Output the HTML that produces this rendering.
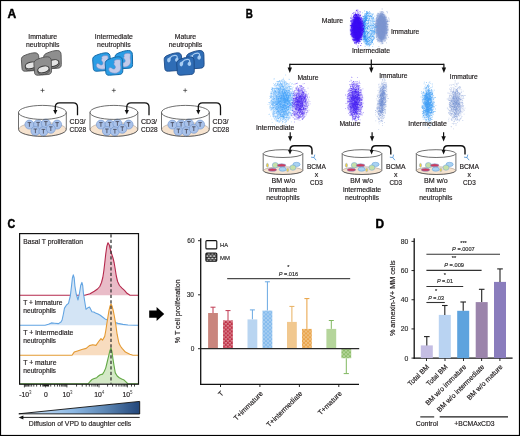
<!DOCTYPE html><html><head><meta charset="utf-8"><title>Figure</title><style>html,body{margin:0;padding:0;background:#fff;width:520px;height:436px;overflow:hidden}svg{display:block;will-change:transform}text{font-family:"Liberation Sans",sans-serif}</style></head><body><svg width="520" height="436" viewBox="0 0 520 436" font-family='"Liberation Sans", sans-serif' stroke-width="0.18"><defs><filter id="bl2" x="-50%" y="-50%" width="200%" height="200%"><feGaussianBlur stdDeviation="1.0"/></filter><filter id="bl3" x="-50%" y="-50%" width="200%" height="200%"><feGaussianBlur stdDeviation="2.5"/></filter><linearGradient id="wg" x1="0" y1="0" x2="1" y2="0"><stop offset="0" stop-color="#ffffff"/><stop offset="0.1" stop-color="#c6ddf4"/><stop offset="0.45" stop-color="#8cb8e4"/><stop offset="0.72" stop-color="#5b85b3"/><stop offset="1" stop-color="#22467a"/></linearGradient><pattern id="pr" width="4.0" height="3.8" patternUnits="userSpaceOnUse" x="0" y="0"><rect width="4.0" height="3.8" fill="#b81d37"/><rect x="0.55" y="0.3" width="2.7" height="1.1" fill="#eab0b4"/><rect x="2.55" y="2.1999999999999997" width="2.7" height="1.1" fill="#eab0b4"/><rect x="-1.45" y="2.1999999999999997" width="2.7" height="1.1" fill="#eab0b4"/></pattern><pattern id="pb" width="4.0" height="3.8" patternUnits="userSpaceOnUse" x="0" y="0"><rect width="4.0" height="3.8" fill="#6caeea"/><rect x="0.55" y="0.3" width="2.9" height="1.25" fill="#c4def6"/><rect x="2.55" y="2.1999999999999997" width="2.9" height="1.25" fill="#c4def6"/><rect x="-1.45" y="2.1999999999999997" width="2.9" height="1.25" fill="#c4def6"/></pattern><pattern id="po" width="4.0" height="3.8" patternUnits="userSpaceOnUse" x="0" y="0"><rect width="4.0" height="3.8" fill="#e3902a"/><rect x="0.55" y="0.3" width="2.9" height="1.25" fill="#f8d8a6"/><rect x="2.55" y="2.1999999999999997" width="2.9" height="1.25" fill="#f8d8a6"/><rect x="-1.45" y="2.1999999999999997" width="2.9" height="1.25" fill="#f8d8a6"/></pattern><pattern id="pg" width="4.0" height="3.8" patternUnits="userSpaceOnUse" x="0" y="0"><rect width="4.0" height="3.8" fill="#72ac48"/><rect x="0.55" y="0.3" width="2.9" height="1.25" fill="#d4eac2"/><rect x="2.55" y="2.1999999999999997" width="2.9" height="1.25" fill="#d4eac2"/><rect x="-1.45" y="2.1999999999999997" width="2.9" height="1.25" fill="#d4eac2"/></pattern><pattern id="pk" width="3.6" height="4.4" patternUnits="userSpaceOnUse" x="0" y="0"><rect width="3.6" height="4.4" fill="#1a1a1a"/><rect x="0.55" y="0.3" width="2.5" height="1.2" fill="#ffffff"/><rect x="2.35" y="2.5" width="2.5" height="1.2" fill="#ffffff"/><rect x="-1.25" y="2.5" width="2.5" height="1.2" fill="#ffffff"/></pattern></defs><rect width="520" height="436" fill="#fff"/><rect x="0.5" y="0.5" width="519" height="435" fill="none" stroke="#000" stroke-width="1.2"/>
<text x="7.50" y="18.00" font-size="12.4" fill="#000" stroke="#000" stroke-width="0.45" text-anchor="start" font-weight="bold" textLength="8.70" lengthAdjust="spacingAndGlyphs">A</text>
<text x="245.80" y="17.90" font-size="12.4" fill="#000" stroke="#000" stroke-width="0.45" text-anchor="start" font-weight="bold" textLength="7.10" lengthAdjust="spacingAndGlyphs">B</text>
<text x="7.50" y="227.90" font-size="12.4" fill="#000" stroke="#000" stroke-width="0.45" text-anchor="start" font-weight="bold" textLength="7.70" lengthAdjust="spacingAndGlyphs">C</text>
<text x="375.50" y="227.90" font-size="12.4" fill="#000" stroke="#000" stroke-width="0.45" text-anchor="start" font-weight="bold" textLength="8.60" lengthAdjust="spacingAndGlyphs">D</text>
<text x="28.30" y="38.70" font-size="7" fill="#231f20" stroke="#231f20" stroke-width="0.18" text-anchor="start" textLength="28.80" lengthAdjust="spacingAndGlyphs">Immature</text>
<text x="26.00" y="46.80" font-size="7" fill="#231f20" stroke="#231f20" stroke-width="0.18" text-anchor="start" textLength="33.40" lengthAdjust="spacingAndGlyphs">neutrophils</text>
<text x="94.80" y="38.60" font-size="7" fill="#231f20" stroke="#231f20" stroke-width="0.18" text-anchor="start" textLength="38.10" lengthAdjust="spacingAndGlyphs">Intermediate</text>
<text x="97.10" y="46.80" font-size="7" fill="#231f20" stroke="#231f20" stroke-width="0.18" text-anchor="start" textLength="33.50" lengthAdjust="spacingAndGlyphs">neutrophils</text>
<text x="174.80" y="38.60" font-size="7" fill="#231f20" stroke="#231f20" stroke-width="0.18" text-anchor="start" textLength="21.20" lengthAdjust="spacingAndGlyphs">Mature</text>
<text x="168.80" y="46.80" font-size="7" fill="#231f20" stroke="#231f20" stroke-width="0.18" text-anchor="start" textLength="33.50" lengthAdjust="spacingAndGlyphs">neutrophils</text>
<g transform="translate(21.00,52.60)"><path d="M0.4,7.2 C0.2,4.8 1.6,3.6 4.4,2.5 C7.6,1.2 11.0,0.2 14.0,0.2 C16.6,0.3 17.7,1.8 17.8,4.4 L18.0,14.2 C18.0,16.7 16.8,17.7 14.4,17.9 L4.7,18.6 C2.1,18.8 1.1,17.8 1.0,15.6 Z" fill="#8e8e8e" stroke="#505050" stroke-width="0.9"/><ellipse cx="10.3" cy="14.5" rx="5.9" ry="3.3" transform="rotate(-14 10.3 14.5)" fill="#858585" stroke="#4a4a4a" stroke-width="0.8"/><ellipse cx="9.9" cy="12.8" rx="5.8" ry="3.2" transform="rotate(-14 9.9 12.8)" fill="#e4e4e4" stroke="#3a3a3a" stroke-width="1.0"/></g>
<g transform="translate(43.30,50.30)"><path d="M0.4,7.2 C0.2,4.8 1.6,3.6 4.4,2.5 C7.6,1.2 11.0,0.2 14.0,0.2 C16.6,0.3 17.7,1.8 17.8,4.4 L18.0,14.2 C18.0,16.7 16.8,17.7 14.4,17.9 L4.7,18.6 C2.1,18.8 1.1,17.8 1.0,15.6 Z" fill="#8e8e8e" stroke="#505050" stroke-width="0.9"/><ellipse cx="10.3" cy="14.5" rx="5.9" ry="3.3" transform="rotate(-14 10.3 14.5)" fill="#858585" stroke="#4a4a4a" stroke-width="0.8"/><ellipse cx="9.9" cy="12.8" rx="5.8" ry="3.2" transform="rotate(-14 9.9 12.8)" fill="#e4e4e4" stroke="#3a3a3a" stroke-width="1.0"/></g>
<g transform="translate(33.50,56.60)"><path d="M0.4,7.2 C0.2,4.8 1.6,3.6 4.4,2.5 C7.6,1.2 11.0,0.2 14.0,0.2 C16.6,0.3 17.7,1.8 17.8,4.4 L18.0,14.2 C18.0,16.7 16.8,17.7 14.4,17.9 L4.7,18.6 C2.1,18.8 1.1,17.8 1.0,15.6 Z" fill="#8e8e8e" stroke="#505050" stroke-width="0.9"/><ellipse cx="10.3" cy="14.5" rx="5.9" ry="3.3" transform="rotate(-14 10.3 14.5)" fill="#858585" stroke="#4a4a4a" stroke-width="0.8"/><ellipse cx="9.9" cy="12.8" rx="5.8" ry="3.2" transform="rotate(-14 9.9 12.8)" fill="#e4e4e4" stroke="#3a3a3a" stroke-width="1.0"/></g>
<g transform="translate(92.30,52.60)"><path d="M0.4,7.2 C0.2,4.8 1.6,3.6 4.4,2.5 C7.6,1.2 11.0,0.2 14.0,0.2 C16.6,0.3 17.7,1.8 17.8,4.4 L18.0,14.2 C18.0,16.7 16.8,17.7 14.4,17.9 L4.7,18.6 C2.1,18.8 1.1,17.8 1.0,15.6 Z" fill="#2a9de5" stroke="#176aa8" stroke-width="1.0"/><path d="M9.6,4.2 C10.2,3.2 12.4,2.8 14.4,3.0 C15.6,3.2 16.0,4.2 15.8,5.4 C15.6,6.8 15.4,7.8 15.9,9.6 C16.6,12.2 15.2,15.4 12.0,16.4 C9.2,17.2 5.8,16.2 4.4,14.4 C3.6,13.2 3.8,11.4 5.0,10.9 C6.2,10.5 7.0,11.6 8.0,12.2 C9.0,12.8 10.4,12.2 10.6,10.8 C10.8,9.6 9.6,8.8 9.0,7.6 C8.8,7.0 9.6,6.6 9.6,6.0 C9.6,5.4 9.0,5.0 9.6,4.2 Z" fill="#c2cbea" stroke="#6a84c2" stroke-width="0.55"/></g>
<g transform="translate(114.60,50.30)"><path d="M0.4,7.2 C0.2,4.8 1.6,3.6 4.4,2.5 C7.6,1.2 11.0,0.2 14.0,0.2 C16.6,0.3 17.7,1.8 17.8,4.4 L18.0,14.2 C18.0,16.7 16.8,17.7 14.4,17.9 L4.7,18.6 C2.1,18.8 1.1,17.8 1.0,15.6 Z" fill="#2a9de5" stroke="#176aa8" stroke-width="1.0"/><path d="M9.6,4.2 C10.2,3.2 12.4,2.8 14.4,3.0 C15.6,3.2 16.0,4.2 15.8,5.4 C15.6,6.8 15.4,7.8 15.9,9.6 C16.6,12.2 15.2,15.4 12.0,16.4 C9.2,17.2 5.8,16.2 4.4,14.4 C3.6,13.2 3.8,11.4 5.0,10.9 C6.2,10.5 7.0,11.6 8.0,12.2 C9.0,12.8 10.4,12.2 10.6,10.8 C10.8,9.6 9.6,8.8 9.0,7.6 C8.8,7.0 9.6,6.6 9.6,6.0 C9.6,5.4 9.0,5.0 9.6,4.2 Z" fill="#c2cbea" stroke="#6a84c2" stroke-width="0.55"/></g>
<g transform="translate(104.80,56.60)"><path d="M0.4,7.2 C0.2,4.8 1.6,3.6 4.4,2.5 C7.6,1.2 11.0,0.2 14.0,0.2 C16.6,0.3 17.7,1.8 17.8,4.4 L18.0,14.2 C18.0,16.7 16.8,17.7 14.4,17.9 L4.7,18.6 C2.1,18.8 1.1,17.8 1.0,15.6 Z" fill="#2a9de5" stroke="#176aa8" stroke-width="1.0"/><path d="M9.6,4.2 C10.2,3.2 12.4,2.8 14.4,3.0 C15.6,3.2 16.0,4.2 15.8,5.4 C15.6,6.8 15.4,7.8 15.9,9.6 C16.6,12.2 15.2,15.4 12.0,16.4 C9.2,17.2 5.8,16.2 4.4,14.4 C3.6,13.2 3.8,11.4 5.0,10.9 C6.2,10.5 7.0,11.6 8.0,12.2 C9.0,12.8 10.4,12.2 10.6,10.8 C10.8,9.6 9.6,8.8 9.0,7.6 C8.8,7.0 9.6,6.6 9.6,6.0 C9.6,5.4 9.0,5.0 9.6,4.2 Z" fill="#c2cbea" stroke="#6a84c2" stroke-width="0.55"/></g>
<g transform="translate(163.80,52.60)"><path d="M0.4,7.2 C0.2,4.8 1.6,3.6 4.4,2.5 C7.6,1.2 11.0,0.2 14.0,0.2 C16.6,0.3 17.7,1.8 17.8,4.4 L18.0,14.2 C18.0,16.7 16.8,17.7 14.4,17.9 L4.7,18.6 C2.1,18.8 1.1,17.8 1.0,15.6 Z" fill="#2f6db6" stroke="#1b4884" stroke-width="0.9"/><path d="M6.2,5.2 C7.4,3.6 9.3,2.8 11.2,2.8 C12.6,2.8 13.6,3.4 13.4,5.0" fill="none" stroke="#a9cdf2" stroke-width="1.15" stroke-linecap="round"/><path d="M6.7,4.6 C7.3,6.6 6.8,9.4 5.0,10.0 C3.2,9.4 3.0,7.2 3.7,5.8 C4.6,5.1 5.7,4.8 6.7,4.6 Z" fill="#a9cdf2"/><path d="M13.5,4.8 C15.3,5.8 15.4,8.6 13.2,9.4 C11.0,9.0 10.7,6.8 12.0,5.6 C12.5,5.2 13.0,5.0 13.5,4.8 Z" fill="#a9cdf2"/></g>
<g transform="translate(186.10,50.30)"><path d="M0.4,7.2 C0.2,4.8 1.6,3.6 4.4,2.5 C7.6,1.2 11.0,0.2 14.0,0.2 C16.6,0.3 17.7,1.8 17.8,4.4 L18.0,14.2 C18.0,16.7 16.8,17.7 14.4,17.9 L4.7,18.6 C2.1,18.8 1.1,17.8 1.0,15.6 Z" fill="#2f6db6" stroke="#1b4884" stroke-width="0.9"/><path d="M6.2,5.2 C7.4,3.6 9.3,2.8 11.2,2.8 C12.6,2.8 13.6,3.4 13.4,5.0" fill="none" stroke="#a9cdf2" stroke-width="1.15" stroke-linecap="round"/><path d="M6.7,4.6 C7.3,6.6 6.8,9.4 5.0,10.0 C3.2,9.4 3.0,7.2 3.7,5.8 C4.6,5.1 5.7,4.8 6.7,4.6 Z" fill="#a9cdf2"/><path d="M13.5,4.8 C15.3,5.8 15.4,8.6 13.2,9.4 C11.0,9.0 10.7,6.8 12.0,5.6 C12.5,5.2 13.0,5.0 13.5,4.8 Z" fill="#a9cdf2"/></g>
<g transform="translate(176.30,56.60)"><path d="M0.4,7.2 C0.2,4.8 1.6,3.6 4.4,2.5 C7.6,1.2 11.0,0.2 14.0,0.2 C16.6,0.3 17.7,1.8 17.8,4.4 L18.0,14.2 C18.0,16.7 16.8,17.7 14.4,17.9 L4.7,18.6 C2.1,18.8 1.1,17.8 1.0,15.6 Z" fill="#2f6db6" stroke="#1b4884" stroke-width="0.9"/><path d="M6.2,5.2 C7.4,3.6 9.3,2.8 11.2,2.8 C12.6,2.8 13.6,3.4 13.4,5.0" fill="none" stroke="#a9cdf2" stroke-width="1.15" stroke-linecap="round"/><path d="M6.7,4.6 C7.3,6.6 6.8,9.4 5.0,10.0 C3.2,9.4 3.0,7.2 3.7,5.8 C4.6,5.1 5.7,4.8 6.7,4.6 Z" fill="#a9cdf2"/><path d="M13.5,4.8 C15.3,5.8 15.4,8.6 13.2,9.4 C11.0,9.0 10.7,6.8 12.0,5.6 C12.5,5.2 13.0,5.0 13.5,4.8 Z" fill="#a9cdf2"/></g>
<line x1="40.50" y1="90.40" x2="44.50" y2="90.40" stroke="#333" stroke-width="0.7"/>
<line x1="42.50" y1="88.40" x2="42.50" y2="92.40" stroke="#333" stroke-width="0.7"/>
<line x1="111.80" y1="90.40" x2="115.80" y2="90.40" stroke="#333" stroke-width="0.7"/>
<line x1="113.80" y1="88.40" x2="113.80" y2="92.40" stroke="#333" stroke-width="0.7"/>
<line x1="183.20" y1="90.40" x2="187.20" y2="90.40" stroke="#333" stroke-width="0.7"/>
<line x1="185.20" y1="88.40" x2="185.20" y2="92.40" stroke="#333" stroke-width="0.7"/>
<ellipse cx="42.40" cy="129.4" rx="23.599999999999998" ry="7.0" fill="#f6e3cf" stroke="#9a8f86" stroke-width="0.5"/>
<circle cx="29.40" cy="124.6" r="4.5" fill="#a9c2ea" stroke="#6f93cc" stroke-width="0.6"/>
<path d="M27.60,122.6 h3.6 M29.40,122.6 v4.2" stroke="#3c3c4c" stroke-width="0.75" fill="none"/>
<circle cx="38.10" cy="124.4" r="4.5" fill="#a9c2ea" stroke="#6f93cc" stroke-width="0.6"/>
<path d="M36.30,122.4 h3.6 M38.10,122.4 v4.2" stroke="#3c3c4c" stroke-width="0.75" fill="none"/>
<circle cx="45.90" cy="123.6" r="4.5" fill="#a9c2ea" stroke="#6f93cc" stroke-width="0.6"/>
<path d="M44.10,121.6 h3.6 M45.90,121.6 v4.2" stroke="#3c3c4c" stroke-width="0.75" fill="none"/>
<circle cx="57.10" cy="124.6" r="4.5" fill="#a9c2ea" stroke="#6f93cc" stroke-width="0.6"/>
<path d="M55.30,122.6 h3.6 M57.10,122.6 v4.2" stroke="#3c3c4c" stroke-width="0.75" fill="none"/>
<circle cx="35.40" cy="131.0" r="4.5" fill="#a9c2ea" stroke="#6f93cc" stroke-width="0.6"/>
<path d="M33.60,129.0 h3.6 M35.40,129.0 v4.2" stroke="#3c3c4c" stroke-width="0.75" fill="none"/>
<circle cx="43.40" cy="131.4" r="4.5" fill="#a9c2ea" stroke="#6f93cc" stroke-width="0.6"/>
<path d="M41.60,129.4 h3.6 M43.40,129.4 v4.2" stroke="#3c3c4c" stroke-width="0.75" fill="none"/>
<circle cx="50.80" cy="128.8" r="4.5" fill="#a9c2ea" stroke="#6f93cc" stroke-width="0.6"/>
<path d="M49.00,126.80000000000001 h3.6 M50.80,126.80000000000001 v4.2" stroke="#3c3c4c" stroke-width="0.75" fill="none"/>
<path d="M18.50,112.4 L18.50,129.4 A23.9,7.0 0 0 0 66.30,129.4 L66.30,112.4" fill="none" stroke="#4a4a4a" stroke-width="0.8"/>
<ellipse cx="42.40" cy="112.4" rx="23.9" ry="7.0" fill="none" stroke="#4a4a4a" stroke-width="0.8"/>
<path d="M77.50,115.2 L77.50,107.10000000000001 Q77.50,102.9 73.30,102.9 L59.50,102.9 Q55.30,102.9 55.30,107.10000000000001 L55.30,110.5" fill="none" stroke="#111" stroke-width="1.3"/>
<path d="M53.20,110.0 L57.40,110.0 L55.30,114.6 Z" fill="#111"/>
<text x="69.50" y="123.70" font-size="7" fill="#231f20" stroke="#231f20" stroke-width="0.18" text-anchor="start" textLength="16.00" lengthAdjust="spacingAndGlyphs">CD3/</text>
<text x="69.50" y="131.90" font-size="7" fill="#231f20" stroke="#231f20" stroke-width="0.18" text-anchor="start" textLength="16.60" lengthAdjust="spacingAndGlyphs">CD28</text>
<ellipse cx="113.90" cy="129.4" rx="23.599999999999998" ry="7.0" fill="#f6e3cf" stroke="#9a8f86" stroke-width="0.5"/>
<circle cx="100.90" cy="124.6" r="4.5" fill="#a9c2ea" stroke="#6f93cc" stroke-width="0.6"/>
<path d="M99.10,122.6 h3.6 M100.90,122.6 v4.2" stroke="#3c3c4c" stroke-width="0.75" fill="none"/>
<circle cx="109.60" cy="124.4" r="4.5" fill="#a9c2ea" stroke="#6f93cc" stroke-width="0.6"/>
<path d="M107.80,122.4 h3.6 M109.60,122.4 v4.2" stroke="#3c3c4c" stroke-width="0.75" fill="none"/>
<circle cx="117.40" cy="123.6" r="4.5" fill="#a9c2ea" stroke="#6f93cc" stroke-width="0.6"/>
<path d="M115.60,121.6 h3.6 M117.40,121.6 v4.2" stroke="#3c3c4c" stroke-width="0.75" fill="none"/>
<circle cx="128.60" cy="124.6" r="4.5" fill="#a9c2ea" stroke="#6f93cc" stroke-width="0.6"/>
<path d="M126.80,122.6 h3.6 M128.60,122.6 v4.2" stroke="#3c3c4c" stroke-width="0.75" fill="none"/>
<circle cx="106.90" cy="131.0" r="4.5" fill="#a9c2ea" stroke="#6f93cc" stroke-width="0.6"/>
<path d="M105.10,129.0 h3.6 M106.90,129.0 v4.2" stroke="#3c3c4c" stroke-width="0.75" fill="none"/>
<circle cx="114.90" cy="131.4" r="4.5" fill="#a9c2ea" stroke="#6f93cc" stroke-width="0.6"/>
<path d="M113.10,129.4 h3.6 M114.90,129.4 v4.2" stroke="#3c3c4c" stroke-width="0.75" fill="none"/>
<circle cx="122.30" cy="128.8" r="4.5" fill="#a9c2ea" stroke="#6f93cc" stroke-width="0.6"/>
<path d="M120.50,126.80000000000001 h3.6 M122.30,126.80000000000001 v4.2" stroke="#3c3c4c" stroke-width="0.75" fill="none"/>
<path d="M90.00,112.4 L90.00,129.4 A23.9,7.0 0 0 0 137.80,129.4 L137.80,112.4" fill="none" stroke="#4a4a4a" stroke-width="0.8"/>
<ellipse cx="113.90" cy="112.4" rx="23.9" ry="7.0" fill="none" stroke="#4a4a4a" stroke-width="0.8"/>
<path d="M149.00,115.2 L149.00,107.10000000000001 Q149.00,102.9 144.80,102.9 L131.00,102.9 Q126.80,102.9 126.80,107.10000000000001 L126.80,110.5" fill="none" stroke="#111" stroke-width="1.3"/>
<path d="M124.70,110.0 L128.90,110.0 L126.80,114.6 Z" fill="#111"/>
<text x="141.00" y="123.70" font-size="7" fill="#231f20" stroke="#231f20" stroke-width="0.18" text-anchor="start" textLength="16.00" lengthAdjust="spacingAndGlyphs">CD3/</text>
<text x="141.00" y="131.90" font-size="7" fill="#231f20" stroke="#231f20" stroke-width="0.18" text-anchor="start" textLength="16.60" lengthAdjust="spacingAndGlyphs">CD28</text>
<ellipse cx="185.40" cy="129.4" rx="23.599999999999998" ry="7.0" fill="#f6e3cf" stroke="#9a8f86" stroke-width="0.5"/>
<circle cx="172.40" cy="124.6" r="4.5" fill="#a9c2ea" stroke="#6f93cc" stroke-width="0.6"/>
<path d="M170.60,122.6 h3.6 M172.40,122.6 v4.2" stroke="#3c3c4c" stroke-width="0.75" fill="none"/>
<circle cx="181.10" cy="124.4" r="4.5" fill="#a9c2ea" stroke="#6f93cc" stroke-width="0.6"/>
<path d="M179.30,122.4 h3.6 M181.10,122.4 v4.2" stroke="#3c3c4c" stroke-width="0.75" fill="none"/>
<circle cx="188.90" cy="123.6" r="4.5" fill="#a9c2ea" stroke="#6f93cc" stroke-width="0.6"/>
<path d="M187.10,121.6 h3.6 M188.90,121.6 v4.2" stroke="#3c3c4c" stroke-width="0.75" fill="none"/>
<circle cx="200.10" cy="124.6" r="4.5" fill="#a9c2ea" stroke="#6f93cc" stroke-width="0.6"/>
<path d="M198.30,122.6 h3.6 M200.10,122.6 v4.2" stroke="#3c3c4c" stroke-width="0.75" fill="none"/>
<circle cx="178.40" cy="131.0" r="4.5" fill="#a9c2ea" stroke="#6f93cc" stroke-width="0.6"/>
<path d="M176.60,129.0 h3.6 M178.40,129.0 v4.2" stroke="#3c3c4c" stroke-width="0.75" fill="none"/>
<circle cx="186.40" cy="131.4" r="4.5" fill="#a9c2ea" stroke="#6f93cc" stroke-width="0.6"/>
<path d="M184.60,129.4 h3.6 M186.40,129.4 v4.2" stroke="#3c3c4c" stroke-width="0.75" fill="none"/>
<circle cx="193.80" cy="128.8" r="4.5" fill="#a9c2ea" stroke="#6f93cc" stroke-width="0.6"/>
<path d="M192.00,126.80000000000001 h3.6 M193.80,126.80000000000001 v4.2" stroke="#3c3c4c" stroke-width="0.75" fill="none"/>
<path d="M161.50,112.4 L161.50,129.4 A23.9,7.0 0 0 0 209.30,129.4 L209.30,112.4" fill="none" stroke="#4a4a4a" stroke-width="0.8"/>
<ellipse cx="185.40" cy="112.4" rx="23.9" ry="7.0" fill="none" stroke="#4a4a4a" stroke-width="0.8"/>
<path d="M220.50,115.2 L220.50,107.10000000000001 Q220.50,102.9 216.30,102.9 L202.50,102.9 Q198.30,102.9 198.30,107.10000000000001 L198.30,110.5" fill="none" stroke="#111" stroke-width="1.3"/>
<path d="M196.20,110.0 L200.40,110.0 L198.30,114.6 Z" fill="#111"/>
<text x="212.50" y="123.70" font-size="7" fill="#231f20" stroke="#231f20" stroke-width="0.18" text-anchor="start" textLength="16.00" lengthAdjust="spacingAndGlyphs">CD3/</text>
<text x="212.50" y="131.90" font-size="7" fill="#231f20" stroke="#231f20" stroke-width="0.18" text-anchor="start" textLength="16.60" lengthAdjust="spacingAndGlyphs">CD28</text>
<ellipse cx="381.5" cy="27.5" rx="5.95" ry="14.19" fill="#7d96d0" opacity="1.0" filter="url(#bl2)" transform="rotate(0.0 381.5 27.5)"/>
<path d="M381.1 29.8h0.9v0.9h-0.9zM375.9 22.9h0.9v0.9h-0.9zM378.8 26.0h0.9v0.9h-0.9zM386.6 20.9h0.9v0.9h-0.9zM379.8 23.7h0.9v0.9h-0.9zM379.7 36.6h0.9v0.9h-0.9zM377.1 26.3h0.9v0.9h-0.9zM380.8 24.6h0.9v0.9h-0.9zM378.9 27.1h0.9v0.9h-0.9zM379.0 25.8h0.9v0.9h-0.9zM382.5 21.9h0.9v0.9h-0.9zM384.2 17.8h0.9v0.9h-0.9zM377.2 21.1h0.9v0.9h-0.9zM379.9 37.5h0.9v0.9h-0.9zM378.4 37.0h0.9v0.9h-0.9zM381.0 40.9h0.9v0.9h-0.9zM378.6 41.6h0.9v0.9h-0.9zM378.1 32.3h0.9v0.9h-0.9zM382.0 32.1h0.9v0.9h-0.9zM381.8 26.3h0.9v0.9h-0.9zM380.4 16.6h0.9v0.9h-0.9zM381.7 30.6h0.9v0.9h-0.9zM381.7 11.9h0.9v0.9h-0.9zM380.9 35.1h0.9v0.9h-0.9zM380.9 17.2h0.9v0.9h-0.9zM377.9 20.5h0.9v0.9h-0.9zM383.1 17.3h0.9v0.9h-0.9zM380.9 38.8h0.9v0.9h-0.9zM382.0 27.0h0.9v0.9h-0.9zM382.0 28.3h0.9v0.9h-0.9zM383.1 37.7h0.9v0.9h-0.9zM378.4 30.9h0.9v0.9h-0.9zM380.8 29.8h0.9v0.9h-0.9zM379.0 26.7h0.9v0.9h-0.9zM385.0 31.5h0.9v0.9h-0.9zM384.6 21.3h0.9v0.9h-0.9zM383.4 24.0h0.9v0.9h-0.9zM385.7 31.5h0.9v0.9h-0.9zM382.0 37.1h0.9v0.9h-0.9zM378.4 40.1h0.9v0.9h-0.9zM382.1 28.2h0.9v0.9h-0.9zM378.6 30.4h0.9v0.9h-0.9zM385.8 30.9h0.9v0.9h-0.9zM383.2 20.5h0.9v0.9h-0.9zM384.1 32.1h0.9v0.9h-0.9zM380.7 30.0h0.9v0.9h-0.9zM377.5 26.0h0.9v0.9h-0.9zM381.8 17.4h0.9v0.9h-0.9zM384.5 33.4h0.9v0.9h-0.9zM385.6 23.2h0.9v0.9h-0.9zM385.7 32.4h0.9v0.9h-0.9zM382.5 18.8h0.9v0.9h-0.9zM381.4 18.9h0.9v0.9h-0.9zM382.5 20.5h0.9v0.9h-0.9zM383.3 24.8h0.9v0.9h-0.9zM378.4 35.1h0.9v0.9h-0.9zM380.2 28.6h0.9v0.9h-0.9zM380.2 22.1h0.9v0.9h-0.9zM384.0 17.2h0.9v0.9h-0.9zM386.0 28.3h0.9v0.9h-0.9zM383.1 27.5h0.9v0.9h-0.9zM378.9 29.1h0.9v0.9h-0.9zM381.0 35.1h0.9v0.9h-0.9zM383.6 38.5h0.9v0.9h-0.9zM384.6 23.8h0.9v0.9h-0.9zM382.0 30.9h0.9v0.9h-0.9zM385.9 30.0h0.9v0.9h-0.9zM381.4 28.6h0.9v0.9h-0.9zM382.0 14.2h0.9v0.9h-0.9zM381.3 20.6h0.9v0.9h-0.9zM383.1 32.3h0.9v0.9h-0.9zM376.4 25.4h0.9v0.9h-0.9zM378.2 29.1h0.9v0.9h-0.9zM380.5 18.4h0.9v0.9h-0.9zM382.9 29.1h0.9v0.9h-0.9zM380.7 36.4h0.9v0.9h-0.9zM382.7 34.0h0.9v0.9h-0.9zM382.7 11.4h0.9v0.9h-0.9zM381.5 41.4h0.9v0.9h-0.9zM378.4 27.3h0.9v0.9h-0.9zM374.5 23.7h0.9v0.9h-0.9zM377.1 16.9h0.9v0.9h-0.9zM384.4 19.4h0.9v0.9h-0.9zM383.4 13.9h0.9v0.9h-0.9zM377.8 26.5h0.9v0.9h-0.9zM376.6 14.6h0.9v0.9h-0.9zM381.6 38.2h0.9v0.9h-0.9zM383.6 21.0h0.9v0.9h-0.9zM376.1 25.3h0.9v0.9h-0.9zM380.9 18.0h0.9v0.9h-0.9zM377.4 40.8h0.9v0.9h-0.9zM381.6 31.4h0.9v0.9h-0.9zM386.0 42.4h0.9v0.9h-0.9z" fill="#7d96d0" fill-opacity="0.6"/>
<path d="M380.0 19.0h0.9v0.9h-0.9zM376.2 29.5h0.9v0.9h-0.9zM381.5 27.6h0.9v0.9h-0.9zM381.8 22.8h0.9v0.9h-0.9zM380.1 40.9h0.9v0.9h-0.9zM381.0 32.3h0.9v0.9h-0.9zM381.2 17.5h0.9v0.9h-0.9zM380.4 18.2h0.9v0.9h-0.9zM379.6 24.3h0.9v0.9h-0.9zM376.8 16.0h0.9v0.9h-0.9zM375.7 35.7h0.9v0.9h-0.9zM381.0 34.7h0.9v0.9h-0.9zM377.2 19.0h0.9v0.9h-0.9zM386.2 27.5h0.9v0.9h-0.9zM376.2 25.8h0.9v0.9h-0.9zM378.9 23.5h0.9v0.9h-0.9zM383.0 27.7h0.9v0.9h-0.9zM386.9 24.2h0.9v0.9h-0.9zM378.8 14.8h0.9v0.9h-0.9zM383.3 27.6h0.9v0.9h-0.9zM381.5 16.6h0.9v0.9h-0.9zM379.6 36.4h0.9v0.9h-0.9zM379.6 36.0h0.9v0.9h-0.9zM375.2 27.1h0.9v0.9h-0.9zM380.7 27.5h0.9v0.9h-0.9zM383.3 20.2h0.9v0.9h-0.9zM385.1 17.3h0.9v0.9h-0.9zM378.1 26.5h0.9v0.9h-0.9zM375.8 27.7h0.9v0.9h-0.9zM380.5 23.1h0.9v0.9h-0.9zM384.9 29.2h0.9v0.9h-0.9zM382.6 28.1h0.9v0.9h-0.9zM374.5 23.7h0.9v0.9h-0.9zM380.4 26.6h0.9v0.9h-0.9zM382.9 22.7h0.9v0.9h-0.9zM379.4 38.0h0.9v0.9h-0.9zM383.0 19.0h0.9v0.9h-0.9zM383.6 22.4h0.9v0.9h-0.9zM376.4 22.5h0.9v0.9h-0.9zM380.8 26.4h0.9v0.9h-0.9zM387.0 20.9h0.9v0.9h-0.9zM382.3 41.5h0.9v0.9h-0.9zM382.6 30.8h0.9v0.9h-0.9zM380.9 35.9h0.9v0.9h-0.9zM380.7 19.0h0.9v0.9h-0.9zM385.7 22.6h0.9v0.9h-0.9zM382.8 33.8h0.9v0.9h-0.9zM383.9 28.1h0.9v0.9h-0.9zM381.6 27.7h0.9v0.9h-0.9zM382.6 33.5h0.9v0.9h-0.9zM384.2 24.2h0.9v0.9h-0.9zM377.5 12.8h0.9v0.9h-0.9zM385.0 23.4h0.9v0.9h-0.9zM378.3 25.1h0.9v0.9h-0.9zM384.3 26.7h0.9v0.9h-0.9zM384.4 23.7h0.9v0.9h-0.9zM382.1 25.1h0.9v0.9h-0.9zM383.9 23.4h0.9v0.9h-0.9zM386.2 27.4h0.9v0.9h-0.9zM382.4 32.6h0.9v0.9h-0.9zM377.1 23.7h0.9v0.9h-0.9zM383.5 35.2h0.9v0.9h-0.9zM384.9 26.3h0.9v0.9h-0.9zM379.7 20.9h0.9v0.9h-0.9zM377.5 40.2h0.9v0.9h-0.9zM378.3 34.2h0.9v0.9h-0.9zM378.7 22.2h0.9v0.9h-0.9zM379.0 26.8h0.9v0.9h-0.9zM381.2 25.1h0.9v0.9h-0.9zM381.8 30.8h0.9v0.9h-0.9zM378.6 32.7h0.9v0.9h-0.9zM381.4 18.1h0.9v0.9h-0.9zM377.6 16.6h0.9v0.9h-0.9zM381.4 31.2h0.9v0.9h-0.9zM385.7 27.8h0.9v0.9h-0.9zM380.9 25.5h0.9v0.9h-0.9zM386.0 21.0h0.9v0.9h-0.9zM382.5 26.0h0.9v0.9h-0.9zM382.3 18.8h0.9v0.9h-0.9zM384.2 22.6h0.9v0.9h-0.9zM380.9 28.0h0.9v0.9h-0.9zM377.7 19.2h0.9v0.9h-0.9zM380.2 37.4h0.9v0.9h-0.9zM380.6 26.4h0.9v0.9h-0.9zM385.6 17.4h0.9v0.9h-0.9zM377.2 26.9h0.9v0.9h-0.9zM385.8 26.1h0.9v0.9h-0.9zM383.7 24.9h0.9v0.9h-0.9zM377.5 40.3h0.9v0.9h-0.9zM378.4 46.2h0.9v0.9h-0.9zM387.9 36.8h0.9v0.9h-0.9zM381.7 11.0h0.9v0.9h-0.9zM378.5 23.3h0.9v0.9h-0.9z" fill="#7d96d0" fill-opacity="0.6"/>
<path d="M379.3 18.1h0.9v0.9h-0.9zM381.7 25.4h0.9v0.9h-0.9zM376.3 27.7h0.9v0.9h-0.9zM381.5 16.3h0.9v0.9h-0.9zM379.4 24.3h0.9v0.9h-0.9zM376.1 30.2h0.9v0.9h-0.9zM382.1 19.3h0.9v0.9h-0.9zM385.3 22.1h0.9v0.9h-0.9zM375.7 19.7h0.9v0.9h-0.9zM386.2 22.4h0.9v0.9h-0.9zM384.8 25.8h0.9v0.9h-0.9zM382.0 27.5h0.9v0.9h-0.9zM381.8 19.9h0.9v0.9h-0.9zM376.5 18.5h0.9v0.9h-0.9zM381.0 15.0h0.9v0.9h-0.9zM384.8 35.4h0.9v0.9h-0.9zM379.7 17.0h0.9v0.9h-0.9zM378.7 28.8h0.9v0.9h-0.9zM381.2 40.5h0.9v0.9h-0.9zM374.6 30.6h0.9v0.9h-0.9zM385.3 36.7h0.9v0.9h-0.9zM381.9 16.0h0.9v0.9h-0.9zM376.2 36.8h0.9v0.9h-0.9zM378.5 18.2h0.9v0.9h-0.9zM384.7 18.8h0.9v0.9h-0.9zM382.7 18.2h0.9v0.9h-0.9zM380.0 13.4h0.9v0.9h-0.9zM378.7 20.3h0.9v0.9h-0.9zM375.9 21.5h0.9v0.9h-0.9zM383.2 11.9h0.9v0.9h-0.9zM382.5 13.5h0.9v0.9h-0.9zM384.9 20.0h0.9v0.9h-0.9zM378.7 19.2h0.9v0.9h-0.9zM381.8 39.2h0.9v0.9h-0.9zM385.0 24.9h0.9v0.9h-0.9zM381.3 29.0h0.9v0.9h-0.9zM379.7 17.8h0.9v0.9h-0.9zM383.2 33.3h0.9v0.9h-0.9zM382.4 13.3h0.9v0.9h-0.9zM379.9 27.9h0.9v0.9h-0.9zM381.4 22.3h0.9v0.9h-0.9zM380.3 13.1h0.9v0.9h-0.9zM375.4 25.6h0.9v0.9h-0.9zM379.3 19.4h0.9v0.9h-0.9zM383.5 21.8h0.9v0.9h-0.9zM374.3 24.5h0.9v0.9h-0.9zM379.4 29.8h0.9v0.9h-0.9zM381.4 41.1h0.9v0.9h-0.9zM385.0 22.9h0.9v0.9h-0.9zM378.6 30.3h0.9v0.9h-0.9zM383.6 34.2h0.9v0.9h-0.9zM380.9 31.6h0.9v0.9h-0.9zM382.8 19.6h0.9v0.9h-0.9zM382.1 14.1h0.9v0.9h-0.9zM379.9 35.0h0.9v0.9h-0.9zM383.9 21.3h0.9v0.9h-0.9zM381.0 20.6h0.9v0.9h-0.9zM379.4 16.1h0.9v0.9h-0.9zM378.2 22.6h0.9v0.9h-0.9zM378.7 17.4h0.9v0.9h-0.9zM381.2 31.6h0.9v0.9h-0.9zM379.1 35.4h0.9v0.9h-0.9zM380.3 19.5h0.9v0.9h-0.9zM379.8 29.6h0.9v0.9h-0.9zM383.6 29.0h0.9v0.9h-0.9zM379.2 18.7h0.9v0.9h-0.9zM383.0 32.3h0.9v0.9h-0.9zM382.0 18.8h0.9v0.9h-0.9zM385.9 32.0h0.9v0.9h-0.9zM378.4 35.3h0.9v0.9h-0.9zM379.8 30.8h0.9v0.9h-0.9zM380.4 26.1h0.9v0.9h-0.9zM378.3 33.4h0.9v0.9h-0.9zM375.6 19.7h0.9v0.9h-0.9zM377.4 31.9h0.9v0.9h-0.9zM377.8 18.8h0.9v0.9h-0.9zM382.7 19.0h0.9v0.9h-0.9zM381.7 40.7h0.9v0.9h-0.9zM380.8 38.5h0.9v0.9h-0.9zM382.5 38.4h0.9v0.9h-0.9zM376.6 33.0h0.9v0.9h-0.9zM382.2 18.8h0.9v0.9h-0.9zM379.1 28.8h0.9v0.9h-0.9zM384.4 23.5h0.9v0.9h-0.9zM386.9 34.7h0.9v0.9h-0.9zM383.3 32.2h0.9v0.9h-0.9zM386.6 28.5h0.9v0.9h-0.9zM384.2 18.6h0.9v0.9h-0.9zM386.9 12.3h0.9v0.9h-0.9zM378.3 30.3h0.9v0.9h-0.9zM378.1 25.5h0.9v0.9h-0.9zM381.6 11.6h0.9v0.9h-0.9zM376.4 20.1h0.9v0.9h-0.9z" fill="#7d96d0" fill-opacity="0.6"/>
<path d="M381.3 39.2h0.9v0.9h-0.9zM380.9 28.1h0.9v0.9h-0.9zM384.4 28.1h0.9v0.9h-0.9zM378.8 25.3h0.9v0.9h-0.9zM382.4 26.0h0.9v0.9h-0.9zM379.9 18.9h0.9v0.9h-0.9zM384.8 28.8h0.9v0.9h-0.9zM380.9 19.9h0.9v0.9h-0.9zM387.4 21.0h0.9v0.9h-0.9zM382.2 26.7h0.9v0.9h-0.9zM383.1 34.1h0.9v0.9h-0.9zM380.1 27.4h0.9v0.9h-0.9zM382.4 30.1h0.9v0.9h-0.9zM385.4 28.5h0.9v0.9h-0.9zM379.3 34.1h0.9v0.9h-0.9zM383.6 28.0h0.9v0.9h-0.9zM380.8 35.0h0.9v0.9h-0.9zM381.0 18.0h0.9v0.9h-0.9zM384.7 18.5h0.9v0.9h-0.9zM384.3 33.5h0.9v0.9h-0.9zM385.2 22.7h0.9v0.9h-0.9zM377.5 34.4h0.9v0.9h-0.9zM382.3 17.6h0.9v0.9h-0.9zM384.3 22.3h0.9v0.9h-0.9zM380.9 11.4h0.9v0.9h-0.9zM382.0 26.8h0.9v0.9h-0.9zM377.3 39.6h0.9v0.9h-0.9zM380.8 17.6h0.9v0.9h-0.9zM381.4 28.4h0.9v0.9h-0.9zM382.8 29.3h0.9v0.9h-0.9zM376.1 21.3h0.9v0.9h-0.9zM380.8 33.7h0.9v0.9h-0.9zM384.5 30.5h0.9v0.9h-0.9zM380.9 40.4h0.9v0.9h-0.9zM385.3 18.8h0.9v0.9h-0.9zM387.0 25.9h0.9v0.9h-0.9zM385.4 26.8h0.9v0.9h-0.9zM380.3 31.0h0.9v0.9h-0.9zM382.2 26.1h0.9v0.9h-0.9zM379.4 26.3h0.9v0.9h-0.9zM378.5 22.2h0.9v0.9h-0.9zM378.1 18.7h0.9v0.9h-0.9zM380.1 28.9h0.9v0.9h-0.9zM384.1 16.6h0.9v0.9h-0.9zM376.5 19.8h0.9v0.9h-0.9zM381.1 28.0h0.9v0.9h-0.9zM380.0 28.1h0.9v0.9h-0.9zM376.0 36.6h0.9v0.9h-0.9zM378.3 25.3h0.9v0.9h-0.9zM380.9 22.2h0.9v0.9h-0.9zM383.9 26.4h0.9v0.9h-0.9zM385.0 25.8h0.9v0.9h-0.9zM382.4 30.6h0.9v0.9h-0.9zM383.6 14.6h0.9v0.9h-0.9zM379.7 19.9h0.9v0.9h-0.9zM385.6 16.6h0.9v0.9h-0.9zM381.6 29.1h0.9v0.9h-0.9zM380.9 18.9h0.9v0.9h-0.9zM378.4 28.5h0.9v0.9h-0.9zM381.3 18.5h0.9v0.9h-0.9zM378.8 24.8h0.9v0.9h-0.9zM385.6 37.4h0.9v0.9h-0.9zM382.6 24.8h0.9v0.9h-0.9zM383.5 37.8h0.9v0.9h-0.9zM384.6 36.7h0.9v0.9h-0.9zM381.7 34.0h0.9v0.9h-0.9zM386.4 30.8h0.9v0.9h-0.9zM381.8 34.7h0.9v0.9h-0.9zM377.3 39.2h0.9v0.9h-0.9zM380.2 24.1h0.9v0.9h-0.9zM380.0 33.9h0.9v0.9h-0.9zM380.9 38.0h0.9v0.9h-0.9zM379.8 34.3h0.9v0.9h-0.9zM377.4 33.8h0.9v0.9h-0.9zM380.8 17.6h0.9v0.9h-0.9zM377.2 23.5h0.9v0.9h-0.9zM378.4 21.3h0.9v0.9h-0.9zM380.3 23.2h0.9v0.9h-0.9zM384.8 27.1h0.9v0.9h-0.9zM383.6 27.2h0.9v0.9h-0.9zM376.2 25.0h0.9v0.9h-0.9zM381.5 30.8h0.9v0.9h-0.9zM377.0 19.5h0.9v0.9h-0.9zM379.4 24.7h0.9v0.9h-0.9zM379.3 34.2h0.9v0.9h-0.9zM377.2 19.9h0.9v0.9h-0.9zM381.4 18.7h0.9v0.9h-0.9zM377.9 20.6h0.9v0.9h-0.9zM382.7 29.3h0.9v0.9h-0.9zM388.8 18.7h0.9v0.9h-0.9zM386.9 21.2h0.9v0.9h-0.9zM386.7 24.3h0.9v0.9h-0.9zM374.2 38.0h0.9v0.9h-0.9z" fill="#7d96d0" fill-opacity="0.6"/>
<path d="M379.2 21.4h0.9v0.9h-0.9zM375.2 22.7h0.9v0.9h-0.9zM384.0 16.2h0.9v0.9h-0.9zM384.5 37.4h0.9v0.9h-0.9zM380.3 16.9h0.9v0.9h-0.9zM377.8 21.4h0.9v0.9h-0.9zM381.4 21.7h0.9v0.9h-0.9zM378.6 15.5h0.9v0.9h-0.9zM377.0 30.1h0.9v0.9h-0.9zM379.4 22.4h0.9v0.9h-0.9zM384.3 35.4h0.9v0.9h-0.9zM377.7 13.3h0.9v0.9h-0.9zM384.5 26.2h0.9v0.9h-0.9zM381.2 26.6h0.9v0.9h-0.9zM382.0 26.5h0.9v0.9h-0.9zM381.9 24.8h0.9v0.9h-0.9zM379.5 25.0h0.9v0.9h-0.9zM380.1 25.2h0.9v0.9h-0.9zM377.8 22.5h0.9v0.9h-0.9zM380.5 11.5h0.9v0.9h-0.9zM383.0 25.9h0.9v0.9h-0.9zM386.2 32.5h0.9v0.9h-0.9zM379.1 22.9h0.9v0.9h-0.9zM386.8 20.0h0.9v0.9h-0.9zM383.6 17.2h0.9v0.9h-0.9zM381.7 27.5h0.9v0.9h-0.9zM384.2 23.4h0.9v0.9h-0.9zM383.4 26.1h0.9v0.9h-0.9zM380.4 23.2h0.9v0.9h-0.9zM382.1 30.5h0.9v0.9h-0.9zM385.9 23.7h0.9v0.9h-0.9zM383.3 36.8h0.9v0.9h-0.9zM378.7 26.9h0.9v0.9h-0.9zM377.3 25.4h0.9v0.9h-0.9zM377.8 28.9h0.9v0.9h-0.9zM377.3 28.1h0.9v0.9h-0.9zM378.2 23.9h0.9v0.9h-0.9zM383.7 24.0h0.9v0.9h-0.9zM379.8 26.4h0.9v0.9h-0.9zM376.9 23.7h0.9v0.9h-0.9zM383.6 32.6h0.9v0.9h-0.9zM376.4 31.0h0.9v0.9h-0.9zM381.5 16.1h0.9v0.9h-0.9zM379.2 26.8h0.9v0.9h-0.9zM386.6 29.0h0.9v0.9h-0.9zM386.1 29.9h0.9v0.9h-0.9zM380.5 16.7h0.9v0.9h-0.9zM380.9 39.8h0.9v0.9h-0.9zM385.6 21.2h0.9v0.9h-0.9zM379.2 27.7h0.9v0.9h-0.9zM382.8 33.0h0.9v0.9h-0.9zM385.1 27.2h0.9v0.9h-0.9zM382.5 43.2h0.9v0.9h-0.9zM382.2 24.1h0.9v0.9h-0.9zM380.0 14.5h0.9v0.9h-0.9zM384.4 37.6h0.9v0.9h-0.9zM377.5 21.2h0.9v0.9h-0.9zM380.4 36.5h0.9v0.9h-0.9zM378.3 37.4h0.9v0.9h-0.9zM380.8 27.9h0.9v0.9h-0.9zM379.7 29.0h0.9v0.9h-0.9zM386.4 25.7h0.9v0.9h-0.9zM380.9 13.5h0.9v0.9h-0.9zM385.7 37.8h0.9v0.9h-0.9zM378.4 22.9h0.9v0.9h-0.9zM378.6 30.1h0.9v0.9h-0.9zM381.7 13.6h0.9v0.9h-0.9zM380.8 34.1h0.9v0.9h-0.9zM376.3 25.1h0.9v0.9h-0.9zM387.6 24.0h0.9v0.9h-0.9zM384.7 38.3h0.9v0.9h-0.9zM378.0 24.0h0.9v0.9h-0.9zM382.2 29.6h0.9v0.9h-0.9zM379.7 40.3h0.9v0.9h-0.9zM379.7 22.4h0.9v0.9h-0.9zM379.4 33.8h0.9v0.9h-0.9zM380.5 28.4h0.9v0.9h-0.9zM381.5 22.9h0.9v0.9h-0.9zM381.2 26.0h0.9v0.9h-0.9zM379.6 33.9h0.9v0.9h-0.9zM386.2 20.6h0.9v0.9h-0.9zM378.2 28.3h0.9v0.9h-0.9zM379.5 22.2h0.9v0.9h-0.9zM380.2 30.7h0.9v0.9h-0.9zM376.1 23.3h0.9v0.9h-0.9zM377.5 31.1h0.9v0.9h-0.9zM379.9 34.1h0.9v0.9h-0.9zM388.8 20.8h0.9v0.9h-0.9zM384.4 19.1h0.9v0.9h-0.9zM386.5 11.1h0.9v0.9h-0.9zM386.4 38.7h0.9v0.9h-0.9zM384.8 40.5h0.9v0.9h-0.9zM379.8 29.9h0.9v0.9h-0.9z" fill="#7d96d0" fill-opacity="0.6"/>
<path d="M382.9 30.3h0.9v0.9h-0.9zM377.3 19.7h0.9v0.9h-0.9zM381.3 32.3h0.9v0.9h-0.9zM376.0 19.8h0.9v0.9h-0.9zM381.0 23.0h0.9v0.9h-0.9zM381.8 31.5h0.9v0.9h-0.9zM376.7 30.3h0.9v0.9h-0.9zM385.9 25.7h0.9v0.9h-0.9zM380.2 21.3h0.9v0.9h-0.9zM383.5 24.3h0.9v0.9h-0.9zM379.3 40.8h0.9v0.9h-0.9zM380.4 18.2h0.9v0.9h-0.9zM381.0 13.9h0.9v0.9h-0.9zM381.2 34.4h0.9v0.9h-0.9zM381.4 17.3h0.9v0.9h-0.9zM380.3 27.5h0.9v0.9h-0.9zM380.2 28.0h0.9v0.9h-0.9zM377.0 29.9h0.9v0.9h-0.9zM382.2 25.2h0.9v0.9h-0.9zM379.6 20.9h0.9v0.9h-0.9zM379.6 24.0h0.9v0.9h-0.9zM386.2 23.6h0.9v0.9h-0.9zM380.9 22.2h0.9v0.9h-0.9zM382.5 25.0h0.9v0.9h-0.9zM374.1 26.5h0.9v0.9h-0.9zM375.9 33.8h0.9v0.9h-0.9zM379.5 26.8h0.9v0.9h-0.9zM382.0 25.4h0.9v0.9h-0.9zM379.6 18.2h0.9v0.9h-0.9zM378.5 24.7h0.9v0.9h-0.9zM382.1 42.9h0.9v0.9h-0.9zM382.6 24.2h0.9v0.9h-0.9zM380.6 32.0h0.9v0.9h-0.9zM380.3 34.2h0.9v0.9h-0.9zM378.3 33.2h0.9v0.9h-0.9zM382.8 19.5h0.9v0.9h-0.9zM380.2 33.4h0.9v0.9h-0.9zM374.5 30.4h0.9v0.9h-0.9zM379.0 21.5h0.9v0.9h-0.9zM380.1 31.9h0.9v0.9h-0.9zM383.9 24.4h0.9v0.9h-0.9zM383.7 26.0h0.9v0.9h-0.9zM374.5 24.5h0.9v0.9h-0.9zM377.3 18.4h0.9v0.9h-0.9zM385.5 22.7h0.9v0.9h-0.9zM384.2 17.1h0.9v0.9h-0.9zM381.0 35.0h0.9v0.9h-0.9zM381.8 20.9h0.9v0.9h-0.9zM376.8 38.5h0.9v0.9h-0.9zM381.2 21.9h0.9v0.9h-0.9zM380.8 36.4h0.9v0.9h-0.9zM380.7 32.3h0.9v0.9h-0.9zM384.7 21.0h0.9v0.9h-0.9zM380.8 32.2h0.9v0.9h-0.9zM385.5 17.0h0.9v0.9h-0.9zM378.2 18.4h0.9v0.9h-0.9zM384.1 30.2h0.9v0.9h-0.9zM382.5 31.6h0.9v0.9h-0.9zM380.9 36.7h0.9v0.9h-0.9zM380.6 25.6h0.9v0.9h-0.9zM379.6 19.7h0.9v0.9h-0.9zM380.4 34.5h0.9v0.9h-0.9zM377.7 13.8h0.9v0.9h-0.9zM386.3 33.1h0.9v0.9h-0.9zM377.3 28.9h0.9v0.9h-0.9zM378.3 39.6h0.9v0.9h-0.9zM387.2 19.4h0.9v0.9h-0.9zM378.7 32.7h0.9v0.9h-0.9zM382.1 35.1h0.9v0.9h-0.9zM376.6 15.1h0.9v0.9h-0.9zM384.8 28.4h0.9v0.9h-0.9zM384.6 15.8h0.9v0.9h-0.9zM383.4 21.8h0.9v0.9h-0.9zM377.1 28.6h0.9v0.9h-0.9zM379.2 33.9h0.9v0.9h-0.9zM379.5 25.3h0.9v0.9h-0.9zM382.8 13.9h0.9v0.9h-0.9zM384.5 15.4h0.9v0.9h-0.9zM381.1 16.5h0.9v0.9h-0.9zM382.7 19.1h0.9v0.9h-0.9zM379.0 37.1h0.9v0.9h-0.9zM387.5 30.0h0.9v0.9h-0.9zM378.9 25.5h0.9v0.9h-0.9zM376.2 18.6h0.9v0.9h-0.9zM379.8 22.4h0.9v0.9h-0.9zM379.2 19.9h0.9v0.9h-0.9zM376.0 32.9h0.9v0.9h-0.9zM383.9 16.0h0.9v0.9h-0.9zM379.0 16.4h0.9v0.9h-0.9zM385.1 39.7h0.9v0.9h-0.9zM380.5 43.4h0.9v0.9h-0.9zM381.7 8.5h0.9v0.9h-0.9zM377.3 21.3h0.9v0.9h-0.9z" fill="#7d96d0" fill-opacity="0.6"/>
<path d="M381.5 18.6h0.9v0.9h-0.9zM385.1 19.7h0.9v0.9h-0.9zM380.3 33.2h0.9v0.9h-0.9zM379.3 26.2h0.9v0.9h-0.9zM385.5 33.0h0.9v0.9h-0.9zM380.4 25.2h0.9v0.9h-0.9zM377.8 34.1h0.9v0.9h-0.9zM384.8 27.2h0.9v0.9h-0.9zM381.0 27.7h0.9v0.9h-0.9zM380.5 27.3h0.9v0.9h-0.9zM376.3 34.9h0.9v0.9h-0.9zM374.7 31.6h0.9v0.9h-0.9zM379.3 33.8h0.9v0.9h-0.9zM383.2 29.0h0.9v0.9h-0.9zM380.0 25.4h0.9v0.9h-0.9zM386.9 32.1h0.9v0.9h-0.9zM374.9 24.9h0.9v0.9h-0.9zM376.2 17.0h0.9v0.9h-0.9zM381.9 29.7h0.9v0.9h-0.9zM381.9 20.0h0.9v0.9h-0.9zM384.1 25.3h0.9v0.9h-0.9zM379.9 16.8h0.9v0.9h-0.9zM377.9 24.3h0.9v0.9h-0.9zM378.1 32.4h0.9v0.9h-0.9zM376.9 20.3h0.9v0.9h-0.9zM384.2 18.3h0.9v0.9h-0.9zM380.7 26.2h0.9v0.9h-0.9zM378.3 18.4h0.9v0.9h-0.9zM380.0 22.0h0.9v0.9h-0.9zM383.5 31.0h0.9v0.9h-0.9zM387.2 26.1h0.9v0.9h-0.9zM382.4 18.0h0.9v0.9h-0.9zM385.4 29.9h0.9v0.9h-0.9zM377.5 30.1h0.9v0.9h-0.9zM382.1 18.7h0.9v0.9h-0.9zM383.6 20.2h0.9v0.9h-0.9zM384.7 26.0h0.9v0.9h-0.9zM378.2 24.1h0.9v0.9h-0.9zM374.6 26.8h0.9v0.9h-0.9zM383.8 16.9h0.9v0.9h-0.9zM378.5 31.9h0.9v0.9h-0.9zM382.4 28.0h0.9v0.9h-0.9zM380.7 20.5h0.9v0.9h-0.9zM375.5 23.3h0.9v0.9h-0.9zM384.7 21.6h0.9v0.9h-0.9zM384.0 29.4h0.9v0.9h-0.9zM377.3 24.9h0.9v0.9h-0.9zM382.1 33.7h0.9v0.9h-0.9zM380.7 15.3h0.9v0.9h-0.9zM379.4 37.2h0.9v0.9h-0.9zM377.1 35.8h0.9v0.9h-0.9zM385.1 24.0h0.9v0.9h-0.9zM379.6 31.0h0.9v0.9h-0.9zM387.8 28.8h0.9v0.9h-0.9zM377.7 23.4h0.9v0.9h-0.9zM380.6 12.5h0.9v0.9h-0.9zM384.1 29.1h0.9v0.9h-0.9zM382.4 27.6h0.9v0.9h-0.9zM383.5 14.9h0.9v0.9h-0.9zM382.7 36.5h0.9v0.9h-0.9zM380.8 27.0h0.9v0.9h-0.9zM375.8 29.0h0.9v0.9h-0.9zM376.4 38.9h0.9v0.9h-0.9zM375.2 25.9h0.9v0.9h-0.9zM385.6 22.6h0.9v0.9h-0.9zM380.8 25.9h0.9v0.9h-0.9zM385.8 32.4h0.9v0.9h-0.9zM378.1 29.1h0.9v0.9h-0.9zM382.7 30.6h0.9v0.9h-0.9zM382.3 29.8h0.9v0.9h-0.9zM376.6 32.7h0.9v0.9h-0.9zM380.0 15.1h0.9v0.9h-0.9zM379.5 11.4h0.9v0.9h-0.9zM380.2 28.0h0.9v0.9h-0.9zM383.6 21.8h0.9v0.9h-0.9zM384.1 40.6h0.9v0.9h-0.9zM383.9 23.7h0.9v0.9h-0.9zM383.7 26.1h0.9v0.9h-0.9zM379.2 33.8h0.9v0.9h-0.9zM381.3 25.5h0.9v0.9h-0.9zM379.5 24.3h0.9v0.9h-0.9zM378.5 26.4h0.9v0.9h-0.9zM383.6 28.8h0.9v0.9h-0.9zM382.2 28.4h0.9v0.9h-0.9zM383.0 14.2h0.9v0.9h-0.9zM382.4 36.4h0.9v0.9h-0.9zM382.4 29.6h0.9v0.9h-0.9zM382.2 19.1h0.9v0.9h-0.9zM377.4 13.7h0.9v0.9h-0.9zM377.2 27.9h0.9v0.9h-0.9zM379.0 37.4h0.9v0.9h-0.9zM386.7 35.1h0.9v0.9h-0.9z" fill="#7d96d0" fill-opacity="0.6"/>
<path d="M380.9 33.4h0.9v0.9h-0.9zM380.9 35.1h0.9v0.9h-0.9zM380.8 33.1h0.9v0.9h-0.9zM385.9 33.3h0.9v0.9h-0.9zM381.0 33.1h0.9v0.9h-0.9zM383.8 31.8h0.9v0.9h-0.9zM381.6 13.1h0.9v0.9h-0.9zM378.4 24.1h0.9v0.9h-0.9zM378.2 31.2h0.9v0.9h-0.9zM385.6 33.2h0.9v0.9h-0.9zM383.0 35.0h0.9v0.9h-0.9zM380.8 30.7h0.9v0.9h-0.9zM380.7 27.8h0.9v0.9h-0.9zM377.0 31.7h0.9v0.9h-0.9zM385.6 30.1h0.9v0.9h-0.9zM380.8 21.8h0.9v0.9h-0.9zM377.8 35.1h0.9v0.9h-0.9zM386.0 18.8h0.9v0.9h-0.9zM379.9 26.7h0.9v0.9h-0.9zM376.5 26.5h0.9v0.9h-0.9zM381.9 36.1h0.9v0.9h-0.9zM387.2 21.2h0.9v0.9h-0.9zM377.1 15.3h0.9v0.9h-0.9zM380.5 32.5h0.9v0.9h-0.9zM376.7 30.5h0.9v0.9h-0.9zM375.7 23.8h0.9v0.9h-0.9zM376.7 26.4h0.9v0.9h-0.9zM380.1 22.1h0.9v0.9h-0.9zM381.4 16.1h0.9v0.9h-0.9zM381.8 13.3h0.9v0.9h-0.9zM380.1 15.6h0.9v0.9h-0.9zM374.7 32.3h0.9v0.9h-0.9zM382.2 34.2h0.9v0.9h-0.9zM378.5 13.2h0.9v0.9h-0.9zM381.3 23.9h0.9v0.9h-0.9zM380.5 29.0h0.9v0.9h-0.9zM380.2 23.7h0.9v0.9h-0.9zM378.7 24.0h0.9v0.9h-0.9zM386.1 33.5h0.9v0.9h-0.9zM380.3 35.4h0.9v0.9h-0.9zM379.6 13.5h0.9v0.9h-0.9zM383.5 27.4h0.9v0.9h-0.9zM381.4 21.2h0.9v0.9h-0.9zM381.6 25.4h0.9v0.9h-0.9zM384.0 22.5h0.9v0.9h-0.9zM381.6 43.3h0.9v0.9h-0.9zM383.6 17.3h0.9v0.9h-0.9zM381.2 31.5h0.9v0.9h-0.9zM379.7 35.5h0.9v0.9h-0.9zM381.9 35.1h0.9v0.9h-0.9zM380.2 19.0h0.9v0.9h-0.9zM380.1 25.6h0.9v0.9h-0.9zM381.3 27.5h0.9v0.9h-0.9zM381.5 18.2h0.9v0.9h-0.9zM384.9 19.6h0.9v0.9h-0.9zM376.8 24.6h0.9v0.9h-0.9zM380.2 22.1h0.9v0.9h-0.9zM380.6 24.3h0.9v0.9h-0.9zM382.3 27.1h0.9v0.9h-0.9zM379.2 19.6h0.9v0.9h-0.9zM380.5 19.3h0.9v0.9h-0.9zM379.0 23.7h0.9v0.9h-0.9zM381.9 13.3h0.9v0.9h-0.9zM382.3 23.6h0.9v0.9h-0.9zM379.3 15.9h0.9v0.9h-0.9zM383.8 35.2h0.9v0.9h-0.9zM380.7 25.2h0.9v0.9h-0.9zM387.0 29.7h0.9v0.9h-0.9zM378.1 15.3h0.9v0.9h-0.9zM375.8 18.1h0.9v0.9h-0.9zM387.0 26.9h0.9v0.9h-0.9zM381.5 41.9h0.9v0.9h-0.9zM379.3 14.1h0.9v0.9h-0.9zM375.3 20.9h0.9v0.9h-0.9zM377.6 29.6h0.9v0.9h-0.9zM380.1 33.6h0.9v0.9h-0.9zM380.7 32.1h0.9v0.9h-0.9zM376.8 22.9h0.9v0.9h-0.9zM383.6 25.8h0.9v0.9h-0.9zM379.9 23.0h0.9v0.9h-0.9zM381.9 36.8h0.9v0.9h-0.9zM377.4 29.6h0.9v0.9h-0.9zM386.6 29.6h0.9v0.9h-0.9zM379.6 21.8h0.9v0.9h-0.9zM378.5 23.3h0.9v0.9h-0.9zM382.4 36.6h0.9v0.9h-0.9zM383.5 20.1h0.9v0.9h-0.9zM388.4 20.5h0.9v0.9h-0.9zM378.6 35.0h0.9v0.9h-0.9zM380.0 36.1h0.9v0.9h-0.9zM383.5 20.1h0.9v0.9h-0.9zM388.2 17.6h0.9v0.9h-0.9z" fill="#7d96d0" fill-opacity="0.6"/>
<ellipse cx="368.3" cy="28.5" rx="5.04" ry="14.00" fill="#3a9cf6" opacity="0.55" filter="url(#bl2)" transform="rotate(0.0 368.3 28.5)"/>
<path d="M367.9 40.6h0.9v0.9h-0.9zM371.8 17.5h0.9v0.9h-0.9zM366.8 27.4h0.9v0.9h-0.9zM369.2 27.1h0.9v0.9h-0.9zM366.2 20.2h0.9v0.9h-0.9zM369.1 26.4h0.9v0.9h-0.9zM371.3 24.5h0.9v0.9h-0.9zM366.3 31.6h0.9v0.9h-0.9zM363.5 38.3h0.9v0.9h-0.9zM363.5 20.1h0.9v0.9h-0.9zM367.9 24.3h0.9v0.9h-0.9zM367.3 26.6h0.9v0.9h-0.9zM366.9 33.0h0.9v0.9h-0.9zM366.8 31.7h0.9v0.9h-0.9zM374.2 33.2h0.9v0.9h-0.9zM367.9 26.2h0.9v0.9h-0.9zM364.5 37.2h0.9v0.9h-0.9zM372.0 38.7h0.9v0.9h-0.9zM366.1 39.2h0.9v0.9h-0.9zM369.0 16.7h0.9v0.9h-0.9zM370.6 41.6h0.9v0.9h-0.9zM364.6 30.1h0.9v0.9h-0.9zM366.8 28.8h0.9v0.9h-0.9zM362.2 32.3h0.9v0.9h-0.9zM365.9 13.5h0.9v0.9h-0.9zM366.7 31.1h0.9v0.9h-0.9zM364.7 27.8h0.9v0.9h-0.9zM364.6 25.8h0.9v0.9h-0.9zM368.1 28.1h0.9v0.9h-0.9zM364.6 22.2h0.9v0.9h-0.9zM371.8 32.0h0.9v0.9h-0.9zM372.5 33.6h0.9v0.9h-0.9zM372.3 32.8h0.9v0.9h-0.9zM364.7 23.4h0.9v0.9h-0.9zM371.2 38.3h0.9v0.9h-0.9zM370.4 34.8h0.9v0.9h-0.9zM368.3 26.4h0.9v0.9h-0.9zM370.9 34.0h0.9v0.9h-0.9zM367.3 37.4h0.9v0.9h-0.9zM367.0 17.5h0.9v0.9h-0.9zM363.5 31.0h0.9v0.9h-0.9zM366.1 17.3h0.9v0.9h-0.9zM370.2 30.4h0.9v0.9h-0.9zM366.8 25.6h0.9v0.9h-0.9zM372.6 23.1h0.9v0.9h-0.9zM364.9 29.7h0.9v0.9h-0.9zM372.3 30.7h0.9v0.9h-0.9zM368.9 28.2h0.9v0.9h-0.9zM367.4 27.4h0.9v0.9h-0.9zM368.5 14.0h0.9v0.9h-0.9zM365.7 15.9h0.9v0.9h-0.9zM371.5 15.4h0.9v0.9h-0.9zM370.0 38.1h0.9v0.9h-0.9zM365.6 26.8h0.9v0.9h-0.9zM371.8 28.9h0.9v0.9h-0.9zM370.6 23.6h0.9v0.9h-0.9zM369.7 17.0h0.9v0.9h-0.9zM366.3 18.0h0.9v0.9h-0.9zM370.4 38.6h0.9v0.9h-0.9zM371.0 25.8h0.9v0.9h-0.9zM370.2 37.7h0.9v0.9h-0.9zM368.4 17.7h0.9v0.9h-0.9zM367.7 45.5h0.9v0.9h-0.9zM370.5 32.2h0.9v0.9h-0.9zM368.6 18.1h0.9v0.9h-0.9zM369.8 18.2h0.9v0.9h-0.9zM367.5 23.7h0.9v0.9h-0.9zM365.3 17.3h0.9v0.9h-0.9zM363.8 18.4h0.9v0.9h-0.9zM367.1 38.5h0.9v0.9h-0.9zM367.4 36.9h0.9v0.9h-0.9zM363.2 26.6h0.9v0.9h-0.9zM364.9 33.7h0.9v0.9h-0.9zM367.1 37.9h0.9v0.9h-0.9zM363.1 21.3h0.9v0.9h-0.9zM364.4 25.0h0.9v0.9h-0.9zM371.1 36.5h0.9v0.9h-0.9zM369.2 17.7h0.9v0.9h-0.9zM367.7 32.3h0.9v0.9h-0.9zM366.8 29.8h0.9v0.9h-0.9zM374.0 26.7h0.9v0.9h-0.9zM364.6 25.3h0.9v0.9h-0.9zM368.4 13.0h0.9v0.9h-0.9zM371.4 21.4h0.9v0.9h-0.9zM371.9 39.9h0.9v0.9h-0.9zM374.4 25.1h0.9v0.9h-0.9zM370.3 15.7h0.9v0.9h-0.9zM370.7 36.2h0.9v0.9h-0.9zM372.5 17.2h0.9v0.9h-0.9zM370.2 23.0h0.9v0.9h-0.9zM369.7 30.5h0.9v0.9h-0.9zM370.5 20.7h0.9v0.9h-0.9zM365.6 23.1h0.9v0.9h-0.9zM371.6 23.5h0.9v0.9h-0.9zM373.1 22.8h0.9v0.9h-0.9zM369.2 24.9h0.9v0.9h-0.9zM363.0 23.0h0.9v0.9h-0.9zM365.9 25.8h0.9v0.9h-0.9zM366.4 31.4h0.9v0.9h-0.9zM367.5 13.4h0.9v0.9h-0.9zM362.3 33.7h0.9v0.9h-0.9zM367.9 31.1h0.9v0.9h-0.9zM373.3 33.3h0.9v0.9h-0.9zM369.9 32.4h0.9v0.9h-0.9zM369.2 35.1h0.9v0.9h-0.9zM370.1 32.1h0.9v0.9h-0.9zM372.9 19.4h0.9v0.9h-0.9zM367.3 28.1h0.9v0.9h-0.9zM362.0 23.0h0.9v0.9h-0.9zM368.9 39.6h0.9v0.9h-0.9zM365.9 32.5h0.9v0.9h-0.9zM368.4 36.0h0.9v0.9h-0.9zM371.5 14.0h0.9v0.9h-0.9zM364.2 16.4h0.9v0.9h-0.9zM369.7 17.0h0.9v0.9h-0.9zM369.9 35.7h0.9v0.9h-0.9zM370.7 22.6h0.9v0.9h-0.9zM369.3 21.3h0.9v0.9h-0.9zM369.0 26.9h0.9v0.9h-0.9zM372.3 22.4h0.9v0.9h-0.9zM367.5 14.8h0.9v0.9h-0.9zM369.9 26.9h0.9v0.9h-0.9zM370.1 27.3h0.9v0.9h-0.9zM370.8 25.0h0.9v0.9h-0.9zM362.4 27.5h0.9v0.9h-0.9zM369.0 29.4h0.9v0.9h-0.9zM369.8 34.8h0.9v0.9h-0.9zM363.2 22.8h0.9v0.9h-0.9zM365.9 29.8h0.9v0.9h-0.9zM369.9 15.0h0.9v0.9h-0.9zM371.2 20.8h0.9v0.9h-0.9zM369.2 14.9h0.9v0.9h-0.9zM368.6 40.4h0.9v0.9h-0.9zM363.5 33.1h0.9v0.9h-0.9zM362.8 36.5h0.9v0.9h-0.9zM369.9 29.6h0.9v0.9h-0.9zM366.7 25.0h0.9v0.9h-0.9zM370.1 39.1h0.9v0.9h-0.9zM370.8 29.2h0.9v0.9h-0.9zM363.2 19.9h0.9v0.9h-0.9zM366.8 30.6h0.9v0.9h-0.9zM364.5 26.4h0.9v0.9h-0.9zM364.6 25.6h0.9v0.9h-0.9zM369.7 29.2h0.9v0.9h-0.9zM364.9 38.9h0.9v0.9h-0.9zM371.4 24.2h0.9v0.9h-0.9zM371.6 25.7h0.9v0.9h-0.9zM372.2 25.1h0.9v0.9h-0.9zM366.7 25.5h0.9v0.9h-0.9zM370.8 38.3h0.9v0.9h-0.9zM370.7 17.3h0.9v0.9h-0.9zM366.6 42.7h0.9v0.9h-0.9zM373.2 19.2h0.9v0.9h-0.9zM364.2 29.0h0.9v0.9h-0.9zM368.3 33.9h0.9v0.9h-0.9zM366.9 11.7h0.9v0.9h-0.9zM367.6 38.4h0.9v0.9h-0.9zM364.8 26.1h0.9v0.9h-0.9zM370.0 28.2h0.9v0.9h-0.9zM365.8 13.8h0.9v0.9h-0.9zM372.2 39.9h0.9v0.9h-0.9zM363.1 35.9h0.9v0.9h-0.9zM368.2 25.9h0.9v0.9h-0.9zM360.2 35.4h0.9v0.9h-0.9zM369.1 22.2h0.9v0.9h-0.9zM370.4 42.0h0.9v0.9h-0.9zM363.3 41.3h0.9v0.9h-0.9zM369.0 20.0h0.9v0.9h-0.9zM363.1 24.0h0.9v0.9h-0.9zM374.3 15.7h0.9v0.9h-0.9zM369.9 15.1h0.9v0.9h-0.9z" fill="#3a9cf6" fill-opacity="0.55"/>
<path d="M371.4 35.6h0.9v0.9h-0.9zM369.3 35.1h0.9v0.9h-0.9zM367.5 28.0h0.9v0.9h-0.9zM369.1 31.3h0.9v0.9h-0.9zM370.1 44.0h0.9v0.9h-0.9zM372.0 40.8h0.9v0.9h-0.9zM368.0 19.4h0.9v0.9h-0.9zM367.2 18.7h0.9v0.9h-0.9zM373.1 21.7h0.9v0.9h-0.9zM369.5 22.2h0.9v0.9h-0.9zM364.7 15.6h0.9v0.9h-0.9zM367.8 34.3h0.9v0.9h-0.9zM371.0 31.1h0.9v0.9h-0.9zM370.6 41.6h0.9v0.9h-0.9zM371.4 34.0h0.9v0.9h-0.9zM361.9 25.3h0.9v0.9h-0.9zM363.5 16.2h0.9v0.9h-0.9zM361.9 26.8h0.9v0.9h-0.9zM373.8 28.8h0.9v0.9h-0.9zM363.7 29.1h0.9v0.9h-0.9zM366.1 29.9h0.9v0.9h-0.9zM368.6 28.4h0.9v0.9h-0.9zM367.1 32.9h0.9v0.9h-0.9zM369.5 25.5h0.9v0.9h-0.9zM371.0 15.5h0.9v0.9h-0.9zM366.2 12.5h0.9v0.9h-0.9zM370.3 28.5h0.9v0.9h-0.9zM368.5 22.2h0.9v0.9h-0.9zM371.5 29.1h0.9v0.9h-0.9zM368.0 21.9h0.9v0.9h-0.9zM371.5 29.3h0.9v0.9h-0.9zM365.4 35.5h0.9v0.9h-0.9zM367.9 14.0h0.9v0.9h-0.9zM367.2 44.1h0.9v0.9h-0.9zM371.8 20.2h0.9v0.9h-0.9zM362.7 24.7h0.9v0.9h-0.9zM363.2 30.3h0.9v0.9h-0.9zM373.0 17.3h0.9v0.9h-0.9zM371.9 34.6h0.9v0.9h-0.9zM369.8 28.7h0.9v0.9h-0.9zM365.8 19.2h0.9v0.9h-0.9zM370.1 24.5h0.9v0.9h-0.9zM368.8 17.5h0.9v0.9h-0.9zM370.4 28.6h0.9v0.9h-0.9zM364.8 37.2h0.9v0.9h-0.9zM363.8 27.6h0.9v0.9h-0.9zM362.4 35.8h0.9v0.9h-0.9zM367.5 33.7h0.9v0.9h-0.9zM368.7 32.3h0.9v0.9h-0.9zM372.7 31.6h0.9v0.9h-0.9zM370.3 37.9h0.9v0.9h-0.9zM365.5 20.2h0.9v0.9h-0.9zM369.8 15.0h0.9v0.9h-0.9zM366.7 12.8h0.9v0.9h-0.9zM371.6 13.3h0.9v0.9h-0.9zM368.1 21.0h0.9v0.9h-0.9zM370.1 28.8h0.9v0.9h-0.9zM366.8 32.5h0.9v0.9h-0.9zM372.5 27.8h0.9v0.9h-0.9zM368.1 24.8h0.9v0.9h-0.9zM368.1 32.8h0.9v0.9h-0.9zM369.8 38.8h0.9v0.9h-0.9zM370.9 36.8h0.9v0.9h-0.9zM369.9 27.8h0.9v0.9h-0.9zM373.2 20.8h0.9v0.9h-0.9zM361.7 21.4h0.9v0.9h-0.9zM373.9 23.6h0.9v0.9h-0.9zM369.0 17.2h0.9v0.9h-0.9zM366.9 20.7h0.9v0.9h-0.9zM367.8 29.9h0.9v0.9h-0.9zM363.4 27.0h0.9v0.9h-0.9zM368.8 23.8h0.9v0.9h-0.9zM368.4 39.5h0.9v0.9h-0.9zM366.3 28.1h0.9v0.9h-0.9zM373.9 26.0h0.9v0.9h-0.9zM367.2 41.8h0.9v0.9h-0.9zM362.4 38.9h0.9v0.9h-0.9zM367.9 28.6h0.9v0.9h-0.9zM363.6 31.6h0.9v0.9h-0.9zM366.8 23.6h0.9v0.9h-0.9zM366.5 13.4h0.9v0.9h-0.9zM363.9 38.6h0.9v0.9h-0.9zM370.1 24.8h0.9v0.9h-0.9zM368.4 19.2h0.9v0.9h-0.9zM371.7 33.5h0.9v0.9h-0.9zM374.1 24.1h0.9v0.9h-0.9zM367.6 38.0h0.9v0.9h-0.9zM364.0 20.8h0.9v0.9h-0.9zM366.0 40.4h0.9v0.9h-0.9zM369.5 40.0h0.9v0.9h-0.9zM369.4 22.7h0.9v0.9h-0.9zM369.3 32.0h0.9v0.9h-0.9zM368.5 33.7h0.9v0.9h-0.9zM367.7 40.6h0.9v0.9h-0.9zM373.4 32.1h0.9v0.9h-0.9zM367.0 17.9h0.9v0.9h-0.9zM362.4 38.4h0.9v0.9h-0.9zM364.4 30.2h0.9v0.9h-0.9zM368.1 43.3h0.9v0.9h-0.9zM364.5 34.1h0.9v0.9h-0.9zM368.1 39.0h0.9v0.9h-0.9zM367.0 33.7h0.9v0.9h-0.9zM367.8 17.2h0.9v0.9h-0.9zM366.9 23.7h0.9v0.9h-0.9zM366.5 19.1h0.9v0.9h-0.9zM370.9 32.5h0.9v0.9h-0.9zM368.4 19.3h0.9v0.9h-0.9zM364.8 40.3h0.9v0.9h-0.9zM367.9 27.2h0.9v0.9h-0.9zM373.7 24.4h0.9v0.9h-0.9zM363.3 24.3h0.9v0.9h-0.9zM366.6 32.2h0.9v0.9h-0.9zM363.0 18.1h0.9v0.9h-0.9zM369.5 33.3h0.9v0.9h-0.9zM365.9 17.5h0.9v0.9h-0.9zM367.4 24.5h0.9v0.9h-0.9zM373.9 34.2h0.9v0.9h-0.9zM368.8 19.6h0.9v0.9h-0.9zM369.1 15.8h0.9v0.9h-0.9zM365.0 43.5h0.9v0.9h-0.9zM367.8 33.2h0.9v0.9h-0.9zM367.7 43.8h0.9v0.9h-0.9zM372.3 24.6h0.9v0.9h-0.9zM367.8 26.5h0.9v0.9h-0.9zM366.0 33.6h0.9v0.9h-0.9zM366.1 25.7h0.9v0.9h-0.9zM364.4 37.1h0.9v0.9h-0.9zM368.6 14.4h0.9v0.9h-0.9zM369.3 33.3h0.9v0.9h-0.9zM370.9 16.8h0.9v0.9h-0.9zM371.6 15.3h0.9v0.9h-0.9zM365.3 21.7h0.9v0.9h-0.9zM364.1 34.3h0.9v0.9h-0.9zM371.0 25.1h0.9v0.9h-0.9zM369.6 15.3h0.9v0.9h-0.9zM372.4 36.0h0.9v0.9h-0.9zM363.8 24.1h0.9v0.9h-0.9zM367.9 18.9h0.9v0.9h-0.9zM368.9 31.8h0.9v0.9h-0.9zM370.5 33.7h0.9v0.9h-0.9zM361.9 28.1h0.9v0.9h-0.9zM371.5 23.8h0.9v0.9h-0.9zM368.6 37.7h0.9v0.9h-0.9zM369.1 30.7h0.9v0.9h-0.9zM372.0 26.5h0.9v0.9h-0.9zM366.9 44.5h0.9v0.9h-0.9zM370.4 18.1h0.9v0.9h-0.9zM372.5 34.6h0.9v0.9h-0.9zM364.2 35.3h0.9v0.9h-0.9zM364.3 36.8h0.9v0.9h-0.9zM366.7 39.1h0.9v0.9h-0.9zM366.8 29.1h0.9v0.9h-0.9zM368.8 16.6h0.9v0.9h-0.9zM369.2 24.8h0.9v0.9h-0.9zM362.4 22.4h0.9v0.9h-0.9zM373.0 31.3h0.9v0.9h-0.9zM366.3 16.5h0.9v0.9h-0.9zM373.7 31.6h0.9v0.9h-0.9zM370.2 36.7h0.9v0.9h-0.9zM364.4 24.0h0.9v0.9h-0.9zM367.0 30.0h0.9v0.9h-0.9zM373.2 17.9h0.9v0.9h-0.9zM370.0 15.4h0.9v0.9h-0.9zM359.6 23.8h0.9v0.9h-0.9zM370.5 31.6h0.9v0.9h-0.9zM370.4 38.2h0.9v0.9h-0.9zM370.4 18.3h0.9v0.9h-0.9zM376.3 32.1h0.9v0.9h-0.9zM369.3 29.6h0.9v0.9h-0.9zM372.9 43.5h0.9v0.9h-0.9zM365.7 34.5h0.9v0.9h-0.9z" fill="#3a9cf6" fill-opacity="0.55"/>
<path d="M370.0 32.2h0.9v0.9h-0.9zM370.4 31.2h0.9v0.9h-0.9zM372.5 29.4h0.9v0.9h-0.9zM373.8 27.9h0.9v0.9h-0.9zM366.1 33.2h0.9v0.9h-0.9zM363.3 19.8h0.9v0.9h-0.9zM363.2 28.1h0.9v0.9h-0.9zM371.2 22.4h0.9v0.9h-0.9zM367.1 28.1h0.9v0.9h-0.9zM371.5 36.5h0.9v0.9h-0.9zM368.3 28.3h0.9v0.9h-0.9zM374.5 27.4h0.9v0.9h-0.9zM372.0 22.2h0.9v0.9h-0.9zM363.9 31.0h0.9v0.9h-0.9zM373.2 25.3h0.9v0.9h-0.9zM364.1 29.7h0.9v0.9h-0.9zM363.7 38.0h0.9v0.9h-0.9zM364.4 21.9h0.9v0.9h-0.9zM370.6 35.9h0.9v0.9h-0.9zM366.5 16.9h0.9v0.9h-0.9zM366.0 22.7h0.9v0.9h-0.9zM368.9 39.9h0.9v0.9h-0.9zM371.3 30.6h0.9v0.9h-0.9zM366.5 12.8h0.9v0.9h-0.9zM368.6 25.6h0.9v0.9h-0.9zM371.7 16.9h0.9v0.9h-0.9zM365.9 16.6h0.9v0.9h-0.9zM367.6 13.8h0.9v0.9h-0.9zM362.8 38.9h0.9v0.9h-0.9zM371.8 27.4h0.9v0.9h-0.9zM373.1 27.8h0.9v0.9h-0.9zM365.3 31.6h0.9v0.9h-0.9zM368.3 20.0h0.9v0.9h-0.9zM374.1 25.3h0.9v0.9h-0.9zM366.4 39.1h0.9v0.9h-0.9zM368.4 36.5h0.9v0.9h-0.9zM368.0 23.7h0.9v0.9h-0.9zM374.0 33.4h0.9v0.9h-0.9zM362.9 19.4h0.9v0.9h-0.9zM372.2 39.0h0.9v0.9h-0.9zM369.8 17.6h0.9v0.9h-0.9zM363.1 22.5h0.9v0.9h-0.9zM363.8 21.2h0.9v0.9h-0.9zM367.1 41.5h0.9v0.9h-0.9zM372.0 38.4h0.9v0.9h-0.9zM371.3 19.3h0.9v0.9h-0.9zM373.7 30.2h0.9v0.9h-0.9zM363.4 21.3h0.9v0.9h-0.9zM365.7 20.3h0.9v0.9h-0.9zM361.5 27.6h0.9v0.9h-0.9zM368.9 25.8h0.9v0.9h-0.9zM370.9 27.3h0.9v0.9h-0.9zM368.9 13.2h0.9v0.9h-0.9zM369.0 34.3h0.9v0.9h-0.9zM362.0 24.9h0.9v0.9h-0.9zM365.1 26.6h0.9v0.9h-0.9zM369.8 34.7h0.9v0.9h-0.9zM372.0 28.1h0.9v0.9h-0.9zM373.5 35.5h0.9v0.9h-0.9zM364.7 26.6h0.9v0.9h-0.9zM366.5 13.2h0.9v0.9h-0.9zM366.6 25.9h0.9v0.9h-0.9zM368.8 30.2h0.9v0.9h-0.9zM369.3 41.2h0.9v0.9h-0.9zM362.7 16.7h0.9v0.9h-0.9zM372.7 38.9h0.9v0.9h-0.9zM364.8 41.1h0.9v0.9h-0.9zM367.4 20.8h0.9v0.9h-0.9zM366.0 33.6h0.9v0.9h-0.9zM367.6 17.5h0.9v0.9h-0.9zM364.1 27.5h0.9v0.9h-0.9zM368.3 19.4h0.9v0.9h-0.9zM367.8 38.8h0.9v0.9h-0.9zM366.2 31.7h0.9v0.9h-0.9zM372.6 27.6h0.9v0.9h-0.9zM369.4 26.9h0.9v0.9h-0.9zM365.6 32.1h0.9v0.9h-0.9zM366.6 37.4h0.9v0.9h-0.9zM373.1 39.3h0.9v0.9h-0.9zM364.9 35.6h0.9v0.9h-0.9zM365.4 43.1h0.9v0.9h-0.9zM363.1 27.9h0.9v0.9h-0.9zM366.6 12.5h0.9v0.9h-0.9zM363.2 39.4h0.9v0.9h-0.9zM371.4 25.2h0.9v0.9h-0.9zM361.2 33.3h0.9v0.9h-0.9zM369.9 32.1h0.9v0.9h-0.9zM370.6 44.2h0.9v0.9h-0.9zM364.5 28.8h0.9v0.9h-0.9zM366.3 16.9h0.9v0.9h-0.9zM373.3 30.0h0.9v0.9h-0.9zM372.9 39.0h0.9v0.9h-0.9zM367.5 15.0h0.9v0.9h-0.9zM370.7 28.6h0.9v0.9h-0.9zM367.9 32.7h0.9v0.9h-0.9zM368.2 41.0h0.9v0.9h-0.9zM366.7 34.0h0.9v0.9h-0.9zM371.7 14.1h0.9v0.9h-0.9zM370.9 25.5h0.9v0.9h-0.9zM364.8 37.4h0.9v0.9h-0.9zM363.5 29.8h0.9v0.9h-0.9zM366.5 28.1h0.9v0.9h-0.9zM363.9 23.1h0.9v0.9h-0.9zM366.9 30.8h0.9v0.9h-0.9zM369.0 17.7h0.9v0.9h-0.9zM363.1 24.1h0.9v0.9h-0.9zM370.3 18.9h0.9v0.9h-0.9zM366.1 32.8h0.9v0.9h-0.9zM367.6 35.6h0.9v0.9h-0.9zM361.8 32.2h0.9v0.9h-0.9zM372.2 26.2h0.9v0.9h-0.9zM366.2 42.3h0.9v0.9h-0.9zM368.7 24.5h0.9v0.9h-0.9zM367.2 28.3h0.9v0.9h-0.9zM363.2 35.1h0.9v0.9h-0.9zM369.0 23.2h0.9v0.9h-0.9zM368.8 17.4h0.9v0.9h-0.9zM364.0 42.4h0.9v0.9h-0.9zM369.3 29.7h0.9v0.9h-0.9zM370.9 29.8h0.9v0.9h-0.9zM366.2 32.8h0.9v0.9h-0.9zM372.0 35.8h0.9v0.9h-0.9zM364.2 22.3h0.9v0.9h-0.9zM370.0 12.9h0.9v0.9h-0.9zM371.2 42.6h0.9v0.9h-0.9zM371.8 21.1h0.9v0.9h-0.9zM367.8 29.6h0.9v0.9h-0.9zM370.0 34.2h0.9v0.9h-0.9zM372.8 25.5h0.9v0.9h-0.9zM362.0 25.9h0.9v0.9h-0.9zM371.9 23.5h0.9v0.9h-0.9zM369.5 34.1h0.9v0.9h-0.9zM369.5 26.2h0.9v0.9h-0.9zM362.9 36.1h0.9v0.9h-0.9zM363.1 21.7h0.9v0.9h-0.9zM365.2 26.3h0.9v0.9h-0.9zM364.7 27.8h0.9v0.9h-0.9zM370.5 35.2h0.9v0.9h-0.9zM368.0 19.1h0.9v0.9h-0.9zM367.8 20.5h0.9v0.9h-0.9zM370.5 21.9h0.9v0.9h-0.9zM365.4 40.1h0.9v0.9h-0.9zM370.4 26.7h0.9v0.9h-0.9zM366.4 23.2h0.9v0.9h-0.9zM365.0 32.0h0.9v0.9h-0.9zM366.7 40.3h0.9v0.9h-0.9zM368.3 32.4h0.9v0.9h-0.9zM369.6 25.4h0.9v0.9h-0.9zM369.1 10.9h0.9v0.9h-0.9zM369.7 22.6h0.9v0.9h-0.9zM365.7 27.2h0.9v0.9h-0.9zM364.3 18.0h0.9v0.9h-0.9zM370.1 29.2h0.9v0.9h-0.9zM364.4 34.0h0.9v0.9h-0.9zM367.9 25.8h0.9v0.9h-0.9zM372.1 41.5h0.9v0.9h-0.9zM368.5 40.2h0.9v0.9h-0.9zM367.6 20.0h0.9v0.9h-0.9zM364.2 29.1h0.9v0.9h-0.9zM371.4 33.1h0.9v0.9h-0.9zM368.8 37.4h0.9v0.9h-0.9zM363.3 36.9h0.9v0.9h-0.9zM362.2 32.0h0.9v0.9h-0.9zM374.3 19.6h0.9v0.9h-0.9zM367.5 40.2h0.9v0.9h-0.9zM364.8 21.0h0.9v0.9h-0.9zM364.1 13.7h0.9v0.9h-0.9zM361.5 40.2h0.9v0.9h-0.9zM365.6 35.8h0.9v0.9h-0.9zM364.7 45.8h0.9v0.9h-0.9zM372.2 45.9h0.9v0.9h-0.9z" fill="#3a9cf6" fill-opacity="0.55"/>
<path d="M368.8 30.4h0.9v0.9h-0.9zM363.6 27.8h0.9v0.9h-0.9zM367.2 25.1h0.9v0.9h-0.9zM370.8 17.5h0.9v0.9h-0.9zM363.9 26.5h0.9v0.9h-0.9zM364.7 15.7h0.9v0.9h-0.9zM370.8 33.1h0.9v0.9h-0.9zM365.8 13.6h0.9v0.9h-0.9zM369.6 12.0h0.9v0.9h-0.9zM370.1 33.1h0.9v0.9h-0.9zM365.1 17.4h0.9v0.9h-0.9zM372.2 33.5h0.9v0.9h-0.9zM368.8 11.6h0.9v0.9h-0.9zM372.7 35.5h0.9v0.9h-0.9zM366.7 17.9h0.9v0.9h-0.9zM366.5 11.0h0.9v0.9h-0.9zM368.9 16.5h0.9v0.9h-0.9zM371.9 19.6h0.9v0.9h-0.9zM372.8 24.1h0.9v0.9h-0.9zM369.5 25.3h0.9v0.9h-0.9zM371.1 29.9h0.9v0.9h-0.9zM369.0 24.0h0.9v0.9h-0.9zM365.0 19.9h0.9v0.9h-0.9zM371.6 40.2h0.9v0.9h-0.9zM368.2 26.1h0.9v0.9h-0.9zM370.7 32.5h0.9v0.9h-0.9zM368.6 31.7h0.9v0.9h-0.9zM366.9 36.2h0.9v0.9h-0.9zM369.7 32.4h0.9v0.9h-0.9zM367.9 28.2h0.9v0.9h-0.9zM368.3 15.8h0.9v0.9h-0.9zM365.8 22.6h0.9v0.9h-0.9zM370.8 26.8h0.9v0.9h-0.9zM374.6 27.6h0.9v0.9h-0.9zM369.5 14.0h0.9v0.9h-0.9zM365.1 15.8h0.9v0.9h-0.9zM369.5 13.2h0.9v0.9h-0.9zM368.8 29.8h0.9v0.9h-0.9zM370.2 24.9h0.9v0.9h-0.9zM366.4 35.1h0.9v0.9h-0.9zM370.4 15.5h0.9v0.9h-0.9zM374.4 24.6h0.9v0.9h-0.9zM366.7 15.0h0.9v0.9h-0.9zM364.8 17.1h0.9v0.9h-0.9zM364.5 27.4h0.9v0.9h-0.9zM363.7 23.4h0.9v0.9h-0.9zM371.1 23.8h0.9v0.9h-0.9zM364.4 17.8h0.9v0.9h-0.9zM371.7 25.7h0.9v0.9h-0.9zM364.6 21.1h0.9v0.9h-0.9zM369.5 27.8h0.9v0.9h-0.9zM367.5 12.5h0.9v0.9h-0.9zM369.3 24.2h0.9v0.9h-0.9zM369.8 16.3h0.9v0.9h-0.9zM367.4 22.9h0.9v0.9h-0.9zM367.3 15.7h0.9v0.9h-0.9zM372.8 32.6h0.9v0.9h-0.9zM369.9 22.8h0.9v0.9h-0.9zM368.3 23.5h0.9v0.9h-0.9zM371.6 25.5h0.9v0.9h-0.9zM363.6 36.1h0.9v0.9h-0.9zM366.8 20.6h0.9v0.9h-0.9zM370.6 37.7h0.9v0.9h-0.9zM371.6 32.9h0.9v0.9h-0.9zM367.8 38.4h0.9v0.9h-0.9zM365.9 40.7h0.9v0.9h-0.9zM373.8 31.6h0.9v0.9h-0.9zM374.0 31.4h0.9v0.9h-0.9zM367.8 28.5h0.9v0.9h-0.9zM364.4 17.0h0.9v0.9h-0.9zM370.6 28.9h0.9v0.9h-0.9zM366.2 32.3h0.9v0.9h-0.9zM364.0 34.4h0.9v0.9h-0.9zM368.7 21.6h0.9v0.9h-0.9zM366.3 23.3h0.9v0.9h-0.9zM370.1 32.3h0.9v0.9h-0.9zM369.6 19.6h0.9v0.9h-0.9zM367.3 23.5h0.9v0.9h-0.9zM370.4 35.4h0.9v0.9h-0.9zM367.6 29.3h0.9v0.9h-0.9zM369.2 35.7h0.9v0.9h-0.9zM373.3 26.4h0.9v0.9h-0.9zM365.4 20.4h0.9v0.9h-0.9zM367.0 25.3h0.9v0.9h-0.9zM368.2 25.1h0.9v0.9h-0.9zM366.9 22.6h0.9v0.9h-0.9zM364.2 21.4h0.9v0.9h-0.9zM369.2 30.2h0.9v0.9h-0.9zM369.1 32.6h0.9v0.9h-0.9zM363.9 31.3h0.9v0.9h-0.9zM367.6 38.2h0.9v0.9h-0.9zM365.4 26.3h0.9v0.9h-0.9zM364.5 14.9h0.9v0.9h-0.9zM365.3 26.4h0.9v0.9h-0.9zM361.9 19.8h0.9v0.9h-0.9zM366.0 22.9h0.9v0.9h-0.9zM365.0 22.8h0.9v0.9h-0.9zM368.9 21.0h0.9v0.9h-0.9zM371.0 18.4h0.9v0.9h-0.9zM369.4 31.1h0.9v0.9h-0.9zM365.0 29.9h0.9v0.9h-0.9zM361.8 28.5h0.9v0.9h-0.9zM369.0 30.4h0.9v0.9h-0.9zM363.0 29.3h0.9v0.9h-0.9zM370.9 22.5h0.9v0.9h-0.9zM365.1 35.3h0.9v0.9h-0.9zM371.7 32.1h0.9v0.9h-0.9zM366.2 35.1h0.9v0.9h-0.9zM365.9 14.8h0.9v0.9h-0.9zM363.5 37.5h0.9v0.9h-0.9zM370.5 33.6h0.9v0.9h-0.9zM366.2 26.5h0.9v0.9h-0.9zM371.5 20.6h0.9v0.9h-0.9zM373.1 37.0h0.9v0.9h-0.9zM365.8 32.4h0.9v0.9h-0.9zM369.3 39.2h0.9v0.9h-0.9zM370.0 28.2h0.9v0.9h-0.9zM373.2 25.6h0.9v0.9h-0.9zM363.6 18.4h0.9v0.9h-0.9zM370.8 36.7h0.9v0.9h-0.9zM368.9 39.6h0.9v0.9h-0.9zM369.6 31.6h0.9v0.9h-0.9zM367.8 16.3h0.9v0.9h-0.9zM362.6 24.3h0.9v0.9h-0.9zM368.0 12.4h0.9v0.9h-0.9zM368.0 31.6h0.9v0.9h-0.9zM365.2 24.4h0.9v0.9h-0.9zM368.0 30.5h0.9v0.9h-0.9zM366.9 35.1h0.9v0.9h-0.9zM365.6 16.0h0.9v0.9h-0.9zM370.9 34.1h0.9v0.9h-0.9zM369.1 30.4h0.9v0.9h-0.9zM366.2 38.7h0.9v0.9h-0.9zM370.7 34.5h0.9v0.9h-0.9zM370.0 15.3h0.9v0.9h-0.9zM367.4 13.3h0.9v0.9h-0.9zM369.5 20.2h0.9v0.9h-0.9zM366.9 38.9h0.9v0.9h-0.9zM374.0 20.8h0.9v0.9h-0.9zM366.3 25.2h0.9v0.9h-0.9zM366.1 42.9h0.9v0.9h-0.9zM371.0 27.8h0.9v0.9h-0.9zM365.3 31.2h0.9v0.9h-0.9zM368.0 18.0h0.9v0.9h-0.9zM363.5 28.9h0.9v0.9h-0.9zM367.8 20.2h0.9v0.9h-0.9zM364.5 23.7h0.9v0.9h-0.9zM365.7 25.4h0.9v0.9h-0.9zM368.0 16.4h0.9v0.9h-0.9zM366.9 30.3h0.9v0.9h-0.9zM371.2 31.9h0.9v0.9h-0.9zM366.2 37.2h0.9v0.9h-0.9zM368.8 42.6h0.9v0.9h-0.9zM364.1 31.2h0.9v0.9h-0.9zM365.0 36.7h0.9v0.9h-0.9zM372.2 37.8h0.9v0.9h-0.9zM369.1 36.3h0.9v0.9h-0.9zM371.6 31.1h0.9v0.9h-0.9zM368.7 27.2h0.9v0.9h-0.9zM366.4 28.3h0.9v0.9h-0.9zM368.5 34.9h0.9v0.9h-0.9zM369.0 26.5h0.9v0.9h-0.9zM362.8 25.4h0.9v0.9h-0.9zM376.1 26.8h0.9v0.9h-0.9zM369.1 45.5h0.9v0.9h-0.9zM365.6 38.9h0.9v0.9h-0.9zM368.7 48.6h0.9v0.9h-0.9zM364.2 26.1h0.9v0.9h-0.9zM372.1 17.8h0.9v0.9h-0.9zM370.4 12.9h0.9v0.9h-0.9zM363.4 16.7h0.9v0.9h-0.9z" fill="#3a9cf6" fill-opacity="0.55"/>
<path d="M372.0 22.7h0.9v0.9h-0.9zM370.4 33.7h0.9v0.9h-0.9zM369.3 18.7h0.9v0.9h-0.9zM367.6 37.8h0.9v0.9h-0.9zM363.5 35.4h0.9v0.9h-0.9zM365.2 22.8h0.9v0.9h-0.9zM365.6 27.1h0.9v0.9h-0.9zM364.5 34.9h0.9v0.9h-0.9zM371.8 41.9h0.9v0.9h-0.9zM374.0 27.8h0.9v0.9h-0.9zM370.4 24.2h0.9v0.9h-0.9zM366.6 28.9h0.9v0.9h-0.9zM371.1 29.7h0.9v0.9h-0.9zM363.9 20.7h0.9v0.9h-0.9zM365.0 33.2h0.9v0.9h-0.9zM370.9 20.0h0.9v0.9h-0.9zM366.7 25.6h0.9v0.9h-0.9zM367.2 29.0h0.9v0.9h-0.9zM364.6 29.1h0.9v0.9h-0.9zM372.1 28.0h0.9v0.9h-0.9zM372.0 22.0h0.9v0.9h-0.9zM367.1 26.7h0.9v0.9h-0.9zM366.6 43.4h0.9v0.9h-0.9zM365.4 18.9h0.9v0.9h-0.9zM370.0 23.9h0.9v0.9h-0.9zM365.7 19.4h0.9v0.9h-0.9zM366.8 20.0h0.9v0.9h-0.9zM369.0 40.5h0.9v0.9h-0.9zM371.8 20.5h0.9v0.9h-0.9zM370.8 23.1h0.9v0.9h-0.9zM367.0 18.8h0.9v0.9h-0.9zM368.2 39.8h0.9v0.9h-0.9zM364.4 37.8h0.9v0.9h-0.9zM369.4 37.3h0.9v0.9h-0.9zM369.4 26.1h0.9v0.9h-0.9zM372.1 39.7h0.9v0.9h-0.9zM367.6 32.6h0.9v0.9h-0.9zM370.6 33.4h0.9v0.9h-0.9zM371.1 35.6h0.9v0.9h-0.9zM372.9 25.8h0.9v0.9h-0.9zM362.2 29.7h0.9v0.9h-0.9zM365.4 42.2h0.9v0.9h-0.9zM363.2 27.0h0.9v0.9h-0.9zM371.2 35.4h0.9v0.9h-0.9zM372.2 21.2h0.9v0.9h-0.9zM364.7 37.3h0.9v0.9h-0.9zM366.3 21.1h0.9v0.9h-0.9zM367.0 30.8h0.9v0.9h-0.9zM369.4 18.6h0.9v0.9h-0.9zM368.2 20.6h0.9v0.9h-0.9zM364.3 20.8h0.9v0.9h-0.9zM369.1 31.9h0.9v0.9h-0.9zM361.1 30.9h0.9v0.9h-0.9zM372.0 19.8h0.9v0.9h-0.9zM365.9 42.7h0.9v0.9h-0.9zM374.4 26.6h0.9v0.9h-0.9zM368.5 29.9h0.9v0.9h-0.9zM366.8 35.7h0.9v0.9h-0.9zM368.0 28.3h0.9v0.9h-0.9zM368.3 31.7h0.9v0.9h-0.9zM369.7 44.7h0.9v0.9h-0.9zM369.6 28.3h0.9v0.9h-0.9zM364.9 33.2h0.9v0.9h-0.9zM370.0 27.1h0.9v0.9h-0.9zM372.8 30.3h0.9v0.9h-0.9zM366.5 43.9h0.9v0.9h-0.9zM370.4 28.2h0.9v0.9h-0.9zM369.9 23.9h0.9v0.9h-0.9zM367.5 26.1h0.9v0.9h-0.9zM368.7 20.6h0.9v0.9h-0.9zM362.8 32.3h0.9v0.9h-0.9zM366.9 41.3h0.9v0.9h-0.9zM366.9 30.1h0.9v0.9h-0.9zM364.7 43.4h0.9v0.9h-0.9zM362.1 28.1h0.9v0.9h-0.9zM372.4 33.4h0.9v0.9h-0.9zM369.7 28.7h0.9v0.9h-0.9zM370.3 20.3h0.9v0.9h-0.9zM364.2 15.8h0.9v0.9h-0.9zM363.8 21.5h0.9v0.9h-0.9zM370.8 27.9h0.9v0.9h-0.9zM370.4 29.1h0.9v0.9h-0.9zM367.7 12.8h0.9v0.9h-0.9zM369.3 14.9h0.9v0.9h-0.9zM362.0 22.4h0.9v0.9h-0.9zM366.6 19.3h0.9v0.9h-0.9zM368.2 37.7h0.9v0.9h-0.9zM372.1 28.2h0.9v0.9h-0.9zM363.2 34.1h0.9v0.9h-0.9zM368.8 13.5h0.9v0.9h-0.9zM366.6 25.4h0.9v0.9h-0.9zM369.7 42.7h0.9v0.9h-0.9zM368.8 36.7h0.9v0.9h-0.9zM370.4 19.8h0.9v0.9h-0.9zM367.4 34.5h0.9v0.9h-0.9zM365.0 26.5h0.9v0.9h-0.9zM373.3 17.8h0.9v0.9h-0.9zM366.2 28.2h0.9v0.9h-0.9zM371.7 16.9h0.9v0.9h-0.9zM370.6 33.3h0.9v0.9h-0.9zM371.0 39.3h0.9v0.9h-0.9zM364.3 23.3h0.9v0.9h-0.9zM367.9 26.4h0.9v0.9h-0.9zM370.5 34.3h0.9v0.9h-0.9zM364.9 13.2h0.9v0.9h-0.9zM366.2 34.5h0.9v0.9h-0.9zM371.9 26.5h0.9v0.9h-0.9zM372.1 23.9h0.9v0.9h-0.9zM374.0 33.1h0.9v0.9h-0.9zM365.5 28.6h0.9v0.9h-0.9zM366.4 11.7h0.9v0.9h-0.9zM365.3 23.0h0.9v0.9h-0.9zM362.4 22.8h0.9v0.9h-0.9zM361.9 27.7h0.9v0.9h-0.9zM363.0 28.7h0.9v0.9h-0.9zM371.2 23.6h0.9v0.9h-0.9zM368.6 22.1h0.9v0.9h-0.9zM367.4 21.1h0.9v0.9h-0.9zM363.6 26.1h0.9v0.9h-0.9zM361.9 26.5h0.9v0.9h-0.9zM362.2 33.0h0.9v0.9h-0.9zM369.4 25.0h0.9v0.9h-0.9zM364.3 21.8h0.9v0.9h-0.9zM364.6 30.2h0.9v0.9h-0.9zM362.9 34.9h0.9v0.9h-0.9zM371.7 28.5h0.9v0.9h-0.9zM373.0 33.8h0.9v0.9h-0.9zM365.0 24.1h0.9v0.9h-0.9zM369.4 25.0h0.9v0.9h-0.9zM366.1 17.0h0.9v0.9h-0.9zM366.5 31.0h0.9v0.9h-0.9zM365.3 31.4h0.9v0.9h-0.9zM370.5 16.2h0.9v0.9h-0.9zM371.8 25.3h0.9v0.9h-0.9zM362.4 32.0h0.9v0.9h-0.9zM363.6 37.8h0.9v0.9h-0.9zM367.1 22.4h0.9v0.9h-0.9zM362.4 25.3h0.9v0.9h-0.9zM370.7 24.7h0.9v0.9h-0.9zM364.2 29.5h0.9v0.9h-0.9zM367.1 24.0h0.9v0.9h-0.9zM366.9 32.5h0.9v0.9h-0.9zM374.4 31.7h0.9v0.9h-0.9zM366.8 27.8h0.9v0.9h-0.9zM365.1 33.7h0.9v0.9h-0.9zM370.0 21.7h0.9v0.9h-0.9zM365.6 35.7h0.9v0.9h-0.9zM368.2 33.6h0.9v0.9h-0.9zM366.3 29.1h0.9v0.9h-0.9zM371.8 40.1h0.9v0.9h-0.9zM370.3 18.0h0.9v0.9h-0.9zM366.1 26.1h0.9v0.9h-0.9zM369.9 42.4h0.9v0.9h-0.9zM363.7 35.2h0.9v0.9h-0.9zM371.5 35.3h0.9v0.9h-0.9zM364.1 32.6h0.9v0.9h-0.9zM369.9 35.7h0.9v0.9h-0.9zM367.6 29.1h0.9v0.9h-0.9zM368.0 22.7h0.9v0.9h-0.9zM365.3 33.0h0.9v0.9h-0.9zM368.6 36.0h0.9v0.9h-0.9zM364.2 32.5h0.9v0.9h-0.9zM366.4 40.6h0.9v0.9h-0.9zM361.8 32.2h0.9v0.9h-0.9zM369.3 44.5h0.9v0.9h-0.9zM370.7 32.6h0.9v0.9h-0.9zM372.9 13.5h0.9v0.9h-0.9zM364.1 27.6h0.9v0.9h-0.9zM363.3 33.5h0.9v0.9h-0.9zM360.9 39.0h0.9v0.9h-0.9zM366.2 19.7h0.9v0.9h-0.9z" fill="#3a9cf6" fill-opacity="0.55"/>
<path d="M372.0 27.1h0.9v0.9h-0.9zM366.0 14.0h0.9v0.9h-0.9zM365.7 27.5h0.9v0.9h-0.9zM366.4 13.4h0.9v0.9h-0.9zM368.3 26.4h0.9v0.9h-0.9zM361.2 28.4h0.9v0.9h-0.9zM362.5 30.7h0.9v0.9h-0.9zM361.1 27.3h0.9v0.9h-0.9zM369.3 21.2h0.9v0.9h-0.9zM366.8 13.6h0.9v0.9h-0.9zM363.0 39.0h0.9v0.9h-0.9zM368.0 18.4h0.9v0.9h-0.9zM366.1 40.2h0.9v0.9h-0.9zM365.9 27.5h0.9v0.9h-0.9zM369.0 25.4h0.9v0.9h-0.9zM368.1 21.5h0.9v0.9h-0.9zM369.2 22.0h0.9v0.9h-0.9zM364.9 20.5h0.9v0.9h-0.9zM366.9 17.7h0.9v0.9h-0.9zM366.6 29.4h0.9v0.9h-0.9zM371.3 20.3h0.9v0.9h-0.9zM365.5 21.9h0.9v0.9h-0.9zM372.4 33.7h0.9v0.9h-0.9zM367.1 38.2h0.9v0.9h-0.9zM371.4 30.6h0.9v0.9h-0.9zM362.9 35.8h0.9v0.9h-0.9zM366.6 31.6h0.9v0.9h-0.9zM372.4 26.8h0.9v0.9h-0.9zM365.4 19.4h0.9v0.9h-0.9zM372.6 32.9h0.9v0.9h-0.9zM361.3 33.8h0.9v0.9h-0.9zM365.9 33.2h0.9v0.9h-0.9zM370.9 21.8h0.9v0.9h-0.9zM368.9 15.5h0.9v0.9h-0.9zM364.4 32.6h0.9v0.9h-0.9zM369.4 21.7h0.9v0.9h-0.9zM369.0 39.4h0.9v0.9h-0.9zM369.4 39.1h0.9v0.9h-0.9zM364.1 21.3h0.9v0.9h-0.9zM363.0 32.0h0.9v0.9h-0.9zM370.7 14.7h0.9v0.9h-0.9zM369.8 28.5h0.9v0.9h-0.9zM368.3 21.2h0.9v0.9h-0.9zM372.4 16.8h0.9v0.9h-0.9zM364.7 36.7h0.9v0.9h-0.9zM366.1 19.7h0.9v0.9h-0.9zM371.9 31.6h0.9v0.9h-0.9zM369.4 37.3h0.9v0.9h-0.9zM371.2 16.3h0.9v0.9h-0.9zM371.9 20.7h0.9v0.9h-0.9zM373.6 31.3h0.9v0.9h-0.9zM370.1 34.3h0.9v0.9h-0.9zM367.6 25.4h0.9v0.9h-0.9zM363.1 21.7h0.9v0.9h-0.9zM367.8 35.7h0.9v0.9h-0.9zM364.7 33.4h0.9v0.9h-0.9zM373.5 36.6h0.9v0.9h-0.9zM366.4 35.2h0.9v0.9h-0.9zM366.4 20.7h0.9v0.9h-0.9zM367.5 38.6h0.9v0.9h-0.9zM368.1 37.1h0.9v0.9h-0.9zM370.1 25.7h0.9v0.9h-0.9zM366.8 20.8h0.9v0.9h-0.9zM364.3 24.5h0.9v0.9h-0.9zM362.8 21.2h0.9v0.9h-0.9zM369.9 23.3h0.9v0.9h-0.9zM370.7 21.5h0.9v0.9h-0.9zM363.2 31.9h0.9v0.9h-0.9zM366.4 38.6h0.9v0.9h-0.9zM363.4 30.6h0.9v0.9h-0.9zM368.3 32.7h0.9v0.9h-0.9zM369.7 28.9h0.9v0.9h-0.9zM368.2 37.9h0.9v0.9h-0.9zM363.2 18.5h0.9v0.9h-0.9zM367.4 27.0h0.9v0.9h-0.9zM367.7 23.7h0.9v0.9h-0.9zM371.7 31.8h0.9v0.9h-0.9zM366.3 17.9h0.9v0.9h-0.9zM368.2 29.1h0.9v0.9h-0.9zM368.5 17.5h0.9v0.9h-0.9zM367.0 29.3h0.9v0.9h-0.9zM368.1 22.4h0.9v0.9h-0.9zM368.1 29.4h0.9v0.9h-0.9zM371.1 28.2h0.9v0.9h-0.9zM370.6 42.9h0.9v0.9h-0.9zM368.6 27.7h0.9v0.9h-0.9zM364.4 16.3h0.9v0.9h-0.9zM367.6 17.1h0.9v0.9h-0.9zM364.5 17.5h0.9v0.9h-0.9zM371.4 15.6h0.9v0.9h-0.9zM365.1 35.0h0.9v0.9h-0.9zM374.3 29.0h0.9v0.9h-0.9zM372.2 20.4h0.9v0.9h-0.9zM371.8 17.7h0.9v0.9h-0.9zM366.3 26.7h0.9v0.9h-0.9zM366.9 36.8h0.9v0.9h-0.9zM363.1 23.4h0.9v0.9h-0.9zM370.7 19.5h0.9v0.9h-0.9zM365.9 30.4h0.9v0.9h-0.9zM364.3 24.6h0.9v0.9h-0.9zM363.7 41.4h0.9v0.9h-0.9zM367.5 30.1h0.9v0.9h-0.9zM370.5 30.2h0.9v0.9h-0.9zM368.3 38.1h0.9v0.9h-0.9zM365.3 25.8h0.9v0.9h-0.9zM371.3 16.9h0.9v0.9h-0.9zM367.1 42.5h0.9v0.9h-0.9zM368.1 13.1h0.9v0.9h-0.9zM364.4 28.1h0.9v0.9h-0.9zM368.2 44.0h0.9v0.9h-0.9zM372.0 29.8h0.9v0.9h-0.9zM372.6 25.2h0.9v0.9h-0.9zM368.0 18.2h0.9v0.9h-0.9zM368.2 35.4h0.9v0.9h-0.9zM365.6 33.8h0.9v0.9h-0.9zM362.3 27.0h0.9v0.9h-0.9zM367.6 25.6h0.9v0.9h-0.9zM367.5 34.4h0.9v0.9h-0.9zM369.0 39.1h0.9v0.9h-0.9zM362.7 28.8h0.9v0.9h-0.9zM364.9 29.5h0.9v0.9h-0.9zM367.2 17.2h0.9v0.9h-0.9zM366.0 17.1h0.9v0.9h-0.9zM371.8 30.0h0.9v0.9h-0.9zM371.6 19.7h0.9v0.9h-0.9zM365.1 22.6h0.9v0.9h-0.9zM370.5 29.4h0.9v0.9h-0.9zM365.7 35.6h0.9v0.9h-0.9zM367.8 22.2h0.9v0.9h-0.9zM367.9 27.3h0.9v0.9h-0.9zM363.2 26.8h0.9v0.9h-0.9zM361.5 27.7h0.9v0.9h-0.9zM368.6 13.5h0.9v0.9h-0.9zM362.3 22.2h0.9v0.9h-0.9zM371.4 15.4h0.9v0.9h-0.9zM368.9 26.1h0.9v0.9h-0.9zM367.9 38.2h0.9v0.9h-0.9zM372.7 35.9h0.9v0.9h-0.9zM369.6 24.0h0.9v0.9h-0.9zM365.0 19.4h0.9v0.9h-0.9zM368.3 22.4h0.9v0.9h-0.9zM371.4 36.1h0.9v0.9h-0.9zM366.2 26.9h0.9v0.9h-0.9zM367.3 28.3h0.9v0.9h-0.9zM371.5 19.1h0.9v0.9h-0.9zM373.0 38.1h0.9v0.9h-0.9zM364.8 32.7h0.9v0.9h-0.9zM369.7 25.0h0.9v0.9h-0.9zM367.1 27.6h0.9v0.9h-0.9zM370.4 41.0h0.9v0.9h-0.9zM364.7 22.0h0.9v0.9h-0.9zM366.0 13.9h0.9v0.9h-0.9zM370.6 15.7h0.9v0.9h-0.9zM363.9 34.3h0.9v0.9h-0.9zM367.4 40.6h0.9v0.9h-0.9zM365.6 15.7h0.9v0.9h-0.9zM368.5 19.3h0.9v0.9h-0.9zM368.1 37.3h0.9v0.9h-0.9zM363.9 24.2h0.9v0.9h-0.9zM370.9 18.0h0.9v0.9h-0.9zM373.2 25.7h0.9v0.9h-0.9zM365.9 39.0h0.9v0.9h-0.9zM369.0 44.3h0.9v0.9h-0.9zM368.8 15.5h0.9v0.9h-0.9zM374.2 37.1h0.9v0.9h-0.9zM367.3 14.4h0.9v0.9h-0.9zM361.2 18.5h0.9v0.9h-0.9zM364.5 20.2h0.9v0.9h-0.9zM366.3 42.5h0.9v0.9h-0.9zM369.4 14.5h0.9v0.9h-0.9z" fill="#3a9cf6" fill-opacity="0.55"/>
<path d="M366.6 14.6h0.9v0.9h-0.9zM374.1 30.8h0.9v0.9h-0.9zM365.5 26.8h0.9v0.9h-0.9zM368.4 27.0h0.9v0.9h-0.9zM369.4 25.5h0.9v0.9h-0.9zM371.7 20.9h0.9v0.9h-0.9zM365.0 29.2h0.9v0.9h-0.9zM370.9 24.1h0.9v0.9h-0.9zM368.5 23.0h0.9v0.9h-0.9zM366.4 33.5h0.9v0.9h-0.9zM366.6 39.1h0.9v0.9h-0.9zM372.8 38.1h0.9v0.9h-0.9zM368.0 12.8h0.9v0.9h-0.9zM369.8 34.5h0.9v0.9h-0.9zM364.9 19.8h0.9v0.9h-0.9zM368.2 42.8h0.9v0.9h-0.9zM368.5 37.3h0.9v0.9h-0.9zM363.4 19.6h0.9v0.9h-0.9zM370.6 40.5h0.9v0.9h-0.9zM367.1 21.0h0.9v0.9h-0.9zM372.6 25.8h0.9v0.9h-0.9zM364.0 40.5h0.9v0.9h-0.9zM369.5 33.8h0.9v0.9h-0.9zM370.4 34.2h0.9v0.9h-0.9zM366.6 26.9h0.9v0.9h-0.9zM366.8 32.1h0.9v0.9h-0.9zM368.4 20.6h0.9v0.9h-0.9zM368.9 29.9h0.9v0.9h-0.9zM364.7 27.0h0.9v0.9h-0.9zM368.5 28.5h0.9v0.9h-0.9zM368.1 24.4h0.9v0.9h-0.9zM370.4 16.7h0.9v0.9h-0.9zM372.7 24.9h0.9v0.9h-0.9zM373.3 23.7h0.9v0.9h-0.9zM366.2 11.6h0.9v0.9h-0.9zM369.6 29.2h0.9v0.9h-0.9zM368.9 32.8h0.9v0.9h-0.9zM370.0 35.9h0.9v0.9h-0.9zM363.4 22.5h0.9v0.9h-0.9zM371.0 28.8h0.9v0.9h-0.9zM372.8 19.7h0.9v0.9h-0.9zM362.9 23.0h0.9v0.9h-0.9zM369.9 25.7h0.9v0.9h-0.9zM372.4 33.1h0.9v0.9h-0.9zM363.6 26.6h0.9v0.9h-0.9zM367.6 25.8h0.9v0.9h-0.9zM366.9 24.6h0.9v0.9h-0.9zM365.3 35.5h0.9v0.9h-0.9zM366.7 38.5h0.9v0.9h-0.9zM372.0 27.6h0.9v0.9h-0.9zM366.9 40.5h0.9v0.9h-0.9zM368.4 26.0h0.9v0.9h-0.9zM369.0 34.4h0.9v0.9h-0.9zM367.4 35.5h0.9v0.9h-0.9zM368.2 26.1h0.9v0.9h-0.9zM367.8 30.7h0.9v0.9h-0.9zM363.6 21.4h0.9v0.9h-0.9zM368.2 16.1h0.9v0.9h-0.9zM365.3 14.4h0.9v0.9h-0.9zM372.0 31.4h0.9v0.9h-0.9zM373.4 38.5h0.9v0.9h-0.9zM361.9 27.1h0.9v0.9h-0.9zM368.1 31.2h0.9v0.9h-0.9zM363.5 29.2h0.9v0.9h-0.9zM364.1 26.2h0.9v0.9h-0.9zM371.2 19.9h0.9v0.9h-0.9zM373.4 27.3h0.9v0.9h-0.9zM368.3 19.6h0.9v0.9h-0.9zM365.9 26.7h0.9v0.9h-0.9zM367.4 39.3h0.9v0.9h-0.9zM372.6 38.7h0.9v0.9h-0.9zM366.9 29.4h0.9v0.9h-0.9zM362.4 29.2h0.9v0.9h-0.9zM367.4 23.6h0.9v0.9h-0.9zM365.8 24.8h0.9v0.9h-0.9zM371.6 33.5h0.9v0.9h-0.9zM365.2 31.7h0.9v0.9h-0.9zM368.1 33.0h0.9v0.9h-0.9zM364.3 29.5h0.9v0.9h-0.9zM362.6 24.6h0.9v0.9h-0.9zM370.7 32.9h0.9v0.9h-0.9zM365.8 32.0h0.9v0.9h-0.9zM363.1 21.5h0.9v0.9h-0.9zM369.9 21.0h0.9v0.9h-0.9zM365.2 18.6h0.9v0.9h-0.9zM365.8 34.0h0.9v0.9h-0.9zM372.7 18.3h0.9v0.9h-0.9zM372.0 16.8h0.9v0.9h-0.9zM367.9 20.9h0.9v0.9h-0.9zM366.1 22.3h0.9v0.9h-0.9zM366.0 21.7h0.9v0.9h-0.9zM368.4 28.6h0.9v0.9h-0.9zM368.8 33.9h0.9v0.9h-0.9zM372.6 25.9h0.9v0.9h-0.9zM371.1 41.4h0.9v0.9h-0.9zM370.5 31.0h0.9v0.9h-0.9zM371.7 19.5h0.9v0.9h-0.9zM367.9 38.1h0.9v0.9h-0.9zM373.0 27.9h0.9v0.9h-0.9zM365.9 39.2h0.9v0.9h-0.9zM365.9 17.3h0.9v0.9h-0.9zM366.6 33.0h0.9v0.9h-0.9zM369.1 31.3h0.9v0.9h-0.9zM367.2 23.6h0.9v0.9h-0.9zM370.4 33.8h0.9v0.9h-0.9zM369.3 35.5h0.9v0.9h-0.9zM369.7 35.1h0.9v0.9h-0.9zM369.1 37.0h0.9v0.9h-0.9zM371.5 40.7h0.9v0.9h-0.9zM363.9 22.4h0.9v0.9h-0.9zM364.2 39.0h0.9v0.9h-0.9zM371.4 32.9h0.9v0.9h-0.9zM365.4 28.4h0.9v0.9h-0.9zM366.8 21.0h0.9v0.9h-0.9zM368.4 25.8h0.9v0.9h-0.9zM367.1 39.2h0.9v0.9h-0.9zM369.0 42.5h0.9v0.9h-0.9zM367.7 38.0h0.9v0.9h-0.9zM371.0 39.9h0.9v0.9h-0.9zM364.8 41.7h0.9v0.9h-0.9zM369.3 34.7h0.9v0.9h-0.9zM363.6 30.5h0.9v0.9h-0.9zM363.1 29.1h0.9v0.9h-0.9zM368.4 27.7h0.9v0.9h-0.9zM366.5 30.2h0.9v0.9h-0.9zM371.8 30.2h0.9v0.9h-0.9zM365.2 20.3h0.9v0.9h-0.9zM365.3 22.1h0.9v0.9h-0.9zM370.6 37.3h0.9v0.9h-0.9zM370.8 22.8h0.9v0.9h-0.9zM370.6 28.5h0.9v0.9h-0.9zM365.7 24.0h0.9v0.9h-0.9zM364.5 13.9h0.9v0.9h-0.9zM370.1 19.5h0.9v0.9h-0.9zM364.4 36.0h0.9v0.9h-0.9zM369.9 32.6h0.9v0.9h-0.9zM366.1 43.5h0.9v0.9h-0.9zM369.3 30.2h0.9v0.9h-0.9zM370.9 26.7h0.9v0.9h-0.9zM372.8 28.4h0.9v0.9h-0.9zM372.3 36.2h0.9v0.9h-0.9zM366.6 32.6h0.9v0.9h-0.9zM372.3 33.0h0.9v0.9h-0.9zM367.9 28.7h0.9v0.9h-0.9zM374.3 27.1h0.9v0.9h-0.9zM368.1 34.5h0.9v0.9h-0.9zM374.3 31.8h0.9v0.9h-0.9zM368.2 32.2h0.9v0.9h-0.9zM374.4 30.6h0.9v0.9h-0.9zM365.9 18.4h0.9v0.9h-0.9zM369.0 29.0h0.9v0.9h-0.9zM365.2 34.1h0.9v0.9h-0.9zM369.0 33.4h0.9v0.9h-0.9zM363.1 16.0h0.9v0.9h-0.9zM364.5 32.4h0.9v0.9h-0.9zM363.1 32.6h0.9v0.9h-0.9zM366.9 27.3h0.9v0.9h-0.9zM367.3 19.4h0.9v0.9h-0.9zM366.2 27.2h0.9v0.9h-0.9zM368.6 29.8h0.9v0.9h-0.9zM368.7 27.5h0.9v0.9h-0.9zM365.7 24.7h0.9v0.9h-0.9zM373.0 23.2h0.9v0.9h-0.9zM367.9 19.0h0.9v0.9h-0.9zM364.9 27.5h0.9v0.9h-0.9zM369.1 33.0h0.9v0.9h-0.9zM362.0 12.4h0.9v0.9h-0.9zM362.7 18.5h0.9v0.9h-0.9zM359.3 29.9h0.9v0.9h-0.9zM364.2 10.6h0.9v0.9h-0.9z" fill="#3a9cf6" fill-opacity="0.55"/>
<path d="M364.9 24.7h0.9v0.9h-0.9zM365.7 36.6h0.9v0.9h-0.9zM373.4 32.8h0.9v0.9h-0.9zM366.4 20.9h0.9v0.9h-0.9zM361.3 34.3h0.9v0.9h-0.9zM367.5 34.7h0.9v0.9h-0.9zM362.6 18.9h0.9v0.9h-0.9zM368.9 16.3h0.9v0.9h-0.9zM364.7 29.1h0.9v0.9h-0.9zM373.9 21.1h0.9v0.9h-0.9zM365.5 33.7h0.9v0.9h-0.9zM367.5 20.0h0.9v0.9h-0.9zM365.7 28.8h0.9v0.9h-0.9zM370.2 32.9h0.9v0.9h-0.9zM363.1 22.3h0.9v0.9h-0.9zM365.0 24.5h0.9v0.9h-0.9zM368.5 32.4h0.9v0.9h-0.9zM369.2 20.5h0.9v0.9h-0.9zM365.7 27.2h0.9v0.9h-0.9zM366.2 35.9h0.9v0.9h-0.9zM364.5 24.1h0.9v0.9h-0.9zM367.8 38.1h0.9v0.9h-0.9zM367.1 13.2h0.9v0.9h-0.9zM368.7 35.0h0.9v0.9h-0.9zM366.0 36.6h0.9v0.9h-0.9zM366.0 31.3h0.9v0.9h-0.9zM373.7 25.4h0.9v0.9h-0.9zM369.1 30.2h0.9v0.9h-0.9zM370.3 27.3h0.9v0.9h-0.9zM370.0 38.7h0.9v0.9h-0.9zM369.7 26.1h0.9v0.9h-0.9zM368.8 18.2h0.9v0.9h-0.9zM366.6 29.3h0.9v0.9h-0.9zM372.1 36.6h0.9v0.9h-0.9zM361.5 30.4h0.9v0.9h-0.9zM371.4 14.9h0.9v0.9h-0.9zM364.2 36.5h0.9v0.9h-0.9zM362.9 33.4h0.9v0.9h-0.9zM363.3 21.1h0.9v0.9h-0.9zM365.8 38.0h0.9v0.9h-0.9zM368.4 32.0h0.9v0.9h-0.9zM366.9 31.8h0.9v0.9h-0.9zM363.6 28.5h0.9v0.9h-0.9zM368.8 25.1h0.9v0.9h-0.9zM370.4 26.5h0.9v0.9h-0.9zM372.6 21.4h0.9v0.9h-0.9zM370.2 31.4h0.9v0.9h-0.9zM368.5 23.2h0.9v0.9h-0.9zM363.2 24.2h0.9v0.9h-0.9zM371.4 22.4h0.9v0.9h-0.9zM366.2 25.1h0.9v0.9h-0.9zM371.9 39.6h0.9v0.9h-0.9zM364.4 15.1h0.9v0.9h-0.9zM370.5 27.8h0.9v0.9h-0.9zM370.2 29.7h0.9v0.9h-0.9zM368.6 22.0h0.9v0.9h-0.9zM369.2 21.5h0.9v0.9h-0.9zM371.8 35.3h0.9v0.9h-0.9zM364.8 35.6h0.9v0.9h-0.9zM368.0 25.4h0.9v0.9h-0.9zM365.3 26.1h0.9v0.9h-0.9zM364.3 38.0h0.9v0.9h-0.9zM364.1 39.1h0.9v0.9h-0.9zM367.9 34.9h0.9v0.9h-0.9zM370.6 26.5h0.9v0.9h-0.9zM368.9 27.5h0.9v0.9h-0.9zM372.2 21.3h0.9v0.9h-0.9zM366.2 44.5h0.9v0.9h-0.9zM367.8 29.2h0.9v0.9h-0.9zM368.1 21.7h0.9v0.9h-0.9zM369.6 31.3h0.9v0.9h-0.9zM363.6 35.1h0.9v0.9h-0.9zM366.4 35.0h0.9v0.9h-0.9zM369.4 35.5h0.9v0.9h-0.9zM365.9 31.6h0.9v0.9h-0.9zM367.5 12.5h0.9v0.9h-0.9zM366.2 34.4h0.9v0.9h-0.9zM367.2 15.7h0.9v0.9h-0.9zM370.6 30.4h0.9v0.9h-0.9zM372.9 30.1h0.9v0.9h-0.9zM369.9 29.7h0.9v0.9h-0.9zM369.6 36.2h0.9v0.9h-0.9zM364.2 37.6h0.9v0.9h-0.9zM370.0 20.6h0.9v0.9h-0.9zM364.1 38.4h0.9v0.9h-0.9zM362.7 21.7h0.9v0.9h-0.9zM372.4 30.6h0.9v0.9h-0.9zM370.0 13.1h0.9v0.9h-0.9zM371.0 38.4h0.9v0.9h-0.9zM366.1 16.2h0.9v0.9h-0.9zM364.7 33.9h0.9v0.9h-0.9zM370.6 33.6h0.9v0.9h-0.9zM365.7 26.5h0.9v0.9h-0.9zM368.8 40.2h0.9v0.9h-0.9zM366.2 24.8h0.9v0.9h-0.9zM367.0 30.0h0.9v0.9h-0.9zM371.5 20.9h0.9v0.9h-0.9zM368.7 31.9h0.9v0.9h-0.9zM367.4 22.3h0.9v0.9h-0.9zM367.2 19.5h0.9v0.9h-0.9zM367.1 12.7h0.9v0.9h-0.9zM369.4 37.4h0.9v0.9h-0.9zM365.6 17.2h0.9v0.9h-0.9zM368.3 37.6h0.9v0.9h-0.9zM367.8 15.7h0.9v0.9h-0.9zM368.8 44.5h0.9v0.9h-0.9zM371.5 25.5h0.9v0.9h-0.9zM365.5 39.8h0.9v0.9h-0.9zM364.1 36.0h0.9v0.9h-0.9zM361.2 33.2h0.9v0.9h-0.9zM370.2 27.7h0.9v0.9h-0.9zM364.6 35.8h0.9v0.9h-0.9zM373.5 21.1h0.9v0.9h-0.9zM367.6 21.5h0.9v0.9h-0.9zM371.2 29.6h0.9v0.9h-0.9zM366.1 25.4h0.9v0.9h-0.9zM364.3 33.4h0.9v0.9h-0.9zM372.6 31.1h0.9v0.9h-0.9zM370.1 22.6h0.9v0.9h-0.9zM369.8 19.0h0.9v0.9h-0.9zM365.2 29.4h0.9v0.9h-0.9zM366.1 32.8h0.9v0.9h-0.9zM367.5 15.0h0.9v0.9h-0.9zM369.1 17.6h0.9v0.9h-0.9zM365.4 18.9h0.9v0.9h-0.9zM364.2 31.1h0.9v0.9h-0.9zM367.5 31.2h0.9v0.9h-0.9zM363.0 37.0h0.9v0.9h-0.9zM361.2 25.1h0.9v0.9h-0.9zM366.6 43.7h0.9v0.9h-0.9zM363.4 38.7h0.9v0.9h-0.9zM361.3 23.1h0.9v0.9h-0.9zM362.1 20.3h0.9v0.9h-0.9zM364.7 12.9h0.9v0.9h-0.9zM366.0 21.9h0.9v0.9h-0.9zM372.8 23.4h0.9v0.9h-0.9zM369.4 40.6h0.9v0.9h-0.9zM364.1 22.3h0.9v0.9h-0.9zM366.8 26.1h0.9v0.9h-0.9zM371.8 36.1h0.9v0.9h-0.9zM373.0 34.1h0.9v0.9h-0.9zM371.4 36.1h0.9v0.9h-0.9zM366.7 37.4h0.9v0.9h-0.9zM364.5 37.8h0.9v0.9h-0.9zM365.1 20.2h0.9v0.9h-0.9zM370.2 25.2h0.9v0.9h-0.9zM361.1 29.4h0.9v0.9h-0.9zM364.5 26.0h0.9v0.9h-0.9zM371.4 40.1h0.9v0.9h-0.9zM368.3 43.4h0.9v0.9h-0.9zM373.4 20.7h0.9v0.9h-0.9zM362.1 34.6h0.9v0.9h-0.9zM368.2 32.1h0.9v0.9h-0.9zM361.6 20.5h0.9v0.9h-0.9zM368.1 20.8h0.9v0.9h-0.9zM366.3 23.2h0.9v0.9h-0.9zM369.6 20.1h0.9v0.9h-0.9zM366.7 18.5h0.9v0.9h-0.9zM363.5 33.7h0.9v0.9h-0.9zM365.9 34.0h0.9v0.9h-0.9zM366.2 27.8h0.9v0.9h-0.9zM362.9 16.3h0.9v0.9h-0.9zM362.0 34.6h0.9v0.9h-0.9zM364.6 20.1h0.9v0.9h-0.9zM360.5 37.9h0.9v0.9h-0.9zM372.1 42.1h0.9v0.9h-0.9zM371.9 19.9h0.9v0.9h-0.9zM366.3 11.3h0.9v0.9h-0.9zM365.2 15.5h0.9v0.9h-0.9zM376.4 26.2h0.9v0.9h-0.9z" fill="#3a9cf6" fill-opacity="0.55"/>
<path d="M367.0 19.3h0.9v0.9h-0.9zM366.3 25.9h0.9v0.9h-0.9zM366.3 36.0h0.9v0.9h-0.9zM367.6 24.5h0.9v0.9h-0.9zM366.9 27.2h0.9v0.9h-0.9zM364.4 29.7h0.9v0.9h-0.9zM367.6 35.5h0.9v0.9h-0.9zM365.6 38.5h0.9v0.9h-0.9zM368.1 23.6h0.9v0.9h-0.9zM364.1 25.7h0.9v0.9h-0.9zM363.4 23.6h0.9v0.9h-0.9zM367.5 32.1h0.9v0.9h-0.9zM364.6 35.0h0.9v0.9h-0.9zM366.3 41.1h0.9v0.9h-0.9zM366.0 38.5h0.9v0.9h-0.9zM363.4 27.6h0.9v0.9h-0.9zM365.0 25.9h0.9v0.9h-0.9zM366.3 38.6h0.9v0.9h-0.9zM367.2 26.8h0.9v0.9h-0.9zM365.4 33.6h0.9v0.9h-0.9zM364.7 30.8h0.9v0.9h-0.9zM366.3 17.5h0.9v0.9h-0.9zM368.2 32.4h0.9v0.9h-0.9zM363.2 30.9h0.9v0.9h-0.9zM367.4 32.8h0.9v0.9h-0.9zM365.3 38.3h0.9v0.9h-0.9zM365.4 30.7h0.9v0.9h-0.9zM366.7 23.5h0.9v0.9h-0.9zM365.7 31.9h0.9v0.9h-0.9zM363.7 31.1h0.9v0.9h-0.9zM365.0 40.3h0.9v0.9h-0.9zM363.9 25.5h0.9v0.9h-0.9zM366.6 20.4h0.9v0.9h-0.9zM365.0 26.1h0.9v0.9h-0.9zM365.7 35.4h0.9v0.9h-0.9zM366.9 26.9h0.9v0.9h-0.9zM363.7 30.0h0.9v0.9h-0.9zM366.2 22.4h0.9v0.9h-0.9z" fill="#3a9cf6" fill-opacity="0.5"/>
<path d="M367.9 33.8h0.9v0.9h-0.9zM367.6 35.6h0.9v0.9h-0.9zM365.2 35.9h0.9v0.9h-0.9zM366.0 38.8h0.9v0.9h-0.9zM364.6 29.8h0.9v0.9h-0.9zM365.1 20.0h0.9v0.9h-0.9zM367.3 33.1h0.9v0.9h-0.9zM364.3 20.4h0.9v0.9h-0.9zM366.9 30.4h0.9v0.9h-0.9zM365.4 38.8h0.9v0.9h-0.9zM367.2 26.7h0.9v0.9h-0.9zM366.1 30.8h0.9v0.9h-0.9zM366.0 28.5h0.9v0.9h-0.9zM364.0 33.6h0.9v0.9h-0.9zM364.7 19.0h0.9v0.9h-0.9zM364.5 25.2h0.9v0.9h-0.9zM364.8 29.8h0.9v0.9h-0.9zM366.5 25.1h0.9v0.9h-0.9zM365.4 32.2h0.9v0.9h-0.9zM363.0 36.4h0.9v0.9h-0.9zM365.3 39.3h0.9v0.9h-0.9zM364.1 27.8h0.9v0.9h-0.9zM364.3 31.3h0.9v0.9h-0.9zM366.5 30.1h0.9v0.9h-0.9zM367.8 33.7h0.9v0.9h-0.9zM366.2 28.6h0.9v0.9h-0.9zM367.4 36.4h0.9v0.9h-0.9zM364.0 26.2h0.9v0.9h-0.9zM364.9 38.9h0.9v0.9h-0.9zM365.5 37.7h0.9v0.9h-0.9zM365.0 21.5h0.9v0.9h-0.9zM366.3 29.1h0.9v0.9h-0.9zM365.9 26.0h0.9v0.9h-0.9zM363.3 29.3h0.9v0.9h-0.9zM367.4 25.6h0.9v0.9h-0.9zM364.7 25.7h0.9v0.9h-0.9zM366.2 25.7h0.9v0.9h-0.9zM365.8 37.5h0.9v0.9h-0.9z" fill="#3a9cf6" fill-opacity="0.5"/>
<path d="M366.1 27.1h0.9v0.9h-0.9zM363.4 32.0h0.9v0.9h-0.9zM365.8 28.7h0.9v0.9h-0.9zM365.2 29.4h0.9v0.9h-0.9zM366.9 35.0h0.9v0.9h-0.9zM363.8 33.4h0.9v0.9h-0.9zM366.8 36.4h0.9v0.9h-0.9zM363.8 29.9h0.9v0.9h-0.9zM363.5 37.6h0.9v0.9h-0.9zM365.5 28.7h0.9v0.9h-0.9zM365.4 34.7h0.9v0.9h-0.9zM368.0 33.9h0.9v0.9h-0.9zM364.5 25.6h0.9v0.9h-0.9zM364.5 19.4h0.9v0.9h-0.9zM364.5 26.6h0.9v0.9h-0.9zM365.2 34.1h0.9v0.9h-0.9zM365.5 28.7h0.9v0.9h-0.9zM367.4 39.2h0.9v0.9h-0.9zM365.5 25.9h0.9v0.9h-0.9zM365.5 38.6h0.9v0.9h-0.9zM365.2 29.7h0.9v0.9h-0.9zM364.4 32.6h0.9v0.9h-0.9zM364.8 24.1h0.9v0.9h-0.9zM365.2 27.0h0.9v0.9h-0.9zM365.8 25.7h0.9v0.9h-0.9zM367.1 27.0h0.9v0.9h-0.9zM365.8 32.0h0.9v0.9h-0.9zM363.4 33.2h0.9v0.9h-0.9zM364.8 23.9h0.9v0.9h-0.9zM365.8 31.1h0.9v0.9h-0.9zM365.6 19.7h0.9v0.9h-0.9zM363.2 24.4h0.9v0.9h-0.9zM366.3 32.8h0.9v0.9h-0.9zM364.6 25.3h0.9v0.9h-0.9zM365.5 16.9h0.9v0.9h-0.9zM364.1 20.5h0.9v0.9h-0.9zM364.4 35.3h0.9v0.9h-0.9zM366.5 29.6h0.9v0.9h-0.9z" fill="#3a9cf6" fill-opacity="0.5"/>
<path d="M364.9 22.0h0.9v0.9h-0.9zM365.2 36.6h0.9v0.9h-0.9zM362.9 32.4h0.9v0.9h-0.9zM363.3 32.1h0.9v0.9h-0.9zM365.9 32.2h0.9v0.9h-0.9zM364.5 34.4h0.9v0.9h-0.9zM366.1 30.0h0.9v0.9h-0.9zM365.3 34.6h0.9v0.9h-0.9zM365.4 30.9h0.9v0.9h-0.9zM365.0 22.8h0.9v0.9h-0.9zM365.6 17.6h0.9v0.9h-0.9zM364.0 33.3h0.9v0.9h-0.9zM364.8 19.9h0.9v0.9h-0.9zM364.3 29.4h0.9v0.9h-0.9zM364.0 26.9h0.9v0.9h-0.9zM365.4 39.0h0.9v0.9h-0.9zM363.1 25.0h0.9v0.9h-0.9zM366.8 21.7h0.9v0.9h-0.9zM362.5 25.2h0.9v0.9h-0.9zM365.5 22.6h0.9v0.9h-0.9zM365.8 18.3h0.9v0.9h-0.9zM365.0 25.3h0.9v0.9h-0.9zM366.4 26.5h0.9v0.9h-0.9zM364.9 38.2h0.9v0.9h-0.9zM366.3 18.6h0.9v0.9h-0.9zM367.0 40.2h0.9v0.9h-0.9zM365.7 31.0h0.9v0.9h-0.9zM368.4 28.5h0.9v0.9h-0.9zM366.7 33.7h0.9v0.9h-0.9zM366.1 29.1h0.9v0.9h-0.9zM365.4 38.4h0.9v0.9h-0.9zM364.1 29.5h0.9v0.9h-0.9zM365.9 31.9h0.9v0.9h-0.9zM366.7 21.3h0.9v0.9h-0.9zM364.7 34.7h0.9v0.9h-0.9zM366.0 16.9h0.9v0.9h-0.9zM365.1 38.8h0.9v0.9h-0.9zM363.5 40.0h0.9v0.9h-0.9z" fill="#3a9cf6" fill-opacity="0.5"/>
<path d="M365.8 27.1h0.9v0.9h-0.9zM364.1 18.3h0.9v0.9h-0.9zM366.4 33.4h0.9v0.9h-0.9zM363.2 22.0h0.9v0.9h-0.9zM364.3 21.7h0.9v0.9h-0.9zM364.7 17.8h0.9v0.9h-0.9zM365.4 27.7h0.9v0.9h-0.9zM364.7 30.3h0.9v0.9h-0.9zM366.2 29.4h0.9v0.9h-0.9zM364.6 38.9h0.9v0.9h-0.9zM366.6 36.9h0.9v0.9h-0.9zM366.8 23.9h0.9v0.9h-0.9zM366.4 29.4h0.9v0.9h-0.9zM364.1 30.7h0.9v0.9h-0.9zM365.1 27.0h0.9v0.9h-0.9zM366.4 32.2h0.9v0.9h-0.9zM364.2 28.4h0.9v0.9h-0.9zM365.3 18.6h0.9v0.9h-0.9zM365.6 27.9h0.9v0.9h-0.9zM367.5 31.4h0.9v0.9h-0.9zM367.3 33.3h0.9v0.9h-0.9zM364.6 34.9h0.9v0.9h-0.9zM362.8 25.1h0.9v0.9h-0.9zM366.6 22.3h0.9v0.9h-0.9zM362.9 35.7h0.9v0.9h-0.9zM365.7 38.4h0.9v0.9h-0.9zM365.2 32.6h0.9v0.9h-0.9zM367.3 22.8h0.9v0.9h-0.9zM362.9 23.7h0.9v0.9h-0.9zM366.0 36.2h0.9v0.9h-0.9zM365.9 27.9h0.9v0.9h-0.9zM365.8 30.6h0.9v0.9h-0.9zM365.2 30.6h0.9v0.9h-0.9zM366.2 24.8h0.9v0.9h-0.9zM365.0 23.4h0.9v0.9h-0.9zM367.4 27.6h0.9v0.9h-0.9zM366.2 17.2h0.9v0.9h-0.9z" fill="#3a9cf6" fill-opacity="0.5"/>
<path d="M364.8 28.9h0.9v0.9h-0.9zM366.4 31.5h0.9v0.9h-0.9zM366.2 20.8h0.9v0.9h-0.9zM364.5 20.0h0.9v0.9h-0.9zM364.7 27.8h0.9v0.9h-0.9zM365.2 27.0h0.9v0.9h-0.9zM364.7 29.3h0.9v0.9h-0.9zM363.9 25.9h0.9v0.9h-0.9zM364.6 33.2h0.9v0.9h-0.9zM365.7 34.6h0.9v0.9h-0.9zM366.0 35.6h0.9v0.9h-0.9zM364.5 26.6h0.9v0.9h-0.9zM365.6 32.2h0.9v0.9h-0.9zM364.9 26.4h0.9v0.9h-0.9zM363.0 30.5h0.9v0.9h-0.9zM364.9 32.0h0.9v0.9h-0.9zM364.3 23.1h0.9v0.9h-0.9zM367.9 33.3h0.9v0.9h-0.9zM365.6 35.7h0.9v0.9h-0.9zM365.7 30.6h0.9v0.9h-0.9zM364.9 21.1h0.9v0.9h-0.9zM367.3 37.1h0.9v0.9h-0.9zM365.2 21.6h0.9v0.9h-0.9zM366.8 31.5h0.9v0.9h-0.9zM365.0 32.1h0.9v0.9h-0.9zM364.6 26.9h0.9v0.9h-0.9zM367.7 21.6h0.9v0.9h-0.9zM362.7 22.5h0.9v0.9h-0.9zM367.0 23.4h0.9v0.9h-0.9zM367.0 25.8h0.9v0.9h-0.9zM367.3 27.6h0.9v0.9h-0.9zM364.2 30.0h0.9v0.9h-0.9zM364.7 22.7h0.9v0.9h-0.9zM366.2 30.1h0.9v0.9h-0.9zM363.9 31.2h0.9v0.9h-0.9zM364.1 38.7h0.9v0.9h-0.9zM362.8 36.0h0.9v0.9h-0.9z" fill="#3a9cf6" fill-opacity="0.5"/>
<path d="M366.8 31.4h0.9v0.9h-0.9zM366.3 29.4h0.9v0.9h-0.9zM366.4 17.9h0.9v0.9h-0.9zM363.9 27.1h0.9v0.9h-0.9zM364.1 18.2h0.9v0.9h-0.9zM366.6 26.0h0.9v0.9h-0.9zM365.8 20.7h0.9v0.9h-0.9zM368.3 30.8h0.9v0.9h-0.9zM364.6 30.1h0.9v0.9h-0.9zM365.8 21.5h0.9v0.9h-0.9zM368.4 27.3h0.9v0.9h-0.9zM364.2 32.3h0.9v0.9h-0.9zM366.7 24.9h0.9v0.9h-0.9zM363.9 31.9h0.9v0.9h-0.9zM366.1 32.8h0.9v0.9h-0.9zM365.2 26.5h0.9v0.9h-0.9zM364.8 27.8h0.9v0.9h-0.9zM367.1 30.5h0.9v0.9h-0.9zM366.3 32.0h0.9v0.9h-0.9zM367.4 36.3h0.9v0.9h-0.9zM365.9 40.9h0.9v0.9h-0.9zM363.5 27.6h0.9v0.9h-0.9zM363.7 31.0h0.9v0.9h-0.9zM367.8 32.9h0.9v0.9h-0.9zM365.6 33.4h0.9v0.9h-0.9zM366.5 23.4h0.9v0.9h-0.9zM366.2 36.9h0.9v0.9h-0.9zM367.4 26.8h0.9v0.9h-0.9zM366.2 27.2h0.9v0.9h-0.9zM364.6 33.6h0.9v0.9h-0.9zM365.9 30.2h0.9v0.9h-0.9zM365.3 17.0h0.9v0.9h-0.9zM365.9 33.1h0.9v0.9h-0.9zM365.8 21.9h0.9v0.9h-0.9zM366.4 37.1h0.9v0.9h-0.9zM365.6 33.6h0.9v0.9h-0.9zM363.2 24.2h0.9v0.9h-0.9z" fill="#3a9cf6" fill-opacity="0.5"/>
<path d="M363.0 28.5h0.9v0.9h-0.9zM366.0 25.5h0.9v0.9h-0.9zM368.2 30.6h0.9v0.9h-0.9zM365.4 35.7h0.9v0.9h-0.9zM364.7 34.0h0.9v0.9h-0.9zM364.6 36.3h0.9v0.9h-0.9zM362.3 31.6h0.9v0.9h-0.9zM366.1 21.9h0.9v0.9h-0.9zM364.1 17.9h0.9v0.9h-0.9zM367.2 30.8h0.9v0.9h-0.9zM367.0 22.7h0.9v0.9h-0.9zM367.6 37.5h0.9v0.9h-0.9zM365.1 17.0h0.9v0.9h-0.9zM365.2 19.3h0.9v0.9h-0.9zM363.1 28.9h0.9v0.9h-0.9zM366.8 23.2h0.9v0.9h-0.9zM365.0 40.7h0.9v0.9h-0.9zM365.3 31.2h0.9v0.9h-0.9zM366.7 31.4h0.9v0.9h-0.9zM365.9 17.8h0.9v0.9h-0.9zM364.2 21.7h0.9v0.9h-0.9zM365.9 17.4h0.9v0.9h-0.9zM367.7 28.5h0.9v0.9h-0.9zM367.5 29.9h0.9v0.9h-0.9zM365.0 27.3h0.9v0.9h-0.9zM364.7 22.6h0.9v0.9h-0.9zM364.8 20.8h0.9v0.9h-0.9zM365.2 35.7h0.9v0.9h-0.9zM363.2 21.5h0.9v0.9h-0.9zM364.4 21.3h0.9v0.9h-0.9zM365.7 29.5h0.9v0.9h-0.9zM363.6 20.4h0.9v0.9h-0.9zM365.7 22.2h0.9v0.9h-0.9zM363.9 22.9h0.9v0.9h-0.9zM364.4 30.7h0.9v0.9h-0.9zM363.9 37.5h0.9v0.9h-0.9zM366.4 26.6h0.9v0.9h-0.9z" fill="#3a9cf6" fill-opacity="0.5"/>
<path d="M367.5 40.2h0.8v0.8h-0.8zM367.0 14.1h0.8v0.8h-0.8zM371.7 37.3h0.8v0.8h-0.8zM371.8 20.3h0.8v0.8h-0.8zM368.5 34.2h0.8v0.8h-0.8zM369.7 20.3h0.8v0.8h-0.8zM368.0 39.9h0.8v0.8h-0.8zM373.6 18.7h0.8v0.8h-0.8zM370.2 25.4h0.8v0.8h-0.8zM368.9 36.5h0.8v0.8h-0.8zM370.9 27.8h0.8v0.8h-0.8zM367.2 34.8h0.8v0.8h-0.8zM370.5 21.2h0.8v0.8h-0.8zM367.1 25.6h0.8v0.8h-0.8zM369.5 18.0h0.8v0.8h-0.8zM368.9 31.9h0.8v0.8h-0.8zM371.5 21.8h0.8v0.8h-0.8zM369.9 13.4h0.8v0.8h-0.8zM366.5 26.9h0.8v0.8h-0.8zM370.2 31.0h0.8v0.8h-0.8zM367.6 19.2h0.8v0.8h-0.8zM368.4 27.4h0.8v0.8h-0.8zM368.1 38.3h0.8v0.8h-0.8zM367.5 23.9h0.8v0.8h-0.8zM367.5 22.6h0.8v0.8h-0.8zM369.5 34.4h0.8v0.8h-0.8zM371.7 38.2h0.8v0.8h-0.8zM370.2 17.8h0.8v0.8h-0.8zM369.5 39.3h0.8v0.8h-0.8zM366.0 25.8h0.8v0.8h-0.8zM367.8 27.6h0.8v0.8h-0.8zM373.2 20.6h0.8v0.8h-0.8zM369.1 33.7h0.8v0.8h-0.8zM371.5 25.6h0.8v0.8h-0.8zM369.0 23.7h0.8v0.8h-0.8zM370.8 27.6h0.8v0.8h-0.8zM368.1 26.8h0.8v0.8h-0.8zM372.3 17.4h0.8v0.8h-0.8zM371.2 13.9h0.8v0.8h-0.8zM370.5 14.8h0.8v0.8h-0.8z" fill="#ffffff" fill-opacity="0.65"/>
<path d="M369.3 14.2h0.8v0.8h-0.8zM369.9 18.9h0.8v0.8h-0.8zM368.3 13.7h0.8v0.8h-0.8zM370.2 18.9h0.8v0.8h-0.8zM374.3 24.6h0.8v0.8h-0.8zM368.1 16.9h0.8v0.8h-0.8zM372.9 33.1h0.8v0.8h-0.8zM368.5 16.2h0.8v0.8h-0.8zM368.8 28.1h0.8v0.8h-0.8zM371.9 17.2h0.8v0.8h-0.8zM369.1 19.3h0.8v0.8h-0.8zM370.6 21.7h0.8v0.8h-0.8zM368.4 29.0h0.8v0.8h-0.8zM371.0 28.7h0.8v0.8h-0.8zM369.1 21.7h0.8v0.8h-0.8zM370.7 37.5h0.8v0.8h-0.8zM372.0 37.6h0.8v0.8h-0.8zM369.9 36.8h0.8v0.8h-0.8zM369.1 22.5h0.8v0.8h-0.8zM370.6 31.4h0.8v0.8h-0.8zM371.5 20.4h0.8v0.8h-0.8zM370.0 31.9h0.8v0.8h-0.8zM365.3 24.7h0.8v0.8h-0.8zM365.5 25.9h0.8v0.8h-0.8zM366.3 26.3h0.8v0.8h-0.8zM366.4 35.7h0.8v0.8h-0.8zM365.4 29.9h0.8v0.8h-0.8zM374.2 27.5h0.8v0.8h-0.8zM367.9 26.7h0.8v0.8h-0.8zM367.4 15.6h0.8v0.8h-0.8zM374.1 25.1h0.8v0.8h-0.8zM370.2 13.5h0.8v0.8h-0.8zM370.9 22.6h0.8v0.8h-0.8zM369.5 39.3h0.8v0.8h-0.8zM374.0 20.4h0.8v0.8h-0.8zM366.8 25.4h0.8v0.8h-0.8zM372.1 29.2h0.8v0.8h-0.8zM370.1 20.7h0.8v0.8h-0.8zM369.5 26.3h0.8v0.8h-0.8zM369.8 32.7h0.8v0.8h-0.8z" fill="#ffffff" fill-opacity="0.65"/>
<path d="M369.7 29.1h0.8v0.8h-0.8zM368.9 39.0h0.8v0.8h-0.8zM369.6 12.8h0.8v0.8h-0.8zM371.3 23.7h0.8v0.8h-0.8zM368.7 30.2h0.8v0.8h-0.8zM366.6 21.1h0.8v0.8h-0.8zM369.9 16.5h0.8v0.8h-0.8zM373.0 28.6h0.8v0.8h-0.8zM370.1 18.0h0.8v0.8h-0.8zM368.7 28.3h0.8v0.8h-0.8zM367.2 30.2h0.8v0.8h-0.8zM368.0 13.3h0.8v0.8h-0.8zM367.8 29.5h0.8v0.8h-0.8zM371.4 19.1h0.8v0.8h-0.8zM369.4 35.0h0.8v0.8h-0.8zM371.4 27.6h0.8v0.8h-0.8zM370.7 38.3h0.8v0.8h-0.8zM372.0 30.7h0.8v0.8h-0.8zM371.1 39.9h0.8v0.8h-0.8zM366.8 23.6h0.8v0.8h-0.8zM367.0 20.4h0.8v0.8h-0.8zM367.7 25.2h0.8v0.8h-0.8zM368.6 38.1h0.8v0.8h-0.8zM365.1 27.0h0.8v0.8h-0.8zM368.4 19.6h0.8v0.8h-0.8zM371.6 18.6h0.8v0.8h-0.8zM368.7 23.7h0.8v0.8h-0.8zM370.7 17.1h0.8v0.8h-0.8zM368.4 29.9h0.8v0.8h-0.8zM371.2 19.8h0.8v0.8h-0.8zM369.1 22.9h0.8v0.8h-0.8zM372.0 16.5h0.8v0.8h-0.8zM366.5 34.1h0.8v0.8h-0.8zM370.4 27.7h0.8v0.8h-0.8zM372.6 34.3h0.8v0.8h-0.8zM366.9 31.8h0.8v0.8h-0.8zM366.1 21.3h0.8v0.8h-0.8zM372.5 33.5h0.8v0.8h-0.8zM367.7 24.3h0.8v0.8h-0.8zM369.2 33.3h0.8v0.8h-0.8z" fill="#ffffff" fill-opacity="0.65"/>
<path d="M371.1 35.6h0.8v0.8h-0.8zM372.5 35.5h0.8v0.8h-0.8zM367.5 37.1h0.8v0.8h-0.8zM372.7 22.6h0.8v0.8h-0.8zM372.7 30.5h0.8v0.8h-0.8zM368.0 36.1h0.8v0.8h-0.8zM371.6 26.8h0.8v0.8h-0.8zM368.9 35.1h0.8v0.8h-0.8zM367.5 30.3h0.8v0.8h-0.8zM365.3 34.0h0.8v0.8h-0.8zM369.9 40.9h0.8v0.8h-0.8zM367.4 30.1h0.8v0.8h-0.8zM369.1 21.1h0.8v0.8h-0.8zM368.7 24.2h0.8v0.8h-0.8zM372.3 28.8h0.8v0.8h-0.8zM370.1 32.5h0.8v0.8h-0.8zM367.7 34.7h0.8v0.8h-0.8zM368.0 17.8h0.8v0.8h-0.8zM367.8 34.4h0.8v0.8h-0.8zM369.2 25.1h0.8v0.8h-0.8zM368.8 34.9h0.8v0.8h-0.8zM370.2 27.2h0.8v0.8h-0.8zM367.5 19.1h0.8v0.8h-0.8zM369.3 17.1h0.8v0.8h-0.8zM370.7 31.2h0.8v0.8h-0.8zM369.5 25.9h0.8v0.8h-0.8zM369.6 16.9h0.8v0.8h-0.8zM366.8 19.3h0.8v0.8h-0.8zM370.3 19.1h0.8v0.8h-0.8zM368.4 24.0h0.8v0.8h-0.8zM371.1 32.5h0.8v0.8h-0.8zM365.8 23.5h0.8v0.8h-0.8zM369.0 40.7h0.8v0.8h-0.8zM369.5 26.9h0.8v0.8h-0.8zM365.6 28.8h0.8v0.8h-0.8zM373.8 26.2h0.8v0.8h-0.8zM371.1 17.6h0.8v0.8h-0.8zM366.4 38.2h0.8v0.8h-0.8zM372.2 22.0h0.8v0.8h-0.8zM371.7 13.2h0.8v0.8h-0.8z" fill="#ffffff" fill-opacity="0.65"/>
<path d="M366.8 30.5h0.8v0.8h-0.8zM367.9 18.3h0.8v0.8h-0.8zM366.3 33.1h0.8v0.8h-0.8zM366.2 32.5h0.8v0.8h-0.8zM367.2 29.3h0.8v0.8h-0.8zM365.8 25.7h0.8v0.8h-0.8zM371.5 26.1h0.8v0.8h-0.8zM368.6 22.4h0.8v0.8h-0.8zM367.0 36.0h0.8v0.8h-0.8zM369.3 27.8h0.8v0.8h-0.8zM367.3 22.0h0.8v0.8h-0.8zM367.9 33.5h0.8v0.8h-0.8zM367.0 30.0h0.8v0.8h-0.8zM368.8 14.5h0.8v0.8h-0.8zM369.6 27.5h0.8v0.8h-0.8zM366.5 21.0h0.8v0.8h-0.8zM370.4 17.7h0.8v0.8h-0.8zM369.3 14.6h0.8v0.8h-0.8zM369.8 26.2h0.8v0.8h-0.8zM371.6 27.4h0.8v0.8h-0.8zM369.4 14.2h0.8v0.8h-0.8zM368.1 33.1h0.8v0.8h-0.8zM372.5 31.9h0.8v0.8h-0.8zM373.3 28.3h0.8v0.8h-0.8zM373.1 29.1h0.8v0.8h-0.8zM371.4 32.2h0.8v0.8h-0.8zM366.6 32.1h0.8v0.8h-0.8zM370.3 23.9h0.8v0.8h-0.8zM368.8 34.6h0.8v0.8h-0.8zM367.3 38.9h0.8v0.8h-0.8zM367.4 25.0h0.8v0.8h-0.8zM365.8 30.4h0.8v0.8h-0.8zM366.0 21.5h0.8v0.8h-0.8zM371.2 19.3h0.8v0.8h-0.8zM367.9 18.0h0.8v0.8h-0.8zM372.6 37.0h0.8v0.8h-0.8zM366.4 24.0h0.8v0.8h-0.8zM366.1 36.7h0.8v0.8h-0.8zM372.7 38.1h0.8v0.8h-0.8zM368.6 30.6h0.8v0.8h-0.8z" fill="#ffffff" fill-opacity="0.65"/>
<path d="M371.6 23.7h0.8v0.8h-0.8zM374.2 22.8h0.8v0.8h-0.8zM374.0 32.8h0.8v0.8h-0.8zM366.3 29.1h0.8v0.8h-0.8zM372.3 19.7h0.8v0.8h-0.8zM367.7 39.5h0.8v0.8h-0.8zM367.4 17.2h0.8v0.8h-0.8zM371.4 15.2h0.8v0.8h-0.8zM371.7 26.0h0.8v0.8h-0.8zM369.6 23.1h0.8v0.8h-0.8zM365.9 33.2h0.8v0.8h-0.8zM370.8 24.3h0.8v0.8h-0.8zM368.1 31.2h0.8v0.8h-0.8zM368.1 35.0h0.8v0.8h-0.8zM369.9 31.6h0.8v0.8h-0.8zM370.3 22.2h0.8v0.8h-0.8zM369.3 21.8h0.8v0.8h-0.8zM365.9 34.9h0.8v0.8h-0.8zM368.6 24.5h0.8v0.8h-0.8zM370.1 13.9h0.8v0.8h-0.8zM366.3 22.0h0.8v0.8h-0.8zM370.1 37.3h0.8v0.8h-0.8zM371.4 20.8h0.8v0.8h-0.8zM369.3 21.0h0.8v0.8h-0.8zM371.0 21.8h0.8v0.8h-0.8zM372.6 27.3h0.8v0.8h-0.8zM372.0 21.2h0.8v0.8h-0.8zM368.6 29.1h0.8v0.8h-0.8zM372.7 34.5h0.8v0.8h-0.8zM368.0 28.0h0.8v0.8h-0.8zM370.1 27.4h0.8v0.8h-0.8zM370.2 41.0h0.8v0.8h-0.8zM367.5 22.2h0.8v0.8h-0.8zM372.9 22.0h0.8v0.8h-0.8zM370.7 22.9h0.8v0.8h-0.8zM373.0 26.1h0.8v0.8h-0.8zM371.9 23.2h0.8v0.8h-0.8zM370.1 18.6h0.8v0.8h-0.8zM370.5 21.4h0.8v0.8h-0.8zM372.2 38.8h0.8v0.8h-0.8z" fill="#ffffff" fill-opacity="0.65"/>
<path d="M366.6 17.5h0.8v0.8h-0.8zM369.4 23.5h0.8v0.8h-0.8zM372.0 25.7h0.8v0.8h-0.8zM370.9 20.0h0.8v0.8h-0.8zM365.4 30.7h0.8v0.8h-0.8zM370.2 22.8h0.8v0.8h-0.8zM371.6 37.8h0.8v0.8h-0.8zM369.6 31.6h0.8v0.8h-0.8zM370.9 33.7h0.8v0.8h-0.8zM367.9 14.0h0.8v0.8h-0.8zM373.8 25.1h0.8v0.8h-0.8zM373.1 24.2h0.8v0.8h-0.8zM372.8 27.7h0.8v0.8h-0.8zM368.9 31.9h0.8v0.8h-0.8zM369.6 30.9h0.8v0.8h-0.8zM365.6 32.3h0.8v0.8h-0.8zM367.9 27.3h0.8v0.8h-0.8zM365.3 30.3h0.8v0.8h-0.8zM368.3 30.8h0.8v0.8h-0.8zM366.4 29.4h0.8v0.8h-0.8zM372.1 33.9h0.8v0.8h-0.8zM368.9 15.3h0.8v0.8h-0.8zM370.2 28.7h0.8v0.8h-0.8zM369.5 38.7h0.8v0.8h-0.8zM368.4 30.4h0.8v0.8h-0.8zM370.7 29.3h0.8v0.8h-0.8zM372.8 29.5h0.8v0.8h-0.8zM370.2 39.5h0.8v0.8h-0.8zM372.0 23.3h0.8v0.8h-0.8zM365.7 22.1h0.8v0.8h-0.8zM367.0 19.4h0.8v0.8h-0.8zM368.6 29.7h0.8v0.8h-0.8zM366.9 21.5h0.8v0.8h-0.8zM364.8 22.5h0.8v0.8h-0.8zM370.3 17.0h0.8v0.8h-0.8zM367.3 22.3h0.8v0.8h-0.8zM368.5 34.5h0.8v0.8h-0.8zM366.2 23.6h0.8v0.8h-0.8zM371.4 34.9h0.8v0.8h-0.8zM371.6 37.2h0.8v0.8h-0.8z" fill="#ffffff" fill-opacity="0.65"/>
<path d="M371.7 33.3h0.8v0.8h-0.8zM369.0 20.7h0.8v0.8h-0.8zM367.7 29.8h0.8v0.8h-0.8zM369.7 11.7h0.8v0.8h-0.8zM370.5 34.8h0.8v0.8h-0.8zM371.9 26.7h0.8v0.8h-0.8zM368.6 30.3h0.8v0.8h-0.8zM367.2 18.8h0.8v0.8h-0.8zM371.3 25.0h0.8v0.8h-0.8zM372.7 28.7h0.8v0.8h-0.8zM370.0 26.4h0.8v0.8h-0.8zM371.4 22.1h0.8v0.8h-0.8zM372.2 24.1h0.8v0.8h-0.8zM366.9 21.2h0.8v0.8h-0.8zM365.7 33.5h0.8v0.8h-0.8zM369.3 28.8h0.8v0.8h-0.8zM372.7 23.7h0.8v0.8h-0.8zM366.1 28.1h0.8v0.8h-0.8zM374.5 28.0h0.8v0.8h-0.8zM364.8 28.9h0.8v0.8h-0.8zM367.8 30.9h0.8v0.8h-0.8zM371.0 15.3h0.8v0.8h-0.8zM368.1 21.1h0.8v0.8h-0.8zM371.1 22.6h0.8v0.8h-0.8zM368.0 16.4h0.8v0.8h-0.8zM372.7 19.0h0.8v0.8h-0.8zM366.4 21.1h0.8v0.8h-0.8zM368.9 17.3h0.8v0.8h-0.8zM368.4 34.5h0.8v0.8h-0.8zM368.5 23.6h0.8v0.8h-0.8zM371.0 29.1h0.8v0.8h-0.8zM370.6 35.9h0.8v0.8h-0.8zM369.4 22.4h0.8v0.8h-0.8zM370.0 33.6h0.8v0.8h-0.8zM368.6 23.9h0.8v0.8h-0.8zM369.4 29.9h0.8v0.8h-0.8zM370.9 30.4h0.8v0.8h-0.8zM369.4 20.0h0.8v0.8h-0.8zM370.2 24.2h0.8v0.8h-0.8zM368.4 17.0h0.8v0.8h-0.8z" fill="#ffffff" fill-opacity="0.65"/>
<path d="M359.3 11.2h0.9v0.9h-0.9zM355.8 24.0h0.9v0.9h-0.9zM353.3 12.0h0.9v0.9h-0.9zM353.5 25.5h0.9v0.9h-0.9zM356.9 25.1h0.9v0.9h-0.9zM355.1 14.6h0.9v0.9h-0.9zM361.2 21.3h0.9v0.9h-0.9zM357.4 19.3h0.9v0.9h-0.9zM351.2 14.4h0.9v0.9h-0.9zM352.7 22.0h0.9v0.9h-0.9zM356.6 21.3h0.9v0.9h-0.9zM352.0 24.5h0.9v0.9h-0.9zM356.7 16.1h0.9v0.9h-0.9zM356.6 13.1h0.9v0.9h-0.9zM357.8 15.5h0.9v0.9h-0.9zM358.7 21.6h0.9v0.9h-0.9zM360.0 26.7h0.9v0.9h-0.9zM354.9 25.3h0.9v0.9h-0.9zM355.5 19.0h0.9v0.9h-0.9zM355.0 13.5h0.9v0.9h-0.9zM355.4 16.4h0.9v0.9h-0.9zM360.1 24.0h0.9v0.9h-0.9zM358.4 19.6h0.9v0.9h-0.9zM355.6 19.4h0.9v0.9h-0.9zM356.1 15.5h0.9v0.9h-0.9zM354.9 22.3h0.9v0.9h-0.9zM362.4 19.5h0.9v0.9h-0.9zM359.2 14.5h0.9v0.9h-0.9z" fill="#7a5cf5" fill-opacity="0.35"/>
<path d="M360.6 23.5h0.9v0.9h-0.9zM355.8 24.5h0.9v0.9h-0.9zM357.4 9.3h0.9v0.9h-0.9zM354.5 14.9h0.9v0.9h-0.9zM359.8 15.2h0.9v0.9h-0.9zM352.9 24.5h0.9v0.9h-0.9zM354.2 18.0h0.9v0.9h-0.9zM353.5 16.4h0.9v0.9h-0.9zM357.3 23.2h0.9v0.9h-0.9zM354.6 18.9h0.9v0.9h-0.9zM358.5 16.8h0.9v0.9h-0.9zM352.8 19.1h0.9v0.9h-0.9zM356.7 17.0h0.9v0.9h-0.9zM357.6 12.2h0.9v0.9h-0.9zM351.6 22.3h0.9v0.9h-0.9zM353.9 12.0h0.9v0.9h-0.9zM356.4 19.5h0.9v0.9h-0.9zM358.0 17.9h0.9v0.9h-0.9zM353.7 25.7h0.9v0.9h-0.9zM357.2 21.6h0.9v0.9h-0.9zM355.1 28.3h0.9v0.9h-0.9zM355.8 16.0h0.9v0.9h-0.9zM355.0 15.8h0.9v0.9h-0.9zM353.2 19.5h0.9v0.9h-0.9zM358.0 15.7h0.9v0.9h-0.9zM352.2 16.7h0.9v0.9h-0.9zM355.0 16.0h0.9v0.9h-0.9zM358.4 18.7h0.9v0.9h-0.9z" fill="#7a5cf5" fill-opacity="0.35"/>
<path d="M354.0 22.5h0.9v0.9h-0.9zM356.7 23.0h0.9v0.9h-0.9zM357.2 14.5h0.9v0.9h-0.9zM354.4 16.7h0.9v0.9h-0.9zM353.8 22.1h0.9v0.9h-0.9zM357.1 17.6h0.9v0.9h-0.9zM355.0 11.8h0.9v0.9h-0.9zM351.3 18.8h0.9v0.9h-0.9zM358.5 24.9h0.9v0.9h-0.9zM358.3 17.9h0.9v0.9h-0.9zM355.1 19.3h0.9v0.9h-0.9zM362.0 16.1h0.9v0.9h-0.9zM362.7 15.7h0.9v0.9h-0.9zM355.8 16.8h0.9v0.9h-0.9zM359.9 21.0h0.9v0.9h-0.9zM355.5 18.1h0.9v0.9h-0.9zM359.2 17.9h0.9v0.9h-0.9zM358.6 15.2h0.9v0.9h-0.9zM354.7 23.4h0.9v0.9h-0.9zM354.4 17.4h0.9v0.9h-0.9zM357.9 18.7h0.9v0.9h-0.9zM358.7 14.3h0.9v0.9h-0.9zM350.8 14.9h0.9v0.9h-0.9zM356.3 15.0h0.9v0.9h-0.9zM360.4 19.0h0.9v0.9h-0.9zM353.7 21.3h0.9v0.9h-0.9zM358.7 26.8h0.9v0.9h-0.9zM352.6 22.0h0.9v0.9h-0.9z" fill="#7a5cf5" fill-opacity="0.35"/>
<path d="M351.4 17.1h0.9v0.9h-0.9zM361.7 15.4h0.9v0.9h-0.9zM355.3 19.7h0.9v0.9h-0.9zM352.1 21.5h0.9v0.9h-0.9zM355.2 12.3h0.9v0.9h-0.9zM359.8 14.4h0.9v0.9h-0.9zM352.4 18.4h0.9v0.9h-0.9zM358.1 14.5h0.9v0.9h-0.9zM356.0 20.3h0.9v0.9h-0.9zM357.7 19.8h0.9v0.9h-0.9zM354.2 14.6h0.9v0.9h-0.9zM358.3 18.3h0.9v0.9h-0.9zM356.2 18.8h0.9v0.9h-0.9zM356.1 15.3h0.9v0.9h-0.9zM357.7 20.1h0.9v0.9h-0.9zM353.6 18.9h0.9v0.9h-0.9zM354.5 14.1h0.9v0.9h-0.9zM357.4 20.1h0.9v0.9h-0.9zM353.1 19.8h0.9v0.9h-0.9zM359.1 22.2h0.9v0.9h-0.9zM359.0 13.7h0.9v0.9h-0.9zM359.2 12.9h0.9v0.9h-0.9zM353.9 27.0h0.9v0.9h-0.9zM353.7 20.1h0.9v0.9h-0.9zM356.0 19.3h0.9v0.9h-0.9zM355.0 18.8h0.9v0.9h-0.9zM357.7 15.6h0.9v0.9h-0.9zM352.1 25.4h0.9v0.9h-0.9z" fill="#7a5cf5" fill-opacity="0.35"/>
<path d="M356.1 23.2h0.9v0.9h-0.9zM356.7 17.5h0.9v0.9h-0.9zM356.6 28.5h0.9v0.9h-0.9zM350.8 16.4h0.9v0.9h-0.9zM352.9 20.2h0.9v0.9h-0.9zM358.5 18.3h0.9v0.9h-0.9zM356.0 20.9h0.9v0.9h-0.9zM353.0 15.5h0.9v0.9h-0.9zM357.7 15.7h0.9v0.9h-0.9zM361.1 19.2h0.9v0.9h-0.9zM355.9 10.2h0.9v0.9h-0.9zM357.7 13.4h0.9v0.9h-0.9zM356.1 17.8h0.9v0.9h-0.9zM353.4 17.7h0.9v0.9h-0.9zM356.1 19.5h0.9v0.9h-0.9zM358.6 21.2h0.9v0.9h-0.9zM356.3 14.8h0.9v0.9h-0.9zM355.8 20.2h0.9v0.9h-0.9zM355.1 23.1h0.9v0.9h-0.9zM356.2 14.3h0.9v0.9h-0.9zM358.1 16.5h0.9v0.9h-0.9zM353.4 18.5h0.9v0.9h-0.9zM359.9 11.4h0.9v0.9h-0.9zM359.5 20.2h0.9v0.9h-0.9zM357.8 18.7h0.9v0.9h-0.9zM357.8 10.3h0.9v0.9h-0.9zM357.5 19.9h0.9v0.9h-0.9z" fill="#7a5cf5" fill-opacity="0.35"/>
<path d="M357.4 19.9h0.9v0.9h-0.9zM357.2 9.6h0.9v0.9h-0.9zM358.7 11.3h0.9v0.9h-0.9zM360.4 18.3h0.9v0.9h-0.9zM354.1 18.7h0.9v0.9h-0.9zM353.2 22.3h0.9v0.9h-0.9zM356.7 12.7h0.9v0.9h-0.9zM356.2 18.4h0.9v0.9h-0.9zM360.4 21.4h0.9v0.9h-0.9zM351.0 16.6h0.9v0.9h-0.9zM355.8 24.0h0.9v0.9h-0.9zM353.0 19.8h0.9v0.9h-0.9zM350.7 20.5h0.9v0.9h-0.9zM354.2 18.8h0.9v0.9h-0.9zM356.2 19.7h0.9v0.9h-0.9zM356.2 14.6h0.9v0.9h-0.9zM359.0 16.3h0.9v0.9h-0.9zM352.9 21.1h0.9v0.9h-0.9zM355.3 13.7h0.9v0.9h-0.9zM353.2 15.2h0.9v0.9h-0.9zM356.6 19.4h0.9v0.9h-0.9zM351.6 18.5h0.9v0.9h-0.9zM359.2 19.7h0.9v0.9h-0.9zM353.7 22.4h0.9v0.9h-0.9zM355.8 17.8h0.9v0.9h-0.9zM358.1 14.7h0.9v0.9h-0.9zM356.7 14.7h0.9v0.9h-0.9z" fill="#7a5cf5" fill-opacity="0.35"/>
<path d="M354.9 18.4h0.9v0.9h-0.9zM355.8 17.0h0.9v0.9h-0.9zM359.9 11.1h0.9v0.9h-0.9zM354.7 14.5h0.9v0.9h-0.9zM351.5 24.2h0.9v0.9h-0.9zM351.0 21.7h0.9v0.9h-0.9zM359.9 11.5h0.9v0.9h-0.9zM355.9 18.4h0.9v0.9h-0.9zM359.6 15.9h0.9v0.9h-0.9zM360.7 21.1h0.9v0.9h-0.9zM356.6 18.8h0.9v0.9h-0.9zM358.4 14.7h0.9v0.9h-0.9zM356.0 25.3h0.9v0.9h-0.9zM356.0 25.4h0.9v0.9h-0.9zM352.9 14.7h0.9v0.9h-0.9zM357.8 26.7h0.9v0.9h-0.9zM361.3 24.5h0.9v0.9h-0.9zM352.2 21.4h0.9v0.9h-0.9zM357.9 12.0h0.9v0.9h-0.9zM358.7 21.3h0.9v0.9h-0.9zM354.8 21.7h0.9v0.9h-0.9zM358.3 11.7h0.9v0.9h-0.9zM355.2 20.9h0.9v0.9h-0.9zM357.1 21.6h0.9v0.9h-0.9zM358.3 12.7h0.9v0.9h-0.9zM355.7 18.0h0.9v0.9h-0.9zM360.1 19.6h0.9v0.9h-0.9z" fill="#7a5cf5" fill-opacity="0.35"/>
<path d="M356.0 22.3h0.9v0.9h-0.9zM353.7 17.3h0.9v0.9h-0.9zM356.7 11.6h0.9v0.9h-0.9zM353.2 15.1h0.9v0.9h-0.9zM355.3 16.8h0.9v0.9h-0.9zM353.2 20.4h0.9v0.9h-0.9zM358.5 26.8h0.9v0.9h-0.9zM358.4 25.7h0.9v0.9h-0.9zM359.8 12.3h0.9v0.9h-0.9zM354.7 21.3h0.9v0.9h-0.9zM358.5 21.9h0.9v0.9h-0.9zM353.1 12.1h0.9v0.9h-0.9zM354.8 11.4h0.9v0.9h-0.9zM357.3 21.2h0.9v0.9h-0.9zM358.2 16.2h0.9v0.9h-0.9zM361.9 19.6h0.9v0.9h-0.9zM352.0 23.8h0.9v0.9h-0.9zM357.9 21.9h0.9v0.9h-0.9zM353.1 22.3h0.9v0.9h-0.9zM357.4 25.6h0.9v0.9h-0.9zM362.0 23.8h0.9v0.9h-0.9zM359.6 15.6h0.9v0.9h-0.9zM359.2 15.6h0.9v0.9h-0.9zM360.4 13.9h0.9v0.9h-0.9zM356.5 17.9h0.9v0.9h-0.9zM359.2 22.3h0.9v0.9h-0.9zM357.2 12.4h0.9v0.9h-0.9z" fill="#7a5cf5" fill-opacity="0.35"/>
<ellipse cx="357.0" cy="28.8" rx="5.71" ry="13.33" fill="#3a0cf4" opacity="1.0" filter="url(#bl2)" transform="rotate(0.0 357.0 28.8)"/>
<path d="M356.8 20.2h0.9v0.9h-0.9zM357.9 30.2h0.9v0.9h-0.9zM358.9 26.1h0.9v0.9h-0.9zM355.0 27.5h0.9v0.9h-0.9zM354.1 16.8h0.9v0.9h-0.9zM361.4 28.8h0.9v0.9h-0.9zM357.4 24.3h0.9v0.9h-0.9zM351.8 20.4h0.9v0.9h-0.9zM359.7 31.9h0.9v0.9h-0.9zM356.9 18.3h0.9v0.9h-0.9zM358.4 24.9h0.9v0.9h-0.9zM362.0 23.2h0.9v0.9h-0.9zM359.8 32.5h0.9v0.9h-0.9zM360.6 39.2h0.9v0.9h-0.9zM358.3 25.3h0.9v0.9h-0.9zM354.6 34.8h0.9v0.9h-0.9zM358.4 38.4h0.9v0.9h-0.9zM357.6 37.9h0.9v0.9h-0.9zM357.1 34.8h0.9v0.9h-0.9zM358.2 19.3h0.9v0.9h-0.9zM352.4 28.0h0.9v0.9h-0.9zM354.3 25.3h0.9v0.9h-0.9zM359.7 36.4h0.9v0.9h-0.9zM358.8 22.6h0.9v0.9h-0.9zM357.1 26.9h0.9v0.9h-0.9zM362.4 30.5h0.9v0.9h-0.9zM354.8 36.3h0.9v0.9h-0.9zM352.2 19.6h0.9v0.9h-0.9zM358.9 26.8h0.9v0.9h-0.9zM357.0 31.9h0.9v0.9h-0.9zM357.1 38.9h0.9v0.9h-0.9zM356.5 36.6h0.9v0.9h-0.9zM361.8 32.7h0.9v0.9h-0.9zM360.8 24.5h0.9v0.9h-0.9zM358.9 36.2h0.9v0.9h-0.9zM353.9 18.9h0.9v0.9h-0.9zM351.3 30.8h0.9v0.9h-0.9zM358.3 37.4h0.9v0.9h-0.9zM359.3 22.8h0.9v0.9h-0.9zM352.6 39.1h0.9v0.9h-0.9zM360.7 27.0h0.9v0.9h-0.9zM359.7 20.6h0.9v0.9h-0.9zM355.4 26.1h0.9v0.9h-0.9zM359.6 29.9h0.9v0.9h-0.9zM360.4 29.8h0.9v0.9h-0.9zM360.8 23.5h0.9v0.9h-0.9zM358.8 27.9h0.9v0.9h-0.9zM358.4 25.3h0.9v0.9h-0.9zM355.9 41.7h0.9v0.9h-0.9zM355.1 27.4h0.9v0.9h-0.9zM354.9 25.5h0.9v0.9h-0.9zM355.4 43.2h0.9v0.9h-0.9zM352.1 30.6h0.9v0.9h-0.9zM359.3 20.8h0.9v0.9h-0.9zM354.2 41.9h0.9v0.9h-0.9zM353.9 16.8h0.9v0.9h-0.9zM358.2 33.9h0.9v0.9h-0.9zM353.6 34.1h0.9v0.9h-0.9zM356.8 17.7h0.9v0.9h-0.9zM352.4 30.9h0.9v0.9h-0.9zM354.9 27.9h0.9v0.9h-0.9zM357.7 39.8h0.9v0.9h-0.9zM357.7 38.4h0.9v0.9h-0.9zM357.1 31.8h0.9v0.9h-0.9zM358.9 27.8h0.9v0.9h-0.9zM354.9 19.6h0.9v0.9h-0.9zM358.2 31.2h0.9v0.9h-0.9zM359.2 35.5h0.9v0.9h-0.9zM355.5 16.5h0.9v0.9h-0.9zM353.9 27.0h0.9v0.9h-0.9zM357.1 31.5h0.9v0.9h-0.9zM357.5 21.6h0.9v0.9h-0.9zM353.9 34.8h0.9v0.9h-0.9zM360.6 22.7h0.9v0.9h-0.9zM354.8 21.8h0.9v0.9h-0.9zM357.9 36.0h0.9v0.9h-0.9zM355.0 39.1h0.9v0.9h-0.9zM360.1 22.1h0.9v0.9h-0.9zM359.9 29.9h0.9v0.9h-0.9zM355.2 29.1h0.9v0.9h-0.9zM357.1 26.0h0.9v0.9h-0.9zM360.5 21.8h0.9v0.9h-0.9zM354.6 25.4h0.9v0.9h-0.9zM362.1 32.6h0.9v0.9h-0.9zM355.4 35.7h0.9v0.9h-0.9zM357.0 24.0h0.9v0.9h-0.9zM355.7 30.5h0.9v0.9h-0.9zM359.5 28.0h0.9v0.9h-0.9zM357.1 19.7h0.9v0.9h-0.9zM352.0 35.3h0.9v0.9h-0.9zM361.4 33.4h0.9v0.9h-0.9zM358.6 28.3h0.9v0.9h-0.9zM357.3 33.4h0.9v0.9h-0.9zM359.5 25.1h0.9v0.9h-0.9zM357.7 37.6h0.9v0.9h-0.9zM360.9 23.3h0.9v0.9h-0.9zM359.6 31.0h0.9v0.9h-0.9zM357.7 30.7h0.9v0.9h-0.9zM358.4 26.8h0.9v0.9h-0.9zM358.9 41.1h0.9v0.9h-0.9zM361.1 43.2h0.9v0.9h-0.9zM352.7 31.0h0.9v0.9h-0.9zM356.0 39.2h0.9v0.9h-0.9zM363.2 28.8h0.9v0.9h-0.9zM355.4 31.3h0.9v0.9h-0.9zM363.8 26.0h0.9v0.9h-0.9z" fill="#3a0cf4" fill-opacity="0.7"/>
<path d="M361.6 18.3h0.9v0.9h-0.9zM354.5 22.0h0.9v0.9h-0.9zM358.6 29.7h0.9v0.9h-0.9zM359.2 28.3h0.9v0.9h-0.9zM356.4 25.5h0.9v0.9h-0.9zM354.0 21.0h0.9v0.9h-0.9zM353.4 36.9h0.9v0.9h-0.9zM358.8 24.2h0.9v0.9h-0.9zM353.0 36.9h0.9v0.9h-0.9zM352.4 26.2h0.9v0.9h-0.9zM357.2 22.2h0.9v0.9h-0.9zM358.4 41.4h0.9v0.9h-0.9zM360.3 35.1h0.9v0.9h-0.9zM356.2 24.6h0.9v0.9h-0.9zM352.8 32.0h0.9v0.9h-0.9zM354.1 31.7h0.9v0.9h-0.9zM358.9 18.1h0.9v0.9h-0.9zM360.4 36.0h0.9v0.9h-0.9zM356.7 37.8h0.9v0.9h-0.9zM358.0 39.7h0.9v0.9h-0.9zM354.1 17.1h0.9v0.9h-0.9zM354.4 14.2h0.9v0.9h-0.9zM362.4 28.8h0.9v0.9h-0.9zM356.2 29.4h0.9v0.9h-0.9zM353.5 40.5h0.9v0.9h-0.9zM358.5 23.4h0.9v0.9h-0.9zM359.1 29.8h0.9v0.9h-0.9zM355.6 29.9h0.9v0.9h-0.9zM359.2 28.8h0.9v0.9h-0.9zM356.4 27.8h0.9v0.9h-0.9zM355.4 26.0h0.9v0.9h-0.9zM360.0 32.6h0.9v0.9h-0.9zM354.1 30.6h0.9v0.9h-0.9zM354.0 24.9h0.9v0.9h-0.9zM357.3 26.6h0.9v0.9h-0.9zM351.9 29.7h0.9v0.9h-0.9zM354.3 31.0h0.9v0.9h-0.9zM356.5 27.6h0.9v0.9h-0.9zM353.7 31.3h0.9v0.9h-0.9zM359.8 21.1h0.9v0.9h-0.9zM356.1 27.0h0.9v0.9h-0.9zM359.8 14.7h0.9v0.9h-0.9zM357.6 22.7h0.9v0.9h-0.9zM351.2 22.6h0.9v0.9h-0.9zM355.9 32.5h0.9v0.9h-0.9zM358.0 25.5h0.9v0.9h-0.9zM357.2 31.2h0.9v0.9h-0.9zM350.6 29.9h0.9v0.9h-0.9zM350.8 26.7h0.9v0.9h-0.9zM357.8 13.7h0.9v0.9h-0.9zM360.8 29.0h0.9v0.9h-0.9zM362.4 27.6h0.9v0.9h-0.9zM351.7 25.1h0.9v0.9h-0.9zM354.2 27.2h0.9v0.9h-0.9zM353.2 25.2h0.9v0.9h-0.9zM356.6 15.6h0.9v0.9h-0.9zM353.7 24.6h0.9v0.9h-0.9zM358.5 27.7h0.9v0.9h-0.9zM352.4 32.9h0.9v0.9h-0.9zM356.6 16.0h0.9v0.9h-0.9zM360.2 35.1h0.9v0.9h-0.9zM357.6 27.5h0.9v0.9h-0.9zM356.8 15.4h0.9v0.9h-0.9zM355.5 34.2h0.9v0.9h-0.9zM355.4 26.9h0.9v0.9h-0.9zM351.7 23.7h0.9v0.9h-0.9zM357.6 26.5h0.9v0.9h-0.9zM363.1 28.3h0.9v0.9h-0.9zM351.5 28.6h0.9v0.9h-0.9zM354.0 30.7h0.9v0.9h-0.9zM358.1 14.2h0.9v0.9h-0.9zM351.1 25.5h0.9v0.9h-0.9zM359.3 28.1h0.9v0.9h-0.9zM357.3 15.4h0.9v0.9h-0.9zM359.6 27.5h0.9v0.9h-0.9zM351.5 30.3h0.9v0.9h-0.9zM359.5 22.1h0.9v0.9h-0.9zM357.4 18.4h0.9v0.9h-0.9zM352.8 16.9h0.9v0.9h-0.9zM356.3 22.9h0.9v0.9h-0.9zM350.6 30.9h0.9v0.9h-0.9zM352.3 32.0h0.9v0.9h-0.9zM352.8 21.9h0.9v0.9h-0.9zM352.0 23.1h0.9v0.9h-0.9zM354.0 25.0h0.9v0.9h-0.9zM357.6 30.8h0.9v0.9h-0.9zM358.3 23.1h0.9v0.9h-0.9zM351.6 25.6h0.9v0.9h-0.9zM357.5 18.6h0.9v0.9h-0.9zM354.0 31.8h0.9v0.9h-0.9zM353.4 36.7h0.9v0.9h-0.9zM357.7 25.0h0.9v0.9h-0.9zM361.4 26.2h0.9v0.9h-0.9zM353.7 27.5h0.9v0.9h-0.9zM361.9 28.5h0.9v0.9h-0.9zM353.8 26.9h0.9v0.9h-0.9zM356.1 15.0h0.9v0.9h-0.9zM358.5 26.7h0.9v0.9h-0.9zM355.4 37.1h0.9v0.9h-0.9zM355.8 21.2h0.9v0.9h-0.9zM354.1 42.8h0.9v0.9h-0.9zM355.6 34.5h0.9v0.9h-0.9zM353.0 21.7h0.9v0.9h-0.9zM359.2 18.5h0.9v0.9h-0.9zM356.7 10.8h0.9v0.9h-0.9zM361.4 26.2h0.9v0.9h-0.9z" fill="#3a0cf4" fill-opacity="0.7"/>
<path d="M362.3 29.7h0.9v0.9h-0.9zM359.5 27.5h0.9v0.9h-0.9zM353.3 26.7h0.9v0.9h-0.9zM361.2 22.3h0.9v0.9h-0.9zM354.3 26.0h0.9v0.9h-0.9zM358.6 40.4h0.9v0.9h-0.9zM363.1 24.8h0.9v0.9h-0.9zM353.5 33.7h0.9v0.9h-0.9zM359.8 17.6h0.9v0.9h-0.9zM360.0 28.6h0.9v0.9h-0.9zM361.0 17.2h0.9v0.9h-0.9zM360.3 24.5h0.9v0.9h-0.9zM358.4 26.3h0.9v0.9h-0.9zM361.6 22.6h0.9v0.9h-0.9zM353.8 21.1h0.9v0.9h-0.9zM352.5 27.3h0.9v0.9h-0.9zM361.4 38.5h0.9v0.9h-0.9zM351.4 35.4h0.9v0.9h-0.9zM357.7 34.3h0.9v0.9h-0.9zM354.9 13.6h0.9v0.9h-0.9zM361.5 30.1h0.9v0.9h-0.9zM357.2 38.8h0.9v0.9h-0.9zM356.3 26.1h0.9v0.9h-0.9zM355.2 28.3h0.9v0.9h-0.9zM360.0 29.5h0.9v0.9h-0.9zM357.1 40.1h0.9v0.9h-0.9zM352.3 32.9h0.9v0.9h-0.9zM360.2 18.8h0.9v0.9h-0.9zM354.8 39.7h0.9v0.9h-0.9zM354.4 24.9h0.9v0.9h-0.9zM359.9 32.4h0.9v0.9h-0.9zM357.5 30.8h0.9v0.9h-0.9zM358.7 40.1h0.9v0.9h-0.9zM353.6 26.5h0.9v0.9h-0.9zM354.3 15.1h0.9v0.9h-0.9zM355.3 23.1h0.9v0.9h-0.9zM358.9 29.6h0.9v0.9h-0.9zM351.9 32.9h0.9v0.9h-0.9zM354.5 26.4h0.9v0.9h-0.9zM360.8 30.0h0.9v0.9h-0.9zM356.6 14.7h0.9v0.9h-0.9zM353.2 16.5h0.9v0.9h-0.9zM355.6 14.3h0.9v0.9h-0.9zM350.1 25.2h0.9v0.9h-0.9zM359.3 30.3h0.9v0.9h-0.9zM356.1 26.2h0.9v0.9h-0.9zM355.0 19.3h0.9v0.9h-0.9zM358.6 28.1h0.9v0.9h-0.9zM351.3 27.5h0.9v0.9h-0.9zM354.0 27.3h0.9v0.9h-0.9zM355.0 16.3h0.9v0.9h-0.9zM356.9 32.4h0.9v0.9h-0.9zM351.0 25.0h0.9v0.9h-0.9zM356.8 28.3h0.9v0.9h-0.9zM352.3 23.9h0.9v0.9h-0.9zM355.3 36.8h0.9v0.9h-0.9zM351.6 25.6h0.9v0.9h-0.9zM353.7 30.3h0.9v0.9h-0.9zM360.3 23.3h0.9v0.9h-0.9zM358.8 32.2h0.9v0.9h-0.9zM357.6 39.4h0.9v0.9h-0.9zM358.8 29.1h0.9v0.9h-0.9zM355.2 32.6h0.9v0.9h-0.9zM362.0 25.9h0.9v0.9h-0.9zM358.3 24.9h0.9v0.9h-0.9zM361.3 34.2h0.9v0.9h-0.9zM357.8 28.7h0.9v0.9h-0.9zM356.0 17.7h0.9v0.9h-0.9zM359.9 40.9h0.9v0.9h-0.9zM356.8 25.9h0.9v0.9h-0.9zM359.5 37.6h0.9v0.9h-0.9zM355.9 26.6h0.9v0.9h-0.9zM356.4 36.5h0.9v0.9h-0.9zM357.0 21.1h0.9v0.9h-0.9zM361.4 25.8h0.9v0.9h-0.9zM355.8 25.7h0.9v0.9h-0.9zM360.1 27.0h0.9v0.9h-0.9zM357.9 33.5h0.9v0.9h-0.9zM353.3 39.9h0.9v0.9h-0.9zM355.2 36.2h0.9v0.9h-0.9zM358.2 37.1h0.9v0.9h-0.9zM357.0 33.5h0.9v0.9h-0.9zM357.2 33.9h0.9v0.9h-0.9zM355.3 14.0h0.9v0.9h-0.9zM354.5 21.9h0.9v0.9h-0.9zM356.5 24.6h0.9v0.9h-0.9zM353.6 39.0h0.9v0.9h-0.9zM356.4 21.2h0.9v0.9h-0.9zM360.3 22.3h0.9v0.9h-0.9zM352.4 29.9h0.9v0.9h-0.9zM362.6 22.2h0.9v0.9h-0.9zM359.7 24.5h0.9v0.9h-0.9zM360.6 33.6h0.9v0.9h-0.9zM358.5 32.3h0.9v0.9h-0.9zM354.1 22.3h0.9v0.9h-0.9zM355.9 29.5h0.9v0.9h-0.9zM357.6 26.3h0.9v0.9h-0.9zM357.3 23.3h0.9v0.9h-0.9zM359.9 26.6h0.9v0.9h-0.9zM360.8 33.4h0.9v0.9h-0.9zM351.1 31.4h0.9v0.9h-0.9zM349.9 25.0h0.9v0.9h-0.9zM363.6 31.4h0.9v0.9h-0.9zM350.5 31.4h0.9v0.9h-0.9zM355.3 26.2h0.9v0.9h-0.9zM351.9 31.9h0.9v0.9h-0.9z" fill="#3a0cf4" fill-opacity="0.7"/>
<path d="M355.8 27.7h0.9v0.9h-0.9zM359.3 28.7h0.9v0.9h-0.9zM355.8 25.1h0.9v0.9h-0.9zM357.3 16.9h0.9v0.9h-0.9zM352.5 23.0h0.9v0.9h-0.9zM352.1 23.7h0.9v0.9h-0.9zM358.4 42.4h0.9v0.9h-0.9zM358.5 22.2h0.9v0.9h-0.9zM353.3 25.7h0.9v0.9h-0.9zM356.5 30.8h0.9v0.9h-0.9zM356.1 18.1h0.9v0.9h-0.9zM359.8 22.8h0.9v0.9h-0.9zM358.0 23.8h0.9v0.9h-0.9zM361.1 33.1h0.9v0.9h-0.9zM358.8 38.8h0.9v0.9h-0.9zM355.2 27.4h0.9v0.9h-0.9zM359.7 35.2h0.9v0.9h-0.9zM356.8 18.9h0.9v0.9h-0.9zM361.7 30.1h0.9v0.9h-0.9zM357.4 23.2h0.9v0.9h-0.9zM354.7 28.4h0.9v0.9h-0.9zM354.7 27.3h0.9v0.9h-0.9zM355.2 25.8h0.9v0.9h-0.9zM354.0 22.5h0.9v0.9h-0.9zM360.1 31.3h0.9v0.9h-0.9zM354.9 28.6h0.9v0.9h-0.9zM352.0 30.1h0.9v0.9h-0.9zM357.7 28.3h0.9v0.9h-0.9zM355.7 17.6h0.9v0.9h-0.9zM357.7 33.1h0.9v0.9h-0.9zM361.7 31.6h0.9v0.9h-0.9zM356.9 37.4h0.9v0.9h-0.9zM358.2 32.6h0.9v0.9h-0.9zM361.2 35.0h0.9v0.9h-0.9zM355.1 36.7h0.9v0.9h-0.9zM353.2 27.4h0.9v0.9h-0.9zM357.5 30.7h0.9v0.9h-0.9zM360.7 36.8h0.9v0.9h-0.9zM356.5 27.3h0.9v0.9h-0.9zM354.6 26.2h0.9v0.9h-0.9zM359.7 23.0h0.9v0.9h-0.9zM352.5 33.7h0.9v0.9h-0.9zM358.9 36.2h0.9v0.9h-0.9zM351.7 29.1h0.9v0.9h-0.9zM354.9 21.8h0.9v0.9h-0.9zM354.2 17.1h0.9v0.9h-0.9zM354.9 24.7h0.9v0.9h-0.9zM354.6 32.9h0.9v0.9h-0.9zM354.5 29.2h0.9v0.9h-0.9zM355.1 29.5h0.9v0.9h-0.9zM356.7 25.5h0.9v0.9h-0.9zM361.5 30.8h0.9v0.9h-0.9zM354.8 33.2h0.9v0.9h-0.9zM357.6 28.4h0.9v0.9h-0.9zM356.6 23.0h0.9v0.9h-0.9zM360.6 39.2h0.9v0.9h-0.9zM355.8 35.2h0.9v0.9h-0.9zM362.1 29.7h0.9v0.9h-0.9zM353.8 21.9h0.9v0.9h-0.9zM354.5 21.7h0.9v0.9h-0.9zM357.2 19.6h0.9v0.9h-0.9zM354.7 17.4h0.9v0.9h-0.9zM357.3 19.9h0.9v0.9h-0.9zM355.4 31.9h0.9v0.9h-0.9zM359.3 31.6h0.9v0.9h-0.9zM356.6 28.3h0.9v0.9h-0.9zM354.5 26.2h0.9v0.9h-0.9zM358.5 17.0h0.9v0.9h-0.9zM355.8 24.2h0.9v0.9h-0.9zM355.7 26.2h0.9v0.9h-0.9zM361.3 29.4h0.9v0.9h-0.9zM355.8 32.3h0.9v0.9h-0.9zM357.9 20.2h0.9v0.9h-0.9zM352.9 36.1h0.9v0.9h-0.9zM357.7 28.9h0.9v0.9h-0.9zM357.5 29.3h0.9v0.9h-0.9zM353.9 31.7h0.9v0.9h-0.9zM358.1 40.0h0.9v0.9h-0.9zM356.1 25.4h0.9v0.9h-0.9zM354.5 17.8h0.9v0.9h-0.9zM360.0 19.0h0.9v0.9h-0.9zM358.9 22.0h0.9v0.9h-0.9zM357.0 35.6h0.9v0.9h-0.9zM356.0 15.2h0.9v0.9h-0.9zM358.8 30.9h0.9v0.9h-0.9zM359.7 15.4h0.9v0.9h-0.9zM357.0 41.0h0.9v0.9h-0.9zM361.6 32.1h0.9v0.9h-0.9zM360.1 31.7h0.9v0.9h-0.9zM353.5 33.9h0.9v0.9h-0.9zM360.5 36.7h0.9v0.9h-0.9zM362.8 28.6h0.9v0.9h-0.9zM354.4 23.4h0.9v0.9h-0.9zM359.1 17.5h0.9v0.9h-0.9zM351.6 29.9h0.9v0.9h-0.9zM354.5 34.5h0.9v0.9h-0.9zM349.9 29.5h0.9v0.9h-0.9zM356.7 24.9h0.9v0.9h-0.9zM362.1 30.3h0.9v0.9h-0.9zM356.1 41.6h0.9v0.9h-0.9zM354.0 29.7h0.9v0.9h-0.9zM357.5 46.7h0.9v0.9h-0.9zM360.8 31.4h0.9v0.9h-0.9zM363.4 25.2h0.9v0.9h-0.9zM363.9 21.7h0.9v0.9h-0.9zM362.5 29.3h0.9v0.9h-0.9z" fill="#3a0cf4" fill-opacity="0.7"/>
<path d="M355.6 39.7h0.9v0.9h-0.9zM353.9 39.2h0.9v0.9h-0.9zM351.3 35.5h0.9v0.9h-0.9zM356.1 22.7h0.9v0.9h-0.9zM358.6 15.3h0.9v0.9h-0.9zM350.3 33.8h0.9v0.9h-0.9zM354.4 26.3h0.9v0.9h-0.9zM354.3 33.7h0.9v0.9h-0.9zM359.3 33.1h0.9v0.9h-0.9zM352.9 27.9h0.9v0.9h-0.9zM350.3 29.8h0.9v0.9h-0.9zM351.3 32.8h0.9v0.9h-0.9zM355.4 21.0h0.9v0.9h-0.9zM351.1 19.9h0.9v0.9h-0.9zM360.6 20.5h0.9v0.9h-0.9zM357.0 26.8h0.9v0.9h-0.9zM356.8 24.0h0.9v0.9h-0.9zM359.2 16.9h0.9v0.9h-0.9zM360.3 30.5h0.9v0.9h-0.9zM356.7 23.3h0.9v0.9h-0.9zM353.1 29.7h0.9v0.9h-0.9zM359.1 34.8h0.9v0.9h-0.9zM356.9 20.7h0.9v0.9h-0.9zM356.8 20.0h0.9v0.9h-0.9zM355.7 29.3h0.9v0.9h-0.9zM353.8 28.8h0.9v0.9h-0.9zM356.8 23.7h0.9v0.9h-0.9zM359.1 30.0h0.9v0.9h-0.9zM355.5 33.0h0.9v0.9h-0.9zM358.9 36.7h0.9v0.9h-0.9zM359.3 24.1h0.9v0.9h-0.9zM350.9 26.4h0.9v0.9h-0.9zM359.8 31.7h0.9v0.9h-0.9zM353.5 32.5h0.9v0.9h-0.9zM356.1 14.0h0.9v0.9h-0.9zM352.6 31.6h0.9v0.9h-0.9zM354.5 26.7h0.9v0.9h-0.9zM356.3 33.6h0.9v0.9h-0.9zM358.2 30.1h0.9v0.9h-0.9zM353.4 29.5h0.9v0.9h-0.9zM357.4 39.2h0.9v0.9h-0.9zM353.4 25.7h0.9v0.9h-0.9zM357.8 32.2h0.9v0.9h-0.9zM359.2 34.5h0.9v0.9h-0.9zM355.2 23.6h0.9v0.9h-0.9zM360.8 20.8h0.9v0.9h-0.9zM354.7 24.8h0.9v0.9h-0.9zM356.2 18.8h0.9v0.9h-0.9zM357.8 31.6h0.9v0.9h-0.9zM353.6 27.2h0.9v0.9h-0.9zM354.2 21.2h0.9v0.9h-0.9zM354.7 24.8h0.9v0.9h-0.9zM361.4 26.5h0.9v0.9h-0.9zM354.9 14.3h0.9v0.9h-0.9zM360.1 36.4h0.9v0.9h-0.9zM356.1 29.0h0.9v0.9h-0.9zM356.0 38.8h0.9v0.9h-0.9zM359.8 26.2h0.9v0.9h-0.9zM356.2 36.6h0.9v0.9h-0.9zM355.1 17.6h0.9v0.9h-0.9zM356.2 31.4h0.9v0.9h-0.9zM356.0 27.1h0.9v0.9h-0.9zM359.0 18.0h0.9v0.9h-0.9zM362.1 21.0h0.9v0.9h-0.9zM359.6 26.3h0.9v0.9h-0.9zM358.0 18.8h0.9v0.9h-0.9zM356.0 14.0h0.9v0.9h-0.9zM356.0 28.4h0.9v0.9h-0.9zM362.5 24.2h0.9v0.9h-0.9zM363.0 28.1h0.9v0.9h-0.9zM360.8 27.8h0.9v0.9h-0.9zM353.0 35.7h0.9v0.9h-0.9zM357.1 32.8h0.9v0.9h-0.9zM357.4 35.6h0.9v0.9h-0.9zM357.1 26.3h0.9v0.9h-0.9zM351.1 27.3h0.9v0.9h-0.9zM358.5 15.2h0.9v0.9h-0.9zM352.8 37.2h0.9v0.9h-0.9zM358.3 28.3h0.9v0.9h-0.9zM358.7 36.4h0.9v0.9h-0.9zM361.0 35.6h0.9v0.9h-0.9zM357.8 37.8h0.9v0.9h-0.9zM357.4 18.8h0.9v0.9h-0.9zM354.7 42.0h0.9v0.9h-0.9zM354.2 33.6h0.9v0.9h-0.9zM359.7 28.8h0.9v0.9h-0.9zM354.4 33.0h0.9v0.9h-0.9zM359.8 22.4h0.9v0.9h-0.9zM363.0 27.7h0.9v0.9h-0.9zM360.4 36.1h0.9v0.9h-0.9zM354.1 29.5h0.9v0.9h-0.9zM357.8 22.4h0.9v0.9h-0.9zM356.4 13.9h0.9v0.9h-0.9zM352.4 30.1h0.9v0.9h-0.9zM350.8 31.7h0.9v0.9h-0.9zM356.9 32.0h0.9v0.9h-0.9zM361.4 37.2h0.9v0.9h-0.9zM357.8 17.0h0.9v0.9h-0.9zM355.8 31.6h0.9v0.9h-0.9zM357.8 13.9h0.9v0.9h-0.9zM351.4 23.8h0.9v0.9h-0.9zM363.1 31.1h0.9v0.9h-0.9zM350.1 20.7h0.9v0.9h-0.9zM364.3 36.3h0.9v0.9h-0.9zM358.8 27.9h0.9v0.9h-0.9zM353.8 14.6h0.9v0.9h-0.9z" fill="#3a0cf4" fill-opacity="0.7"/>
<path d="M357.1 13.7h0.9v0.9h-0.9zM357.0 21.2h0.9v0.9h-0.9zM356.8 29.1h0.9v0.9h-0.9zM361.3 34.3h0.9v0.9h-0.9zM359.8 35.9h0.9v0.9h-0.9zM356.1 24.8h0.9v0.9h-0.9zM352.2 27.2h0.9v0.9h-0.9zM357.8 21.6h0.9v0.9h-0.9zM356.2 39.5h0.9v0.9h-0.9zM360.3 37.2h0.9v0.9h-0.9zM356.7 25.2h0.9v0.9h-0.9zM361.7 35.5h0.9v0.9h-0.9zM357.5 24.8h0.9v0.9h-0.9zM354.8 29.2h0.9v0.9h-0.9zM360.1 35.5h0.9v0.9h-0.9zM360.7 23.0h0.9v0.9h-0.9zM360.6 39.2h0.9v0.9h-0.9zM354.7 36.3h0.9v0.9h-0.9zM358.6 24.1h0.9v0.9h-0.9zM357.6 23.9h0.9v0.9h-0.9zM362.2 25.5h0.9v0.9h-0.9zM356.3 28.2h0.9v0.9h-0.9zM358.1 25.4h0.9v0.9h-0.9zM358.2 27.0h0.9v0.9h-0.9zM360.5 25.3h0.9v0.9h-0.9zM355.2 33.1h0.9v0.9h-0.9zM353.7 22.9h0.9v0.9h-0.9zM354.7 21.5h0.9v0.9h-0.9zM352.6 35.0h0.9v0.9h-0.9zM354.8 27.2h0.9v0.9h-0.9zM353.3 28.5h0.9v0.9h-0.9zM359.0 21.7h0.9v0.9h-0.9zM354.3 31.4h0.9v0.9h-0.9zM358.3 25.8h0.9v0.9h-0.9zM359.6 37.0h0.9v0.9h-0.9zM351.2 29.3h0.9v0.9h-0.9zM350.7 25.6h0.9v0.9h-0.9zM361.0 29.6h0.9v0.9h-0.9zM355.0 36.3h0.9v0.9h-0.9zM356.7 34.4h0.9v0.9h-0.9zM358.2 22.4h0.9v0.9h-0.9zM355.9 17.1h0.9v0.9h-0.9zM357.3 17.6h0.9v0.9h-0.9zM351.6 29.5h0.9v0.9h-0.9zM357.3 29.7h0.9v0.9h-0.9zM358.3 25.0h0.9v0.9h-0.9zM357.6 32.8h0.9v0.9h-0.9zM356.8 17.4h0.9v0.9h-0.9zM360.6 33.9h0.9v0.9h-0.9zM352.1 24.8h0.9v0.9h-0.9zM361.3 26.9h0.9v0.9h-0.9zM359.5 27.4h0.9v0.9h-0.9zM357.8 33.3h0.9v0.9h-0.9zM359.6 33.1h0.9v0.9h-0.9zM360.6 22.4h0.9v0.9h-0.9zM357.3 33.4h0.9v0.9h-0.9zM355.5 40.7h0.9v0.9h-0.9zM358.6 32.7h0.9v0.9h-0.9zM351.1 27.3h0.9v0.9h-0.9zM354.8 22.3h0.9v0.9h-0.9zM360.4 23.1h0.9v0.9h-0.9zM360.5 17.6h0.9v0.9h-0.9zM362.0 20.6h0.9v0.9h-0.9zM358.8 25.9h0.9v0.9h-0.9zM356.9 23.0h0.9v0.9h-0.9zM357.2 26.4h0.9v0.9h-0.9zM359.6 37.6h0.9v0.9h-0.9zM357.2 37.4h0.9v0.9h-0.9zM361.9 30.2h0.9v0.9h-0.9zM354.2 25.6h0.9v0.9h-0.9zM356.0 15.0h0.9v0.9h-0.9zM350.2 28.7h0.9v0.9h-0.9zM357.2 29.7h0.9v0.9h-0.9zM351.9 33.9h0.9v0.9h-0.9zM356.1 42.3h0.9v0.9h-0.9zM362.2 24.8h0.9v0.9h-0.9zM356.3 26.4h0.9v0.9h-0.9zM354.4 22.9h0.9v0.9h-0.9zM357.3 34.4h0.9v0.9h-0.9zM355.5 29.3h0.9v0.9h-0.9zM361.5 34.0h0.9v0.9h-0.9zM355.3 26.1h0.9v0.9h-0.9zM358.3 29.6h0.9v0.9h-0.9zM358.5 35.1h0.9v0.9h-0.9zM358.7 29.3h0.9v0.9h-0.9zM353.5 34.1h0.9v0.9h-0.9zM357.9 26.8h0.9v0.9h-0.9zM355.3 37.2h0.9v0.9h-0.9zM358.9 20.3h0.9v0.9h-0.9zM357.0 24.9h0.9v0.9h-0.9zM358.4 26.9h0.9v0.9h-0.9zM355.5 30.2h0.9v0.9h-0.9zM358.5 25.9h0.9v0.9h-0.9zM355.7 42.3h0.9v0.9h-0.9zM352.1 35.5h0.9v0.9h-0.9zM356.8 34.2h0.9v0.9h-0.9zM361.5 18.2h0.9v0.9h-0.9zM351.3 33.0h0.9v0.9h-0.9zM357.2 39.3h0.9v0.9h-0.9zM358.2 28.6h0.9v0.9h-0.9zM355.9 31.4h0.9v0.9h-0.9zM353.2 13.4h0.9v0.9h-0.9zM356.2 30.6h0.9v0.9h-0.9zM350.0 17.6h0.9v0.9h-0.9zM361.3 32.4h0.9v0.9h-0.9zM350.8 17.9h0.9v0.9h-0.9z" fill="#3a0cf4" fill-opacity="0.7"/>
<path d="M352.7 25.5h0.9v0.9h-0.9zM355.4 36.5h0.9v0.9h-0.9zM361.5 23.8h0.9v0.9h-0.9zM358.3 43.1h0.9v0.9h-0.9zM355.4 19.7h0.9v0.9h-0.9zM354.0 35.2h0.9v0.9h-0.9zM356.3 25.0h0.9v0.9h-0.9zM357.4 28.1h0.9v0.9h-0.9zM358.0 39.7h0.9v0.9h-0.9zM358.2 26.1h0.9v0.9h-0.9zM357.3 37.0h0.9v0.9h-0.9zM351.9 35.7h0.9v0.9h-0.9zM360.1 34.5h0.9v0.9h-0.9zM360.3 26.8h0.9v0.9h-0.9zM358.4 37.0h0.9v0.9h-0.9zM355.6 21.3h0.9v0.9h-0.9zM352.7 36.2h0.9v0.9h-0.9zM358.3 34.0h0.9v0.9h-0.9zM359.5 38.9h0.9v0.9h-0.9zM353.4 28.1h0.9v0.9h-0.9zM357.2 38.7h0.9v0.9h-0.9zM354.9 15.1h0.9v0.9h-0.9zM356.1 24.0h0.9v0.9h-0.9zM353.3 23.5h0.9v0.9h-0.9zM358.2 37.5h0.9v0.9h-0.9zM356.2 23.6h0.9v0.9h-0.9zM355.9 36.5h0.9v0.9h-0.9zM351.4 25.3h0.9v0.9h-0.9zM354.3 34.0h0.9v0.9h-0.9zM354.3 37.1h0.9v0.9h-0.9zM360.1 29.2h0.9v0.9h-0.9zM356.3 22.9h0.9v0.9h-0.9zM360.9 27.6h0.9v0.9h-0.9zM353.1 31.7h0.9v0.9h-0.9zM357.2 34.3h0.9v0.9h-0.9zM355.9 36.0h0.9v0.9h-0.9zM353.8 26.4h0.9v0.9h-0.9zM356.9 29.8h0.9v0.9h-0.9zM356.9 21.7h0.9v0.9h-0.9zM356.9 16.4h0.9v0.9h-0.9zM357.5 33.2h0.9v0.9h-0.9zM353.2 21.4h0.9v0.9h-0.9zM352.8 34.1h0.9v0.9h-0.9zM359.1 25.9h0.9v0.9h-0.9zM356.2 28.2h0.9v0.9h-0.9zM357.5 21.6h0.9v0.9h-0.9zM354.0 19.9h0.9v0.9h-0.9zM359.9 32.0h0.9v0.9h-0.9zM359.1 19.9h0.9v0.9h-0.9zM351.3 33.6h0.9v0.9h-0.9zM357.0 25.9h0.9v0.9h-0.9zM357.0 38.6h0.9v0.9h-0.9zM358.7 40.5h0.9v0.9h-0.9zM353.2 32.4h0.9v0.9h-0.9zM355.3 36.2h0.9v0.9h-0.9zM355.0 37.5h0.9v0.9h-0.9zM353.0 24.1h0.9v0.9h-0.9zM357.4 18.6h0.9v0.9h-0.9zM354.9 25.1h0.9v0.9h-0.9zM355.7 27.6h0.9v0.9h-0.9zM353.4 34.6h0.9v0.9h-0.9zM361.8 28.3h0.9v0.9h-0.9zM356.4 30.1h0.9v0.9h-0.9zM355.2 35.0h0.9v0.9h-0.9zM358.5 39.6h0.9v0.9h-0.9zM354.5 19.6h0.9v0.9h-0.9zM357.5 29.9h0.9v0.9h-0.9zM361.6 23.9h0.9v0.9h-0.9zM357.4 26.1h0.9v0.9h-0.9zM358.9 26.4h0.9v0.9h-0.9zM353.5 23.1h0.9v0.9h-0.9zM357.9 21.4h0.9v0.9h-0.9zM355.9 27.1h0.9v0.9h-0.9zM354.5 19.6h0.9v0.9h-0.9zM353.9 23.5h0.9v0.9h-0.9zM358.6 26.2h0.9v0.9h-0.9zM356.0 27.8h0.9v0.9h-0.9zM360.5 30.1h0.9v0.9h-0.9zM357.7 35.6h0.9v0.9h-0.9zM353.4 26.6h0.9v0.9h-0.9zM358.2 40.7h0.9v0.9h-0.9zM352.5 35.2h0.9v0.9h-0.9zM350.8 34.4h0.9v0.9h-0.9zM358.8 31.5h0.9v0.9h-0.9zM359.7 37.2h0.9v0.9h-0.9zM354.5 25.3h0.9v0.9h-0.9zM357.9 22.3h0.9v0.9h-0.9zM351.5 31.8h0.9v0.9h-0.9zM357.3 41.6h0.9v0.9h-0.9zM359.2 32.9h0.9v0.9h-0.9zM356.5 27.8h0.9v0.9h-0.9zM356.8 23.5h0.9v0.9h-0.9zM360.5 23.0h0.9v0.9h-0.9zM358.0 33.4h0.9v0.9h-0.9zM359.7 30.3h0.9v0.9h-0.9zM358.1 32.8h0.9v0.9h-0.9zM353.2 34.3h0.9v0.9h-0.9zM357.7 20.8h0.9v0.9h-0.9zM353.3 29.3h0.9v0.9h-0.9zM356.1 32.9h0.9v0.9h-0.9zM351.5 32.4h0.9v0.9h-0.9zM358.8 30.8h0.9v0.9h-0.9zM356.3 10.0h0.9v0.9h-0.9zM357.6 45.4h0.9v0.9h-0.9zM353.9 25.3h0.9v0.9h-0.9zM355.9 9.8h0.9v0.9h-0.9z" fill="#3a0cf4" fill-opacity="0.7"/>
<path d="M353.4 28.7h0.9v0.9h-0.9zM352.3 39.3h0.9v0.9h-0.9zM356.4 30.5h0.9v0.9h-0.9zM361.6 34.1h0.9v0.9h-0.9zM354.9 13.5h0.9v0.9h-0.9zM350.8 34.4h0.9v0.9h-0.9zM353.9 15.5h0.9v0.9h-0.9zM360.5 21.3h0.9v0.9h-0.9zM352.7 29.1h0.9v0.9h-0.9zM353.6 39.2h0.9v0.9h-0.9zM362.4 30.3h0.9v0.9h-0.9zM359.1 24.5h0.9v0.9h-0.9zM352.4 32.2h0.9v0.9h-0.9zM359.9 14.9h0.9v0.9h-0.9zM354.5 27.7h0.9v0.9h-0.9zM360.3 20.6h0.9v0.9h-0.9zM357.5 36.0h0.9v0.9h-0.9zM351.6 33.7h0.9v0.9h-0.9zM356.4 35.3h0.9v0.9h-0.9zM353.7 39.7h0.9v0.9h-0.9zM357.8 23.9h0.9v0.9h-0.9zM358.3 26.4h0.9v0.9h-0.9zM355.8 34.7h0.9v0.9h-0.9zM354.9 27.3h0.9v0.9h-0.9zM361.2 33.9h0.9v0.9h-0.9zM355.6 27.6h0.9v0.9h-0.9zM358.2 37.3h0.9v0.9h-0.9zM362.6 25.1h0.9v0.9h-0.9zM350.6 25.1h0.9v0.9h-0.9zM359.3 27.7h0.9v0.9h-0.9zM355.9 37.5h0.9v0.9h-0.9zM358.2 35.6h0.9v0.9h-0.9zM356.7 18.7h0.9v0.9h-0.9zM356.6 29.6h0.9v0.9h-0.9zM352.6 25.8h0.9v0.9h-0.9zM352.7 23.2h0.9v0.9h-0.9zM359.2 31.5h0.9v0.9h-0.9zM357.4 24.4h0.9v0.9h-0.9zM360.3 25.7h0.9v0.9h-0.9zM353.7 39.9h0.9v0.9h-0.9zM355.6 21.9h0.9v0.9h-0.9zM360.3 31.8h0.9v0.9h-0.9zM360.4 34.6h0.9v0.9h-0.9zM359.6 29.9h0.9v0.9h-0.9zM357.1 41.1h0.9v0.9h-0.9zM355.7 27.3h0.9v0.9h-0.9zM353.5 29.9h0.9v0.9h-0.9zM352.8 29.9h0.9v0.9h-0.9zM359.1 36.3h0.9v0.9h-0.9zM351.7 33.9h0.9v0.9h-0.9zM352.0 24.9h0.9v0.9h-0.9zM356.7 16.9h0.9v0.9h-0.9zM360.2 33.9h0.9v0.9h-0.9zM357.9 28.7h0.9v0.9h-0.9zM355.5 17.9h0.9v0.9h-0.9zM357.7 37.9h0.9v0.9h-0.9zM357.2 22.6h0.9v0.9h-0.9zM352.2 26.1h0.9v0.9h-0.9zM351.9 24.7h0.9v0.9h-0.9zM356.0 29.6h0.9v0.9h-0.9zM360.8 23.9h0.9v0.9h-0.9zM360.9 19.7h0.9v0.9h-0.9zM352.8 37.3h0.9v0.9h-0.9zM353.4 18.9h0.9v0.9h-0.9zM351.3 21.0h0.9v0.9h-0.9zM353.9 20.0h0.9v0.9h-0.9zM356.9 31.7h0.9v0.9h-0.9zM354.4 40.2h0.9v0.9h-0.9zM357.6 24.2h0.9v0.9h-0.9zM355.9 26.0h0.9v0.9h-0.9zM354.7 31.3h0.9v0.9h-0.9zM350.5 33.6h0.9v0.9h-0.9zM353.0 16.0h0.9v0.9h-0.9zM355.1 24.2h0.9v0.9h-0.9zM355.2 32.9h0.9v0.9h-0.9zM353.4 20.3h0.9v0.9h-0.9zM353.1 27.5h0.9v0.9h-0.9zM357.5 23.7h0.9v0.9h-0.9zM352.1 28.7h0.9v0.9h-0.9zM360.6 35.0h0.9v0.9h-0.9zM354.1 33.7h0.9v0.9h-0.9zM359.4 36.0h0.9v0.9h-0.9zM355.7 20.7h0.9v0.9h-0.9zM360.2 18.9h0.9v0.9h-0.9zM354.1 31.4h0.9v0.9h-0.9zM357.5 34.4h0.9v0.9h-0.9zM356.4 25.4h0.9v0.9h-0.9zM357.0 24.6h0.9v0.9h-0.9zM358.6 30.1h0.9v0.9h-0.9zM355.8 14.0h0.9v0.9h-0.9zM357.1 33.7h0.9v0.9h-0.9zM352.4 29.1h0.9v0.9h-0.9zM360.5 20.5h0.9v0.9h-0.9zM356.8 20.4h0.9v0.9h-0.9zM359.9 29.3h0.9v0.9h-0.9zM359.1 38.2h0.9v0.9h-0.9zM355.7 43.6h0.9v0.9h-0.9zM356.0 20.1h0.9v0.9h-0.9zM353.9 40.2h0.9v0.9h-0.9zM357.8 17.1h0.9v0.9h-0.9zM352.2 13.2h0.9v0.9h-0.9zM356.1 36.9h0.9v0.9h-0.9zM360.3 45.0h0.9v0.9h-0.9zM350.3 20.5h0.9v0.9h-0.9zM362.6 23.2h0.9v0.9h-0.9zM351.5 25.6h0.9v0.9h-0.9z" fill="#3a0cf4" fill-opacity="0.7"/>
<ellipse cx="282.0" cy="101.5" rx="8.12" ry="15.40" fill="#3fa0fa" opacity="0.3" filter="url(#bl3)" transform="rotate(0.0 282.0 101.5)"/>
<path d="M284.3 122.0h0.8v0.8h-0.8zM272.9 93.9h0.8v0.8h-0.8zM286.9 83.0h0.8v0.8h-0.8zM280.5 118.9h0.8v0.8h-0.8zM282.6 100.9h0.8v0.8h-0.8zM274.4 103.2h0.8v0.8h-0.8zM278.5 107.2h0.8v0.8h-0.8zM286.8 107.7h0.8v0.8h-0.8zM281.6 115.5h0.8v0.8h-0.8zM272.1 90.4h0.8v0.8h-0.8zM280.2 100.9h0.8v0.8h-0.8zM273.6 112.6h0.8v0.8h-0.8zM271.3 97.8h0.8v0.8h-0.8zM289.7 109.5h0.8v0.8h-0.8zM272.2 104.6h0.8v0.8h-0.8zM275.5 117.2h0.8v0.8h-0.8zM283.7 95.9h0.8v0.8h-0.8zM272.6 98.0h0.8v0.8h-0.8zM283.1 119.0h0.8v0.8h-0.8zM291.4 99.0h0.8v0.8h-0.8zM286.0 97.1h0.8v0.8h-0.8zM283.7 113.0h0.8v0.8h-0.8zM272.8 107.1h0.8v0.8h-0.8zM284.8 106.3h0.8v0.8h-0.8zM282.5 106.4h0.8v0.8h-0.8zM286.8 110.3h0.8v0.8h-0.8zM272.4 99.2h0.8v0.8h-0.8zM282.2 100.7h0.8v0.8h-0.8zM290.3 92.6h0.8v0.8h-0.8zM277.6 109.6h0.8v0.8h-0.8zM291.6 94.0h0.8v0.8h-0.8zM279.0 100.6h0.8v0.8h-0.8zM279.0 93.2h0.8v0.8h-0.8zM276.3 107.8h0.8v0.8h-0.8zM290.5 104.2h0.8v0.8h-0.8zM288.1 113.8h0.8v0.8h-0.8zM283.0 99.3h0.8v0.8h-0.8zM293.0 109.4h0.8v0.8h-0.8zM281.7 103.7h0.8v0.8h-0.8zM278.4 104.7h0.8v0.8h-0.8zM277.1 97.0h0.8v0.8h-0.8zM281.4 116.1h0.8v0.8h-0.8zM289.5 96.2h0.8v0.8h-0.8zM273.9 98.2h0.8v0.8h-0.8zM281.4 111.1h0.8v0.8h-0.8zM274.7 90.9h0.8v0.8h-0.8zM283.6 97.3h0.8v0.8h-0.8zM285.0 98.0h0.8v0.8h-0.8zM287.2 102.7h0.8v0.8h-0.8zM285.7 114.9h0.8v0.8h-0.8zM272.8 92.3h0.8v0.8h-0.8zM283.1 97.2h0.8v0.8h-0.8zM277.7 104.3h0.8v0.8h-0.8zM278.2 97.8h0.8v0.8h-0.8zM271.9 103.7h0.8v0.8h-0.8zM276.0 97.6h0.8v0.8h-0.8zM283.9 112.7h0.8v0.8h-0.8zM274.0 116.3h0.8v0.8h-0.8zM283.6 97.0h0.8v0.8h-0.8zM290.5 85.9h0.8v0.8h-0.8zM278.4 92.5h0.8v0.8h-0.8zM274.9 101.2h0.8v0.8h-0.8zM283.9 108.8h0.8v0.8h-0.8zM285.9 120.2h0.8v0.8h-0.8zM277.6 112.6h0.8v0.8h-0.8zM285.8 100.6h0.8v0.8h-0.8zM283.7 99.9h0.8v0.8h-0.8zM277.4 95.9h0.8v0.8h-0.8zM280.3 95.0h0.8v0.8h-0.8zM273.8 105.3h0.8v0.8h-0.8zM280.2 86.9h0.8v0.8h-0.8zM290.7 98.9h0.8v0.8h-0.8zM283.2 95.6h0.8v0.8h-0.8zM280.6 105.4h0.8v0.8h-0.8zM279.9 114.3h0.8v0.8h-0.8zM288.9 107.2h0.8v0.8h-0.8zM273.2 116.0h0.8v0.8h-0.8zM273.2 104.7h0.8v0.8h-0.8zM272.7 101.5h0.8v0.8h-0.8zM286.7 108.9h0.8v0.8h-0.8zM283.4 100.2h0.8v0.8h-0.8zM276.0 108.6h0.8v0.8h-0.8zM279.1 106.2h0.8v0.8h-0.8zM278.3 91.6h0.8v0.8h-0.8zM271.4 90.8h0.8v0.8h-0.8zM272.8 97.8h0.8v0.8h-0.8zM285.4 116.5h0.8v0.8h-0.8zM271.8 90.5h0.8v0.8h-0.8zM276.4 102.3h0.8v0.8h-0.8zM287.1 100.3h0.8v0.8h-0.8zM275.8 112.7h0.8v0.8h-0.8zM281.7 103.4h0.8v0.8h-0.8zM280.2 98.3h0.8v0.8h-0.8zM281.2 83.6h0.8v0.8h-0.8zM286.7 97.4h0.8v0.8h-0.8zM278.6 107.4h0.8v0.8h-0.8zM290.8 103.9h0.8v0.8h-0.8zM273.5 114.7h0.8v0.8h-0.8zM277.9 98.1h0.8v0.8h-0.8zM283.6 111.8h0.8v0.8h-0.8zM283.0 93.5h0.8v0.8h-0.8zM273.8 115.5h0.8v0.8h-0.8zM287.6 90.0h0.8v0.8h-0.8zM288.4 100.7h0.8v0.8h-0.8zM278.0 118.3h0.8v0.8h-0.8zM285.2 91.9h0.8v0.8h-0.8zM283.1 101.2h0.8v0.8h-0.8zM280.4 108.3h0.8v0.8h-0.8zM282.5 109.8h0.8v0.8h-0.8zM283.8 115.8h0.8v0.8h-0.8zM285.9 95.0h0.8v0.8h-0.8zM277.8 105.2h0.8v0.8h-0.8zM278.9 84.3h0.8v0.8h-0.8zM275.3 116.7h0.8v0.8h-0.8zM292.2 106.7h0.8v0.8h-0.8zM275.2 85.5h0.8v0.8h-0.8zM273.2 98.4h0.8v0.8h-0.8zM275.7 92.6h0.8v0.8h-0.8zM289.8 93.7h0.8v0.8h-0.8zM279.9 109.8h0.8v0.8h-0.8zM279.4 85.1h0.8v0.8h-0.8zM281.7 98.6h0.8v0.8h-0.8zM287.5 99.7h0.8v0.8h-0.8zM291.7 100.1h0.8v0.8h-0.8zM275.5 92.6h0.8v0.8h-0.8zM281.1 96.0h0.8v0.8h-0.8zM281.8 104.9h0.8v0.8h-0.8zM292.5 94.4h0.8v0.8h-0.8zM288.5 97.4h0.8v0.8h-0.8zM282.3 107.1h0.8v0.8h-0.8zM287.3 111.4h0.8v0.8h-0.8zM281.2 106.2h0.8v0.8h-0.8zM274.4 105.8h0.8v0.8h-0.8zM286.2 116.8h0.8v0.8h-0.8zM289.4 112.4h0.8v0.8h-0.8zM269.4 104.3h0.8v0.8h-0.8zM278.5 110.3h0.8v0.8h-0.8zM289.2 112.4h0.8v0.8h-0.8zM276.1 85.7h0.8v0.8h-0.8zM281.4 106.4h0.8v0.8h-0.8zM287.0 111.7h0.8v0.8h-0.8zM282.2 100.8h0.8v0.8h-0.8zM282.8 115.9h0.8v0.8h-0.8zM286.2 98.8h0.8v0.8h-0.8zM283.0 89.1h0.8v0.8h-0.8zM281.8 84.6h0.8v0.8h-0.8zM276.2 98.6h0.8v0.8h-0.8zM277.8 81.2h0.8v0.8h-0.8zM278.2 115.7h0.8v0.8h-0.8zM280.6 101.7h0.8v0.8h-0.8zM277.9 107.5h0.8v0.8h-0.8zM280.2 83.1h0.8v0.8h-0.8zM282.6 98.8h0.8v0.8h-0.8zM280.3 100.2h0.8v0.8h-0.8zM288.3 109.0h0.8v0.8h-0.8zM280.5 104.5h0.8v0.8h-0.8zM288.7 95.1h0.8v0.8h-0.8zM278.6 101.7h0.8v0.8h-0.8zM285.3 92.6h0.8v0.8h-0.8zM285.3 99.6h0.8v0.8h-0.8zM282.4 83.3h0.8v0.8h-0.8zM279.2 103.6h0.8v0.8h-0.8zM281.4 106.3h0.8v0.8h-0.8zM287.5 106.7h0.8v0.8h-0.8zM287.6 116.7h0.8v0.8h-0.8zM272.6 102.9h0.8v0.8h-0.8zM283.1 94.2h0.8v0.8h-0.8zM286.7 96.7h0.8v0.8h-0.8zM278.3 99.7h0.8v0.8h-0.8zM277.8 98.6h0.8v0.8h-0.8zM282.5 119.1h0.8v0.8h-0.8zM273.7 94.2h0.8v0.8h-0.8zM278.0 106.9h0.8v0.8h-0.8zM287.5 88.8h0.8v0.8h-0.8zM289.7 100.5h0.8v0.8h-0.8zM281.5 106.0h0.8v0.8h-0.8zM271.3 107.3h0.8v0.8h-0.8zM281.6 102.1h0.8v0.8h-0.8zM288.1 103.2h0.8v0.8h-0.8zM271.5 98.9h0.8v0.8h-0.8zM274.9 101.1h0.8v0.8h-0.8zM273.4 110.4h0.8v0.8h-0.8zM284.9 104.7h0.8v0.8h-0.8zM286.7 115.2h0.8v0.8h-0.8zM274.4 89.9h0.8v0.8h-0.8zM290.7 101.5h0.8v0.8h-0.8zM270.5 95.3h0.8v0.8h-0.8zM290.5 95.9h0.8v0.8h-0.8zM293.4 105.9h0.8v0.8h-0.8zM277.0 90.0h0.8v0.8h-0.8zM280.0 81.3h0.8v0.8h-0.8zM290.0 104.6h0.8v0.8h-0.8zM280.6 84.7h0.8v0.8h-0.8zM280.5 103.4h0.8v0.8h-0.8zM286.5 114.0h0.8v0.8h-0.8zM281.4 112.3h0.8v0.8h-0.8zM281.8 111.3h0.8v0.8h-0.8zM285.5 105.4h0.8v0.8h-0.8zM287.2 92.1h0.8v0.8h-0.8zM280.6 88.4h0.8v0.8h-0.8zM275.9 109.3h0.8v0.8h-0.8zM280.7 111.6h0.8v0.8h-0.8zM276.2 87.5h0.8v0.8h-0.8zM280.4 101.4h0.8v0.8h-0.8zM278.8 95.7h0.8v0.8h-0.8zM279.8 105.5h0.8v0.8h-0.8zM273.7 103.0h0.8v0.8h-0.8zM282.3 106.4h0.8v0.8h-0.8zM286.9 86.6h0.8v0.8h-0.8zM280.0 89.7h0.8v0.8h-0.8zM277.2 84.1h0.8v0.8h-0.8zM273.9 103.3h0.8v0.8h-0.8zM275.5 93.3h0.8v0.8h-0.8zM277.8 102.0h0.8v0.8h-0.8zM282.7 87.2h0.8v0.8h-0.8zM283.3 96.0h0.8v0.8h-0.8zM274.6 115.4h0.8v0.8h-0.8zM282.6 105.0h0.8v0.8h-0.8zM281.4 105.5h0.8v0.8h-0.8zM280.8 88.8h0.8v0.8h-0.8zM284.3 104.3h0.8v0.8h-0.8zM282.1 86.3h0.8v0.8h-0.8zM286.2 101.2h0.8v0.8h-0.8zM271.9 101.6h0.8v0.8h-0.8zM286.9 104.5h0.8v0.8h-0.8zM280.2 87.6h0.8v0.8h-0.8zM286.5 82.7h0.8v0.8h-0.8zM288.8 87.4h0.8v0.8h-0.8zM280.9 101.8h0.8v0.8h-0.8zM274.4 111.1h0.8v0.8h-0.8zM279.6 90.4h0.8v0.8h-0.8zM277.5 103.8h0.8v0.8h-0.8zM292.9 101.3h0.8v0.8h-0.8zM287.9 106.2h0.8v0.8h-0.8zM273.1 111.6h0.8v0.8h-0.8zM291.5 100.1h0.8v0.8h-0.8zM277.1 108.3h0.8v0.8h-0.8zM282.7 100.6h0.8v0.8h-0.8zM273.5 78.6h0.8v0.8h-0.8zM289.3 100.4h0.8v0.8h-0.8zM283.0 77.8h0.8v0.8h-0.8zM292.8 98.2h0.8v0.8h-0.8zM269.1 113.8h0.8v0.8h-0.8zM288.6 78.8h0.8v0.8h-0.8zM277.3 109.5h0.8v0.8h-0.8zM291.2 83.6h0.8v0.8h-0.8zM291.0 98.3h0.8v0.8h-0.8zM297.0 104.8h0.8v0.8h-0.8zM284.8 82.8h0.8v0.8h-0.8zM291.3 109.9h0.8v0.8h-0.8zM290.0 103.8h0.8v0.8h-0.8zM277.8 88.5h0.8v0.8h-0.8z" fill="#3fa0fa" fill-opacity="0.42"/>
<path d="M285.2 91.0h0.8v0.8h-0.8zM272.4 104.4h0.8v0.8h-0.8zM282.6 101.5h0.8v0.8h-0.8zM276.5 118.5h0.8v0.8h-0.8zM284.6 103.9h0.8v0.8h-0.8zM272.8 114.1h0.8v0.8h-0.8zM276.6 109.6h0.8v0.8h-0.8zM291.0 105.2h0.8v0.8h-0.8zM277.8 98.3h0.8v0.8h-0.8zM283.0 120.7h0.8v0.8h-0.8zM285.4 105.1h0.8v0.8h-0.8zM276.7 111.7h0.8v0.8h-0.8zM277.2 104.0h0.8v0.8h-0.8zM288.3 93.4h0.8v0.8h-0.8zM279.5 114.6h0.8v0.8h-0.8zM277.0 102.8h0.8v0.8h-0.8zM283.4 110.1h0.8v0.8h-0.8zM288.2 110.5h0.8v0.8h-0.8zM279.1 87.7h0.8v0.8h-0.8zM276.5 94.6h0.8v0.8h-0.8zM282.0 97.0h0.8v0.8h-0.8zM285.8 106.8h0.8v0.8h-0.8zM291.4 109.1h0.8v0.8h-0.8zM271.8 101.0h0.8v0.8h-0.8zM278.7 96.0h0.8v0.8h-0.8zM291.6 102.1h0.8v0.8h-0.8zM276.2 92.3h0.8v0.8h-0.8zM285.7 98.7h0.8v0.8h-0.8zM278.5 95.0h0.8v0.8h-0.8zM281.8 99.4h0.8v0.8h-0.8zM281.7 117.5h0.8v0.8h-0.8zM283.9 118.8h0.8v0.8h-0.8zM281.3 97.4h0.8v0.8h-0.8zM289.6 105.3h0.8v0.8h-0.8zM292.6 100.8h0.8v0.8h-0.8zM283.2 110.7h0.8v0.8h-0.8zM271.2 97.2h0.8v0.8h-0.8zM289.1 103.1h0.8v0.8h-0.8zM277.4 83.0h0.8v0.8h-0.8zM282.6 116.9h0.8v0.8h-0.8zM283.2 99.3h0.8v0.8h-0.8zM277.4 87.6h0.8v0.8h-0.8zM286.7 108.9h0.8v0.8h-0.8zM277.5 84.9h0.8v0.8h-0.8zM284.2 112.4h0.8v0.8h-0.8zM289.5 104.7h0.8v0.8h-0.8zM277.8 90.5h0.8v0.8h-0.8zM291.5 112.7h0.8v0.8h-0.8zM280.1 87.9h0.8v0.8h-0.8zM279.6 99.7h0.8v0.8h-0.8zM285.5 108.1h0.8v0.8h-0.8zM273.9 92.7h0.8v0.8h-0.8zM280.1 91.4h0.8v0.8h-0.8zM280.2 103.6h0.8v0.8h-0.8zM282.9 95.2h0.8v0.8h-0.8zM284.1 100.8h0.8v0.8h-0.8zM282.8 96.3h0.8v0.8h-0.8zM284.6 92.0h0.8v0.8h-0.8zM277.5 121.3h0.8v0.8h-0.8zM279.3 121.1h0.8v0.8h-0.8zM284.6 117.3h0.8v0.8h-0.8zM279.0 91.6h0.8v0.8h-0.8zM275.2 116.6h0.8v0.8h-0.8zM278.2 88.3h0.8v0.8h-0.8zM271.5 109.2h0.8v0.8h-0.8zM287.7 118.5h0.8v0.8h-0.8zM279.3 100.2h0.8v0.8h-0.8zM278.1 110.5h0.8v0.8h-0.8zM281.1 100.4h0.8v0.8h-0.8zM278.4 94.5h0.8v0.8h-0.8zM290.2 103.4h0.8v0.8h-0.8zM286.0 95.3h0.8v0.8h-0.8zM276.2 104.4h0.8v0.8h-0.8zM281.5 98.7h0.8v0.8h-0.8zM280.8 94.2h0.8v0.8h-0.8zM283.4 107.6h0.8v0.8h-0.8zM278.5 88.8h0.8v0.8h-0.8zM289.8 90.9h0.8v0.8h-0.8zM290.8 113.1h0.8v0.8h-0.8zM274.6 91.5h0.8v0.8h-0.8zM277.4 120.7h0.8v0.8h-0.8zM279.7 101.5h0.8v0.8h-0.8zM275.8 97.6h0.8v0.8h-0.8zM286.3 115.7h0.8v0.8h-0.8zM282.4 85.4h0.8v0.8h-0.8zM282.3 120.7h0.8v0.8h-0.8zM272.0 88.3h0.8v0.8h-0.8zM284.0 98.8h0.8v0.8h-0.8zM278.0 94.5h0.8v0.8h-0.8zM287.1 99.5h0.8v0.8h-0.8zM274.4 84.1h0.8v0.8h-0.8zM287.7 101.6h0.8v0.8h-0.8zM287.3 104.1h0.8v0.8h-0.8zM291.5 97.5h0.8v0.8h-0.8zM273.4 117.5h0.8v0.8h-0.8zM284.8 96.1h0.8v0.8h-0.8zM280.0 115.3h0.8v0.8h-0.8zM279.4 114.6h0.8v0.8h-0.8zM276.7 98.5h0.8v0.8h-0.8zM279.7 118.0h0.8v0.8h-0.8zM284.1 108.2h0.8v0.8h-0.8zM270.0 106.3h0.8v0.8h-0.8zM289.4 112.5h0.8v0.8h-0.8zM287.1 99.3h0.8v0.8h-0.8zM281.7 114.0h0.8v0.8h-0.8zM271.2 93.0h0.8v0.8h-0.8zM283.9 113.4h0.8v0.8h-0.8zM291.3 99.9h0.8v0.8h-0.8zM274.3 101.0h0.8v0.8h-0.8zM281.3 110.6h0.8v0.8h-0.8zM272.4 93.4h0.8v0.8h-0.8zM283.1 105.8h0.8v0.8h-0.8zM280.4 93.0h0.8v0.8h-0.8zM278.9 104.4h0.8v0.8h-0.8zM280.5 116.3h0.8v0.8h-0.8zM282.8 113.7h0.8v0.8h-0.8zM286.4 116.6h0.8v0.8h-0.8zM274.8 98.0h0.8v0.8h-0.8zM285.7 86.6h0.8v0.8h-0.8zM285.0 107.9h0.8v0.8h-0.8zM272.7 97.3h0.8v0.8h-0.8zM283.8 105.0h0.8v0.8h-0.8zM288.4 100.2h0.8v0.8h-0.8zM275.6 91.8h0.8v0.8h-0.8zM277.5 84.5h0.8v0.8h-0.8zM281.0 98.6h0.8v0.8h-0.8zM275.2 87.7h0.8v0.8h-0.8zM284.9 92.7h0.8v0.8h-0.8zM279.8 101.4h0.8v0.8h-0.8zM274.5 99.5h0.8v0.8h-0.8zM284.3 96.8h0.8v0.8h-0.8zM288.4 100.4h0.8v0.8h-0.8zM283.3 116.0h0.8v0.8h-0.8zM287.4 113.0h0.8v0.8h-0.8zM286.6 98.7h0.8v0.8h-0.8zM279.8 103.5h0.8v0.8h-0.8zM282.4 109.6h0.8v0.8h-0.8zM288.4 94.6h0.8v0.8h-0.8zM287.4 113.3h0.8v0.8h-0.8zM278.9 113.3h0.8v0.8h-0.8zM284.6 99.2h0.8v0.8h-0.8zM291.8 95.2h0.8v0.8h-0.8zM288.1 118.9h0.8v0.8h-0.8zM285.5 102.8h0.8v0.8h-0.8zM279.2 122.0h0.8v0.8h-0.8zM288.2 100.8h0.8v0.8h-0.8zM285.4 90.8h0.8v0.8h-0.8zM287.1 90.0h0.8v0.8h-0.8zM285.4 91.2h0.8v0.8h-0.8zM279.9 102.9h0.8v0.8h-0.8zM276.9 95.8h0.8v0.8h-0.8zM289.9 95.6h0.8v0.8h-0.8zM284.9 101.3h0.8v0.8h-0.8zM275.1 90.6h0.8v0.8h-0.8zM282.2 96.5h0.8v0.8h-0.8zM286.5 88.1h0.8v0.8h-0.8zM277.4 95.2h0.8v0.8h-0.8zM271.0 95.7h0.8v0.8h-0.8zM279.0 94.6h0.8v0.8h-0.8zM283.3 101.9h0.8v0.8h-0.8zM283.1 111.8h0.8v0.8h-0.8zM272.9 107.2h0.8v0.8h-0.8zM282.7 93.4h0.8v0.8h-0.8zM281.9 86.2h0.8v0.8h-0.8zM280.3 110.1h0.8v0.8h-0.8zM279.3 111.6h0.8v0.8h-0.8zM282.4 97.9h0.8v0.8h-0.8zM274.3 102.2h0.8v0.8h-0.8zM285.2 87.0h0.8v0.8h-0.8zM278.0 114.1h0.8v0.8h-0.8zM277.9 100.2h0.8v0.8h-0.8zM276.5 103.9h0.8v0.8h-0.8zM282.2 92.5h0.8v0.8h-0.8zM286.5 107.0h0.8v0.8h-0.8zM282.8 107.9h0.8v0.8h-0.8zM280.3 114.3h0.8v0.8h-0.8zM283.4 96.0h0.8v0.8h-0.8zM280.0 109.9h0.8v0.8h-0.8zM282.6 107.1h0.8v0.8h-0.8zM283.5 96.7h0.8v0.8h-0.8zM275.3 105.5h0.8v0.8h-0.8zM287.9 100.0h0.8v0.8h-0.8zM280.0 114.1h0.8v0.8h-0.8zM283.0 97.9h0.8v0.8h-0.8zM279.8 88.2h0.8v0.8h-0.8zM279.9 112.8h0.8v0.8h-0.8zM283.4 100.0h0.8v0.8h-0.8zM285.4 110.6h0.8v0.8h-0.8zM289.4 86.0h0.8v0.8h-0.8zM273.6 101.4h0.8v0.8h-0.8zM277.3 114.2h0.8v0.8h-0.8zM283.6 88.6h0.8v0.8h-0.8zM284.2 118.1h0.8v0.8h-0.8zM281.8 91.2h0.8v0.8h-0.8zM288.2 108.6h0.8v0.8h-0.8zM287.8 90.5h0.8v0.8h-0.8zM287.5 116.4h0.8v0.8h-0.8zM276.1 103.1h0.8v0.8h-0.8zM279.3 120.6h0.8v0.8h-0.8zM271.7 111.6h0.8v0.8h-0.8zM280.0 113.9h0.8v0.8h-0.8zM289.5 117.2h0.8v0.8h-0.8zM271.4 109.6h0.8v0.8h-0.8zM281.2 107.4h0.8v0.8h-0.8zM282.6 92.1h0.8v0.8h-0.8zM282.3 99.7h0.8v0.8h-0.8zM281.9 89.6h0.8v0.8h-0.8zM269.6 96.0h0.8v0.8h-0.8zM280.1 98.1h0.8v0.8h-0.8zM292.1 102.7h0.8v0.8h-0.8zM275.7 95.7h0.8v0.8h-0.8zM277.1 92.2h0.8v0.8h-0.8zM282.1 106.5h0.8v0.8h-0.8zM278.3 101.5h0.8v0.8h-0.8zM281.4 114.1h0.8v0.8h-0.8zM283.7 117.1h0.8v0.8h-0.8zM280.8 115.2h0.8v0.8h-0.8zM281.3 100.1h0.8v0.8h-0.8zM275.9 110.7h0.8v0.8h-0.8zM279.0 117.3h0.8v0.8h-0.8zM281.5 105.5h0.8v0.8h-0.8zM280.8 98.7h0.8v0.8h-0.8zM276.6 101.5h0.8v0.8h-0.8zM280.0 106.7h0.8v0.8h-0.8zM283.1 107.2h0.8v0.8h-0.8zM283.8 90.1h0.8v0.8h-0.8zM285.1 104.9h0.8v0.8h-0.8zM273.2 111.8h0.8v0.8h-0.8zM271.0 100.2h0.8v0.8h-0.8zM287.4 113.5h0.8v0.8h-0.8zM284.2 84.3h0.8v0.8h-0.8zM279.4 102.7h0.8v0.8h-0.8zM289.4 106.6h0.8v0.8h-0.8zM281.6 85.2h0.8v0.8h-0.8zM288.1 91.8h0.8v0.8h-0.8zM287.8 95.6h0.8v0.8h-0.8zM286.9 88.6h0.8v0.8h-0.8zM278.8 91.5h0.8v0.8h-0.8zM292.4 111.0h0.8v0.8h-0.8zM282.9 96.0h0.8v0.8h-0.8zM291.7 103.9h0.8v0.8h-0.8zM291.9 99.2h0.8v0.8h-0.8zM275.3 88.3h0.8v0.8h-0.8zM283.7 116.5h0.8v0.8h-0.8zM279.7 104.9h0.8v0.8h-0.8zM270.1 115.8h0.8v0.8h-0.8zM282.8 78.7h0.8v0.8h-0.8zM275.0 124.7h0.8v0.8h-0.8zM277.5 108.9h0.8v0.8h-0.8zM288.9 79.3h0.8v0.8h-0.8zM275.2 124.4h0.8v0.8h-0.8zM287.2 102.9h0.8v0.8h-0.8z" fill="#3fa0fa" fill-opacity="0.42"/>
<path d="M272.1 88.0h0.8v0.8h-0.8zM277.6 112.8h0.8v0.8h-0.8zM283.9 99.2h0.8v0.8h-0.8zM271.2 100.1h0.8v0.8h-0.8zM272.6 102.6h0.8v0.8h-0.8zM273.1 99.3h0.8v0.8h-0.8zM272.9 113.3h0.8v0.8h-0.8zM288.3 97.5h0.8v0.8h-0.8zM272.6 87.6h0.8v0.8h-0.8zM293.4 106.2h0.8v0.8h-0.8zM273.8 92.1h0.8v0.8h-0.8zM287.8 106.6h0.8v0.8h-0.8zM276.1 101.0h0.8v0.8h-0.8zM278.1 118.1h0.8v0.8h-0.8zM282.6 115.9h0.8v0.8h-0.8zM285.5 111.5h0.8v0.8h-0.8zM273.6 96.8h0.8v0.8h-0.8zM279.8 86.9h0.8v0.8h-0.8zM278.8 104.2h0.8v0.8h-0.8zM272.0 108.6h0.8v0.8h-0.8zM277.6 101.6h0.8v0.8h-0.8zM280.1 101.0h0.8v0.8h-0.8zM288.3 99.1h0.8v0.8h-0.8zM279.8 95.2h0.8v0.8h-0.8zM272.7 108.5h0.8v0.8h-0.8zM270.2 107.6h0.8v0.8h-0.8zM281.2 84.3h0.8v0.8h-0.8zM280.5 89.5h0.8v0.8h-0.8zM274.5 108.5h0.8v0.8h-0.8zM289.3 100.6h0.8v0.8h-0.8zM284.1 92.3h0.8v0.8h-0.8zM275.0 108.3h0.8v0.8h-0.8zM284.9 119.2h0.8v0.8h-0.8zM291.5 87.7h0.8v0.8h-0.8zM285.0 81.6h0.8v0.8h-0.8zM274.6 110.8h0.8v0.8h-0.8zM286.4 95.0h0.8v0.8h-0.8zM289.2 93.2h0.8v0.8h-0.8zM290.4 106.5h0.8v0.8h-0.8zM276.7 103.9h0.8v0.8h-0.8zM285.4 121.7h0.8v0.8h-0.8zM289.0 102.5h0.8v0.8h-0.8zM279.6 80.3h0.8v0.8h-0.8zM278.8 101.4h0.8v0.8h-0.8zM284.2 108.0h0.8v0.8h-0.8zM284.2 108.2h0.8v0.8h-0.8zM288.4 86.1h0.8v0.8h-0.8zM289.6 102.3h0.8v0.8h-0.8zM277.4 111.1h0.8v0.8h-0.8zM280.1 98.1h0.8v0.8h-0.8zM282.4 105.4h0.8v0.8h-0.8zM272.3 114.6h0.8v0.8h-0.8zM282.0 79.5h0.8v0.8h-0.8zM280.3 106.4h0.8v0.8h-0.8zM283.7 82.2h0.8v0.8h-0.8zM280.6 99.0h0.8v0.8h-0.8zM275.5 100.8h0.8v0.8h-0.8zM273.4 98.6h0.8v0.8h-0.8zM286.0 97.3h0.8v0.8h-0.8zM286.5 96.3h0.8v0.8h-0.8zM286.3 82.8h0.8v0.8h-0.8zM288.9 87.4h0.8v0.8h-0.8zM290.4 104.3h0.8v0.8h-0.8zM292.7 92.4h0.8v0.8h-0.8zM285.0 95.3h0.8v0.8h-0.8zM280.0 113.0h0.8v0.8h-0.8zM286.2 84.8h0.8v0.8h-0.8zM284.8 111.1h0.8v0.8h-0.8zM276.3 96.6h0.8v0.8h-0.8zM289.7 103.9h0.8v0.8h-0.8zM275.3 106.5h0.8v0.8h-0.8zM283.4 97.8h0.8v0.8h-0.8zM290.7 97.5h0.8v0.8h-0.8zM276.6 83.8h0.8v0.8h-0.8zM278.5 97.7h0.8v0.8h-0.8zM278.1 107.5h0.8v0.8h-0.8zM275.0 91.5h0.8v0.8h-0.8zM281.7 122.8h0.8v0.8h-0.8zM284.3 94.5h0.8v0.8h-0.8zM278.4 81.7h0.8v0.8h-0.8zM277.1 102.9h0.8v0.8h-0.8zM274.7 109.7h0.8v0.8h-0.8zM278.5 101.5h0.8v0.8h-0.8zM285.4 114.2h0.8v0.8h-0.8zM272.0 87.0h0.8v0.8h-0.8zM292.2 110.1h0.8v0.8h-0.8zM279.4 97.9h0.8v0.8h-0.8zM273.6 100.7h0.8v0.8h-0.8zM284.5 94.2h0.8v0.8h-0.8zM281.2 109.0h0.8v0.8h-0.8zM272.6 112.0h0.8v0.8h-0.8zM284.4 81.0h0.8v0.8h-0.8zM270.2 97.1h0.8v0.8h-0.8zM279.9 83.3h0.8v0.8h-0.8zM284.2 102.4h0.8v0.8h-0.8zM288.3 99.4h0.8v0.8h-0.8zM278.2 89.0h0.8v0.8h-0.8zM279.7 92.3h0.8v0.8h-0.8zM283.0 97.7h0.8v0.8h-0.8zM277.2 102.5h0.8v0.8h-0.8zM281.6 90.6h0.8v0.8h-0.8zM287.5 102.4h0.8v0.8h-0.8zM277.0 91.5h0.8v0.8h-0.8zM290.2 93.4h0.8v0.8h-0.8zM282.2 98.6h0.8v0.8h-0.8zM279.9 118.9h0.8v0.8h-0.8zM286.0 95.0h0.8v0.8h-0.8zM277.6 94.2h0.8v0.8h-0.8zM288.6 111.6h0.8v0.8h-0.8zM274.4 111.7h0.8v0.8h-0.8zM289.8 97.5h0.8v0.8h-0.8zM286.2 86.6h0.8v0.8h-0.8zM286.9 99.3h0.8v0.8h-0.8zM287.4 113.3h0.8v0.8h-0.8zM280.1 89.6h0.8v0.8h-0.8zM283.8 102.7h0.8v0.8h-0.8zM277.6 105.4h0.8v0.8h-0.8zM277.4 105.8h0.8v0.8h-0.8zM278.6 88.7h0.8v0.8h-0.8zM278.7 101.8h0.8v0.8h-0.8zM287.3 98.5h0.8v0.8h-0.8zM286.8 103.5h0.8v0.8h-0.8zM271.9 106.9h0.8v0.8h-0.8zM276.5 92.9h0.8v0.8h-0.8zM271.4 104.3h0.8v0.8h-0.8zM273.7 94.0h0.8v0.8h-0.8zM286.6 83.3h0.8v0.8h-0.8zM279.9 97.8h0.8v0.8h-0.8zM276.1 98.3h0.8v0.8h-0.8zM275.2 99.0h0.8v0.8h-0.8zM281.7 95.0h0.8v0.8h-0.8zM277.5 105.9h0.8v0.8h-0.8zM271.3 89.1h0.8v0.8h-0.8zM273.7 107.3h0.8v0.8h-0.8zM275.2 87.9h0.8v0.8h-0.8zM289.9 109.1h0.8v0.8h-0.8zM283.6 93.1h0.8v0.8h-0.8zM289.5 104.0h0.8v0.8h-0.8zM276.8 115.3h0.8v0.8h-0.8zM289.1 83.6h0.8v0.8h-0.8zM288.4 101.4h0.8v0.8h-0.8zM278.6 105.3h0.8v0.8h-0.8zM281.2 104.1h0.8v0.8h-0.8zM285.5 80.9h0.8v0.8h-0.8zM283.8 114.2h0.8v0.8h-0.8zM283.2 113.8h0.8v0.8h-0.8zM285.8 118.4h0.8v0.8h-0.8zM286.0 104.9h0.8v0.8h-0.8zM276.5 113.1h0.8v0.8h-0.8zM286.4 108.7h0.8v0.8h-0.8zM283.8 95.3h0.8v0.8h-0.8zM282.6 104.8h0.8v0.8h-0.8zM274.2 109.3h0.8v0.8h-0.8zM286.8 99.5h0.8v0.8h-0.8zM283.8 94.5h0.8v0.8h-0.8zM276.1 104.5h0.8v0.8h-0.8zM277.6 102.3h0.8v0.8h-0.8zM283.1 104.1h0.8v0.8h-0.8zM276.0 103.9h0.8v0.8h-0.8zM285.7 94.1h0.8v0.8h-0.8zM285.3 87.8h0.8v0.8h-0.8zM277.3 120.3h0.8v0.8h-0.8zM279.9 82.2h0.8v0.8h-0.8zM278.5 110.6h0.8v0.8h-0.8zM292.4 91.2h0.8v0.8h-0.8zM272.3 98.5h0.8v0.8h-0.8zM285.8 102.7h0.8v0.8h-0.8zM284.9 105.0h0.8v0.8h-0.8zM275.8 103.3h0.8v0.8h-0.8zM289.9 107.4h0.8v0.8h-0.8zM274.1 99.9h0.8v0.8h-0.8zM279.2 90.0h0.8v0.8h-0.8zM280.5 84.4h0.8v0.8h-0.8zM281.8 92.4h0.8v0.8h-0.8zM280.0 113.6h0.8v0.8h-0.8zM284.4 81.6h0.8v0.8h-0.8zM276.9 81.8h0.8v0.8h-0.8zM282.0 90.4h0.8v0.8h-0.8zM286.7 100.6h0.8v0.8h-0.8zM278.4 89.0h0.8v0.8h-0.8zM281.4 112.2h0.8v0.8h-0.8zM284.9 86.2h0.8v0.8h-0.8zM278.0 102.8h0.8v0.8h-0.8zM288.2 89.4h0.8v0.8h-0.8zM287.1 100.7h0.8v0.8h-0.8zM279.6 112.3h0.8v0.8h-0.8zM286.5 107.2h0.8v0.8h-0.8zM280.0 104.4h0.8v0.8h-0.8zM273.3 95.1h0.8v0.8h-0.8zM275.9 112.5h0.8v0.8h-0.8zM292.3 99.7h0.8v0.8h-0.8zM279.3 97.1h0.8v0.8h-0.8zM288.0 96.8h0.8v0.8h-0.8zM274.3 97.7h0.8v0.8h-0.8zM288.8 90.3h0.8v0.8h-0.8zM287.9 109.1h0.8v0.8h-0.8zM286.3 100.8h0.8v0.8h-0.8zM276.4 90.5h0.8v0.8h-0.8zM275.0 96.0h0.8v0.8h-0.8zM279.9 96.2h0.8v0.8h-0.8zM283.1 112.8h0.8v0.8h-0.8zM282.6 91.5h0.8v0.8h-0.8zM280.0 94.0h0.8v0.8h-0.8zM284.8 98.5h0.8v0.8h-0.8zM277.4 96.2h0.8v0.8h-0.8zM287.4 115.1h0.8v0.8h-0.8zM284.2 98.6h0.8v0.8h-0.8zM275.0 108.0h0.8v0.8h-0.8zM279.6 92.2h0.8v0.8h-0.8zM278.7 101.1h0.8v0.8h-0.8zM280.0 91.4h0.8v0.8h-0.8zM285.2 95.6h0.8v0.8h-0.8zM274.4 87.7h0.8v0.8h-0.8zM289.1 89.5h0.8v0.8h-0.8zM280.9 92.4h0.8v0.8h-0.8zM280.4 97.6h0.8v0.8h-0.8zM276.8 101.3h0.8v0.8h-0.8zM285.9 108.5h0.8v0.8h-0.8zM283.7 91.2h0.8v0.8h-0.8zM283.1 89.2h0.8v0.8h-0.8zM275.1 107.0h0.8v0.8h-0.8zM282.1 120.8h0.8v0.8h-0.8zM277.1 115.8h0.8v0.8h-0.8zM284.1 110.9h0.8v0.8h-0.8zM281.4 101.3h0.8v0.8h-0.8zM278.0 104.9h0.8v0.8h-0.8zM276.9 98.9h0.8v0.8h-0.8zM276.9 96.7h0.8v0.8h-0.8zM284.4 99.9h0.8v0.8h-0.8zM278.7 101.8h0.8v0.8h-0.8zM284.9 111.0h0.8v0.8h-0.8zM278.8 98.7h0.8v0.8h-0.8zM277.8 104.8h0.8v0.8h-0.8zM285.8 105.2h0.8v0.8h-0.8zM274.4 102.2h0.8v0.8h-0.8zM286.1 108.0h0.8v0.8h-0.8zM282.5 89.0h0.8v0.8h-0.8zM274.9 83.7h0.8v0.8h-0.8zM285.3 126.4h0.8v0.8h-0.8zM285.1 123.7h0.8v0.8h-0.8zM269.9 109.2h0.8v0.8h-0.8zM282.4 111.9h0.8v0.8h-0.8zM291.1 121.5h0.8v0.8h-0.8zM286.2 124.6h0.8v0.8h-0.8zM275.8 121.0h0.8v0.8h-0.8zM271.8 122.3h0.8v0.8h-0.8zM271.3 93.0h0.8v0.8h-0.8zM291.5 115.2h0.8v0.8h-0.8zM268.3 102.0h0.8v0.8h-0.8zM288.4 102.0h0.8v0.8h-0.8zM284.1 85.2h0.8v0.8h-0.8zM294.7 114.6h0.8v0.8h-0.8z" fill="#3fa0fa" fill-opacity="0.42"/>
<path d="M277.6 117.7h0.8v0.8h-0.8zM290.0 102.9h0.8v0.8h-0.8zM286.0 96.1h0.8v0.8h-0.8zM289.2 111.5h0.8v0.8h-0.8zM271.4 89.2h0.8v0.8h-0.8zM276.0 95.9h0.8v0.8h-0.8zM278.9 110.4h0.8v0.8h-0.8zM279.5 98.1h0.8v0.8h-0.8zM273.2 107.0h0.8v0.8h-0.8zM289.4 103.6h0.8v0.8h-0.8zM277.1 108.4h0.8v0.8h-0.8zM286.2 108.1h0.8v0.8h-0.8zM288.7 104.3h0.8v0.8h-0.8zM285.4 90.5h0.8v0.8h-0.8zM275.3 107.8h0.8v0.8h-0.8zM281.8 86.1h0.8v0.8h-0.8zM277.4 110.9h0.8v0.8h-0.8zM282.7 92.8h0.8v0.8h-0.8zM278.5 118.4h0.8v0.8h-0.8zM287.2 109.4h0.8v0.8h-0.8zM273.0 115.4h0.8v0.8h-0.8zM282.8 117.4h0.8v0.8h-0.8zM280.8 108.9h0.8v0.8h-0.8zM286.0 120.6h0.8v0.8h-0.8zM276.4 107.1h0.8v0.8h-0.8zM277.8 101.8h0.8v0.8h-0.8zM278.2 99.3h0.8v0.8h-0.8zM284.4 88.5h0.8v0.8h-0.8zM282.5 97.0h0.8v0.8h-0.8zM271.8 98.5h0.8v0.8h-0.8zM272.6 99.4h0.8v0.8h-0.8zM284.1 89.2h0.8v0.8h-0.8zM292.9 101.0h0.8v0.8h-0.8zM278.5 87.7h0.8v0.8h-0.8zM279.6 80.7h0.8v0.8h-0.8zM269.8 106.9h0.8v0.8h-0.8zM284.4 99.4h0.8v0.8h-0.8zM276.3 95.1h0.8v0.8h-0.8zM284.4 119.9h0.8v0.8h-0.8zM284.1 102.0h0.8v0.8h-0.8zM287.7 97.6h0.8v0.8h-0.8zM272.5 104.4h0.8v0.8h-0.8zM280.6 107.2h0.8v0.8h-0.8zM281.8 109.0h0.8v0.8h-0.8zM276.1 112.8h0.8v0.8h-0.8zM284.8 100.0h0.8v0.8h-0.8zM278.7 110.5h0.8v0.8h-0.8zM279.3 96.9h0.8v0.8h-0.8zM293.0 92.8h0.8v0.8h-0.8zM282.9 106.3h0.8v0.8h-0.8zM288.3 107.1h0.8v0.8h-0.8zM282.6 85.4h0.8v0.8h-0.8zM281.2 106.0h0.8v0.8h-0.8zM282.8 107.8h0.8v0.8h-0.8zM288.5 118.3h0.8v0.8h-0.8zM290.0 101.5h0.8v0.8h-0.8zM282.7 117.2h0.8v0.8h-0.8zM284.7 98.8h0.8v0.8h-0.8zM276.0 103.6h0.8v0.8h-0.8zM285.1 98.3h0.8v0.8h-0.8zM275.2 109.6h0.8v0.8h-0.8zM288.3 94.9h0.8v0.8h-0.8zM279.4 96.2h0.8v0.8h-0.8zM284.4 92.8h0.8v0.8h-0.8zM283.9 91.3h0.8v0.8h-0.8zM275.5 108.5h0.8v0.8h-0.8zM286.0 97.0h0.8v0.8h-0.8zM282.6 115.3h0.8v0.8h-0.8zM278.0 111.8h0.8v0.8h-0.8zM270.4 110.2h0.8v0.8h-0.8zM291.9 110.2h0.8v0.8h-0.8zM270.9 103.8h0.8v0.8h-0.8zM270.9 93.0h0.8v0.8h-0.8zM288.1 97.2h0.8v0.8h-0.8zM292.6 93.3h0.8v0.8h-0.8zM277.1 83.6h0.8v0.8h-0.8zM275.3 104.7h0.8v0.8h-0.8zM279.6 115.0h0.8v0.8h-0.8zM277.1 107.1h0.8v0.8h-0.8zM274.8 89.9h0.8v0.8h-0.8zM274.0 93.5h0.8v0.8h-0.8zM289.9 94.4h0.8v0.8h-0.8zM288.6 104.4h0.8v0.8h-0.8zM283.3 99.5h0.8v0.8h-0.8zM288.2 97.1h0.8v0.8h-0.8zM288.8 104.2h0.8v0.8h-0.8zM289.2 93.0h0.8v0.8h-0.8zM275.5 108.0h0.8v0.8h-0.8zM278.3 82.8h0.8v0.8h-0.8zM280.6 104.0h0.8v0.8h-0.8zM287.0 94.5h0.8v0.8h-0.8zM286.8 115.4h0.8v0.8h-0.8zM283.3 87.8h0.8v0.8h-0.8zM269.9 107.1h0.8v0.8h-0.8zM284.0 98.4h0.8v0.8h-0.8zM278.2 100.6h0.8v0.8h-0.8zM282.2 85.2h0.8v0.8h-0.8zM278.0 105.6h0.8v0.8h-0.8zM287.6 117.9h0.8v0.8h-0.8zM272.0 90.1h0.8v0.8h-0.8zM276.6 101.4h0.8v0.8h-0.8zM290.4 88.9h0.8v0.8h-0.8zM275.6 82.8h0.8v0.8h-0.8zM283.9 104.9h0.8v0.8h-0.8zM289.7 116.6h0.8v0.8h-0.8zM279.7 106.2h0.8v0.8h-0.8zM285.0 106.2h0.8v0.8h-0.8zM291.5 102.5h0.8v0.8h-0.8zM270.9 108.1h0.8v0.8h-0.8zM285.7 98.8h0.8v0.8h-0.8zM286.3 91.2h0.8v0.8h-0.8zM271.3 99.8h0.8v0.8h-0.8zM289.1 89.6h0.8v0.8h-0.8zM286.8 93.6h0.8v0.8h-0.8zM286.7 87.4h0.8v0.8h-0.8zM283.3 95.6h0.8v0.8h-0.8zM283.8 85.9h0.8v0.8h-0.8zM283.2 89.0h0.8v0.8h-0.8zM276.1 103.6h0.8v0.8h-0.8zM276.5 108.7h0.8v0.8h-0.8zM286.8 114.2h0.8v0.8h-0.8zM279.8 93.6h0.8v0.8h-0.8zM282.3 107.6h0.8v0.8h-0.8zM284.5 114.2h0.8v0.8h-0.8zM289.7 87.9h0.8v0.8h-0.8zM290.3 98.0h0.8v0.8h-0.8zM281.1 112.4h0.8v0.8h-0.8zM276.6 104.3h0.8v0.8h-0.8zM283.3 90.2h0.8v0.8h-0.8zM281.9 110.6h0.8v0.8h-0.8zM290.3 107.9h0.8v0.8h-0.8zM285.4 111.5h0.8v0.8h-0.8zM281.1 80.6h0.8v0.8h-0.8zM281.7 98.2h0.8v0.8h-0.8zM275.8 120.1h0.8v0.8h-0.8zM280.0 107.8h0.8v0.8h-0.8zM270.0 93.1h0.8v0.8h-0.8zM272.4 96.1h0.8v0.8h-0.8zM289.3 94.6h0.8v0.8h-0.8zM290.3 91.7h0.8v0.8h-0.8zM271.7 105.4h0.8v0.8h-0.8zM284.9 83.6h0.8v0.8h-0.8zM279.1 84.0h0.8v0.8h-0.8zM279.3 110.6h0.8v0.8h-0.8zM279.8 87.1h0.8v0.8h-0.8zM270.5 91.6h0.8v0.8h-0.8zM282.9 88.7h0.8v0.8h-0.8zM287.6 117.3h0.8v0.8h-0.8zM275.1 118.4h0.8v0.8h-0.8zM277.9 111.3h0.8v0.8h-0.8zM282.4 100.3h0.8v0.8h-0.8zM280.3 110.9h0.8v0.8h-0.8zM273.8 105.0h0.8v0.8h-0.8zM277.9 93.0h0.8v0.8h-0.8zM278.9 89.8h0.8v0.8h-0.8zM288.4 86.3h0.8v0.8h-0.8zM279.8 95.1h0.8v0.8h-0.8zM286.1 98.8h0.8v0.8h-0.8zM281.8 82.9h0.8v0.8h-0.8zM284.3 96.8h0.8v0.8h-0.8zM277.6 101.7h0.8v0.8h-0.8zM285.1 94.5h0.8v0.8h-0.8zM276.9 100.8h0.8v0.8h-0.8zM278.3 102.0h0.8v0.8h-0.8zM278.8 103.8h0.8v0.8h-0.8zM283.4 95.0h0.8v0.8h-0.8zM275.7 94.8h0.8v0.8h-0.8zM282.5 96.7h0.8v0.8h-0.8zM271.9 101.5h0.8v0.8h-0.8zM274.4 88.9h0.8v0.8h-0.8zM274.1 88.1h0.8v0.8h-0.8zM293.0 93.5h0.8v0.8h-0.8zM282.7 118.1h0.8v0.8h-0.8zM281.3 92.7h0.8v0.8h-0.8zM273.2 92.0h0.8v0.8h-0.8zM275.1 93.9h0.8v0.8h-0.8zM275.6 116.8h0.8v0.8h-0.8zM282.7 113.3h0.8v0.8h-0.8zM282.0 91.4h0.8v0.8h-0.8zM283.9 111.3h0.8v0.8h-0.8zM282.7 107.2h0.8v0.8h-0.8zM281.9 103.2h0.8v0.8h-0.8zM278.4 93.5h0.8v0.8h-0.8zM281.3 94.7h0.8v0.8h-0.8zM286.8 102.2h0.8v0.8h-0.8zM281.8 111.8h0.8v0.8h-0.8zM278.3 99.9h0.8v0.8h-0.8zM283.3 95.0h0.8v0.8h-0.8zM270.2 100.4h0.8v0.8h-0.8zM285.6 116.9h0.8v0.8h-0.8zM277.9 118.7h0.8v0.8h-0.8zM281.6 98.6h0.8v0.8h-0.8zM277.7 93.9h0.8v0.8h-0.8zM288.5 98.5h0.8v0.8h-0.8zM288.2 106.0h0.8v0.8h-0.8zM282.6 115.5h0.8v0.8h-0.8zM276.0 106.4h0.8v0.8h-0.8zM285.8 110.4h0.8v0.8h-0.8zM275.1 109.5h0.8v0.8h-0.8zM280.5 110.1h0.8v0.8h-0.8zM276.3 103.5h0.8v0.8h-0.8zM286.8 94.9h0.8v0.8h-0.8zM278.3 100.2h0.8v0.8h-0.8zM282.4 108.9h0.8v0.8h-0.8zM275.5 90.9h0.8v0.8h-0.8zM279.4 101.1h0.8v0.8h-0.8zM286.2 95.1h0.8v0.8h-0.8zM283.4 107.2h0.8v0.8h-0.8zM272.4 106.8h0.8v0.8h-0.8zM290.9 89.0h0.8v0.8h-0.8zM289.6 113.3h0.8v0.8h-0.8zM284.7 98.7h0.8v0.8h-0.8zM279.3 92.3h0.8v0.8h-0.8zM279.4 108.2h0.8v0.8h-0.8zM282.1 93.0h0.8v0.8h-0.8zM290.0 96.4h0.8v0.8h-0.8zM277.4 107.4h0.8v0.8h-0.8zM272.9 114.3h0.8v0.8h-0.8zM274.0 117.9h0.8v0.8h-0.8zM274.1 106.0h0.8v0.8h-0.8zM285.0 100.1h0.8v0.8h-0.8zM276.9 91.3h0.8v0.8h-0.8zM279.1 114.5h0.8v0.8h-0.8zM287.5 113.9h0.8v0.8h-0.8zM289.5 87.9h0.8v0.8h-0.8zM281.8 97.8h0.8v0.8h-0.8zM285.4 92.6h0.8v0.8h-0.8zM290.1 94.9h0.8v0.8h-0.8zM286.2 89.9h0.8v0.8h-0.8zM285.6 100.1h0.8v0.8h-0.8zM275.7 89.8h0.8v0.8h-0.8zM278.8 113.9h0.8v0.8h-0.8zM289.5 118.1h0.8v0.8h-0.8zM287.5 100.5h0.8v0.8h-0.8zM274.0 107.1h0.8v0.8h-0.8zM277.5 81.1h0.8v0.8h-0.8zM279.9 106.6h0.8v0.8h-0.8zM283.6 114.9h0.8v0.8h-0.8zM269.4 102.6h0.8v0.8h-0.8zM288.8 97.4h0.8v0.8h-0.8zM289.9 93.6h0.8v0.8h-0.8zM278.1 81.0h0.8v0.8h-0.8zM278.0 92.5h0.8v0.8h-0.8zM268.5 113.9h0.8v0.8h-0.8zM294.3 105.0h0.8v0.8h-0.8zM274.2 78.4h0.8v0.8h-0.8zM283.2 104.5h0.8v0.8h-0.8zM273.2 95.8h0.8v0.8h-0.8zM271.4 118.7h0.8v0.8h-0.8zM288.4 102.5h0.8v0.8h-0.8zM287.9 100.8h0.8v0.8h-0.8zM282.7 116.1h0.8v0.8h-0.8z" fill="#3fa0fa" fill-opacity="0.42"/>
<path d="M281.5 95.5h0.8v0.8h-0.8zM279.4 105.8h0.8v0.8h-0.8zM284.0 93.1h0.8v0.8h-0.8zM274.6 85.9h0.8v0.8h-0.8zM288.2 114.8h0.8v0.8h-0.8zM285.7 94.6h0.8v0.8h-0.8zM286.7 99.6h0.8v0.8h-0.8zM270.1 96.7h0.8v0.8h-0.8zM284.6 93.1h0.8v0.8h-0.8zM290.6 103.6h0.8v0.8h-0.8zM277.7 103.2h0.8v0.8h-0.8zM281.5 98.5h0.8v0.8h-0.8zM274.3 113.5h0.8v0.8h-0.8zM285.7 112.9h0.8v0.8h-0.8zM281.1 103.4h0.8v0.8h-0.8zM289.7 95.4h0.8v0.8h-0.8zM283.8 83.6h0.8v0.8h-0.8zM277.2 92.7h0.8v0.8h-0.8zM287.1 102.8h0.8v0.8h-0.8zM272.1 90.8h0.8v0.8h-0.8zM288.3 90.1h0.8v0.8h-0.8zM270.3 94.4h0.8v0.8h-0.8zM291.4 96.4h0.8v0.8h-0.8zM277.1 111.4h0.8v0.8h-0.8zM273.7 116.8h0.8v0.8h-0.8zM285.5 87.6h0.8v0.8h-0.8zM277.8 97.7h0.8v0.8h-0.8zM279.9 111.8h0.8v0.8h-0.8zM285.5 83.9h0.8v0.8h-0.8zM273.6 90.6h0.8v0.8h-0.8zM278.2 111.0h0.8v0.8h-0.8zM276.1 99.0h0.8v0.8h-0.8zM283.8 91.7h0.8v0.8h-0.8zM282.1 102.4h0.8v0.8h-0.8zM282.3 105.3h0.8v0.8h-0.8zM289.7 94.1h0.8v0.8h-0.8zM273.8 89.2h0.8v0.8h-0.8zM277.1 117.2h0.8v0.8h-0.8zM277.4 83.6h0.8v0.8h-0.8zM287.2 98.2h0.8v0.8h-0.8zM274.1 98.7h0.8v0.8h-0.8zM286.5 117.0h0.8v0.8h-0.8zM278.5 88.8h0.8v0.8h-0.8zM288.0 95.6h0.8v0.8h-0.8zM290.4 102.6h0.8v0.8h-0.8zM273.9 93.3h0.8v0.8h-0.8zM281.0 108.3h0.8v0.8h-0.8zM284.7 112.6h0.8v0.8h-0.8zM285.5 108.6h0.8v0.8h-0.8zM278.4 91.1h0.8v0.8h-0.8zM269.5 106.4h0.8v0.8h-0.8zM281.8 84.4h0.8v0.8h-0.8zM284.9 104.9h0.8v0.8h-0.8zM292.1 90.3h0.8v0.8h-0.8zM272.1 103.3h0.8v0.8h-0.8zM280.2 113.8h0.8v0.8h-0.8zM281.8 94.8h0.8v0.8h-0.8zM291.9 102.9h0.8v0.8h-0.8zM285.9 112.4h0.8v0.8h-0.8zM285.5 97.7h0.8v0.8h-0.8zM275.6 92.9h0.8v0.8h-0.8zM282.5 86.6h0.8v0.8h-0.8zM277.6 89.1h0.8v0.8h-0.8zM286.3 97.6h0.8v0.8h-0.8zM278.6 87.8h0.8v0.8h-0.8zM278.0 102.3h0.8v0.8h-0.8zM277.8 99.2h0.8v0.8h-0.8zM282.5 113.8h0.8v0.8h-0.8zM272.8 106.4h0.8v0.8h-0.8zM287.9 90.1h0.8v0.8h-0.8zM284.9 100.7h0.8v0.8h-0.8zM280.8 116.1h0.8v0.8h-0.8zM290.5 97.9h0.8v0.8h-0.8zM273.0 101.5h0.8v0.8h-0.8zM287.5 95.8h0.8v0.8h-0.8zM276.4 103.9h0.8v0.8h-0.8zM287.9 119.5h0.8v0.8h-0.8zM283.9 104.3h0.8v0.8h-0.8zM292.3 101.9h0.8v0.8h-0.8zM287.6 119.5h0.8v0.8h-0.8zM282.4 96.1h0.8v0.8h-0.8zM283.6 79.7h0.8v0.8h-0.8zM284.6 82.3h0.8v0.8h-0.8zM278.4 94.5h0.8v0.8h-0.8zM289.1 100.0h0.8v0.8h-0.8zM284.7 115.0h0.8v0.8h-0.8zM290.3 88.7h0.8v0.8h-0.8zM279.7 106.2h0.8v0.8h-0.8zM274.6 85.5h0.8v0.8h-0.8zM274.6 92.9h0.8v0.8h-0.8zM289.6 92.7h0.8v0.8h-0.8zM269.4 98.0h0.8v0.8h-0.8zM286.4 90.1h0.8v0.8h-0.8zM287.8 92.2h0.8v0.8h-0.8zM288.0 104.0h0.8v0.8h-0.8zM275.7 116.3h0.8v0.8h-0.8zM275.9 85.1h0.8v0.8h-0.8zM272.8 88.6h0.8v0.8h-0.8zM275.6 119.6h0.8v0.8h-0.8zM282.9 92.0h0.8v0.8h-0.8zM284.0 80.5h0.8v0.8h-0.8zM270.8 101.2h0.8v0.8h-0.8zM279.2 91.1h0.8v0.8h-0.8zM289.9 108.3h0.8v0.8h-0.8zM273.0 97.3h0.8v0.8h-0.8zM275.9 104.0h0.8v0.8h-0.8zM286.9 103.9h0.8v0.8h-0.8zM277.7 111.1h0.8v0.8h-0.8zM281.9 104.0h0.8v0.8h-0.8zM282.5 106.9h0.8v0.8h-0.8zM285.0 92.0h0.8v0.8h-0.8zM285.7 101.3h0.8v0.8h-0.8zM276.8 116.3h0.8v0.8h-0.8zM273.2 90.6h0.8v0.8h-0.8zM287.3 103.0h0.8v0.8h-0.8zM291.0 103.4h0.8v0.8h-0.8zM286.2 102.5h0.8v0.8h-0.8zM276.1 119.0h0.8v0.8h-0.8zM280.3 103.6h0.8v0.8h-0.8zM281.3 99.8h0.8v0.8h-0.8zM287.5 95.4h0.8v0.8h-0.8zM286.0 108.8h0.8v0.8h-0.8zM279.1 101.0h0.8v0.8h-0.8zM279.0 105.8h0.8v0.8h-0.8zM286.3 97.4h0.8v0.8h-0.8zM271.3 102.8h0.8v0.8h-0.8zM285.8 98.1h0.8v0.8h-0.8zM292.5 98.8h0.8v0.8h-0.8zM270.1 105.1h0.8v0.8h-0.8zM282.5 116.2h0.8v0.8h-0.8zM292.6 93.5h0.8v0.8h-0.8zM287.9 92.3h0.8v0.8h-0.8zM276.7 111.8h0.8v0.8h-0.8zM284.1 91.3h0.8v0.8h-0.8zM283.8 99.2h0.8v0.8h-0.8zM289.5 106.4h0.8v0.8h-0.8zM281.9 110.3h0.8v0.8h-0.8zM279.2 107.5h0.8v0.8h-0.8zM286.5 93.3h0.8v0.8h-0.8zM279.8 116.4h0.8v0.8h-0.8zM285.7 111.9h0.8v0.8h-0.8zM284.1 98.0h0.8v0.8h-0.8zM287.1 93.2h0.8v0.8h-0.8zM273.3 109.8h0.8v0.8h-0.8zM275.1 102.6h0.8v0.8h-0.8zM272.5 91.6h0.8v0.8h-0.8zM283.6 96.4h0.8v0.8h-0.8zM276.1 88.9h0.8v0.8h-0.8zM291.8 98.5h0.8v0.8h-0.8zM286.7 109.8h0.8v0.8h-0.8zM273.6 101.8h0.8v0.8h-0.8zM276.4 105.6h0.8v0.8h-0.8zM286.3 118.6h0.8v0.8h-0.8zM282.6 101.9h0.8v0.8h-0.8zM280.9 99.7h0.8v0.8h-0.8zM287.5 114.5h0.8v0.8h-0.8zM291.6 104.5h0.8v0.8h-0.8zM280.5 100.6h0.8v0.8h-0.8zM273.9 91.6h0.8v0.8h-0.8zM280.1 117.8h0.8v0.8h-0.8zM288.8 86.3h0.8v0.8h-0.8zM275.0 101.0h0.8v0.8h-0.8zM280.0 94.6h0.8v0.8h-0.8zM283.8 100.7h0.8v0.8h-0.8zM284.8 113.9h0.8v0.8h-0.8zM289.0 86.5h0.8v0.8h-0.8zM278.5 105.6h0.8v0.8h-0.8zM275.6 97.1h0.8v0.8h-0.8zM270.8 103.3h0.8v0.8h-0.8zM280.2 120.7h0.8v0.8h-0.8zM270.9 93.9h0.8v0.8h-0.8zM283.8 95.6h0.8v0.8h-0.8zM287.9 111.7h0.8v0.8h-0.8zM271.6 88.4h0.8v0.8h-0.8zM288.6 101.6h0.8v0.8h-0.8zM289.3 102.3h0.8v0.8h-0.8zM279.1 117.1h0.8v0.8h-0.8zM284.3 101.5h0.8v0.8h-0.8zM283.0 116.2h0.8v0.8h-0.8zM287.1 100.7h0.8v0.8h-0.8zM290.8 107.7h0.8v0.8h-0.8zM283.9 96.6h0.8v0.8h-0.8zM282.0 101.3h0.8v0.8h-0.8zM279.1 80.2h0.8v0.8h-0.8zM276.7 105.4h0.8v0.8h-0.8zM286.2 111.3h0.8v0.8h-0.8zM288.9 86.5h0.8v0.8h-0.8zM289.2 111.7h0.8v0.8h-0.8zM279.9 83.9h0.8v0.8h-0.8zM279.9 82.0h0.8v0.8h-0.8zM280.4 86.1h0.8v0.8h-0.8zM279.0 101.6h0.8v0.8h-0.8zM284.2 92.7h0.8v0.8h-0.8zM274.3 95.7h0.8v0.8h-0.8zM276.0 88.2h0.8v0.8h-0.8zM271.0 106.9h0.8v0.8h-0.8zM280.0 98.2h0.8v0.8h-0.8zM277.4 115.3h0.8v0.8h-0.8zM281.7 91.3h0.8v0.8h-0.8zM288.6 101.3h0.8v0.8h-0.8zM278.0 98.0h0.8v0.8h-0.8zM275.9 109.0h0.8v0.8h-0.8zM288.5 108.7h0.8v0.8h-0.8zM275.2 113.2h0.8v0.8h-0.8zM283.0 101.9h0.8v0.8h-0.8zM273.6 99.2h0.8v0.8h-0.8zM285.3 121.6h0.8v0.8h-0.8zM288.8 102.6h0.8v0.8h-0.8zM283.5 116.2h0.8v0.8h-0.8zM285.3 84.1h0.8v0.8h-0.8zM279.7 94.8h0.8v0.8h-0.8zM285.0 89.6h0.8v0.8h-0.8zM286.8 110.2h0.8v0.8h-0.8zM276.8 113.8h0.8v0.8h-0.8zM279.1 86.2h0.8v0.8h-0.8zM286.5 106.8h0.8v0.8h-0.8zM280.9 115.7h0.8v0.8h-0.8zM283.5 105.3h0.8v0.8h-0.8zM284.1 98.4h0.8v0.8h-0.8zM282.9 93.5h0.8v0.8h-0.8zM291.9 93.6h0.8v0.8h-0.8zM281.8 106.9h0.8v0.8h-0.8zM277.9 90.2h0.8v0.8h-0.8zM283.6 114.5h0.8v0.8h-0.8zM272.6 91.0h0.8v0.8h-0.8zM272.8 104.9h0.8v0.8h-0.8zM283.7 97.9h0.8v0.8h-0.8zM288.1 119.8h0.8v0.8h-0.8zM284.0 112.8h0.8v0.8h-0.8zM275.8 106.7h0.8v0.8h-0.8zM270.4 101.6h0.8v0.8h-0.8zM280.1 92.7h0.8v0.8h-0.8zM287.8 82.9h0.8v0.8h-0.8zM279.7 106.2h0.8v0.8h-0.8zM277.4 88.4h0.8v0.8h-0.8zM272.0 88.7h0.8v0.8h-0.8zM275.6 102.3h0.8v0.8h-0.8zM277.1 115.9h0.8v0.8h-0.8zM292.3 95.3h0.8v0.8h-0.8zM272.5 108.0h0.8v0.8h-0.8zM286.1 104.5h0.8v0.8h-0.8zM273.1 82.9h0.8v0.8h-0.8zM282.1 95.8h0.8v0.8h-0.8zM287.9 113.2h0.8v0.8h-0.8zM271.0 95.7h0.8v0.8h-0.8zM285.3 74.6h0.8v0.8h-0.8zM273.6 90.3h0.8v0.8h-0.8zM292.3 89.2h0.8v0.8h-0.8zM286.8 93.0h0.8v0.8h-0.8zM293.8 118.2h0.8v0.8h-0.8zM283.8 83.1h0.8v0.8h-0.8zM286.8 114.9h0.8v0.8h-0.8z" fill="#3fa0fa" fill-opacity="0.42"/>
<path d="M280.8 112.3h0.8v0.8h-0.8zM282.7 86.1h0.8v0.8h-0.8zM283.0 115.5h0.8v0.8h-0.8zM288.9 85.4h0.8v0.8h-0.8zM286.7 105.4h0.8v0.8h-0.8zM283.9 88.7h0.8v0.8h-0.8zM277.2 93.9h0.8v0.8h-0.8zM285.5 99.1h0.8v0.8h-0.8zM282.4 100.7h0.8v0.8h-0.8zM285.1 98.0h0.8v0.8h-0.8zM279.3 88.5h0.8v0.8h-0.8zM280.8 104.7h0.8v0.8h-0.8zM286.8 94.4h0.8v0.8h-0.8zM287.4 103.0h0.8v0.8h-0.8zM277.1 109.1h0.8v0.8h-0.8zM288.6 86.8h0.8v0.8h-0.8zM274.2 103.4h0.8v0.8h-0.8zM281.0 94.4h0.8v0.8h-0.8zM278.6 116.2h0.8v0.8h-0.8zM280.2 106.9h0.8v0.8h-0.8zM278.1 85.8h0.8v0.8h-0.8zM272.0 88.0h0.8v0.8h-0.8zM282.2 104.6h0.8v0.8h-0.8zM271.8 102.8h0.8v0.8h-0.8zM278.1 108.5h0.8v0.8h-0.8zM281.5 79.6h0.8v0.8h-0.8zM291.1 107.0h0.8v0.8h-0.8zM280.9 102.3h0.8v0.8h-0.8zM288.0 104.1h0.8v0.8h-0.8zM281.9 94.6h0.8v0.8h-0.8zM279.4 99.4h0.8v0.8h-0.8zM284.0 97.7h0.8v0.8h-0.8zM283.8 116.4h0.8v0.8h-0.8zM280.1 84.7h0.8v0.8h-0.8zM287.8 96.2h0.8v0.8h-0.8zM284.0 92.3h0.8v0.8h-0.8zM276.1 97.5h0.8v0.8h-0.8zM280.6 116.0h0.8v0.8h-0.8zM282.9 104.3h0.8v0.8h-0.8zM291.2 92.0h0.8v0.8h-0.8zM280.3 98.0h0.8v0.8h-0.8zM272.1 113.0h0.8v0.8h-0.8zM291.1 98.9h0.8v0.8h-0.8zM291.3 105.8h0.8v0.8h-0.8zM280.2 96.8h0.8v0.8h-0.8zM282.8 107.0h0.8v0.8h-0.8zM278.7 88.7h0.8v0.8h-0.8zM281.8 95.0h0.8v0.8h-0.8zM289.6 104.9h0.8v0.8h-0.8zM277.9 112.3h0.8v0.8h-0.8zM278.3 106.8h0.8v0.8h-0.8zM276.4 104.3h0.8v0.8h-0.8zM281.3 103.4h0.8v0.8h-0.8zM286.8 103.6h0.8v0.8h-0.8zM293.3 106.9h0.8v0.8h-0.8zM274.0 111.2h0.8v0.8h-0.8zM280.9 95.0h0.8v0.8h-0.8zM273.6 105.8h0.8v0.8h-0.8zM292.6 107.3h0.8v0.8h-0.8zM275.5 104.1h0.8v0.8h-0.8zM273.6 85.2h0.8v0.8h-0.8zM281.6 91.0h0.8v0.8h-0.8zM278.3 98.4h0.8v0.8h-0.8zM279.9 89.2h0.8v0.8h-0.8zM285.1 119.1h0.8v0.8h-0.8zM287.3 91.8h0.8v0.8h-0.8zM289.0 108.5h0.8v0.8h-0.8zM285.4 110.8h0.8v0.8h-0.8zM287.9 107.7h0.8v0.8h-0.8zM278.7 101.8h0.8v0.8h-0.8zM285.7 117.2h0.8v0.8h-0.8zM280.7 106.0h0.8v0.8h-0.8zM287.2 99.7h0.8v0.8h-0.8zM281.8 116.0h0.8v0.8h-0.8zM272.5 104.3h0.8v0.8h-0.8zM282.3 115.1h0.8v0.8h-0.8zM277.0 99.0h0.8v0.8h-0.8zM287.1 98.2h0.8v0.8h-0.8zM291.5 97.3h0.8v0.8h-0.8zM278.4 97.5h0.8v0.8h-0.8zM285.7 102.2h0.8v0.8h-0.8zM284.8 102.3h0.8v0.8h-0.8zM279.0 112.0h0.8v0.8h-0.8zM277.2 106.1h0.8v0.8h-0.8zM278.4 108.6h0.8v0.8h-0.8zM283.0 105.2h0.8v0.8h-0.8zM283.3 81.3h0.8v0.8h-0.8zM279.5 110.9h0.8v0.8h-0.8zM273.5 103.5h0.8v0.8h-0.8zM285.0 97.7h0.8v0.8h-0.8zM278.8 85.3h0.8v0.8h-0.8zM272.1 100.6h0.8v0.8h-0.8zM278.9 99.2h0.8v0.8h-0.8zM273.4 102.8h0.8v0.8h-0.8zM288.5 117.5h0.8v0.8h-0.8zM286.0 113.5h0.8v0.8h-0.8zM279.5 102.5h0.8v0.8h-0.8zM289.7 95.5h0.8v0.8h-0.8zM287.8 106.6h0.8v0.8h-0.8zM278.0 98.0h0.8v0.8h-0.8zM276.0 99.0h0.8v0.8h-0.8zM288.2 112.3h0.8v0.8h-0.8zM276.4 107.2h0.8v0.8h-0.8zM288.0 96.1h0.8v0.8h-0.8zM281.3 84.5h0.8v0.8h-0.8zM285.2 98.8h0.8v0.8h-0.8zM292.1 103.8h0.8v0.8h-0.8zM271.4 102.7h0.8v0.8h-0.8zM275.4 95.0h0.8v0.8h-0.8zM281.4 89.1h0.8v0.8h-0.8zM275.1 102.6h0.8v0.8h-0.8zM292.5 91.2h0.8v0.8h-0.8zM287.1 85.2h0.8v0.8h-0.8zM278.0 101.2h0.8v0.8h-0.8zM291.2 105.1h0.8v0.8h-0.8zM283.3 82.4h0.8v0.8h-0.8zM271.3 92.5h0.8v0.8h-0.8zM292.5 105.7h0.8v0.8h-0.8zM291.4 99.5h0.8v0.8h-0.8zM283.1 101.6h0.8v0.8h-0.8zM276.4 107.4h0.8v0.8h-0.8zM276.1 100.0h0.8v0.8h-0.8zM279.2 96.0h0.8v0.8h-0.8zM282.9 116.9h0.8v0.8h-0.8zM284.0 110.7h0.8v0.8h-0.8zM287.5 92.3h0.8v0.8h-0.8zM275.6 112.2h0.8v0.8h-0.8zM292.6 106.7h0.8v0.8h-0.8zM279.1 112.9h0.8v0.8h-0.8zM285.1 115.0h0.8v0.8h-0.8zM280.4 87.3h0.8v0.8h-0.8zM285.0 117.5h0.8v0.8h-0.8zM286.2 113.5h0.8v0.8h-0.8zM288.2 111.6h0.8v0.8h-0.8zM281.8 93.8h0.8v0.8h-0.8zM273.8 90.9h0.8v0.8h-0.8zM281.2 83.3h0.8v0.8h-0.8zM286.9 86.7h0.8v0.8h-0.8zM286.2 106.0h0.8v0.8h-0.8zM282.6 109.2h0.8v0.8h-0.8zM275.3 91.9h0.8v0.8h-0.8zM282.0 104.4h0.8v0.8h-0.8zM291.2 103.8h0.8v0.8h-0.8zM282.2 106.7h0.8v0.8h-0.8zM276.6 85.5h0.8v0.8h-0.8zM279.5 109.3h0.8v0.8h-0.8zM284.6 117.1h0.8v0.8h-0.8zM278.6 91.4h0.8v0.8h-0.8zM285.7 90.3h0.8v0.8h-0.8zM280.7 109.1h0.8v0.8h-0.8zM272.8 113.1h0.8v0.8h-0.8zM290.3 103.6h0.8v0.8h-0.8zM282.9 82.5h0.8v0.8h-0.8zM280.1 82.7h0.8v0.8h-0.8zM278.6 110.6h0.8v0.8h-0.8zM274.3 98.1h0.8v0.8h-0.8zM278.9 116.7h0.8v0.8h-0.8zM284.5 96.9h0.8v0.8h-0.8zM278.5 96.1h0.8v0.8h-0.8zM272.8 100.5h0.8v0.8h-0.8zM287.8 108.8h0.8v0.8h-0.8zM277.4 114.2h0.8v0.8h-0.8zM281.0 86.5h0.8v0.8h-0.8zM286.1 82.5h0.8v0.8h-0.8zM279.5 104.8h0.8v0.8h-0.8zM272.6 96.4h0.8v0.8h-0.8zM284.2 90.4h0.8v0.8h-0.8zM284.8 112.9h0.8v0.8h-0.8zM281.7 93.7h0.8v0.8h-0.8zM277.1 120.0h0.8v0.8h-0.8zM276.9 88.2h0.8v0.8h-0.8zM279.8 83.4h0.8v0.8h-0.8zM278.4 107.1h0.8v0.8h-0.8zM271.6 93.5h0.8v0.8h-0.8zM282.2 118.9h0.8v0.8h-0.8zM288.7 95.1h0.8v0.8h-0.8zM275.4 100.1h0.8v0.8h-0.8zM283.1 94.8h0.8v0.8h-0.8zM286.4 99.8h0.8v0.8h-0.8zM290.4 107.0h0.8v0.8h-0.8zM280.7 116.7h0.8v0.8h-0.8zM281.3 102.5h0.8v0.8h-0.8zM277.6 100.5h0.8v0.8h-0.8zM281.9 84.3h0.8v0.8h-0.8zM278.6 83.3h0.8v0.8h-0.8zM277.5 97.9h0.8v0.8h-0.8zM285.0 110.8h0.8v0.8h-0.8zM275.2 104.6h0.8v0.8h-0.8zM292.3 110.2h0.8v0.8h-0.8zM275.0 115.8h0.8v0.8h-0.8zM280.8 110.2h0.8v0.8h-0.8zM283.4 84.4h0.8v0.8h-0.8zM275.5 91.1h0.8v0.8h-0.8zM287.7 88.4h0.8v0.8h-0.8zM284.5 93.4h0.8v0.8h-0.8zM280.7 97.8h0.8v0.8h-0.8zM279.7 101.1h0.8v0.8h-0.8zM288.3 84.7h0.8v0.8h-0.8zM272.2 95.8h0.8v0.8h-0.8zM280.3 102.7h0.8v0.8h-0.8zM278.4 88.1h0.8v0.8h-0.8zM283.4 112.5h0.8v0.8h-0.8zM281.8 83.7h0.8v0.8h-0.8zM284.3 104.6h0.8v0.8h-0.8zM285.3 101.7h0.8v0.8h-0.8zM285.3 112.6h0.8v0.8h-0.8zM283.1 111.6h0.8v0.8h-0.8zM277.0 120.7h0.8v0.8h-0.8zM281.2 92.6h0.8v0.8h-0.8zM280.2 92.7h0.8v0.8h-0.8zM279.9 100.6h0.8v0.8h-0.8zM281.1 96.1h0.8v0.8h-0.8zM279.4 92.8h0.8v0.8h-0.8zM271.2 96.8h0.8v0.8h-0.8zM291.1 96.9h0.8v0.8h-0.8zM271.7 105.2h0.8v0.8h-0.8zM287.8 106.6h0.8v0.8h-0.8zM290.1 113.3h0.8v0.8h-0.8zM282.4 114.1h0.8v0.8h-0.8zM278.3 121.7h0.8v0.8h-0.8zM275.8 95.8h0.8v0.8h-0.8zM276.1 91.8h0.8v0.8h-0.8zM284.5 85.0h0.8v0.8h-0.8zM273.8 90.4h0.8v0.8h-0.8zM289.4 96.8h0.8v0.8h-0.8zM276.6 102.2h0.8v0.8h-0.8zM285.2 102.2h0.8v0.8h-0.8zM286.3 116.9h0.8v0.8h-0.8zM285.8 106.0h0.8v0.8h-0.8zM282.8 102.4h0.8v0.8h-0.8zM273.1 92.7h0.8v0.8h-0.8zM283.7 86.5h0.8v0.8h-0.8zM280.6 98.3h0.8v0.8h-0.8zM285.0 110.1h0.8v0.8h-0.8zM283.2 98.1h0.8v0.8h-0.8zM285.7 99.3h0.8v0.8h-0.8zM276.1 106.0h0.8v0.8h-0.8zM276.5 81.3h0.8v0.8h-0.8zM284.4 114.3h0.8v0.8h-0.8zM289.8 82.0h0.8v0.8h-0.8zM292.8 86.8h0.8v0.8h-0.8zM285.4 93.0h0.8v0.8h-0.8zM293.5 102.8h0.8v0.8h-0.8zM282.0 81.1h0.8v0.8h-0.8zM281.8 89.6h0.8v0.8h-0.8zM269.4 105.8h0.8v0.8h-0.8zM278.4 120.2h0.8v0.8h-0.8zM296.1 96.5h0.8v0.8h-0.8zM294.4 95.0h0.8v0.8h-0.8zM283.8 127.9h0.8v0.8h-0.8zM286.8 126.9h0.8v0.8h-0.8zM276.4 112.3h0.8v0.8h-0.8z" fill="#3fa0fa" fill-opacity="0.42"/>
<path d="M277.9 98.1h0.8v0.8h-0.8zM290.4 105.3h0.8v0.8h-0.8zM278.6 111.1h0.8v0.8h-0.8zM286.6 95.3h0.8v0.8h-0.8zM278.3 117.8h0.8v0.8h-0.8zM292.8 93.5h0.8v0.8h-0.8zM283.6 110.9h0.8v0.8h-0.8zM283.4 111.8h0.8v0.8h-0.8zM278.3 102.6h0.8v0.8h-0.8zM272.8 101.9h0.8v0.8h-0.8zM289.2 101.1h0.8v0.8h-0.8zM280.1 87.9h0.8v0.8h-0.8zM278.4 81.4h0.8v0.8h-0.8zM277.8 107.0h0.8v0.8h-0.8zM279.9 106.0h0.8v0.8h-0.8zM278.0 98.0h0.8v0.8h-0.8zM276.8 118.4h0.8v0.8h-0.8zM277.7 117.6h0.8v0.8h-0.8zM276.4 95.6h0.8v0.8h-0.8zM286.5 100.9h0.8v0.8h-0.8zM281.2 106.7h0.8v0.8h-0.8zM275.4 116.0h0.8v0.8h-0.8zM289.8 100.1h0.8v0.8h-0.8zM279.2 98.3h0.8v0.8h-0.8zM280.5 110.3h0.8v0.8h-0.8zM283.0 103.5h0.8v0.8h-0.8zM271.3 95.3h0.8v0.8h-0.8zM281.2 91.3h0.8v0.8h-0.8zM288.1 116.8h0.8v0.8h-0.8zM283.7 80.6h0.8v0.8h-0.8zM283.3 115.4h0.8v0.8h-0.8zM285.6 112.4h0.8v0.8h-0.8zM280.2 99.2h0.8v0.8h-0.8zM281.0 95.2h0.8v0.8h-0.8zM282.4 109.2h0.8v0.8h-0.8zM287.0 103.3h0.8v0.8h-0.8zM279.8 116.5h0.8v0.8h-0.8zM279.4 114.4h0.8v0.8h-0.8zM291.0 105.8h0.8v0.8h-0.8zM270.8 101.1h0.8v0.8h-0.8zM292.8 102.1h0.8v0.8h-0.8zM288.0 100.0h0.8v0.8h-0.8zM283.7 114.6h0.8v0.8h-0.8zM271.0 108.9h0.8v0.8h-0.8zM283.0 117.7h0.8v0.8h-0.8zM279.1 96.0h0.8v0.8h-0.8zM292.3 100.1h0.8v0.8h-0.8zM282.2 104.7h0.8v0.8h-0.8zM285.3 113.6h0.8v0.8h-0.8zM278.7 120.9h0.8v0.8h-0.8zM288.8 91.6h0.8v0.8h-0.8zM279.0 90.2h0.8v0.8h-0.8zM278.1 93.6h0.8v0.8h-0.8zM275.9 115.4h0.8v0.8h-0.8zM274.1 88.4h0.8v0.8h-0.8zM289.4 110.0h0.8v0.8h-0.8zM285.2 100.3h0.8v0.8h-0.8zM273.1 104.0h0.8v0.8h-0.8zM290.3 112.1h0.8v0.8h-0.8zM272.0 108.2h0.8v0.8h-0.8zM287.4 98.9h0.8v0.8h-0.8zM281.3 112.0h0.8v0.8h-0.8zM276.4 108.7h0.8v0.8h-0.8zM272.6 93.5h0.8v0.8h-0.8zM276.6 116.8h0.8v0.8h-0.8zM284.2 91.4h0.8v0.8h-0.8zM288.3 92.0h0.8v0.8h-0.8zM281.1 84.7h0.8v0.8h-0.8zM277.2 118.0h0.8v0.8h-0.8zM279.7 102.7h0.8v0.8h-0.8zM288.0 115.0h0.8v0.8h-0.8zM279.4 96.1h0.8v0.8h-0.8zM269.8 95.7h0.8v0.8h-0.8zM276.1 96.1h0.8v0.8h-0.8zM282.9 85.9h0.8v0.8h-0.8zM284.6 88.5h0.8v0.8h-0.8zM283.9 94.4h0.8v0.8h-0.8zM280.1 113.9h0.8v0.8h-0.8zM290.7 88.1h0.8v0.8h-0.8zM283.3 94.4h0.8v0.8h-0.8zM289.2 93.6h0.8v0.8h-0.8zM283.9 89.2h0.8v0.8h-0.8zM275.2 95.5h0.8v0.8h-0.8zM280.8 102.4h0.8v0.8h-0.8zM286.1 102.7h0.8v0.8h-0.8zM274.2 113.5h0.8v0.8h-0.8zM285.2 102.9h0.8v0.8h-0.8zM280.5 100.8h0.8v0.8h-0.8zM269.9 102.6h0.8v0.8h-0.8zM275.9 109.5h0.8v0.8h-0.8zM290.6 114.1h0.8v0.8h-0.8zM284.3 88.4h0.8v0.8h-0.8zM277.0 110.1h0.8v0.8h-0.8zM282.7 95.0h0.8v0.8h-0.8zM279.8 108.3h0.8v0.8h-0.8zM271.2 104.1h0.8v0.8h-0.8zM290.0 107.2h0.8v0.8h-0.8zM278.3 83.9h0.8v0.8h-0.8zM291.9 97.1h0.8v0.8h-0.8zM283.3 111.0h0.8v0.8h-0.8zM286.7 116.9h0.8v0.8h-0.8zM277.6 103.1h0.8v0.8h-0.8zM272.4 115.9h0.8v0.8h-0.8zM280.3 101.6h0.8v0.8h-0.8zM278.4 110.4h0.8v0.8h-0.8zM279.4 92.7h0.8v0.8h-0.8zM288.4 101.7h0.8v0.8h-0.8zM281.3 99.3h0.8v0.8h-0.8zM274.9 101.8h0.8v0.8h-0.8zM283.2 105.8h0.8v0.8h-0.8zM282.0 121.0h0.8v0.8h-0.8zM284.2 114.3h0.8v0.8h-0.8zM282.3 99.7h0.8v0.8h-0.8zM280.9 115.9h0.8v0.8h-0.8zM287.7 91.3h0.8v0.8h-0.8zM284.0 92.0h0.8v0.8h-0.8zM278.5 96.3h0.8v0.8h-0.8zM282.3 93.7h0.8v0.8h-0.8zM282.2 114.8h0.8v0.8h-0.8zM280.8 86.2h0.8v0.8h-0.8zM292.6 96.1h0.8v0.8h-0.8zM277.0 101.7h0.8v0.8h-0.8zM283.2 116.1h0.8v0.8h-0.8zM287.8 105.9h0.8v0.8h-0.8zM281.6 96.1h0.8v0.8h-0.8zM286.4 113.6h0.8v0.8h-0.8zM281.6 111.9h0.8v0.8h-0.8zM292.8 93.1h0.8v0.8h-0.8zM277.6 109.7h0.8v0.8h-0.8zM283.9 102.2h0.8v0.8h-0.8zM285.6 100.4h0.8v0.8h-0.8zM278.2 106.0h0.8v0.8h-0.8zM277.9 96.0h0.8v0.8h-0.8zM282.4 111.0h0.8v0.8h-0.8zM281.4 100.7h0.8v0.8h-0.8zM280.7 98.5h0.8v0.8h-0.8zM288.0 98.6h0.8v0.8h-0.8zM287.2 100.5h0.8v0.8h-0.8zM281.2 120.2h0.8v0.8h-0.8zM287.8 109.5h0.8v0.8h-0.8zM284.5 95.9h0.8v0.8h-0.8zM280.8 116.3h0.8v0.8h-0.8zM282.5 107.6h0.8v0.8h-0.8zM275.3 104.2h0.8v0.8h-0.8zM280.6 114.7h0.8v0.8h-0.8zM289.8 115.2h0.8v0.8h-0.8zM288.4 97.6h0.8v0.8h-0.8zM286.7 100.0h0.8v0.8h-0.8zM278.6 91.9h0.8v0.8h-0.8zM287.0 97.9h0.8v0.8h-0.8zM274.5 97.8h0.8v0.8h-0.8zM282.4 96.4h0.8v0.8h-0.8zM287.2 87.2h0.8v0.8h-0.8zM278.6 92.6h0.8v0.8h-0.8zM277.9 113.6h0.8v0.8h-0.8zM283.0 106.3h0.8v0.8h-0.8zM277.4 100.6h0.8v0.8h-0.8zM285.9 107.0h0.8v0.8h-0.8zM276.6 108.7h0.8v0.8h-0.8zM273.5 101.5h0.8v0.8h-0.8zM275.1 108.2h0.8v0.8h-0.8zM282.8 115.4h0.8v0.8h-0.8zM281.4 81.2h0.8v0.8h-0.8zM281.8 107.2h0.8v0.8h-0.8zM282.0 96.8h0.8v0.8h-0.8zM287.4 97.0h0.8v0.8h-0.8zM280.1 104.8h0.8v0.8h-0.8zM289.2 116.8h0.8v0.8h-0.8zM274.7 94.4h0.8v0.8h-0.8zM288.5 107.8h0.8v0.8h-0.8zM285.2 85.2h0.8v0.8h-0.8zM288.1 95.4h0.8v0.8h-0.8zM278.5 99.7h0.8v0.8h-0.8zM281.2 83.8h0.8v0.8h-0.8zM289.4 90.9h0.8v0.8h-0.8zM280.2 116.2h0.8v0.8h-0.8zM278.3 97.8h0.8v0.8h-0.8zM280.3 113.6h0.8v0.8h-0.8zM279.1 104.1h0.8v0.8h-0.8zM288.5 106.1h0.8v0.8h-0.8zM280.8 106.3h0.8v0.8h-0.8zM285.0 110.1h0.8v0.8h-0.8zM282.2 95.4h0.8v0.8h-0.8zM277.5 120.4h0.8v0.8h-0.8zM272.7 107.5h0.8v0.8h-0.8zM279.9 116.0h0.8v0.8h-0.8zM283.8 105.4h0.8v0.8h-0.8zM273.0 88.1h0.8v0.8h-0.8zM283.7 100.7h0.8v0.8h-0.8zM279.5 96.0h0.8v0.8h-0.8zM293.1 95.0h0.8v0.8h-0.8zM282.6 102.7h0.8v0.8h-0.8zM277.7 116.8h0.8v0.8h-0.8zM283.5 106.1h0.8v0.8h-0.8zM284.3 98.0h0.8v0.8h-0.8zM284.2 97.1h0.8v0.8h-0.8zM287.3 91.0h0.8v0.8h-0.8zM285.5 107.3h0.8v0.8h-0.8zM290.1 85.8h0.8v0.8h-0.8zM273.3 107.5h0.8v0.8h-0.8zM290.0 105.2h0.8v0.8h-0.8zM276.5 116.6h0.8v0.8h-0.8zM287.3 113.5h0.8v0.8h-0.8zM288.5 86.7h0.8v0.8h-0.8zM272.8 110.9h0.8v0.8h-0.8zM283.0 100.2h0.8v0.8h-0.8zM277.0 96.8h0.8v0.8h-0.8zM286.1 113.9h0.8v0.8h-0.8zM271.0 102.3h0.8v0.8h-0.8zM284.0 103.2h0.8v0.8h-0.8zM281.5 80.3h0.8v0.8h-0.8zM287.6 91.0h0.8v0.8h-0.8zM284.5 99.2h0.8v0.8h-0.8zM282.1 108.5h0.8v0.8h-0.8zM272.8 110.0h0.8v0.8h-0.8zM283.1 86.1h0.8v0.8h-0.8zM281.3 97.2h0.8v0.8h-0.8zM281.8 87.2h0.8v0.8h-0.8zM282.3 122.3h0.8v0.8h-0.8zM289.1 101.9h0.8v0.8h-0.8zM284.0 82.9h0.8v0.8h-0.8zM285.3 100.3h0.8v0.8h-0.8zM282.2 101.2h0.8v0.8h-0.8zM276.3 111.0h0.8v0.8h-0.8zM276.2 95.2h0.8v0.8h-0.8zM277.2 103.7h0.8v0.8h-0.8zM279.4 107.6h0.8v0.8h-0.8zM282.9 99.4h0.8v0.8h-0.8zM280.8 88.0h0.8v0.8h-0.8zM289.9 105.0h0.8v0.8h-0.8zM278.4 91.9h0.8v0.8h-0.8zM288.4 98.3h0.8v0.8h-0.8zM286.3 105.2h0.8v0.8h-0.8zM288.8 90.3h0.8v0.8h-0.8zM278.2 111.7h0.8v0.8h-0.8zM279.4 107.3h0.8v0.8h-0.8zM275.2 94.3h0.8v0.8h-0.8zM279.1 80.8h0.8v0.8h-0.8zM286.3 111.9h0.8v0.8h-0.8zM283.6 114.6h0.8v0.8h-0.8zM269.9 96.1h0.8v0.8h-0.8zM280.6 125.1h0.8v0.8h-0.8zM295.5 92.2h0.8v0.8h-0.8zM276.8 87.0h0.8v0.8h-0.8zM284.9 101.8h0.8v0.8h-0.8zM289.2 101.3h0.8v0.8h-0.8zM287.3 105.4h0.8v0.8h-0.8zM281.8 115.7h0.8v0.8h-0.8zM290.7 100.0h0.8v0.8h-0.8zM282.2 92.6h0.8v0.8h-0.8zM281.5 88.5h0.8v0.8h-0.8z" fill="#3fa0fa" fill-opacity="0.42"/>
<path d="M279.5 108.6h0.8v0.8h-0.8zM288.2 84.2h0.8v0.8h-0.8zM275.6 97.3h0.8v0.8h-0.8zM271.8 106.5h0.8v0.8h-0.8zM287.6 113.1h0.8v0.8h-0.8zM280.6 117.8h0.8v0.8h-0.8zM279.0 100.5h0.8v0.8h-0.8zM276.3 98.9h0.8v0.8h-0.8zM282.5 88.1h0.8v0.8h-0.8zM277.5 115.0h0.8v0.8h-0.8zM283.6 110.3h0.8v0.8h-0.8zM291.4 114.1h0.8v0.8h-0.8zM281.2 113.5h0.8v0.8h-0.8zM276.6 106.1h0.8v0.8h-0.8zM291.0 93.5h0.8v0.8h-0.8zM288.0 112.0h0.8v0.8h-0.8zM281.2 95.4h0.8v0.8h-0.8zM285.9 109.7h0.8v0.8h-0.8zM287.5 109.4h0.8v0.8h-0.8zM276.4 101.0h0.8v0.8h-0.8zM291.2 93.2h0.8v0.8h-0.8zM272.5 102.1h0.8v0.8h-0.8zM273.2 115.8h0.8v0.8h-0.8zM282.5 90.1h0.8v0.8h-0.8zM281.6 118.3h0.8v0.8h-0.8zM287.1 97.1h0.8v0.8h-0.8zM287.3 92.3h0.8v0.8h-0.8zM274.5 91.6h0.8v0.8h-0.8zM270.4 97.4h0.8v0.8h-0.8zM287.1 83.6h0.8v0.8h-0.8zM291.8 102.6h0.8v0.8h-0.8zM270.9 96.2h0.8v0.8h-0.8zM284.6 112.2h0.8v0.8h-0.8zM286.2 97.5h0.8v0.8h-0.8zM288.5 98.1h0.8v0.8h-0.8zM279.9 109.5h0.8v0.8h-0.8zM287.0 95.2h0.8v0.8h-0.8zM281.0 97.6h0.8v0.8h-0.8zM289.0 91.5h0.8v0.8h-0.8zM291.0 94.7h0.8v0.8h-0.8zM276.8 88.7h0.8v0.8h-0.8zM275.1 107.4h0.8v0.8h-0.8zM271.8 89.1h0.8v0.8h-0.8zM274.1 105.2h0.8v0.8h-0.8zM293.5 95.3h0.8v0.8h-0.8zM292.4 95.3h0.8v0.8h-0.8zM279.2 102.7h0.8v0.8h-0.8zM275.4 106.5h0.8v0.8h-0.8zM273.0 102.2h0.8v0.8h-0.8zM280.0 119.8h0.8v0.8h-0.8zM283.5 113.2h0.8v0.8h-0.8zM278.0 98.3h0.8v0.8h-0.8zM291.5 92.1h0.8v0.8h-0.8zM283.7 111.5h0.8v0.8h-0.8zM273.7 101.9h0.8v0.8h-0.8zM280.4 101.3h0.8v0.8h-0.8zM282.8 116.5h0.8v0.8h-0.8zM284.4 96.1h0.8v0.8h-0.8zM279.0 94.6h0.8v0.8h-0.8zM279.3 113.3h0.8v0.8h-0.8zM287.7 106.2h0.8v0.8h-0.8zM283.8 88.0h0.8v0.8h-0.8zM283.6 98.6h0.8v0.8h-0.8zM278.1 101.6h0.8v0.8h-0.8zM277.2 111.3h0.8v0.8h-0.8zM282.1 97.6h0.8v0.8h-0.8zM279.5 85.8h0.8v0.8h-0.8zM284.5 107.0h0.8v0.8h-0.8zM278.6 102.5h0.8v0.8h-0.8zM286.5 94.6h0.8v0.8h-0.8zM283.3 111.2h0.8v0.8h-0.8zM282.9 93.4h0.8v0.8h-0.8zM285.8 96.7h0.8v0.8h-0.8zM281.2 97.5h0.8v0.8h-0.8zM275.1 90.7h0.8v0.8h-0.8zM283.5 95.8h0.8v0.8h-0.8zM281.0 103.2h0.8v0.8h-0.8zM283.6 107.8h0.8v0.8h-0.8zM283.1 87.2h0.8v0.8h-0.8zM279.6 112.3h0.8v0.8h-0.8zM292.8 101.5h0.8v0.8h-0.8zM280.5 86.2h0.8v0.8h-0.8zM274.4 118.8h0.8v0.8h-0.8zM286.2 100.5h0.8v0.8h-0.8zM273.9 95.2h0.8v0.8h-0.8zM282.6 111.8h0.8v0.8h-0.8zM279.3 109.2h0.8v0.8h-0.8zM277.3 102.9h0.8v0.8h-0.8zM284.0 82.2h0.8v0.8h-0.8zM285.6 100.7h0.8v0.8h-0.8zM277.9 96.7h0.8v0.8h-0.8zM279.2 104.4h0.8v0.8h-0.8zM277.8 103.2h0.8v0.8h-0.8zM281.9 114.3h0.8v0.8h-0.8zM278.9 109.1h0.8v0.8h-0.8zM275.5 101.7h0.8v0.8h-0.8zM283.9 105.2h0.8v0.8h-0.8zM282.9 110.9h0.8v0.8h-0.8zM273.7 108.6h0.8v0.8h-0.8zM287.2 114.4h0.8v0.8h-0.8zM276.4 87.9h0.8v0.8h-0.8zM279.3 101.9h0.8v0.8h-0.8zM271.1 108.6h0.8v0.8h-0.8zM278.4 107.8h0.8v0.8h-0.8zM278.0 98.9h0.8v0.8h-0.8zM277.9 108.2h0.8v0.8h-0.8zM277.2 88.3h0.8v0.8h-0.8zM272.7 114.4h0.8v0.8h-0.8zM284.8 120.5h0.8v0.8h-0.8zM275.9 102.0h0.8v0.8h-0.8zM278.6 91.9h0.8v0.8h-0.8zM287.7 106.6h0.8v0.8h-0.8zM274.4 90.3h0.8v0.8h-0.8zM289.5 94.6h0.8v0.8h-0.8zM285.9 110.1h0.8v0.8h-0.8zM277.8 115.1h0.8v0.8h-0.8zM275.6 103.0h0.8v0.8h-0.8zM291.4 91.3h0.8v0.8h-0.8zM289.5 113.9h0.8v0.8h-0.8zM273.1 93.5h0.8v0.8h-0.8zM273.6 96.1h0.8v0.8h-0.8zM276.2 118.2h0.8v0.8h-0.8zM278.8 84.0h0.8v0.8h-0.8zM276.6 85.0h0.8v0.8h-0.8zM272.7 105.5h0.8v0.8h-0.8zM289.8 99.6h0.8v0.8h-0.8zM284.6 94.9h0.8v0.8h-0.8zM290.4 94.9h0.8v0.8h-0.8zM274.9 104.7h0.8v0.8h-0.8zM278.1 91.4h0.8v0.8h-0.8zM286.3 120.9h0.8v0.8h-0.8zM277.0 103.4h0.8v0.8h-0.8zM277.6 107.7h0.8v0.8h-0.8zM277.3 98.1h0.8v0.8h-0.8zM286.6 113.3h0.8v0.8h-0.8zM286.3 105.9h0.8v0.8h-0.8zM290.7 105.3h0.8v0.8h-0.8zM273.8 112.4h0.8v0.8h-0.8zM275.6 104.2h0.8v0.8h-0.8zM277.9 89.1h0.8v0.8h-0.8zM281.5 114.1h0.8v0.8h-0.8zM285.8 99.7h0.8v0.8h-0.8zM284.2 103.7h0.8v0.8h-0.8zM279.9 89.5h0.8v0.8h-0.8zM287.5 99.5h0.8v0.8h-0.8zM282.2 109.0h0.8v0.8h-0.8zM283.0 93.3h0.8v0.8h-0.8zM281.8 106.8h0.8v0.8h-0.8zM286.0 84.3h0.8v0.8h-0.8zM278.0 84.9h0.8v0.8h-0.8zM280.6 107.7h0.8v0.8h-0.8zM281.9 109.6h0.8v0.8h-0.8zM280.5 106.1h0.8v0.8h-0.8zM281.8 115.6h0.8v0.8h-0.8zM273.4 99.7h0.8v0.8h-0.8zM280.5 100.0h0.8v0.8h-0.8zM280.7 93.4h0.8v0.8h-0.8zM273.1 108.6h0.8v0.8h-0.8zM288.1 101.5h0.8v0.8h-0.8zM284.7 108.8h0.8v0.8h-0.8zM275.9 100.5h0.8v0.8h-0.8zM288.1 107.3h0.8v0.8h-0.8zM275.2 91.3h0.8v0.8h-0.8zM289.7 112.0h0.8v0.8h-0.8zM287.8 92.5h0.8v0.8h-0.8zM277.2 111.0h0.8v0.8h-0.8zM289.4 104.0h0.8v0.8h-0.8zM284.2 109.3h0.8v0.8h-0.8zM282.3 116.1h0.8v0.8h-0.8zM281.4 108.8h0.8v0.8h-0.8zM283.9 115.5h0.8v0.8h-0.8zM290.7 86.1h0.8v0.8h-0.8zM288.1 106.6h0.8v0.8h-0.8zM284.1 117.5h0.8v0.8h-0.8zM283.0 79.4h0.8v0.8h-0.8zM273.6 98.5h0.8v0.8h-0.8zM287.0 110.0h0.8v0.8h-0.8zM278.8 89.6h0.8v0.8h-0.8zM277.9 112.7h0.8v0.8h-0.8zM281.9 91.6h0.8v0.8h-0.8zM279.3 92.8h0.8v0.8h-0.8zM277.6 99.9h0.8v0.8h-0.8zM277.0 99.6h0.8v0.8h-0.8zM288.8 90.4h0.8v0.8h-0.8zM281.4 97.7h0.8v0.8h-0.8zM278.7 106.6h0.8v0.8h-0.8zM279.1 103.3h0.8v0.8h-0.8zM280.0 103.7h0.8v0.8h-0.8zM280.0 103.1h0.8v0.8h-0.8zM277.4 100.4h0.8v0.8h-0.8zM285.6 97.0h0.8v0.8h-0.8zM281.9 82.1h0.8v0.8h-0.8zM286.0 88.6h0.8v0.8h-0.8zM276.9 108.4h0.8v0.8h-0.8zM283.7 111.6h0.8v0.8h-0.8zM293.6 104.8h0.8v0.8h-0.8zM285.4 92.3h0.8v0.8h-0.8zM276.4 108.7h0.8v0.8h-0.8zM284.8 105.7h0.8v0.8h-0.8zM282.8 117.2h0.8v0.8h-0.8zM289.8 88.5h0.8v0.8h-0.8zM284.4 99.2h0.8v0.8h-0.8zM283.6 113.9h0.8v0.8h-0.8zM285.9 107.3h0.8v0.8h-0.8zM283.6 93.8h0.8v0.8h-0.8zM276.5 104.2h0.8v0.8h-0.8zM273.4 102.8h0.8v0.8h-0.8zM277.2 104.9h0.8v0.8h-0.8zM275.0 83.2h0.8v0.8h-0.8zM290.5 110.1h0.8v0.8h-0.8zM281.9 109.9h0.8v0.8h-0.8zM270.9 91.8h0.8v0.8h-0.8zM280.5 115.3h0.8v0.8h-0.8zM288.9 115.8h0.8v0.8h-0.8zM285.2 104.0h0.8v0.8h-0.8zM273.9 84.4h0.8v0.8h-0.8zM281.7 111.0h0.8v0.8h-0.8zM272.5 103.6h0.8v0.8h-0.8zM279.7 90.8h0.8v0.8h-0.8zM283.3 118.0h0.8v0.8h-0.8zM282.8 107.5h0.8v0.8h-0.8zM279.2 81.1h0.8v0.8h-0.8zM276.6 99.9h0.8v0.8h-0.8zM286.1 83.4h0.8v0.8h-0.8zM283.6 118.8h0.8v0.8h-0.8zM287.2 104.2h0.8v0.8h-0.8zM281.8 93.2h0.8v0.8h-0.8zM275.9 87.6h0.8v0.8h-0.8zM285.7 95.8h0.8v0.8h-0.8zM278.1 103.1h0.8v0.8h-0.8zM283.4 87.1h0.8v0.8h-0.8zM285.9 112.6h0.8v0.8h-0.8zM290.9 93.0h0.8v0.8h-0.8zM289.5 88.0h0.8v0.8h-0.8zM283.8 106.1h0.8v0.8h-0.8zM287.0 119.4h0.8v0.8h-0.8zM286.1 105.2h0.8v0.8h-0.8zM283.9 108.5h0.8v0.8h-0.8zM274.3 113.5h0.8v0.8h-0.8zM274.3 119.0h0.8v0.8h-0.8zM292.1 87.7h0.8v0.8h-0.8zM276.8 81.3h0.8v0.8h-0.8zM279.3 86.2h0.8v0.8h-0.8zM294.5 105.3h0.8v0.8h-0.8zM269.1 102.3h0.8v0.8h-0.8zM292.0 82.9h0.8v0.8h-0.8zM270.9 87.5h0.8v0.8h-0.8zM269.0 107.8h0.8v0.8h-0.8zM281.3 95.0h0.8v0.8h-0.8zM292.9 83.9h0.8v0.8h-0.8zM267.6 104.2h0.8v0.8h-0.8z" fill="#3fa0fa" fill-opacity="0.42"/>
<path d="M286.7 98.3h0.8v0.8h-0.8zM281.2 95.2h0.8v0.8h-0.8zM283.9 101.4h0.8v0.8h-0.8zM284.0 105.5h0.8v0.8h-0.8zM279.9 104.1h0.8v0.8h-0.8zM284.1 101.1h0.8v0.8h-0.8zM287.4 101.1h0.8v0.8h-0.8zM285.3 108.2h0.8v0.8h-0.8zM287.2 99.8h0.8v0.8h-0.8zM284.9 101.1h0.8v0.8h-0.8zM279.2 101.5h0.8v0.8h-0.8zM285.5 102.2h0.8v0.8h-0.8zM285.5 99.6h0.8v0.8h-0.8zM283.7 102.2h0.8v0.8h-0.8zM284.5 100.0h0.8v0.8h-0.8zM286.6 96.3h0.8v0.8h-0.8zM283.7 107.2h0.8v0.8h-0.8zM283.2 104.8h0.8v0.8h-0.8zM285.4 99.6h0.8v0.8h-0.8zM282.3 105.0h0.8v0.8h-0.8zM283.6 99.9h0.8v0.8h-0.8zM285.0 109.1h0.8v0.8h-0.8zM283.8 91.3h0.8v0.8h-0.8zM287.1 96.8h0.8v0.8h-0.8zM282.9 109.5h0.8v0.8h-0.8zM290.9 102.6h0.8v0.8h-0.8zM282.2 91.3h0.8v0.8h-0.8zM286.0 92.3h0.8v0.8h-0.8zM286.5 100.3h0.8v0.8h-0.8zM279.9 99.4h0.8v0.8h-0.8zM283.2 98.4h0.8v0.8h-0.8zM283.6 98.0h0.8v0.8h-0.8zM280.8 104.1h0.8v0.8h-0.8zM284.6 104.5h0.8v0.8h-0.8zM283.7 98.7h0.8v0.8h-0.8zM286.4 93.7h0.8v0.8h-0.8zM283.3 97.3h0.8v0.8h-0.8zM282.9 89.8h0.8v0.8h-0.8z" fill="#3fa0fa" fill-opacity="0.4"/>
<path d="M285.2 98.7h0.8v0.8h-0.8zM284.9 97.3h0.8v0.8h-0.8zM289.2 102.0h0.8v0.8h-0.8zM287.5 100.8h0.8v0.8h-0.8zM285.9 102.2h0.8v0.8h-0.8zM288.6 94.9h0.8v0.8h-0.8zM281.6 100.1h0.8v0.8h-0.8zM288.4 102.4h0.8v0.8h-0.8zM285.6 103.7h0.8v0.8h-0.8zM286.0 90.8h0.8v0.8h-0.8zM287.8 96.9h0.8v0.8h-0.8zM282.6 88.8h0.8v0.8h-0.8zM290.0 103.2h0.8v0.8h-0.8zM285.1 94.6h0.8v0.8h-0.8zM286.8 91.4h0.8v0.8h-0.8zM281.8 108.9h0.8v0.8h-0.8zM282.9 94.5h0.8v0.8h-0.8zM280.1 97.1h0.8v0.8h-0.8zM288.4 102.5h0.8v0.8h-0.8zM283.1 97.9h0.8v0.8h-0.8zM282.4 108.6h0.8v0.8h-0.8zM284.5 92.1h0.8v0.8h-0.8zM287.8 105.5h0.8v0.8h-0.8zM281.1 97.5h0.8v0.8h-0.8zM284.9 102.7h0.8v0.8h-0.8zM289.6 105.6h0.8v0.8h-0.8zM284.3 105.8h0.8v0.8h-0.8zM285.9 100.5h0.8v0.8h-0.8zM283.9 103.7h0.8v0.8h-0.8zM280.1 105.3h0.8v0.8h-0.8zM288.1 93.7h0.8v0.8h-0.8zM281.8 90.6h0.8v0.8h-0.8zM285.7 100.5h0.8v0.8h-0.8zM287.7 98.9h0.8v0.8h-0.8zM284.2 100.7h0.8v0.8h-0.8zM285.4 89.7h0.8v0.8h-0.8zM285.7 96.4h0.8v0.8h-0.8zM282.8 108.5h0.8v0.8h-0.8z" fill="#3fa0fa" fill-opacity="0.4"/>
<path d="M283.1 100.3h0.8v0.8h-0.8zM287.5 106.0h0.8v0.8h-0.8zM285.9 94.3h0.8v0.8h-0.8zM285.9 110.9h0.8v0.8h-0.8zM288.5 108.3h0.8v0.8h-0.8zM280.8 98.0h0.8v0.8h-0.8zM285.2 98.5h0.8v0.8h-0.8zM280.8 97.1h0.8v0.8h-0.8zM283.3 95.8h0.8v0.8h-0.8zM283.1 98.6h0.8v0.8h-0.8zM288.1 92.4h0.8v0.8h-0.8zM280.8 96.9h0.8v0.8h-0.8zM282.6 93.7h0.8v0.8h-0.8zM288.4 96.1h0.8v0.8h-0.8zM285.9 91.6h0.8v0.8h-0.8zM282.8 93.4h0.8v0.8h-0.8zM285.3 105.1h0.8v0.8h-0.8zM286.4 99.3h0.8v0.8h-0.8zM285.1 98.8h0.8v0.8h-0.8zM289.9 103.3h0.8v0.8h-0.8zM281.4 102.0h0.8v0.8h-0.8zM287.0 98.2h0.8v0.8h-0.8zM284.7 89.9h0.8v0.8h-0.8zM287.1 103.3h0.8v0.8h-0.8zM289.3 96.5h0.8v0.8h-0.8zM288.8 99.8h0.8v0.8h-0.8zM283.2 101.5h0.8v0.8h-0.8zM283.3 94.4h0.8v0.8h-0.8zM285.3 105.3h0.8v0.8h-0.8zM285.0 102.0h0.8v0.8h-0.8zM284.5 102.8h0.8v0.8h-0.8zM283.4 106.0h0.8v0.8h-0.8zM288.2 97.5h0.8v0.8h-0.8zM288.8 93.7h0.8v0.8h-0.8zM282.0 99.4h0.8v0.8h-0.8zM284.5 108.1h0.8v0.8h-0.8zM284.5 94.7h0.8v0.8h-0.8zM281.8 94.4h0.8v0.8h-0.8z" fill="#3fa0fa" fill-opacity="0.4"/>
<path d="M288.3 95.7h0.8v0.8h-0.8zM287.1 106.8h0.8v0.8h-0.8zM286.6 103.2h0.8v0.8h-0.8zM284.6 102.2h0.8v0.8h-0.8zM287.0 98.6h0.8v0.8h-0.8zM285.2 106.2h0.8v0.8h-0.8zM287.8 96.6h0.8v0.8h-0.8zM283.0 100.3h0.8v0.8h-0.8zM284.9 99.7h0.8v0.8h-0.8zM286.3 98.8h0.8v0.8h-0.8zM287.5 95.7h0.8v0.8h-0.8zM287.5 100.1h0.8v0.8h-0.8zM286.7 92.8h0.8v0.8h-0.8zM286.4 99.0h0.8v0.8h-0.8zM289.3 97.2h0.8v0.8h-0.8zM285.8 106.4h0.8v0.8h-0.8zM286.2 96.2h0.8v0.8h-0.8zM285.2 92.2h0.8v0.8h-0.8zM285.8 100.2h0.8v0.8h-0.8zM288.7 90.7h0.8v0.8h-0.8zM286.9 99.0h0.8v0.8h-0.8zM285.0 100.7h0.8v0.8h-0.8zM288.7 98.5h0.8v0.8h-0.8zM288.7 95.2h0.8v0.8h-0.8zM286.2 102.7h0.8v0.8h-0.8zM284.8 92.8h0.8v0.8h-0.8zM283.8 105.4h0.8v0.8h-0.8zM281.2 97.1h0.8v0.8h-0.8zM286.8 100.3h0.8v0.8h-0.8zM280.2 106.1h0.8v0.8h-0.8zM285.1 105.5h0.8v0.8h-0.8zM286.5 108.6h0.8v0.8h-0.8zM284.8 102.2h0.8v0.8h-0.8zM287.4 95.5h0.8v0.8h-0.8zM286.7 93.6h0.8v0.8h-0.8zM286.8 97.3h0.8v0.8h-0.8zM289.2 100.2h0.8v0.8h-0.8zM288.7 97.9h0.8v0.8h-0.8z" fill="#3fa0fa" fill-opacity="0.4"/>
<path d="M283.9 102.1h0.8v0.8h-0.8zM288.2 99.2h0.8v0.8h-0.8zM282.2 105.7h0.8v0.8h-0.8zM286.5 90.6h0.8v0.8h-0.8zM284.7 108.3h0.8v0.8h-0.8zM285.0 94.2h0.8v0.8h-0.8zM289.2 101.3h0.8v0.8h-0.8zM281.7 109.3h0.8v0.8h-0.8zM280.9 101.6h0.8v0.8h-0.8zM282.3 92.0h0.8v0.8h-0.8zM284.6 98.4h0.8v0.8h-0.8zM290.4 100.3h0.8v0.8h-0.8zM285.9 95.5h0.8v0.8h-0.8zM282.7 108.8h0.8v0.8h-0.8zM288.0 109.3h0.8v0.8h-0.8zM282.7 94.8h0.8v0.8h-0.8zM287.3 101.6h0.8v0.8h-0.8zM287.0 93.6h0.8v0.8h-0.8zM284.0 92.8h0.8v0.8h-0.8zM285.2 107.0h0.8v0.8h-0.8zM284.2 97.9h0.8v0.8h-0.8zM283.7 107.2h0.8v0.8h-0.8zM286.6 104.3h0.8v0.8h-0.8zM284.1 100.1h0.8v0.8h-0.8zM288.0 103.7h0.8v0.8h-0.8zM284.7 98.1h0.8v0.8h-0.8zM289.9 98.7h0.8v0.8h-0.8zM286.5 98.9h0.8v0.8h-0.8zM287.3 103.9h0.8v0.8h-0.8zM280.8 107.3h0.8v0.8h-0.8zM290.3 97.4h0.8v0.8h-0.8zM283.1 97.4h0.8v0.8h-0.8zM287.3 106.2h0.8v0.8h-0.8zM287.4 95.2h0.8v0.8h-0.8zM288.8 92.1h0.8v0.8h-0.8zM284.3 96.8h0.8v0.8h-0.8zM284.1 101.5h0.8v0.8h-0.8z" fill="#3fa0fa" fill-opacity="0.4"/>
<path d="M282.7 105.3h0.8v0.8h-0.8zM283.7 94.9h0.8v0.8h-0.8zM284.5 100.7h0.8v0.8h-0.8zM288.0 101.0h0.8v0.8h-0.8zM289.3 102.8h0.8v0.8h-0.8zM285.0 99.4h0.8v0.8h-0.8zM285.4 93.3h0.8v0.8h-0.8zM289.2 106.3h0.8v0.8h-0.8zM281.0 97.6h0.8v0.8h-0.8zM285.1 91.8h0.8v0.8h-0.8zM279.9 100.3h0.8v0.8h-0.8zM285.7 100.9h0.8v0.8h-0.8zM290.0 101.5h0.8v0.8h-0.8zM285.4 106.8h0.8v0.8h-0.8zM284.3 98.8h0.8v0.8h-0.8zM283.6 94.8h0.8v0.8h-0.8zM287.8 100.7h0.8v0.8h-0.8zM288.1 101.0h0.8v0.8h-0.8zM284.3 107.6h0.8v0.8h-0.8zM280.9 100.9h0.8v0.8h-0.8zM288.5 102.6h0.8v0.8h-0.8zM287.2 98.8h0.8v0.8h-0.8zM285.4 101.1h0.8v0.8h-0.8zM287.2 98.9h0.8v0.8h-0.8zM285.5 107.3h0.8v0.8h-0.8zM285.8 96.9h0.8v0.8h-0.8zM289.1 92.5h0.8v0.8h-0.8zM285.7 108.1h0.8v0.8h-0.8zM285.7 111.2h0.8v0.8h-0.8zM285.9 95.2h0.8v0.8h-0.8zM284.0 104.2h0.8v0.8h-0.8zM284.1 100.7h0.8v0.8h-0.8zM285.5 101.5h0.8v0.8h-0.8zM283.7 109.4h0.8v0.8h-0.8zM284.6 101.9h0.8v0.8h-0.8zM285.1 94.8h0.8v0.8h-0.8zM285.0 89.3h0.8v0.8h-0.8z" fill="#3fa0fa" fill-opacity="0.4"/>
<path d="M283.0 92.6h0.8v0.8h-0.8zM287.8 105.5h0.8v0.8h-0.8zM282.6 96.0h0.8v0.8h-0.8zM283.4 95.4h0.8v0.8h-0.8zM289.6 99.2h0.8v0.8h-0.8zM285.9 93.9h0.8v0.8h-0.8zM287.4 94.1h0.8v0.8h-0.8zM287.5 93.0h0.8v0.8h-0.8zM284.3 98.0h0.8v0.8h-0.8zM281.2 98.9h0.8v0.8h-0.8zM282.4 98.0h0.8v0.8h-0.8zM281.4 97.1h0.8v0.8h-0.8zM289.3 100.7h0.8v0.8h-0.8zM284.0 90.2h0.8v0.8h-0.8zM282.3 103.5h0.8v0.8h-0.8zM285.7 94.9h0.8v0.8h-0.8zM282.8 96.8h0.8v0.8h-0.8zM283.8 109.4h0.8v0.8h-0.8zM286.6 107.1h0.8v0.8h-0.8zM290.4 94.9h0.8v0.8h-0.8zM284.8 92.4h0.8v0.8h-0.8zM283.5 92.8h0.8v0.8h-0.8zM283.7 104.3h0.8v0.8h-0.8zM282.0 89.4h0.8v0.8h-0.8zM281.8 102.3h0.8v0.8h-0.8zM287.0 99.2h0.8v0.8h-0.8zM285.9 91.3h0.8v0.8h-0.8zM284.1 101.7h0.8v0.8h-0.8zM283.9 109.0h0.8v0.8h-0.8zM279.9 97.5h0.8v0.8h-0.8zM281.5 108.6h0.8v0.8h-0.8zM287.5 100.8h0.8v0.8h-0.8zM280.0 99.4h0.8v0.8h-0.8zM281.4 91.9h0.8v0.8h-0.8zM283.1 106.8h0.8v0.8h-0.8zM283.5 103.6h0.8v0.8h-0.8zM284.5 110.5h0.8v0.8h-0.8z" fill="#3fa0fa" fill-opacity="0.4"/>
<path d="M287.8 105.8h0.8v0.8h-0.8zM288.4 97.5h0.8v0.8h-0.8zM287.4 98.4h0.8v0.8h-0.8zM287.8 97.8h0.8v0.8h-0.8zM285.0 94.2h0.8v0.8h-0.8zM290.1 95.0h0.8v0.8h-0.8zM283.6 92.9h0.8v0.8h-0.8zM281.1 107.0h0.8v0.8h-0.8zM284.2 108.9h0.8v0.8h-0.8zM285.7 94.1h0.8v0.8h-0.8zM284.6 102.9h0.8v0.8h-0.8zM285.5 101.5h0.8v0.8h-0.8zM286.0 92.9h0.8v0.8h-0.8zM281.0 96.2h0.8v0.8h-0.8zM281.0 96.3h0.8v0.8h-0.8zM284.3 101.9h0.8v0.8h-0.8zM283.8 90.9h0.8v0.8h-0.8zM283.8 106.4h0.8v0.8h-0.8zM290.8 98.9h0.8v0.8h-0.8zM284.7 110.7h0.8v0.8h-0.8zM285.6 103.1h0.8v0.8h-0.8zM289.4 102.9h0.8v0.8h-0.8zM288.5 96.0h0.8v0.8h-0.8zM289.0 106.7h0.8v0.8h-0.8zM286.8 98.9h0.8v0.8h-0.8zM279.9 96.4h0.8v0.8h-0.8zM285.8 95.7h0.8v0.8h-0.8zM287.9 103.2h0.8v0.8h-0.8zM286.1 98.6h0.8v0.8h-0.8zM284.9 98.9h0.8v0.8h-0.8zM283.5 93.0h0.8v0.8h-0.8zM289.6 94.5h0.8v0.8h-0.8zM283.3 98.6h0.8v0.8h-0.8zM287.0 97.9h0.8v0.8h-0.8zM285.8 90.2h0.8v0.8h-0.8zM283.1 94.3h0.8v0.8h-0.8zM286.8 107.4h0.8v0.8h-0.8z" fill="#3fa0fa" fill-opacity="0.4"/>
<ellipse cx="300.0" cy="103.0" rx="5.10" ry="11.70" fill="#3a10f0" opacity="0.3" filter="url(#bl3)" transform="rotate(0.0 300.0 103.0)"/>
<path d="M298.8 106.0h0.8v0.8h-0.8zM302.6 95.6h0.8v0.8h-0.8zM304.8 95.7h0.8v0.8h-0.8zM297.8 89.2h0.8v0.8h-0.8zM295.4 110.4h0.8v0.8h-0.8zM296.5 96.3h0.8v0.8h-0.8zM292.2 105.0h0.8v0.8h-0.8zM303.2 109.1h0.8v0.8h-0.8zM296.7 109.1h0.8v0.8h-0.8zM295.7 110.3h0.8v0.8h-0.8zM301.7 88.2h0.8v0.8h-0.8zM300.9 99.1h0.8v0.8h-0.8zM297.1 100.8h0.8v0.8h-0.8zM297.1 89.8h0.8v0.8h-0.8zM296.7 109.0h0.8v0.8h-0.8zM304.5 96.4h0.8v0.8h-0.8zM302.0 119.2h0.8v0.8h-0.8zM302.9 99.4h0.8v0.8h-0.8zM293.9 100.2h0.8v0.8h-0.8zM296.6 96.5h0.8v0.8h-0.8zM295.6 114.5h0.8v0.8h-0.8zM301.1 109.0h0.8v0.8h-0.8zM294.0 104.4h0.8v0.8h-0.8zM297.6 98.7h0.8v0.8h-0.8zM299.2 111.7h0.8v0.8h-0.8zM298.6 98.2h0.8v0.8h-0.8zM298.2 110.6h0.8v0.8h-0.8zM305.5 97.8h0.8v0.8h-0.8zM298.3 107.1h0.8v0.8h-0.8zM301.7 102.5h0.8v0.8h-0.8zM301.6 104.2h0.8v0.8h-0.8zM302.3 97.4h0.8v0.8h-0.8zM303.3 92.3h0.8v0.8h-0.8zM300.3 109.4h0.8v0.8h-0.8zM302.8 108.5h0.8v0.8h-0.8zM298.6 103.7h0.8v0.8h-0.8zM297.5 103.8h0.8v0.8h-0.8zM293.7 99.6h0.8v0.8h-0.8zM299.5 92.7h0.8v0.8h-0.8zM301.1 94.1h0.8v0.8h-0.8zM298.8 107.8h0.8v0.8h-0.8zM295.2 105.4h0.8v0.8h-0.8zM294.3 102.2h0.8v0.8h-0.8zM303.3 97.5h0.8v0.8h-0.8zM301.4 111.7h0.8v0.8h-0.8zM298.2 101.5h0.8v0.8h-0.8zM298.1 103.9h0.8v0.8h-0.8zM300.0 101.0h0.8v0.8h-0.8zM298.4 98.1h0.8v0.8h-0.8zM300.1 105.3h0.8v0.8h-0.8zM297.5 112.2h0.8v0.8h-0.8zM304.1 93.3h0.8v0.8h-0.8zM304.9 109.8h0.8v0.8h-0.8zM296.4 98.0h0.8v0.8h-0.8zM300.2 89.9h0.8v0.8h-0.8zM305.0 109.6h0.8v0.8h-0.8zM301.5 94.6h0.8v0.8h-0.8zM305.3 100.0h0.8v0.8h-0.8zM306.6 108.2h0.8v0.8h-0.8zM294.2 111.3h0.8v0.8h-0.8zM298.1 109.6h0.8v0.8h-0.8zM304.5 102.2h0.8v0.8h-0.8zM300.4 105.0h0.8v0.8h-0.8zM301.8 104.9h0.8v0.8h-0.8zM304.1 93.1h0.8v0.8h-0.8zM294.5 98.2h0.8v0.8h-0.8zM293.7 93.6h0.8v0.8h-0.8zM302.4 115.5h0.8v0.8h-0.8zM294.4 105.9h0.8v0.8h-0.8zM301.0 104.6h0.8v0.8h-0.8zM300.6 93.5h0.8v0.8h-0.8zM298.7 106.6h0.8v0.8h-0.8zM295.3 95.0h0.8v0.8h-0.8zM301.7 87.1h0.8v0.8h-0.8zM303.9 98.1h0.8v0.8h-0.8zM297.0 104.2h0.8v0.8h-0.8zM299.4 99.6h0.8v0.8h-0.8zM299.1 97.2h0.8v0.8h-0.8zM300.3 86.6h0.8v0.8h-0.8zM298.5 98.1h0.8v0.8h-0.8zM303.0 113.3h0.8v0.8h-0.8zM307.0 106.0h0.8v0.8h-0.8zM292.8 99.8h0.8v0.8h-0.8zM295.8 113.9h0.8v0.8h-0.8zM301.2 98.3h0.8v0.8h-0.8zM306.3 109.3h0.8v0.8h-0.8zM303.1 88.7h0.8v0.8h-0.8zM299.9 106.3h0.8v0.8h-0.8zM306.1 98.0h0.8v0.8h-0.8zM294.8 102.0h0.8v0.8h-0.8zM294.2 102.9h0.8v0.8h-0.8zM298.0 101.4h0.8v0.8h-0.8zM295.6 94.7h0.8v0.8h-0.8zM300.1 115.8h0.8v0.8h-0.8zM304.6 96.5h0.8v0.8h-0.8zM299.3 99.5h0.8v0.8h-0.8zM297.5 115.1h0.8v0.8h-0.8zM300.4 110.6h0.8v0.8h-0.8zM300.5 101.9h0.8v0.8h-0.8zM307.0 96.4h0.8v0.8h-0.8zM304.6 103.2h0.8v0.8h-0.8zM303.5 93.8h0.8v0.8h-0.8zM297.9 100.9h0.8v0.8h-0.8zM303.5 93.3h0.8v0.8h-0.8zM301.9 109.2h0.8v0.8h-0.8zM302.1 90.5h0.8v0.8h-0.8zM300.2 114.8h0.8v0.8h-0.8zM295.7 108.8h0.8v0.8h-0.8zM303.1 118.0h0.8v0.8h-0.8zM297.7 105.1h0.8v0.8h-0.8zM298.8 95.3h0.8v0.8h-0.8zM302.1 112.9h0.8v0.8h-0.8zM299.7 103.4h0.8v0.8h-0.8zM300.9 85.5h0.8v0.8h-0.8zM292.9 111.5h0.8v0.8h-0.8zM301.4 97.7h0.8v0.8h-0.8zM302.8 99.1h0.8v0.8h-0.8zM294.0 91.5h0.8v0.8h-0.8zM300.1 97.2h0.8v0.8h-0.8zM302.6 93.2h0.8v0.8h-0.8zM304.6 99.5h0.8v0.8h-0.8zM295.5 93.0h0.8v0.8h-0.8zM303.0 92.9h0.8v0.8h-0.8zM305.7 100.6h0.8v0.8h-0.8zM295.0 98.6h0.8v0.8h-0.8zM291.4 114.8h0.8v0.8h-0.8zM309.1 96.8h0.8v0.8h-0.8zM299.6 85.9h0.8v0.8h-0.8zM304.0 82.9h0.8v0.8h-0.8zM308.2 93.5h0.8v0.8h-0.8zM308.4 99.7h0.8v0.8h-0.8zM291.6 115.6h0.8v0.8h-0.8zM297.7 105.4h0.8v0.8h-0.8zM300.9 116.1h0.8v0.8h-0.8z" fill="#3a10f0" fill-opacity="0.42"/>
<path d="M300.0 99.9h0.8v0.8h-0.8zM303.6 94.4h0.8v0.8h-0.8zM304.7 98.0h0.8v0.8h-0.8zM301.5 92.3h0.8v0.8h-0.8zM295.1 106.5h0.8v0.8h-0.8zM295.6 89.0h0.8v0.8h-0.8zM292.6 107.8h0.8v0.8h-0.8zM306.4 95.9h0.8v0.8h-0.8zM300.1 109.3h0.8v0.8h-0.8zM295.3 104.5h0.8v0.8h-0.8zM293.6 99.2h0.8v0.8h-0.8zM293.4 104.2h0.8v0.8h-0.8zM298.3 93.0h0.8v0.8h-0.8zM301.6 99.6h0.8v0.8h-0.8zM295.4 101.5h0.8v0.8h-0.8zM297.4 93.3h0.8v0.8h-0.8zM300.0 99.1h0.8v0.8h-0.8zM294.4 95.5h0.8v0.8h-0.8zM303.2 103.8h0.8v0.8h-0.8zM299.7 97.4h0.8v0.8h-0.8zM299.3 113.6h0.8v0.8h-0.8zM299.7 111.9h0.8v0.8h-0.8zM301.3 96.7h0.8v0.8h-0.8zM300.6 102.8h0.8v0.8h-0.8zM297.2 93.2h0.8v0.8h-0.8zM292.4 96.5h0.8v0.8h-0.8zM298.6 116.1h0.8v0.8h-0.8zM293.5 106.3h0.8v0.8h-0.8zM292.0 110.3h0.8v0.8h-0.8zM297.6 94.7h0.8v0.8h-0.8zM304.9 94.7h0.8v0.8h-0.8zM304.0 98.5h0.8v0.8h-0.8zM301.6 96.4h0.8v0.8h-0.8zM296.1 88.1h0.8v0.8h-0.8zM301.7 102.7h0.8v0.8h-0.8zM297.1 105.4h0.8v0.8h-0.8zM296.5 104.6h0.8v0.8h-0.8zM295.7 98.7h0.8v0.8h-0.8zM296.4 95.1h0.8v0.8h-0.8zM294.0 112.5h0.8v0.8h-0.8zM296.4 93.9h0.8v0.8h-0.8zM293.9 101.3h0.8v0.8h-0.8zM292.1 102.3h0.8v0.8h-0.8zM304.7 96.2h0.8v0.8h-0.8zM297.4 108.6h0.8v0.8h-0.8zM299.6 108.7h0.8v0.8h-0.8zM298.0 101.5h0.8v0.8h-0.8zM299.5 96.0h0.8v0.8h-0.8zM300.8 111.7h0.8v0.8h-0.8zM297.5 103.3h0.8v0.8h-0.8zM303.0 107.7h0.8v0.8h-0.8zM296.5 96.0h0.8v0.8h-0.8zM296.0 101.5h0.8v0.8h-0.8zM305.0 94.6h0.8v0.8h-0.8zM300.0 114.1h0.8v0.8h-0.8zM296.6 112.6h0.8v0.8h-0.8zM299.2 104.5h0.8v0.8h-0.8zM296.8 99.1h0.8v0.8h-0.8zM303.0 108.6h0.8v0.8h-0.8zM301.0 104.2h0.8v0.8h-0.8zM307.0 101.4h0.8v0.8h-0.8zM297.9 117.3h0.8v0.8h-0.8zM295.4 92.8h0.8v0.8h-0.8zM295.7 95.3h0.8v0.8h-0.8zM298.1 115.5h0.8v0.8h-0.8zM294.1 113.7h0.8v0.8h-0.8zM299.9 95.3h0.8v0.8h-0.8zM304.1 113.0h0.8v0.8h-0.8zM303.7 116.8h0.8v0.8h-0.8zM305.6 110.0h0.8v0.8h-0.8zM301.6 88.5h0.8v0.8h-0.8zM300.1 103.1h0.8v0.8h-0.8zM301.6 118.6h0.8v0.8h-0.8zM300.9 105.2h0.8v0.8h-0.8zM302.5 104.3h0.8v0.8h-0.8zM303.6 111.1h0.8v0.8h-0.8zM302.7 112.6h0.8v0.8h-0.8zM298.3 92.4h0.8v0.8h-0.8zM298.7 96.8h0.8v0.8h-0.8zM297.5 109.9h0.8v0.8h-0.8zM305.0 103.8h0.8v0.8h-0.8zM304.7 93.8h0.8v0.8h-0.8zM298.4 100.6h0.8v0.8h-0.8zM307.2 105.4h0.8v0.8h-0.8zM299.8 104.3h0.8v0.8h-0.8zM303.7 104.7h0.8v0.8h-0.8zM299.2 108.1h0.8v0.8h-0.8zM298.2 90.1h0.8v0.8h-0.8zM299.8 105.2h0.8v0.8h-0.8zM295.3 98.1h0.8v0.8h-0.8zM304.9 96.0h0.8v0.8h-0.8zM295.4 99.0h0.8v0.8h-0.8zM293.6 115.1h0.8v0.8h-0.8zM295.6 87.7h0.8v0.8h-0.8zM301.1 90.0h0.8v0.8h-0.8zM293.2 113.2h0.8v0.8h-0.8zM299.4 102.3h0.8v0.8h-0.8zM298.1 104.0h0.8v0.8h-0.8zM300.5 91.3h0.8v0.8h-0.8zM300.8 109.8h0.8v0.8h-0.8zM294.7 114.3h0.8v0.8h-0.8zM302.6 105.7h0.8v0.8h-0.8zM304.5 101.5h0.8v0.8h-0.8zM301.7 91.8h0.8v0.8h-0.8zM304.9 104.7h0.8v0.8h-0.8zM294.4 95.8h0.8v0.8h-0.8zM303.0 100.2h0.8v0.8h-0.8zM303.1 92.0h0.8v0.8h-0.8zM295.1 101.9h0.8v0.8h-0.8zM296.0 106.6h0.8v0.8h-0.8zM297.2 102.5h0.8v0.8h-0.8zM299.5 102.5h0.8v0.8h-0.8zM302.9 98.6h0.8v0.8h-0.8zM301.7 106.1h0.8v0.8h-0.8zM293.9 102.4h0.8v0.8h-0.8zM303.5 96.5h0.8v0.8h-0.8zM299.6 111.0h0.8v0.8h-0.8zM302.5 101.2h0.8v0.8h-0.8zM304.7 89.5h0.8v0.8h-0.8zM303.4 113.7h0.8v0.8h-0.8zM296.0 105.1h0.8v0.8h-0.8zM303.8 104.6h0.8v0.8h-0.8zM294.9 100.8h0.8v0.8h-0.8zM301.0 97.8h0.8v0.8h-0.8zM296.9 101.6h0.8v0.8h-0.8zM294.1 118.7h0.8v0.8h-0.8zM300.4 108.6h0.8v0.8h-0.8zM301.2 98.6h0.8v0.8h-0.8zM294.9 118.6h0.8v0.8h-0.8zM292.0 105.6h0.8v0.8h-0.8zM291.4 93.3h0.8v0.8h-0.8zM293.5 112.2h0.8v0.8h-0.8zM302.3 119.2h0.8v0.8h-0.8zM304.2 116.2h0.8v0.8h-0.8z" fill="#3a10f0" fill-opacity="0.42"/>
<path d="M300.7 96.2h0.8v0.8h-0.8zM302.1 91.5h0.8v0.8h-0.8zM304.4 107.8h0.8v0.8h-0.8zM296.4 113.7h0.8v0.8h-0.8zM297.5 87.3h0.8v0.8h-0.8zM295.6 93.4h0.8v0.8h-0.8zM303.6 87.3h0.8v0.8h-0.8zM298.3 97.7h0.8v0.8h-0.8zM293.1 99.7h0.8v0.8h-0.8zM302.1 100.9h0.8v0.8h-0.8zM294.9 100.4h0.8v0.8h-0.8zM296.9 103.9h0.8v0.8h-0.8zM306.2 99.2h0.8v0.8h-0.8zM295.1 89.9h0.8v0.8h-0.8zM303.3 90.9h0.8v0.8h-0.8zM297.1 99.4h0.8v0.8h-0.8zM298.5 107.2h0.8v0.8h-0.8zM295.0 108.6h0.8v0.8h-0.8zM302.1 95.9h0.8v0.8h-0.8zM299.0 109.1h0.8v0.8h-0.8zM299.4 101.2h0.8v0.8h-0.8zM301.7 86.3h0.8v0.8h-0.8zM294.3 94.5h0.8v0.8h-0.8zM303.1 97.7h0.8v0.8h-0.8zM302.9 112.2h0.8v0.8h-0.8zM297.4 102.4h0.8v0.8h-0.8zM305.0 97.3h0.8v0.8h-0.8zM299.8 106.8h0.8v0.8h-0.8zM297.2 90.3h0.8v0.8h-0.8zM304.0 109.5h0.8v0.8h-0.8zM297.8 119.4h0.8v0.8h-0.8zM306.9 97.3h0.8v0.8h-0.8zM303.6 101.8h0.8v0.8h-0.8zM299.4 108.5h0.8v0.8h-0.8zM293.5 103.7h0.8v0.8h-0.8zM297.3 114.2h0.8v0.8h-0.8zM300.7 97.5h0.8v0.8h-0.8zM302.5 101.7h0.8v0.8h-0.8zM296.3 100.1h0.8v0.8h-0.8zM294.5 100.7h0.8v0.8h-0.8zM304.7 94.9h0.8v0.8h-0.8zM300.3 108.0h0.8v0.8h-0.8zM297.6 109.8h0.8v0.8h-0.8zM300.8 109.2h0.8v0.8h-0.8zM307.8 98.7h0.8v0.8h-0.8zM299.9 110.9h0.8v0.8h-0.8zM299.7 113.4h0.8v0.8h-0.8zM300.3 101.8h0.8v0.8h-0.8zM301.1 111.7h0.8v0.8h-0.8zM303.9 98.1h0.8v0.8h-0.8zM300.9 114.2h0.8v0.8h-0.8zM292.0 109.7h0.8v0.8h-0.8zM302.4 106.6h0.8v0.8h-0.8zM297.0 107.8h0.8v0.8h-0.8zM305.5 95.2h0.8v0.8h-0.8zM299.1 101.9h0.8v0.8h-0.8zM298.8 112.1h0.8v0.8h-0.8zM297.2 85.8h0.8v0.8h-0.8zM299.1 117.4h0.8v0.8h-0.8zM294.6 112.5h0.8v0.8h-0.8zM303.9 105.8h0.8v0.8h-0.8zM299.8 108.1h0.8v0.8h-0.8zM302.6 109.0h0.8v0.8h-0.8zM301.6 101.6h0.8v0.8h-0.8zM297.6 101.0h0.8v0.8h-0.8zM298.8 92.1h0.8v0.8h-0.8zM294.5 111.2h0.8v0.8h-0.8zM301.8 103.9h0.8v0.8h-0.8zM295.5 100.4h0.8v0.8h-0.8zM293.5 98.2h0.8v0.8h-0.8zM303.3 97.3h0.8v0.8h-0.8zM296.2 110.9h0.8v0.8h-0.8zM298.0 94.5h0.8v0.8h-0.8zM299.5 89.9h0.8v0.8h-0.8zM303.7 101.6h0.8v0.8h-0.8zM300.8 99.9h0.8v0.8h-0.8zM303.1 106.9h0.8v0.8h-0.8zM296.5 119.1h0.8v0.8h-0.8zM301.5 99.6h0.8v0.8h-0.8zM295.3 100.2h0.8v0.8h-0.8zM299.1 116.5h0.8v0.8h-0.8zM302.3 103.0h0.8v0.8h-0.8zM301.1 110.3h0.8v0.8h-0.8zM296.8 104.5h0.8v0.8h-0.8zM299.8 103.2h0.8v0.8h-0.8zM301.5 105.0h0.8v0.8h-0.8zM300.2 98.0h0.8v0.8h-0.8zM307.2 110.6h0.8v0.8h-0.8zM295.6 106.5h0.8v0.8h-0.8zM299.1 109.6h0.8v0.8h-0.8zM295.6 100.8h0.8v0.8h-0.8zM295.5 98.5h0.8v0.8h-0.8zM304.8 90.7h0.8v0.8h-0.8zM305.2 108.2h0.8v0.8h-0.8zM307.0 97.5h0.8v0.8h-0.8zM304.1 105.5h0.8v0.8h-0.8zM293.1 97.9h0.8v0.8h-0.8zM302.1 112.0h0.8v0.8h-0.8zM297.8 96.8h0.8v0.8h-0.8zM302.2 106.3h0.8v0.8h-0.8zM298.2 88.2h0.8v0.8h-0.8zM297.9 99.9h0.8v0.8h-0.8zM295.2 107.7h0.8v0.8h-0.8zM303.8 97.7h0.8v0.8h-0.8zM298.7 109.1h0.8v0.8h-0.8zM306.7 112.2h0.8v0.8h-0.8zM303.3 109.8h0.8v0.8h-0.8zM295.3 104.1h0.8v0.8h-0.8zM297.7 117.7h0.8v0.8h-0.8zM294.3 96.6h0.8v0.8h-0.8zM300.6 114.2h0.8v0.8h-0.8zM298.4 99.3h0.8v0.8h-0.8zM298.2 90.7h0.8v0.8h-0.8zM296.2 94.9h0.8v0.8h-0.8zM300.9 93.0h0.8v0.8h-0.8zM302.4 114.3h0.8v0.8h-0.8zM303.1 112.7h0.8v0.8h-0.8zM300.9 88.4h0.8v0.8h-0.8zM294.9 102.4h0.8v0.8h-0.8zM293.8 92.8h0.8v0.8h-0.8zM298.1 103.6h0.8v0.8h-0.8zM299.5 91.0h0.8v0.8h-0.8zM296.1 108.0h0.8v0.8h-0.8zM297.7 114.5h0.8v0.8h-0.8zM293.0 95.1h0.8v0.8h-0.8zM301.0 90.4h0.8v0.8h-0.8zM302.1 95.2h0.8v0.8h-0.8zM297.0 112.4h0.8v0.8h-0.8zM297.0 82.8h0.8v0.8h-0.8zM306.5 94.7h0.8v0.8h-0.8zM296.4 83.1h0.8v0.8h-0.8zM309.5 101.0h0.8v0.8h-0.8zM298.5 116.7h0.8v0.8h-0.8zM304.1 97.4h0.8v0.8h-0.8z" fill="#3a10f0" fill-opacity="0.42"/>
<path d="M299.4 108.5h0.8v0.8h-0.8zM304.2 113.2h0.8v0.8h-0.8zM297.8 95.7h0.8v0.8h-0.8zM294.8 108.0h0.8v0.8h-0.8zM306.4 108.0h0.8v0.8h-0.8zM298.1 98.8h0.8v0.8h-0.8zM302.1 98.2h0.8v0.8h-0.8zM300.8 85.6h0.8v0.8h-0.8zM301.9 101.2h0.8v0.8h-0.8zM301.9 96.3h0.8v0.8h-0.8zM301.5 111.7h0.8v0.8h-0.8zM296.1 96.8h0.8v0.8h-0.8zM296.6 94.1h0.8v0.8h-0.8zM298.6 102.5h0.8v0.8h-0.8zM294.3 97.9h0.8v0.8h-0.8zM302.1 102.4h0.8v0.8h-0.8zM302.6 94.0h0.8v0.8h-0.8zM295.1 115.4h0.8v0.8h-0.8zM305.7 95.6h0.8v0.8h-0.8zM300.5 110.9h0.8v0.8h-0.8zM301.9 90.6h0.8v0.8h-0.8zM300.4 109.4h0.8v0.8h-0.8zM302.8 91.6h0.8v0.8h-0.8zM299.2 99.7h0.8v0.8h-0.8zM304.9 115.7h0.8v0.8h-0.8zM302.4 118.1h0.8v0.8h-0.8zM302.9 116.9h0.8v0.8h-0.8zM296.9 105.6h0.8v0.8h-0.8zM296.3 107.8h0.8v0.8h-0.8zM301.5 86.2h0.8v0.8h-0.8zM300.9 117.2h0.8v0.8h-0.8zM295.9 87.3h0.8v0.8h-0.8zM298.9 107.8h0.8v0.8h-0.8zM301.2 95.7h0.8v0.8h-0.8zM294.7 104.5h0.8v0.8h-0.8zM300.3 105.6h0.8v0.8h-0.8zM301.5 104.6h0.8v0.8h-0.8zM297.5 114.0h0.8v0.8h-0.8zM298.9 96.0h0.8v0.8h-0.8zM301.7 102.8h0.8v0.8h-0.8zM302.5 98.0h0.8v0.8h-0.8zM296.1 102.3h0.8v0.8h-0.8zM297.7 96.8h0.8v0.8h-0.8zM303.6 91.9h0.8v0.8h-0.8zM297.8 99.7h0.8v0.8h-0.8zM297.4 102.7h0.8v0.8h-0.8zM302.1 115.6h0.8v0.8h-0.8zM292.8 97.9h0.8v0.8h-0.8zM304.0 97.4h0.8v0.8h-0.8zM298.9 96.4h0.8v0.8h-0.8zM292.1 105.2h0.8v0.8h-0.8zM298.0 100.0h0.8v0.8h-0.8zM306.0 112.6h0.8v0.8h-0.8zM300.0 104.3h0.8v0.8h-0.8zM296.7 98.4h0.8v0.8h-0.8zM293.8 98.2h0.8v0.8h-0.8zM296.6 99.0h0.8v0.8h-0.8zM306.6 106.6h0.8v0.8h-0.8zM299.0 90.9h0.8v0.8h-0.8zM299.1 94.5h0.8v0.8h-0.8zM300.1 117.1h0.8v0.8h-0.8zM300.4 109.2h0.8v0.8h-0.8zM300.4 89.3h0.8v0.8h-0.8zM302.8 99.8h0.8v0.8h-0.8zM292.8 101.4h0.8v0.8h-0.8zM294.7 112.6h0.8v0.8h-0.8zM301.7 109.7h0.8v0.8h-0.8zM298.1 102.5h0.8v0.8h-0.8zM297.9 115.6h0.8v0.8h-0.8zM298.0 91.2h0.8v0.8h-0.8zM300.0 95.7h0.8v0.8h-0.8zM304.0 97.7h0.8v0.8h-0.8zM305.1 101.2h0.8v0.8h-0.8zM299.0 93.2h0.8v0.8h-0.8zM293.5 92.5h0.8v0.8h-0.8zM296.6 93.9h0.8v0.8h-0.8zM301.7 92.2h0.8v0.8h-0.8zM296.4 98.4h0.8v0.8h-0.8zM296.7 97.1h0.8v0.8h-0.8zM299.5 100.9h0.8v0.8h-0.8zM295.6 94.2h0.8v0.8h-0.8zM298.5 95.3h0.8v0.8h-0.8zM302.7 104.6h0.8v0.8h-0.8zM299.2 90.4h0.8v0.8h-0.8zM298.9 106.0h0.8v0.8h-0.8zM301.9 109.7h0.8v0.8h-0.8zM299.2 105.7h0.8v0.8h-0.8zM300.7 97.2h0.8v0.8h-0.8zM296.3 98.9h0.8v0.8h-0.8zM303.0 107.0h0.8v0.8h-0.8zM298.3 105.1h0.8v0.8h-0.8zM292.3 102.7h0.8v0.8h-0.8zM299.2 98.7h0.8v0.8h-0.8zM297.8 102.0h0.8v0.8h-0.8zM305.0 100.2h0.8v0.8h-0.8zM297.4 104.1h0.8v0.8h-0.8zM303.8 107.6h0.8v0.8h-0.8zM301.8 106.6h0.8v0.8h-0.8zM303.8 89.2h0.8v0.8h-0.8zM297.9 104.6h0.8v0.8h-0.8zM291.6 104.2h0.8v0.8h-0.8zM298.2 117.7h0.8v0.8h-0.8zM299.2 97.5h0.8v0.8h-0.8zM298.7 116.3h0.8v0.8h-0.8zM299.1 98.3h0.8v0.8h-0.8zM295.8 103.8h0.8v0.8h-0.8zM305.3 106.5h0.8v0.8h-0.8zM305.6 102.7h0.8v0.8h-0.8zM298.4 88.1h0.8v0.8h-0.8zM299.1 106.4h0.8v0.8h-0.8zM298.9 87.0h0.8v0.8h-0.8zM302.8 112.5h0.8v0.8h-0.8zM299.0 98.1h0.8v0.8h-0.8zM298.8 100.5h0.8v0.8h-0.8zM297.2 107.2h0.8v0.8h-0.8zM305.6 102.4h0.8v0.8h-0.8zM300.2 96.2h0.8v0.8h-0.8zM293.2 103.6h0.8v0.8h-0.8zM293.3 111.4h0.8v0.8h-0.8zM298.4 93.8h0.8v0.8h-0.8zM299.3 108.2h0.8v0.8h-0.8zM298.8 108.4h0.8v0.8h-0.8zM301.3 113.5h0.8v0.8h-0.8zM301.5 106.5h0.8v0.8h-0.8zM295.8 101.5h0.8v0.8h-0.8zM301.4 113.1h0.8v0.8h-0.8zM301.6 99.4h0.8v0.8h-0.8zM309.7 103.4h0.8v0.8h-0.8zM302.0 109.7h0.8v0.8h-0.8zM300.3 90.5h0.8v0.8h-0.8zM300.9 97.9h0.8v0.8h-0.8zM293.5 109.8h0.8v0.8h-0.8zM292.3 112.9h0.8v0.8h-0.8zM293.6 95.4h0.8v0.8h-0.8z" fill="#3a10f0" fill-opacity="0.42"/>
<path d="M295.1 100.7h0.8v0.8h-0.8zM292.9 97.6h0.8v0.8h-0.8zM298.9 113.0h0.8v0.8h-0.8zM304.6 111.5h0.8v0.8h-0.8zM301.9 89.8h0.8v0.8h-0.8zM304.6 97.9h0.8v0.8h-0.8zM304.2 97.0h0.8v0.8h-0.8zM303.6 95.9h0.8v0.8h-0.8zM297.4 104.1h0.8v0.8h-0.8zM303.7 97.1h0.8v0.8h-0.8zM305.4 108.7h0.8v0.8h-0.8zM301.8 115.0h0.8v0.8h-0.8zM303.7 101.9h0.8v0.8h-0.8zM293.8 114.3h0.8v0.8h-0.8zM302.9 108.1h0.8v0.8h-0.8zM295.2 109.1h0.8v0.8h-0.8zM300.0 107.6h0.8v0.8h-0.8zM299.8 101.0h0.8v0.8h-0.8zM303.3 107.8h0.8v0.8h-0.8zM296.5 94.4h0.8v0.8h-0.8zM301.5 108.9h0.8v0.8h-0.8zM299.7 115.6h0.8v0.8h-0.8zM300.7 108.4h0.8v0.8h-0.8zM299.2 109.3h0.8v0.8h-0.8zM301.6 103.1h0.8v0.8h-0.8zM303.2 92.1h0.8v0.8h-0.8zM302.5 94.3h0.8v0.8h-0.8zM295.9 112.8h0.8v0.8h-0.8zM303.5 114.5h0.8v0.8h-0.8zM298.8 104.5h0.8v0.8h-0.8zM301.3 112.7h0.8v0.8h-0.8zM302.9 93.7h0.8v0.8h-0.8zM305.1 101.7h0.8v0.8h-0.8zM303.7 101.2h0.8v0.8h-0.8zM296.6 101.0h0.8v0.8h-0.8zM301.5 106.6h0.8v0.8h-0.8zM299.4 109.6h0.8v0.8h-0.8zM300.0 85.4h0.8v0.8h-0.8zM304.4 99.0h0.8v0.8h-0.8zM300.7 100.5h0.8v0.8h-0.8zM293.5 103.5h0.8v0.8h-0.8zM295.6 105.9h0.8v0.8h-0.8zM299.2 101.3h0.8v0.8h-0.8zM298.0 101.8h0.8v0.8h-0.8zM293.3 99.3h0.8v0.8h-0.8zM297.8 108.3h0.8v0.8h-0.8zM306.1 91.4h0.8v0.8h-0.8zM299.2 108.5h0.8v0.8h-0.8zM300.8 99.4h0.8v0.8h-0.8zM301.0 101.6h0.8v0.8h-0.8zM305.6 93.3h0.8v0.8h-0.8zM297.5 112.1h0.8v0.8h-0.8zM301.0 108.8h0.8v0.8h-0.8zM293.8 102.6h0.8v0.8h-0.8zM305.7 106.4h0.8v0.8h-0.8zM300.2 104.8h0.8v0.8h-0.8zM301.1 102.7h0.8v0.8h-0.8zM302.3 105.5h0.8v0.8h-0.8zM302.4 113.3h0.8v0.8h-0.8zM297.3 101.1h0.8v0.8h-0.8zM295.8 97.9h0.8v0.8h-0.8zM300.4 92.7h0.8v0.8h-0.8zM298.7 105.2h0.8v0.8h-0.8zM302.1 112.8h0.8v0.8h-0.8zM293.3 106.2h0.8v0.8h-0.8zM302.5 109.9h0.8v0.8h-0.8zM303.5 115.3h0.8v0.8h-0.8zM295.8 106.1h0.8v0.8h-0.8zM302.4 102.8h0.8v0.8h-0.8zM298.0 103.5h0.8v0.8h-0.8zM301.8 102.8h0.8v0.8h-0.8zM295.8 104.1h0.8v0.8h-0.8zM302.2 111.5h0.8v0.8h-0.8zM305.3 99.8h0.8v0.8h-0.8zM298.5 114.0h0.8v0.8h-0.8zM298.8 90.6h0.8v0.8h-0.8zM304.7 97.5h0.8v0.8h-0.8zM301.9 104.4h0.8v0.8h-0.8zM299.4 110.3h0.8v0.8h-0.8zM305.5 100.9h0.8v0.8h-0.8zM296.5 116.0h0.8v0.8h-0.8zM296.6 92.3h0.8v0.8h-0.8zM301.8 95.5h0.8v0.8h-0.8zM302.8 105.2h0.8v0.8h-0.8zM302.8 100.2h0.8v0.8h-0.8zM305.7 93.9h0.8v0.8h-0.8zM296.3 108.8h0.8v0.8h-0.8zM295.7 115.4h0.8v0.8h-0.8zM300.7 102.3h0.8v0.8h-0.8zM298.5 89.4h0.8v0.8h-0.8zM305.3 101.7h0.8v0.8h-0.8zM306.9 101.7h0.8v0.8h-0.8zM304.3 95.3h0.8v0.8h-0.8zM305.0 101.1h0.8v0.8h-0.8zM298.2 117.2h0.8v0.8h-0.8zM300.1 97.5h0.8v0.8h-0.8zM299.8 101.0h0.8v0.8h-0.8zM297.1 118.0h0.8v0.8h-0.8zM293.1 114.1h0.8v0.8h-0.8zM303.8 96.9h0.8v0.8h-0.8zM305.7 99.1h0.8v0.8h-0.8zM296.1 113.2h0.8v0.8h-0.8zM301.9 95.6h0.8v0.8h-0.8zM303.8 90.2h0.8v0.8h-0.8zM297.6 110.9h0.8v0.8h-0.8zM300.1 105.4h0.8v0.8h-0.8zM304.8 108.0h0.8v0.8h-0.8zM299.5 98.4h0.8v0.8h-0.8zM299.5 96.0h0.8v0.8h-0.8zM299.7 96.4h0.8v0.8h-0.8zM302.1 110.9h0.8v0.8h-0.8zM293.9 113.6h0.8v0.8h-0.8zM303.3 108.6h0.8v0.8h-0.8zM306.3 100.3h0.8v0.8h-0.8zM296.3 105.8h0.8v0.8h-0.8zM301.1 94.0h0.8v0.8h-0.8zM300.8 106.6h0.8v0.8h-0.8zM298.7 90.5h0.8v0.8h-0.8zM296.9 107.3h0.8v0.8h-0.8zM299.8 107.2h0.8v0.8h-0.8zM303.4 95.0h0.8v0.8h-0.8zM300.2 112.0h0.8v0.8h-0.8zM302.0 92.3h0.8v0.8h-0.8zM296.1 117.8h0.8v0.8h-0.8zM294.5 110.8h0.8v0.8h-0.8zM293.9 107.2h0.8v0.8h-0.8zM304.4 96.4h0.8v0.8h-0.8zM292.9 110.6h0.8v0.8h-0.8zM303.5 117.2h0.8v0.8h-0.8zM295.3 87.7h0.8v0.8h-0.8zM298.5 92.9h0.8v0.8h-0.8zM301.9 91.1h0.8v0.8h-0.8zM302.7 83.4h0.8v0.8h-0.8zM289.2 105.1h0.8v0.8h-0.8z" fill="#3a10f0" fill-opacity="0.42"/>
<path d="M294.7 109.3h0.8v0.8h-0.8zM297.6 96.8h0.8v0.8h-0.8zM299.6 96.6h0.8v0.8h-0.8zM301.6 100.4h0.8v0.8h-0.8zM299.0 105.0h0.8v0.8h-0.8zM299.1 95.6h0.8v0.8h-0.8zM298.0 99.2h0.8v0.8h-0.8zM299.3 109.2h0.8v0.8h-0.8zM305.9 104.1h0.8v0.8h-0.8zM296.2 100.6h0.8v0.8h-0.8zM296.1 106.6h0.8v0.8h-0.8zM293.8 99.9h0.8v0.8h-0.8zM297.9 89.8h0.8v0.8h-0.8zM300.6 100.0h0.8v0.8h-0.8zM295.3 100.5h0.8v0.8h-0.8zM302.9 96.2h0.8v0.8h-0.8zM298.3 109.6h0.8v0.8h-0.8zM304.8 98.5h0.8v0.8h-0.8zM295.7 95.6h0.8v0.8h-0.8zM297.5 102.8h0.8v0.8h-0.8zM296.6 98.8h0.8v0.8h-0.8zM297.6 108.7h0.8v0.8h-0.8zM304.7 98.6h0.8v0.8h-0.8zM300.5 89.5h0.8v0.8h-0.8zM301.2 102.5h0.8v0.8h-0.8zM293.5 102.9h0.8v0.8h-0.8zM298.6 99.7h0.8v0.8h-0.8zM307.0 94.7h0.8v0.8h-0.8zM301.8 96.8h0.8v0.8h-0.8zM304.9 94.4h0.8v0.8h-0.8zM299.4 116.5h0.8v0.8h-0.8zM305.9 105.1h0.8v0.8h-0.8zM305.4 94.9h0.8v0.8h-0.8zM303.4 95.9h0.8v0.8h-0.8zM303.9 109.6h0.8v0.8h-0.8zM294.1 115.1h0.8v0.8h-0.8zM305.9 103.0h0.8v0.8h-0.8zM295.6 107.0h0.8v0.8h-0.8zM306.3 111.9h0.8v0.8h-0.8zM302.7 94.4h0.8v0.8h-0.8zM294.8 109.0h0.8v0.8h-0.8zM302.3 103.1h0.8v0.8h-0.8zM301.7 94.7h0.8v0.8h-0.8zM291.9 108.8h0.8v0.8h-0.8zM306.4 94.3h0.8v0.8h-0.8zM299.1 108.2h0.8v0.8h-0.8zM300.9 98.7h0.8v0.8h-0.8zM295.6 103.4h0.8v0.8h-0.8zM302.4 99.6h0.8v0.8h-0.8zM295.8 101.3h0.8v0.8h-0.8zM301.0 113.5h0.8v0.8h-0.8zM302.8 94.7h0.8v0.8h-0.8zM296.8 97.6h0.8v0.8h-0.8zM298.2 95.8h0.8v0.8h-0.8zM299.5 102.0h0.8v0.8h-0.8zM297.5 111.6h0.8v0.8h-0.8zM300.8 101.2h0.8v0.8h-0.8zM299.5 111.6h0.8v0.8h-0.8zM300.3 106.3h0.8v0.8h-0.8zM300.3 95.3h0.8v0.8h-0.8zM292.6 102.1h0.8v0.8h-0.8zM301.0 107.3h0.8v0.8h-0.8zM302.4 113.4h0.8v0.8h-0.8zM294.5 94.8h0.8v0.8h-0.8zM305.8 105.8h0.8v0.8h-0.8zM299.5 110.7h0.8v0.8h-0.8zM299.5 101.2h0.8v0.8h-0.8zM299.3 85.1h0.8v0.8h-0.8zM302.5 99.5h0.8v0.8h-0.8zM297.0 101.2h0.8v0.8h-0.8zM301.0 85.6h0.8v0.8h-0.8zM296.4 103.5h0.8v0.8h-0.8zM295.5 99.2h0.8v0.8h-0.8zM298.6 101.3h0.8v0.8h-0.8zM297.8 102.7h0.8v0.8h-0.8zM298.8 102.0h0.8v0.8h-0.8zM295.9 99.1h0.8v0.8h-0.8zM302.5 94.9h0.8v0.8h-0.8zM296.0 97.1h0.8v0.8h-0.8zM297.6 102.2h0.8v0.8h-0.8zM303.2 87.1h0.8v0.8h-0.8zM296.8 102.1h0.8v0.8h-0.8zM295.6 107.8h0.8v0.8h-0.8zM304.5 97.5h0.8v0.8h-0.8zM297.7 98.9h0.8v0.8h-0.8zM301.5 116.4h0.8v0.8h-0.8zM304.2 112.0h0.8v0.8h-0.8zM303.7 105.5h0.8v0.8h-0.8zM300.1 94.7h0.8v0.8h-0.8zM298.8 100.0h0.8v0.8h-0.8zM302.0 97.7h0.8v0.8h-0.8zM303.4 93.9h0.8v0.8h-0.8zM306.4 102.8h0.8v0.8h-0.8zM302.5 102.2h0.8v0.8h-0.8zM295.9 114.2h0.8v0.8h-0.8zM300.6 96.0h0.8v0.8h-0.8zM299.9 106.2h0.8v0.8h-0.8zM300.5 100.6h0.8v0.8h-0.8zM301.1 88.5h0.8v0.8h-0.8zM297.4 98.9h0.8v0.8h-0.8zM296.9 100.1h0.8v0.8h-0.8zM303.9 99.5h0.8v0.8h-0.8zM295.4 100.2h0.8v0.8h-0.8zM296.6 104.3h0.8v0.8h-0.8zM305.9 114.4h0.8v0.8h-0.8zM296.6 115.5h0.8v0.8h-0.8zM296.7 93.1h0.8v0.8h-0.8zM294.6 113.3h0.8v0.8h-0.8zM296.4 98.5h0.8v0.8h-0.8zM298.3 104.9h0.8v0.8h-0.8zM292.6 108.0h0.8v0.8h-0.8zM296.7 112.5h0.8v0.8h-0.8zM296.5 106.5h0.8v0.8h-0.8zM298.9 101.0h0.8v0.8h-0.8zM294.0 90.1h0.8v0.8h-0.8zM303.5 108.7h0.8v0.8h-0.8zM297.3 106.6h0.8v0.8h-0.8zM296.2 109.6h0.8v0.8h-0.8zM298.3 100.3h0.8v0.8h-0.8zM299.5 103.4h0.8v0.8h-0.8zM296.6 88.5h0.8v0.8h-0.8zM299.9 108.7h0.8v0.8h-0.8zM303.6 96.6h0.8v0.8h-0.8zM298.8 96.6h0.8v0.8h-0.8zM299.3 100.2h0.8v0.8h-0.8zM300.1 107.4h0.8v0.8h-0.8zM298.5 106.6h0.8v0.8h-0.8zM298.6 118.4h0.8v0.8h-0.8zM292.8 117.1h0.8v0.8h-0.8zM298.4 98.0h0.8v0.8h-0.8zM290.9 115.3h0.8v0.8h-0.8zM300.4 103.0h0.8v0.8h-0.8zM308.3 105.1h0.8v0.8h-0.8zM308.0 103.6h0.8v0.8h-0.8z" fill="#3a10f0" fill-opacity="0.42"/>
<path d="M302.2 111.1h0.8v0.8h-0.8zM295.1 112.0h0.8v0.8h-0.8zM298.6 107.4h0.8v0.8h-0.8zM293.6 103.9h0.8v0.8h-0.8zM296.4 117.3h0.8v0.8h-0.8zM296.4 101.4h0.8v0.8h-0.8zM302.5 102.6h0.8v0.8h-0.8zM300.7 101.0h0.8v0.8h-0.8zM295.5 107.6h0.8v0.8h-0.8zM298.9 94.1h0.8v0.8h-0.8zM296.9 106.5h0.8v0.8h-0.8zM300.8 100.3h0.8v0.8h-0.8zM295.3 104.8h0.8v0.8h-0.8zM300.6 96.4h0.8v0.8h-0.8zM300.0 87.6h0.8v0.8h-0.8zM298.1 100.8h0.8v0.8h-0.8zM299.0 99.5h0.8v0.8h-0.8zM298.0 108.8h0.8v0.8h-0.8zM298.5 105.6h0.8v0.8h-0.8zM298.6 102.3h0.8v0.8h-0.8zM302.7 96.8h0.8v0.8h-0.8zM294.3 102.4h0.8v0.8h-0.8zM296.3 89.7h0.8v0.8h-0.8zM299.3 101.6h0.8v0.8h-0.8zM297.3 117.0h0.8v0.8h-0.8zM298.6 96.9h0.8v0.8h-0.8zM300.2 103.1h0.8v0.8h-0.8zM297.6 104.9h0.8v0.8h-0.8zM302.3 102.6h0.8v0.8h-0.8zM301.2 101.3h0.8v0.8h-0.8zM297.7 100.4h0.8v0.8h-0.8zM303.4 92.3h0.8v0.8h-0.8zM301.4 93.8h0.8v0.8h-0.8zM302.0 114.4h0.8v0.8h-0.8zM297.2 114.5h0.8v0.8h-0.8zM300.5 98.8h0.8v0.8h-0.8zM296.5 108.5h0.8v0.8h-0.8zM301.8 105.3h0.8v0.8h-0.8zM294.7 110.9h0.8v0.8h-0.8zM302.0 92.0h0.8v0.8h-0.8zM303.0 114.4h0.8v0.8h-0.8zM304.4 109.2h0.8v0.8h-0.8zM304.4 91.3h0.8v0.8h-0.8zM301.2 107.1h0.8v0.8h-0.8zM298.8 113.2h0.8v0.8h-0.8zM296.2 104.3h0.8v0.8h-0.8zM292.8 93.0h0.8v0.8h-0.8zM303.3 88.4h0.8v0.8h-0.8zM298.9 117.7h0.8v0.8h-0.8zM293.9 105.7h0.8v0.8h-0.8zM304.8 101.5h0.8v0.8h-0.8zM298.5 89.8h0.8v0.8h-0.8zM302.2 105.7h0.8v0.8h-0.8zM297.4 100.3h0.8v0.8h-0.8zM302.6 98.9h0.8v0.8h-0.8zM305.7 96.0h0.8v0.8h-0.8zM296.5 108.8h0.8v0.8h-0.8zM299.8 102.4h0.8v0.8h-0.8zM303.8 116.4h0.8v0.8h-0.8zM296.1 106.8h0.8v0.8h-0.8zM303.9 101.0h0.8v0.8h-0.8zM301.4 101.2h0.8v0.8h-0.8zM301.7 111.5h0.8v0.8h-0.8zM301.5 113.0h0.8v0.8h-0.8zM300.5 99.6h0.8v0.8h-0.8zM305.1 108.7h0.8v0.8h-0.8zM292.5 100.7h0.8v0.8h-0.8zM297.7 100.0h0.8v0.8h-0.8zM298.8 102.3h0.8v0.8h-0.8zM299.1 96.4h0.8v0.8h-0.8zM302.4 87.9h0.8v0.8h-0.8zM302.8 108.0h0.8v0.8h-0.8zM297.2 106.8h0.8v0.8h-0.8zM301.6 102.9h0.8v0.8h-0.8zM304.4 97.5h0.8v0.8h-0.8zM294.2 93.9h0.8v0.8h-0.8zM296.3 105.7h0.8v0.8h-0.8zM295.2 113.4h0.8v0.8h-0.8zM302.4 106.5h0.8v0.8h-0.8zM294.6 99.4h0.8v0.8h-0.8zM306.1 102.4h0.8v0.8h-0.8zM301.8 89.0h0.8v0.8h-0.8zM298.5 93.8h0.8v0.8h-0.8zM299.4 101.3h0.8v0.8h-0.8zM300.7 99.2h0.8v0.8h-0.8zM305.2 93.7h0.8v0.8h-0.8zM304.5 114.0h0.8v0.8h-0.8zM295.1 98.2h0.8v0.8h-0.8zM302.7 93.3h0.8v0.8h-0.8zM299.2 98.2h0.8v0.8h-0.8zM297.7 105.4h0.8v0.8h-0.8zM299.4 116.5h0.8v0.8h-0.8zM296.4 101.9h0.8v0.8h-0.8zM299.8 109.7h0.8v0.8h-0.8zM298.1 94.8h0.8v0.8h-0.8zM296.8 91.4h0.8v0.8h-0.8zM298.9 115.3h0.8v0.8h-0.8zM298.2 91.8h0.8v0.8h-0.8zM300.1 94.8h0.8v0.8h-0.8zM293.7 91.7h0.8v0.8h-0.8zM296.0 97.6h0.8v0.8h-0.8zM300.6 103.7h0.8v0.8h-0.8zM298.8 103.0h0.8v0.8h-0.8zM298.6 109.8h0.8v0.8h-0.8zM292.8 112.4h0.8v0.8h-0.8zM298.0 109.9h0.8v0.8h-0.8zM304.6 107.9h0.8v0.8h-0.8zM300.7 106.2h0.8v0.8h-0.8zM307.9 101.4h0.8v0.8h-0.8zM302.0 105.6h0.8v0.8h-0.8zM300.4 97.6h0.8v0.8h-0.8zM298.4 108.9h0.8v0.8h-0.8zM305.2 100.6h0.8v0.8h-0.8zM292.8 98.1h0.8v0.8h-0.8zM295.1 96.9h0.8v0.8h-0.8zM297.2 97.0h0.8v0.8h-0.8zM296.0 104.9h0.8v0.8h-0.8zM297.7 107.7h0.8v0.8h-0.8zM299.6 84.9h0.8v0.8h-0.8zM301.3 109.5h0.8v0.8h-0.8zM291.5 102.2h0.8v0.8h-0.8zM301.5 97.4h0.8v0.8h-0.8zM296.4 103.0h0.8v0.8h-0.8zM299.5 108.5h0.8v0.8h-0.8zM303.5 100.1h0.8v0.8h-0.8zM294.2 121.6h0.8v0.8h-0.8zM292.9 104.7h0.8v0.8h-0.8zM305.0 96.1h0.8v0.8h-0.8zM303.6 107.5h0.8v0.8h-0.8zM295.2 98.3h0.8v0.8h-0.8zM296.3 83.3h0.8v0.8h-0.8zM297.7 96.9h0.8v0.8h-0.8zM292.2 113.0h0.8v0.8h-0.8z" fill="#3a10f0" fill-opacity="0.42"/>
<path d="M304.0 111.8h0.8v0.8h-0.8zM298.5 114.9h0.8v0.8h-0.8zM295.1 102.5h0.8v0.8h-0.8zM301.5 98.0h0.8v0.8h-0.8zM294.1 107.6h0.8v0.8h-0.8zM293.6 100.5h0.8v0.8h-0.8zM297.1 99.6h0.8v0.8h-0.8zM300.4 108.5h0.8v0.8h-0.8zM299.3 112.5h0.8v0.8h-0.8zM302.5 100.5h0.8v0.8h-0.8zM294.7 113.8h0.8v0.8h-0.8zM295.6 104.9h0.8v0.8h-0.8zM295.5 103.7h0.8v0.8h-0.8zM298.9 116.5h0.8v0.8h-0.8zM301.0 113.9h0.8v0.8h-0.8zM292.2 102.9h0.8v0.8h-0.8zM298.9 104.3h0.8v0.8h-0.8zM302.4 92.8h0.8v0.8h-0.8zM305.0 102.7h0.8v0.8h-0.8zM298.3 97.9h0.8v0.8h-0.8zM294.6 107.9h0.8v0.8h-0.8zM297.2 93.4h0.8v0.8h-0.8zM303.4 101.3h0.8v0.8h-0.8zM301.1 102.9h0.8v0.8h-0.8zM307.3 102.6h0.8v0.8h-0.8zM302.4 102.0h0.8v0.8h-0.8zM298.2 110.6h0.8v0.8h-0.8zM299.9 107.6h0.8v0.8h-0.8zM306.8 110.3h0.8v0.8h-0.8zM300.1 96.5h0.8v0.8h-0.8zM296.1 109.1h0.8v0.8h-0.8zM297.7 105.5h0.8v0.8h-0.8zM301.1 95.7h0.8v0.8h-0.8zM297.4 101.2h0.8v0.8h-0.8zM303.2 108.5h0.8v0.8h-0.8zM296.0 97.6h0.8v0.8h-0.8zM299.3 106.4h0.8v0.8h-0.8zM301.0 95.3h0.8v0.8h-0.8zM293.9 115.8h0.8v0.8h-0.8zM300.4 92.5h0.8v0.8h-0.8zM295.3 116.5h0.8v0.8h-0.8zM301.1 112.8h0.8v0.8h-0.8zM297.6 92.7h0.8v0.8h-0.8zM293.7 104.2h0.8v0.8h-0.8zM302.0 104.6h0.8v0.8h-0.8zM304.8 112.5h0.8v0.8h-0.8zM297.5 117.5h0.8v0.8h-0.8zM296.6 99.1h0.8v0.8h-0.8zM298.9 88.9h0.8v0.8h-0.8zM293.5 91.2h0.8v0.8h-0.8zM307.4 107.2h0.8v0.8h-0.8zM305.3 99.0h0.8v0.8h-0.8zM295.1 102.1h0.8v0.8h-0.8zM300.2 115.8h0.8v0.8h-0.8zM304.7 97.0h0.8v0.8h-0.8zM301.4 89.7h0.8v0.8h-0.8zM300.1 110.9h0.8v0.8h-0.8zM296.9 96.7h0.8v0.8h-0.8zM302.2 117.7h0.8v0.8h-0.8zM299.6 120.2h0.8v0.8h-0.8zM303.2 96.6h0.8v0.8h-0.8zM307.3 96.8h0.8v0.8h-0.8zM303.9 99.4h0.8v0.8h-0.8zM305.4 107.9h0.8v0.8h-0.8zM302.1 93.5h0.8v0.8h-0.8zM293.8 105.3h0.8v0.8h-0.8zM297.2 111.8h0.8v0.8h-0.8zM304.9 97.2h0.8v0.8h-0.8zM297.5 100.4h0.8v0.8h-0.8zM296.0 101.3h0.8v0.8h-0.8zM298.1 106.8h0.8v0.8h-0.8zM305.4 106.2h0.8v0.8h-0.8zM302.1 98.1h0.8v0.8h-0.8zM301.6 94.4h0.8v0.8h-0.8zM300.7 104.6h0.8v0.8h-0.8zM304.5 97.6h0.8v0.8h-0.8zM302.3 113.1h0.8v0.8h-0.8zM296.7 101.4h0.8v0.8h-0.8zM302.3 105.1h0.8v0.8h-0.8zM302.5 116.3h0.8v0.8h-0.8zM301.2 95.7h0.8v0.8h-0.8zM295.3 97.0h0.8v0.8h-0.8zM300.6 98.4h0.8v0.8h-0.8zM298.0 88.9h0.8v0.8h-0.8zM297.9 89.4h0.8v0.8h-0.8zM300.8 105.0h0.8v0.8h-0.8zM302.5 114.1h0.8v0.8h-0.8zM297.1 100.1h0.8v0.8h-0.8zM303.2 98.6h0.8v0.8h-0.8zM297.5 109.9h0.8v0.8h-0.8zM296.9 113.3h0.8v0.8h-0.8zM299.4 96.0h0.8v0.8h-0.8zM300.3 98.4h0.8v0.8h-0.8zM300.0 111.7h0.8v0.8h-0.8zM296.1 112.8h0.8v0.8h-0.8zM300.2 96.1h0.8v0.8h-0.8zM294.0 114.2h0.8v0.8h-0.8zM296.5 88.9h0.8v0.8h-0.8zM298.5 88.4h0.8v0.8h-0.8zM291.9 106.8h0.8v0.8h-0.8zM300.7 96.0h0.8v0.8h-0.8zM299.7 110.1h0.8v0.8h-0.8zM302.4 103.8h0.8v0.8h-0.8zM295.7 100.9h0.8v0.8h-0.8zM294.8 99.5h0.8v0.8h-0.8zM292.4 106.1h0.8v0.8h-0.8zM296.7 102.8h0.8v0.8h-0.8zM301.1 106.5h0.8v0.8h-0.8zM295.6 108.2h0.8v0.8h-0.8zM296.7 87.6h0.8v0.8h-0.8zM300.3 106.0h0.8v0.8h-0.8zM296.4 103.7h0.8v0.8h-0.8zM301.9 108.9h0.8v0.8h-0.8zM293.8 103.7h0.8v0.8h-0.8zM296.9 99.5h0.8v0.8h-0.8zM303.2 111.8h0.8v0.8h-0.8zM304.6 104.9h0.8v0.8h-0.8zM306.6 105.6h0.8v0.8h-0.8zM294.9 98.3h0.8v0.8h-0.8zM296.8 96.5h0.8v0.8h-0.8zM296.8 86.0h0.8v0.8h-0.8zM305.2 105.7h0.8v0.8h-0.8zM299.5 111.8h0.8v0.8h-0.8zM302.7 115.7h0.8v0.8h-0.8zM294.3 102.7h0.8v0.8h-0.8zM304.0 105.6h0.8v0.8h-0.8zM307.6 111.4h0.8v0.8h-0.8zM306.5 104.1h0.8v0.8h-0.8zM294.6 84.3h0.8v0.8h-0.8zM294.5 118.7h0.8v0.8h-0.8zM307.6 87.8h0.8v0.8h-0.8zM308.6 109.8h0.8v0.8h-0.8zM294.8 83.2h0.8v0.8h-0.8z" fill="#3a10f0" fill-opacity="0.42"/>
<ellipse cx="355.0" cy="101.0" rx="4.80" ry="13.33" fill="#3a12f2" opacity="0.4" filter="url(#bl3)" transform="rotate(0.0 355.0 101.0)"/>
<path d="M361.0 103.6h0.8v0.8h-0.8zM349.0 95.4h0.8v0.8h-0.8zM359.4 105.3h0.8v0.8h-0.8zM352.4 89.0h0.8v0.8h-0.8zM347.9 93.1h0.8v0.8h-0.8zM359.8 113.5h0.8v0.8h-0.8zM357.1 92.6h0.8v0.8h-0.8zM351.0 112.9h0.8v0.8h-0.8zM356.1 96.9h0.8v0.8h-0.8zM355.3 118.0h0.8v0.8h-0.8zM351.7 109.8h0.8v0.8h-0.8zM355.0 105.5h0.8v0.8h-0.8zM353.7 103.4h0.8v0.8h-0.8zM357.8 108.7h0.8v0.8h-0.8zM352.9 105.6h0.8v0.8h-0.8zM351.3 88.5h0.8v0.8h-0.8zM355.4 102.1h0.8v0.8h-0.8zM358.5 85.5h0.8v0.8h-0.8zM354.9 111.7h0.8v0.8h-0.8zM355.1 98.3h0.8v0.8h-0.8zM358.1 95.1h0.8v0.8h-0.8zM352.5 91.3h0.8v0.8h-0.8zM355.1 101.5h0.8v0.8h-0.8zM355.7 88.5h0.8v0.8h-0.8zM358.6 87.6h0.8v0.8h-0.8zM355.2 116.1h0.8v0.8h-0.8zM356.3 107.6h0.8v0.8h-0.8zM359.2 95.0h0.8v0.8h-0.8zM357.7 92.5h0.8v0.8h-0.8zM352.1 105.9h0.8v0.8h-0.8zM350.3 108.0h0.8v0.8h-0.8zM351.3 102.7h0.8v0.8h-0.8zM349.3 95.4h0.8v0.8h-0.8zM353.5 92.7h0.8v0.8h-0.8zM357.1 85.0h0.8v0.8h-0.8zM355.7 103.7h0.8v0.8h-0.8zM355.3 96.9h0.8v0.8h-0.8zM357.0 104.3h0.8v0.8h-0.8zM359.8 90.8h0.8v0.8h-0.8zM350.4 91.5h0.8v0.8h-0.8zM358.7 108.6h0.8v0.8h-0.8zM358.2 95.4h0.8v0.8h-0.8zM351.5 112.7h0.8v0.8h-0.8zM353.8 97.1h0.8v0.8h-0.8zM348.9 104.7h0.8v0.8h-0.8zM352.0 89.7h0.8v0.8h-0.8zM357.4 96.3h0.8v0.8h-0.8zM357.0 108.4h0.8v0.8h-0.8zM360.0 88.9h0.8v0.8h-0.8zM356.8 98.9h0.8v0.8h-0.8zM350.6 111.7h0.8v0.8h-0.8zM357.7 97.9h0.8v0.8h-0.8zM355.7 91.7h0.8v0.8h-0.8zM351.0 104.2h0.8v0.8h-0.8zM352.6 95.5h0.8v0.8h-0.8zM358.2 88.5h0.8v0.8h-0.8zM356.6 102.7h0.8v0.8h-0.8zM353.3 88.9h0.8v0.8h-0.8zM350.9 113.6h0.8v0.8h-0.8zM358.5 103.1h0.8v0.8h-0.8zM356.4 107.1h0.8v0.8h-0.8zM350.2 106.6h0.8v0.8h-0.8zM349.5 106.1h0.8v0.8h-0.8zM354.9 98.6h0.8v0.8h-0.8zM352.1 90.9h0.8v0.8h-0.8zM360.9 98.7h0.8v0.8h-0.8zM354.3 116.4h0.8v0.8h-0.8zM354.9 115.8h0.8v0.8h-0.8zM356.2 89.2h0.8v0.8h-0.8zM349.0 91.9h0.8v0.8h-0.8zM360.7 97.9h0.8v0.8h-0.8zM352.3 108.3h0.8v0.8h-0.8zM349.8 93.5h0.8v0.8h-0.8zM355.9 84.2h0.8v0.8h-0.8zM353.8 95.3h0.8v0.8h-0.8zM354.5 99.9h0.8v0.8h-0.8zM355.8 98.2h0.8v0.8h-0.8zM355.7 113.1h0.8v0.8h-0.8zM358.0 91.4h0.8v0.8h-0.8zM352.6 101.7h0.8v0.8h-0.8zM356.0 86.8h0.8v0.8h-0.8zM351.6 86.2h0.8v0.8h-0.8zM350.5 111.0h0.8v0.8h-0.8zM360.0 107.5h0.8v0.8h-0.8zM349.6 112.1h0.8v0.8h-0.8zM353.6 81.0h0.8v0.8h-0.8zM356.3 101.6h0.8v0.8h-0.8zM352.9 81.2h0.8v0.8h-0.8zM355.9 86.6h0.8v0.8h-0.8zM355.2 100.7h0.8v0.8h-0.8zM353.5 104.7h0.8v0.8h-0.8zM359.1 100.5h0.8v0.8h-0.8zM359.5 97.2h0.8v0.8h-0.8zM353.5 113.6h0.8v0.8h-0.8zM349.0 93.7h0.8v0.8h-0.8zM357.1 94.0h0.8v0.8h-0.8zM361.8 103.5h0.8v0.8h-0.8zM352.6 111.9h0.8v0.8h-0.8zM352.9 101.2h0.8v0.8h-0.8zM350.5 112.6h0.8v0.8h-0.8zM357.1 106.5h0.8v0.8h-0.8zM356.2 112.1h0.8v0.8h-0.8zM361.2 94.6h0.8v0.8h-0.8zM356.6 86.0h0.8v0.8h-0.8zM361.3 99.8h0.8v0.8h-0.8zM357.5 101.9h0.8v0.8h-0.8zM357.1 95.6h0.8v0.8h-0.8zM352.4 114.1h0.8v0.8h-0.8zM357.2 108.8h0.8v0.8h-0.8zM353.2 93.4h0.8v0.8h-0.8zM355.6 97.8h0.8v0.8h-0.8zM352.7 91.5h0.8v0.8h-0.8zM352.0 113.8h0.8v0.8h-0.8zM354.9 87.1h0.8v0.8h-0.8zM353.1 97.3h0.8v0.8h-0.8zM358.4 98.3h0.8v0.8h-0.8zM353.7 104.9h0.8v0.8h-0.8zM349.5 100.0h0.8v0.8h-0.8zM354.4 104.3h0.8v0.8h-0.8zM354.6 118.0h0.8v0.8h-0.8zM347.6 91.0h0.8v0.8h-0.8zM357.0 99.6h0.8v0.8h-0.8zM357.2 103.0h0.8v0.8h-0.8zM349.4 92.7h0.8v0.8h-0.8zM349.4 93.9h0.8v0.8h-0.8zM361.3 102.4h0.8v0.8h-0.8zM355.1 103.2h0.8v0.8h-0.8zM354.3 99.2h0.8v0.8h-0.8zM357.0 117.3h0.8v0.8h-0.8zM356.2 94.0h0.8v0.8h-0.8zM357.0 84.9h0.8v0.8h-0.8zM356.9 106.7h0.8v0.8h-0.8zM347.3 106.7h0.8v0.8h-0.8zM349.4 103.1h0.8v0.8h-0.8zM356.5 95.8h0.8v0.8h-0.8zM359.0 113.5h0.8v0.8h-0.8zM351.3 100.5h0.8v0.8h-0.8zM357.0 98.6h0.8v0.8h-0.8zM354.5 91.5h0.8v0.8h-0.8zM356.1 114.5h0.8v0.8h-0.8zM360.2 109.9h0.8v0.8h-0.8zM357.8 89.7h0.8v0.8h-0.8zM357.3 96.4h0.8v0.8h-0.8zM354.1 107.5h0.8v0.8h-0.8zM347.6 101.8h0.8v0.8h-0.8zM354.9 92.4h0.8v0.8h-0.8zM352.1 119.6h0.8v0.8h-0.8zM352.8 91.2h0.8v0.8h-0.8zM355.0 103.0h0.8v0.8h-0.8zM353.8 96.3h0.8v0.8h-0.8zM361.9 99.3h0.8v0.8h-0.8zM360.2 102.5h0.8v0.8h-0.8zM347.5 105.0h0.8v0.8h-0.8zM351.1 76.7h0.8v0.8h-0.8zM362.5 88.5h0.8v0.8h-0.8zM353.5 93.7h0.8v0.8h-0.8zM351.0 80.4h0.8v0.8h-0.8zM353.5 91.8h0.8v0.8h-0.8zM357.6 103.5h0.8v0.8h-0.8zM358.8 85.9h0.8v0.8h-0.8zM346.8 98.1h0.8v0.8h-0.8z" fill="#3a12f2" fill-opacity="0.48"/>
<path d="M356.3 116.3h0.8v0.8h-0.8zM353.5 93.1h0.8v0.8h-0.8zM354.2 102.7h0.8v0.8h-0.8zM348.5 98.5h0.8v0.8h-0.8zM359.4 100.7h0.8v0.8h-0.8zM353.5 108.1h0.8v0.8h-0.8zM351.7 97.4h0.8v0.8h-0.8zM354.0 118.7h0.8v0.8h-0.8zM353.5 107.0h0.8v0.8h-0.8zM357.5 98.6h0.8v0.8h-0.8zM353.6 91.4h0.8v0.8h-0.8zM350.5 94.7h0.8v0.8h-0.8zM355.4 96.3h0.8v0.8h-0.8zM357.5 99.1h0.8v0.8h-0.8zM353.3 107.0h0.8v0.8h-0.8zM352.7 99.7h0.8v0.8h-0.8zM356.3 97.4h0.8v0.8h-0.8zM349.5 101.2h0.8v0.8h-0.8zM356.2 97.4h0.8v0.8h-0.8zM353.6 97.4h0.8v0.8h-0.8zM357.7 96.1h0.8v0.8h-0.8zM351.8 104.4h0.8v0.8h-0.8zM355.2 112.4h0.8v0.8h-0.8zM356.0 93.9h0.8v0.8h-0.8zM355.8 107.8h0.8v0.8h-0.8zM355.7 97.3h0.8v0.8h-0.8zM357.3 95.8h0.8v0.8h-0.8zM353.5 109.5h0.8v0.8h-0.8zM350.9 92.0h0.8v0.8h-0.8zM351.6 84.0h0.8v0.8h-0.8zM357.4 104.2h0.8v0.8h-0.8zM354.6 101.7h0.8v0.8h-0.8zM353.8 93.5h0.8v0.8h-0.8zM362.2 97.3h0.8v0.8h-0.8zM355.7 96.8h0.8v0.8h-0.8zM355.7 89.1h0.8v0.8h-0.8zM355.6 112.9h0.8v0.8h-0.8zM357.1 92.3h0.8v0.8h-0.8zM355.5 90.5h0.8v0.8h-0.8zM350.7 88.2h0.8v0.8h-0.8zM352.5 98.4h0.8v0.8h-0.8zM352.6 97.6h0.8v0.8h-0.8zM354.7 91.6h0.8v0.8h-0.8zM354.9 85.3h0.8v0.8h-0.8zM353.7 98.6h0.8v0.8h-0.8zM348.8 89.9h0.8v0.8h-0.8zM352.1 104.7h0.8v0.8h-0.8zM353.1 100.0h0.8v0.8h-0.8zM353.3 97.9h0.8v0.8h-0.8zM350.2 84.0h0.8v0.8h-0.8zM358.1 100.5h0.8v0.8h-0.8zM354.4 93.6h0.8v0.8h-0.8zM355.5 105.1h0.8v0.8h-0.8zM355.5 83.1h0.8v0.8h-0.8zM353.1 87.3h0.8v0.8h-0.8zM358.3 99.5h0.8v0.8h-0.8zM356.7 104.1h0.8v0.8h-0.8zM354.3 107.0h0.8v0.8h-0.8zM357.6 101.8h0.8v0.8h-0.8zM353.1 95.8h0.8v0.8h-0.8zM350.3 111.5h0.8v0.8h-0.8zM356.7 91.3h0.8v0.8h-0.8zM353.9 104.2h0.8v0.8h-0.8zM347.5 106.8h0.8v0.8h-0.8zM353.8 95.8h0.8v0.8h-0.8zM350.5 89.9h0.8v0.8h-0.8zM358.1 92.6h0.8v0.8h-0.8zM349.9 89.5h0.8v0.8h-0.8zM357.4 97.2h0.8v0.8h-0.8zM355.9 104.3h0.8v0.8h-0.8zM355.1 98.3h0.8v0.8h-0.8zM362.4 97.6h0.8v0.8h-0.8zM356.5 101.1h0.8v0.8h-0.8zM352.2 114.7h0.8v0.8h-0.8zM357.1 105.1h0.8v0.8h-0.8zM354.5 103.4h0.8v0.8h-0.8zM352.6 99.9h0.8v0.8h-0.8zM361.4 107.5h0.8v0.8h-0.8zM358.4 100.8h0.8v0.8h-0.8zM351.8 100.9h0.8v0.8h-0.8zM352.0 107.5h0.8v0.8h-0.8zM356.4 108.1h0.8v0.8h-0.8zM355.9 104.1h0.8v0.8h-0.8zM360.1 92.2h0.8v0.8h-0.8zM359.0 110.4h0.8v0.8h-0.8zM352.2 97.2h0.8v0.8h-0.8zM354.4 103.3h0.8v0.8h-0.8zM354.4 111.9h0.8v0.8h-0.8zM357.0 92.3h0.8v0.8h-0.8zM353.0 91.9h0.8v0.8h-0.8zM354.5 100.9h0.8v0.8h-0.8zM360.4 103.8h0.8v0.8h-0.8zM351.1 97.7h0.8v0.8h-0.8zM354.5 91.5h0.8v0.8h-0.8zM357.9 106.7h0.8v0.8h-0.8zM358.1 111.4h0.8v0.8h-0.8zM348.5 97.7h0.8v0.8h-0.8zM357.3 83.8h0.8v0.8h-0.8zM350.0 107.7h0.8v0.8h-0.8zM351.4 113.5h0.8v0.8h-0.8zM350.0 106.2h0.8v0.8h-0.8zM355.0 92.0h0.8v0.8h-0.8zM355.8 101.9h0.8v0.8h-0.8zM350.8 109.5h0.8v0.8h-0.8zM351.5 96.7h0.8v0.8h-0.8zM355.5 91.4h0.8v0.8h-0.8zM359.9 104.6h0.8v0.8h-0.8zM360.3 95.6h0.8v0.8h-0.8zM356.2 102.7h0.8v0.8h-0.8zM353.3 88.3h0.8v0.8h-0.8zM354.3 105.9h0.8v0.8h-0.8zM349.5 101.9h0.8v0.8h-0.8zM347.4 95.9h0.8v0.8h-0.8zM357.2 113.5h0.8v0.8h-0.8zM358.5 104.9h0.8v0.8h-0.8zM356.4 98.6h0.8v0.8h-0.8zM353.0 90.5h0.8v0.8h-0.8zM356.7 107.6h0.8v0.8h-0.8zM357.8 94.8h0.8v0.8h-0.8zM352.7 100.5h0.8v0.8h-0.8zM358.1 94.7h0.8v0.8h-0.8zM357.8 90.8h0.8v0.8h-0.8zM351.6 85.7h0.8v0.8h-0.8zM349.5 103.2h0.8v0.8h-0.8zM359.3 101.0h0.8v0.8h-0.8zM353.2 107.1h0.8v0.8h-0.8zM357.9 104.2h0.8v0.8h-0.8zM350.0 99.3h0.8v0.8h-0.8zM358.4 100.4h0.8v0.8h-0.8zM357.6 95.7h0.8v0.8h-0.8zM355.1 107.4h0.8v0.8h-0.8zM348.2 93.0h0.8v0.8h-0.8zM349.2 89.2h0.8v0.8h-0.8zM353.7 104.5h0.8v0.8h-0.8zM358.8 100.1h0.8v0.8h-0.8zM357.2 106.2h0.8v0.8h-0.8zM349.1 114.8h0.8v0.8h-0.8zM355.8 102.1h0.8v0.8h-0.8zM351.6 82.4h0.8v0.8h-0.8zM358.6 97.6h0.8v0.8h-0.8zM354.5 107.0h0.8v0.8h-0.8zM358.9 92.6h0.8v0.8h-0.8zM356.7 112.5h0.8v0.8h-0.8zM348.5 97.3h0.8v0.8h-0.8zM354.7 105.2h0.8v0.8h-0.8zM360.5 109.1h0.8v0.8h-0.8zM350.0 104.2h0.8v0.8h-0.8zM355.2 94.9h0.8v0.8h-0.8zM359.5 97.8h0.8v0.8h-0.8zM356.5 89.5h0.8v0.8h-0.8zM355.5 121.7h0.8v0.8h-0.8zM349.9 110.5h0.8v0.8h-0.8zM353.3 107.5h0.8v0.8h-0.8zM352.4 124.6h0.8v0.8h-0.8zM362.2 106.3h0.8v0.8h-0.8zM352.1 117.4h0.8v0.8h-0.8zM361.3 108.8h0.8v0.8h-0.8zM363.1 112.2h0.8v0.8h-0.8zM362.4 112.8h0.8v0.8h-0.8zM345.0 94.6h0.8v0.8h-0.8zM353.5 103.7h0.8v0.8h-0.8z" fill="#3a12f2" fill-opacity="0.48"/>
<path d="M354.9 104.4h0.8v0.8h-0.8zM358.1 92.7h0.8v0.8h-0.8zM357.5 83.2h0.8v0.8h-0.8zM355.3 106.5h0.8v0.8h-0.8zM355.4 101.6h0.8v0.8h-0.8zM352.2 95.1h0.8v0.8h-0.8zM357.4 109.3h0.8v0.8h-0.8zM350.2 97.2h0.8v0.8h-0.8zM354.1 97.8h0.8v0.8h-0.8zM356.8 100.7h0.8v0.8h-0.8zM355.4 104.6h0.8v0.8h-0.8zM356.0 112.8h0.8v0.8h-0.8zM354.2 98.1h0.8v0.8h-0.8zM352.8 107.8h0.8v0.8h-0.8zM352.2 95.6h0.8v0.8h-0.8zM348.3 106.5h0.8v0.8h-0.8zM355.3 95.1h0.8v0.8h-0.8zM351.3 100.3h0.8v0.8h-0.8zM352.1 92.9h0.8v0.8h-0.8zM353.7 105.6h0.8v0.8h-0.8zM356.8 99.2h0.8v0.8h-0.8zM351.6 107.3h0.8v0.8h-0.8zM353.3 98.6h0.8v0.8h-0.8zM356.7 101.8h0.8v0.8h-0.8zM351.5 83.3h0.8v0.8h-0.8zM356.4 85.3h0.8v0.8h-0.8zM355.9 98.8h0.8v0.8h-0.8zM354.1 102.2h0.8v0.8h-0.8zM355.6 88.2h0.8v0.8h-0.8zM360.1 98.9h0.8v0.8h-0.8zM351.8 107.1h0.8v0.8h-0.8zM349.1 99.6h0.8v0.8h-0.8zM359.7 104.6h0.8v0.8h-0.8zM348.6 104.8h0.8v0.8h-0.8zM359.3 99.4h0.8v0.8h-0.8zM355.1 105.8h0.8v0.8h-0.8zM353.8 114.4h0.8v0.8h-0.8zM352.1 90.9h0.8v0.8h-0.8zM353.1 104.6h0.8v0.8h-0.8zM351.5 93.0h0.8v0.8h-0.8zM349.5 106.9h0.8v0.8h-0.8zM360.8 102.2h0.8v0.8h-0.8zM352.1 87.2h0.8v0.8h-0.8zM354.7 102.1h0.8v0.8h-0.8zM354.7 105.6h0.8v0.8h-0.8zM349.6 98.8h0.8v0.8h-0.8zM358.0 106.6h0.8v0.8h-0.8zM359.0 97.6h0.8v0.8h-0.8zM348.7 101.0h0.8v0.8h-0.8zM353.5 114.1h0.8v0.8h-0.8zM350.4 105.9h0.8v0.8h-0.8zM355.3 81.2h0.8v0.8h-0.8zM358.5 92.0h0.8v0.8h-0.8zM361.2 89.5h0.8v0.8h-0.8zM352.8 101.9h0.8v0.8h-0.8zM349.8 108.1h0.8v0.8h-0.8zM357.7 104.1h0.8v0.8h-0.8zM354.3 110.3h0.8v0.8h-0.8zM359.1 90.0h0.8v0.8h-0.8zM349.5 101.1h0.8v0.8h-0.8zM352.2 81.9h0.8v0.8h-0.8zM349.1 90.7h0.8v0.8h-0.8zM361.1 102.2h0.8v0.8h-0.8zM358.1 117.4h0.8v0.8h-0.8zM351.4 114.2h0.8v0.8h-0.8zM352.1 106.4h0.8v0.8h-0.8zM348.0 89.6h0.8v0.8h-0.8zM360.5 89.7h0.8v0.8h-0.8zM355.1 107.1h0.8v0.8h-0.8zM354.2 113.3h0.8v0.8h-0.8zM360.7 105.7h0.8v0.8h-0.8zM356.4 104.9h0.8v0.8h-0.8zM353.5 103.8h0.8v0.8h-0.8zM358.7 98.5h0.8v0.8h-0.8zM355.2 97.2h0.8v0.8h-0.8zM358.6 107.4h0.8v0.8h-0.8zM355.3 84.3h0.8v0.8h-0.8zM351.9 110.2h0.8v0.8h-0.8zM356.0 110.2h0.8v0.8h-0.8zM353.6 98.6h0.8v0.8h-0.8zM356.2 102.1h0.8v0.8h-0.8zM358.0 93.2h0.8v0.8h-0.8zM353.2 87.0h0.8v0.8h-0.8zM356.8 111.0h0.8v0.8h-0.8zM351.9 112.7h0.8v0.8h-0.8zM360.6 107.0h0.8v0.8h-0.8zM355.0 101.5h0.8v0.8h-0.8zM356.9 98.1h0.8v0.8h-0.8zM352.6 95.2h0.8v0.8h-0.8zM358.1 93.2h0.8v0.8h-0.8zM354.6 106.7h0.8v0.8h-0.8zM354.8 110.8h0.8v0.8h-0.8zM351.1 99.1h0.8v0.8h-0.8zM353.9 108.8h0.8v0.8h-0.8zM353.9 113.1h0.8v0.8h-0.8zM358.1 88.1h0.8v0.8h-0.8zM355.5 112.6h0.8v0.8h-0.8zM355.8 102.0h0.8v0.8h-0.8zM356.3 102.3h0.8v0.8h-0.8zM352.7 110.4h0.8v0.8h-0.8zM352.1 112.8h0.8v0.8h-0.8zM355.4 93.0h0.8v0.8h-0.8zM355.7 106.3h0.8v0.8h-0.8zM353.8 88.2h0.8v0.8h-0.8zM353.7 92.9h0.8v0.8h-0.8zM352.2 103.8h0.8v0.8h-0.8zM358.0 93.9h0.8v0.8h-0.8zM355.0 109.0h0.8v0.8h-0.8zM350.7 97.0h0.8v0.8h-0.8zM355.7 111.6h0.8v0.8h-0.8zM349.8 84.9h0.8v0.8h-0.8zM352.4 91.0h0.8v0.8h-0.8zM355.3 104.6h0.8v0.8h-0.8zM354.7 104.8h0.8v0.8h-0.8zM356.0 99.4h0.8v0.8h-0.8zM361.6 101.8h0.8v0.8h-0.8zM353.4 96.0h0.8v0.8h-0.8zM352.7 96.0h0.8v0.8h-0.8zM350.4 107.3h0.8v0.8h-0.8zM352.7 96.6h0.8v0.8h-0.8zM352.3 96.7h0.8v0.8h-0.8zM356.6 107.0h0.8v0.8h-0.8zM351.3 87.9h0.8v0.8h-0.8zM351.8 106.3h0.8v0.8h-0.8zM355.4 107.6h0.8v0.8h-0.8zM355.7 92.9h0.8v0.8h-0.8zM352.4 111.6h0.8v0.8h-0.8zM348.7 94.6h0.8v0.8h-0.8zM350.6 97.6h0.8v0.8h-0.8zM355.0 114.4h0.8v0.8h-0.8zM352.0 85.2h0.8v0.8h-0.8zM351.9 95.2h0.8v0.8h-0.8zM354.5 90.3h0.8v0.8h-0.8zM351.0 108.5h0.8v0.8h-0.8zM361.4 104.1h0.8v0.8h-0.8zM355.8 100.5h0.8v0.8h-0.8zM356.4 101.4h0.8v0.8h-0.8zM354.4 91.3h0.8v0.8h-0.8zM355.2 120.6h0.8v0.8h-0.8zM348.2 99.8h0.8v0.8h-0.8zM359.9 91.9h0.8v0.8h-0.8zM353.1 119.0h0.8v0.8h-0.8zM354.6 89.8h0.8v0.8h-0.8zM352.1 94.9h0.8v0.8h-0.8zM350.5 91.9h0.8v0.8h-0.8zM351.9 91.1h0.8v0.8h-0.8zM357.4 101.4h0.8v0.8h-0.8zM354.1 103.5h0.8v0.8h-0.8zM352.0 115.8h0.8v0.8h-0.8zM354.1 108.3h0.8v0.8h-0.8zM354.1 108.5h0.8v0.8h-0.8zM350.9 101.0h0.8v0.8h-0.8zM357.1 76.9h0.8v0.8h-0.8zM359.5 83.1h0.8v0.8h-0.8zM349.9 109.9h0.8v0.8h-0.8zM351.8 103.9h0.8v0.8h-0.8zM360.4 99.8h0.8v0.8h-0.8zM360.1 90.0h0.8v0.8h-0.8zM355.5 124.9h0.8v0.8h-0.8zM353.1 95.7h0.8v0.8h-0.8zM350.6 91.8h0.8v0.8h-0.8z" fill="#3a12f2" fill-opacity="0.48"/>
<path d="M357.4 99.3h0.8v0.8h-0.8zM356.8 108.1h0.8v0.8h-0.8zM350.7 100.7h0.8v0.8h-0.8zM351.4 93.3h0.8v0.8h-0.8zM354.3 98.8h0.8v0.8h-0.8zM355.5 99.2h0.8v0.8h-0.8zM352.9 108.6h0.8v0.8h-0.8zM352.1 118.5h0.8v0.8h-0.8zM357.0 81.2h0.8v0.8h-0.8zM353.4 104.3h0.8v0.8h-0.8zM360.7 103.1h0.8v0.8h-0.8zM353.6 89.0h0.8v0.8h-0.8zM357.4 115.8h0.8v0.8h-0.8zM356.5 97.2h0.8v0.8h-0.8zM358.1 94.0h0.8v0.8h-0.8zM357.3 94.8h0.8v0.8h-0.8zM356.7 94.2h0.8v0.8h-0.8zM357.3 96.9h0.8v0.8h-0.8zM350.1 95.6h0.8v0.8h-0.8zM353.0 105.4h0.8v0.8h-0.8zM357.8 119.3h0.8v0.8h-0.8zM354.0 82.9h0.8v0.8h-0.8zM351.4 94.9h0.8v0.8h-0.8zM354.7 117.5h0.8v0.8h-0.8zM354.8 97.5h0.8v0.8h-0.8zM358.3 101.4h0.8v0.8h-0.8zM350.0 86.3h0.8v0.8h-0.8zM355.1 91.1h0.8v0.8h-0.8zM357.9 97.8h0.8v0.8h-0.8zM358.4 102.6h0.8v0.8h-0.8zM352.6 113.0h0.8v0.8h-0.8zM347.5 98.8h0.8v0.8h-0.8zM358.7 97.8h0.8v0.8h-0.8zM356.5 104.8h0.8v0.8h-0.8zM356.5 92.1h0.8v0.8h-0.8zM360.2 102.2h0.8v0.8h-0.8zM355.8 98.9h0.8v0.8h-0.8zM353.3 98.6h0.8v0.8h-0.8zM349.8 105.8h0.8v0.8h-0.8zM352.3 85.2h0.8v0.8h-0.8zM353.8 118.9h0.8v0.8h-0.8zM355.7 85.9h0.8v0.8h-0.8zM349.1 111.5h0.8v0.8h-0.8zM349.5 104.7h0.8v0.8h-0.8zM354.0 90.9h0.8v0.8h-0.8zM355.0 99.4h0.8v0.8h-0.8zM354.4 109.5h0.8v0.8h-0.8zM358.9 100.1h0.8v0.8h-0.8zM355.6 95.6h0.8v0.8h-0.8zM355.7 102.1h0.8v0.8h-0.8zM357.1 117.4h0.8v0.8h-0.8zM353.6 110.2h0.8v0.8h-0.8zM358.0 119.1h0.8v0.8h-0.8zM349.6 101.1h0.8v0.8h-0.8zM355.2 104.4h0.8v0.8h-0.8zM349.8 105.4h0.8v0.8h-0.8zM355.8 91.4h0.8v0.8h-0.8zM352.6 108.9h0.8v0.8h-0.8zM351.7 97.0h0.8v0.8h-0.8zM354.4 116.5h0.8v0.8h-0.8zM355.0 104.5h0.8v0.8h-0.8zM359.0 97.4h0.8v0.8h-0.8zM356.3 88.7h0.8v0.8h-0.8zM352.4 88.0h0.8v0.8h-0.8zM358.3 89.8h0.8v0.8h-0.8zM356.0 101.7h0.8v0.8h-0.8zM355.3 92.8h0.8v0.8h-0.8zM352.8 106.0h0.8v0.8h-0.8zM353.8 90.6h0.8v0.8h-0.8zM353.9 109.9h0.8v0.8h-0.8zM353.8 103.4h0.8v0.8h-0.8zM358.0 96.7h0.8v0.8h-0.8zM349.4 92.6h0.8v0.8h-0.8zM348.6 93.8h0.8v0.8h-0.8zM354.5 82.0h0.8v0.8h-0.8zM350.3 108.9h0.8v0.8h-0.8zM356.2 88.8h0.8v0.8h-0.8zM361.8 94.7h0.8v0.8h-0.8zM357.6 88.1h0.8v0.8h-0.8zM353.0 103.6h0.8v0.8h-0.8zM350.4 94.2h0.8v0.8h-0.8zM351.8 103.1h0.8v0.8h-0.8zM350.2 101.6h0.8v0.8h-0.8zM348.0 109.5h0.8v0.8h-0.8zM356.5 109.5h0.8v0.8h-0.8zM350.9 90.1h0.8v0.8h-0.8zM360.5 110.4h0.8v0.8h-0.8zM362.2 105.9h0.8v0.8h-0.8zM351.9 116.7h0.8v0.8h-0.8zM352.7 84.6h0.8v0.8h-0.8zM349.5 94.9h0.8v0.8h-0.8zM350.1 113.8h0.8v0.8h-0.8zM347.8 95.7h0.8v0.8h-0.8zM352.3 98.2h0.8v0.8h-0.8zM351.3 87.9h0.8v0.8h-0.8zM356.2 103.9h0.8v0.8h-0.8zM357.0 97.7h0.8v0.8h-0.8zM353.8 105.9h0.8v0.8h-0.8zM351.3 98.0h0.8v0.8h-0.8zM352.5 98.4h0.8v0.8h-0.8zM351.7 92.5h0.8v0.8h-0.8zM348.0 94.5h0.8v0.8h-0.8zM355.0 108.4h0.8v0.8h-0.8zM348.0 101.7h0.8v0.8h-0.8zM356.7 111.7h0.8v0.8h-0.8zM356.5 99.3h0.8v0.8h-0.8zM353.2 112.3h0.8v0.8h-0.8zM356.4 102.7h0.8v0.8h-0.8zM351.3 103.3h0.8v0.8h-0.8zM348.9 104.2h0.8v0.8h-0.8zM352.5 94.0h0.8v0.8h-0.8zM353.4 103.3h0.8v0.8h-0.8zM349.8 94.7h0.8v0.8h-0.8zM360.3 105.1h0.8v0.8h-0.8zM351.2 109.4h0.8v0.8h-0.8zM355.4 105.8h0.8v0.8h-0.8zM356.8 95.8h0.8v0.8h-0.8zM354.3 111.9h0.8v0.8h-0.8zM353.3 110.4h0.8v0.8h-0.8zM353.6 94.3h0.8v0.8h-0.8zM355.1 106.1h0.8v0.8h-0.8zM357.2 106.8h0.8v0.8h-0.8zM353.2 97.2h0.8v0.8h-0.8zM354.2 97.4h0.8v0.8h-0.8zM351.2 111.1h0.8v0.8h-0.8zM351.4 93.0h0.8v0.8h-0.8zM359.8 113.6h0.8v0.8h-0.8zM361.3 99.9h0.8v0.8h-0.8zM352.0 115.4h0.8v0.8h-0.8zM351.1 101.3h0.8v0.8h-0.8zM349.7 103.7h0.8v0.8h-0.8zM350.5 107.2h0.8v0.8h-0.8zM355.5 96.7h0.8v0.8h-0.8zM349.5 109.3h0.8v0.8h-0.8zM354.9 106.0h0.8v0.8h-0.8zM361.2 99.7h0.8v0.8h-0.8zM359.0 97.6h0.8v0.8h-0.8zM356.2 114.7h0.8v0.8h-0.8zM353.7 100.3h0.8v0.8h-0.8zM355.3 111.5h0.8v0.8h-0.8zM357.5 106.5h0.8v0.8h-0.8zM354.6 94.9h0.8v0.8h-0.8zM357.3 103.6h0.8v0.8h-0.8zM359.2 102.2h0.8v0.8h-0.8zM357.8 94.0h0.8v0.8h-0.8zM354.1 108.2h0.8v0.8h-0.8zM358.2 85.4h0.8v0.8h-0.8zM353.3 107.0h0.8v0.8h-0.8zM357.2 99.7h0.8v0.8h-0.8zM350.7 114.7h0.8v0.8h-0.8zM355.2 108.9h0.8v0.8h-0.8zM353.5 88.4h0.8v0.8h-0.8zM351.3 91.7h0.8v0.8h-0.8zM347.2 102.6h0.8v0.8h-0.8zM357.7 95.0h0.8v0.8h-0.8zM352.2 105.3h0.8v0.8h-0.8zM349.1 84.2h0.8v0.8h-0.8zM358.9 93.6h0.8v0.8h-0.8zM345.2 108.0h0.8v0.8h-0.8zM353.9 110.0h0.8v0.8h-0.8zM360.4 114.4h0.8v0.8h-0.8z" fill="#3a12f2" fill-opacity="0.48"/>
<path d="M350.3 86.1h0.8v0.8h-0.8zM347.9 96.3h0.8v0.8h-0.8zM359.2 111.1h0.8v0.8h-0.8zM359.4 104.5h0.8v0.8h-0.8zM353.9 112.3h0.8v0.8h-0.8zM357.8 82.4h0.8v0.8h-0.8zM360.2 109.5h0.8v0.8h-0.8zM359.3 95.6h0.8v0.8h-0.8zM359.3 104.9h0.8v0.8h-0.8zM356.6 96.3h0.8v0.8h-0.8zM352.9 95.7h0.8v0.8h-0.8zM355.0 111.8h0.8v0.8h-0.8zM359.7 97.5h0.8v0.8h-0.8zM361.6 107.2h0.8v0.8h-0.8zM356.9 105.6h0.8v0.8h-0.8zM357.7 85.5h0.8v0.8h-0.8zM352.2 111.9h0.8v0.8h-0.8zM359.8 103.3h0.8v0.8h-0.8zM355.6 95.1h0.8v0.8h-0.8zM357.4 107.3h0.8v0.8h-0.8zM355.5 95.8h0.8v0.8h-0.8zM352.3 86.1h0.8v0.8h-0.8zM358.6 104.1h0.8v0.8h-0.8zM355.7 109.5h0.8v0.8h-0.8zM355.4 103.6h0.8v0.8h-0.8zM361.1 107.5h0.8v0.8h-0.8zM357.9 114.8h0.8v0.8h-0.8zM360.4 99.7h0.8v0.8h-0.8zM358.1 97.3h0.8v0.8h-0.8zM348.2 104.7h0.8v0.8h-0.8zM352.4 95.7h0.8v0.8h-0.8zM351.3 94.9h0.8v0.8h-0.8zM357.9 99.2h0.8v0.8h-0.8zM355.7 102.1h0.8v0.8h-0.8zM351.1 108.0h0.8v0.8h-0.8zM351.0 94.5h0.8v0.8h-0.8zM356.5 119.9h0.8v0.8h-0.8zM353.2 105.8h0.8v0.8h-0.8zM354.1 98.3h0.8v0.8h-0.8zM356.8 88.6h0.8v0.8h-0.8zM352.0 115.1h0.8v0.8h-0.8zM355.2 103.1h0.8v0.8h-0.8zM357.8 90.9h0.8v0.8h-0.8zM347.2 101.2h0.8v0.8h-0.8zM354.0 101.5h0.8v0.8h-0.8zM355.8 92.2h0.8v0.8h-0.8zM357.1 96.0h0.8v0.8h-0.8zM354.4 105.6h0.8v0.8h-0.8zM350.7 101.7h0.8v0.8h-0.8zM347.0 94.5h0.8v0.8h-0.8zM352.3 115.7h0.8v0.8h-0.8zM357.7 84.8h0.8v0.8h-0.8zM357.5 107.1h0.8v0.8h-0.8zM355.6 87.5h0.8v0.8h-0.8zM353.1 99.9h0.8v0.8h-0.8zM354.4 97.8h0.8v0.8h-0.8zM347.9 100.9h0.8v0.8h-0.8zM360.8 90.6h0.8v0.8h-0.8zM349.8 98.1h0.8v0.8h-0.8zM355.4 107.7h0.8v0.8h-0.8zM351.9 84.1h0.8v0.8h-0.8zM356.8 103.5h0.8v0.8h-0.8zM357.7 108.8h0.8v0.8h-0.8zM357.0 90.3h0.8v0.8h-0.8zM356.7 100.6h0.8v0.8h-0.8zM358.6 116.6h0.8v0.8h-0.8zM351.3 107.6h0.8v0.8h-0.8zM354.9 109.3h0.8v0.8h-0.8zM358.1 86.1h0.8v0.8h-0.8zM358.8 104.0h0.8v0.8h-0.8zM358.9 104.3h0.8v0.8h-0.8zM354.6 119.9h0.8v0.8h-0.8zM361.3 94.5h0.8v0.8h-0.8zM359.3 85.1h0.8v0.8h-0.8zM347.2 94.2h0.8v0.8h-0.8zM350.8 104.4h0.8v0.8h-0.8zM355.2 108.8h0.8v0.8h-0.8zM352.0 99.4h0.8v0.8h-0.8zM350.4 103.4h0.8v0.8h-0.8zM355.7 101.8h0.8v0.8h-0.8zM355.3 103.6h0.8v0.8h-0.8zM352.9 97.7h0.8v0.8h-0.8zM354.2 89.0h0.8v0.8h-0.8zM356.1 109.4h0.8v0.8h-0.8zM354.4 96.5h0.8v0.8h-0.8zM352.9 102.8h0.8v0.8h-0.8zM358.0 94.6h0.8v0.8h-0.8zM356.1 97.8h0.8v0.8h-0.8zM360.1 97.9h0.8v0.8h-0.8zM350.5 95.7h0.8v0.8h-0.8zM356.0 100.7h0.8v0.8h-0.8zM357.9 102.2h0.8v0.8h-0.8zM354.8 104.0h0.8v0.8h-0.8zM357.7 89.0h0.8v0.8h-0.8zM355.8 100.5h0.8v0.8h-0.8zM357.8 85.5h0.8v0.8h-0.8zM349.8 100.7h0.8v0.8h-0.8zM355.4 93.4h0.8v0.8h-0.8zM352.4 103.4h0.8v0.8h-0.8zM355.0 101.4h0.8v0.8h-0.8zM352.1 102.9h0.8v0.8h-0.8zM354.8 96.7h0.8v0.8h-0.8zM351.4 105.4h0.8v0.8h-0.8zM354.2 118.1h0.8v0.8h-0.8zM349.7 95.6h0.8v0.8h-0.8zM356.4 97.7h0.8v0.8h-0.8zM354.3 100.3h0.8v0.8h-0.8zM358.1 118.6h0.8v0.8h-0.8zM354.0 99.9h0.8v0.8h-0.8zM356.6 106.4h0.8v0.8h-0.8zM355.2 97.4h0.8v0.8h-0.8zM351.2 96.0h0.8v0.8h-0.8zM348.6 107.3h0.8v0.8h-0.8zM359.2 113.7h0.8v0.8h-0.8zM353.0 106.5h0.8v0.8h-0.8zM358.4 107.0h0.8v0.8h-0.8zM353.1 118.1h0.8v0.8h-0.8zM348.1 108.3h0.8v0.8h-0.8zM359.8 98.5h0.8v0.8h-0.8zM353.1 103.3h0.8v0.8h-0.8zM353.6 116.5h0.8v0.8h-0.8zM351.2 103.2h0.8v0.8h-0.8zM352.4 105.9h0.8v0.8h-0.8zM361.2 111.7h0.8v0.8h-0.8zM355.4 91.4h0.8v0.8h-0.8zM352.7 88.4h0.8v0.8h-0.8zM351.8 105.6h0.8v0.8h-0.8zM353.1 115.8h0.8v0.8h-0.8zM356.0 108.5h0.8v0.8h-0.8zM360.7 112.8h0.8v0.8h-0.8zM354.8 110.6h0.8v0.8h-0.8zM352.6 99.6h0.8v0.8h-0.8zM351.4 106.2h0.8v0.8h-0.8zM356.7 82.8h0.8v0.8h-0.8zM351.7 94.3h0.8v0.8h-0.8zM355.3 94.8h0.8v0.8h-0.8zM354.5 111.4h0.8v0.8h-0.8zM361.1 93.5h0.8v0.8h-0.8zM350.7 97.2h0.8v0.8h-0.8zM353.8 108.1h0.8v0.8h-0.8zM354.4 119.1h0.8v0.8h-0.8zM355.8 119.9h0.8v0.8h-0.8zM354.8 95.9h0.8v0.8h-0.8zM355.1 101.9h0.8v0.8h-0.8zM356.6 94.5h0.8v0.8h-0.8zM349.4 112.3h0.8v0.8h-0.8zM354.6 110.9h0.8v0.8h-0.8zM356.0 113.0h0.8v0.8h-0.8zM352.2 116.9h0.8v0.8h-0.8zM354.1 100.6h0.8v0.8h-0.8zM345.6 103.1h0.8v0.8h-0.8zM361.8 105.5h0.8v0.8h-0.8zM359.0 82.0h0.8v0.8h-0.8zM357.5 122.6h0.8v0.8h-0.8zM361.4 113.9h0.8v0.8h-0.8zM351.8 88.5h0.8v0.8h-0.8zM362.8 102.8h0.8v0.8h-0.8zM359.7 119.5h0.8v0.8h-0.8zM358.1 109.6h0.8v0.8h-0.8zM351.1 98.9h0.8v0.8h-0.8z" fill="#3a12f2" fill-opacity="0.48"/>
<path d="M353.8 111.5h0.8v0.8h-0.8zM359.4 108.7h0.8v0.8h-0.8zM351.5 100.7h0.8v0.8h-0.8zM357.9 94.8h0.8v0.8h-0.8zM348.5 105.7h0.8v0.8h-0.8zM358.9 94.7h0.8v0.8h-0.8zM351.7 92.2h0.8v0.8h-0.8zM355.1 89.5h0.8v0.8h-0.8zM351.7 98.8h0.8v0.8h-0.8zM351.3 88.8h0.8v0.8h-0.8zM351.5 105.4h0.8v0.8h-0.8zM354.0 109.6h0.8v0.8h-0.8zM356.7 93.5h0.8v0.8h-0.8zM354.6 96.6h0.8v0.8h-0.8zM354.6 84.5h0.8v0.8h-0.8zM352.5 99.0h0.8v0.8h-0.8zM351.7 100.6h0.8v0.8h-0.8zM352.6 93.9h0.8v0.8h-0.8zM360.7 104.2h0.8v0.8h-0.8zM357.8 108.4h0.8v0.8h-0.8zM353.0 106.6h0.8v0.8h-0.8zM354.3 98.3h0.8v0.8h-0.8zM347.1 96.7h0.8v0.8h-0.8zM355.9 116.6h0.8v0.8h-0.8zM357.8 115.9h0.8v0.8h-0.8zM356.1 102.7h0.8v0.8h-0.8zM360.1 92.7h0.8v0.8h-0.8zM353.5 96.7h0.8v0.8h-0.8zM357.8 91.0h0.8v0.8h-0.8zM358.8 113.4h0.8v0.8h-0.8zM353.5 90.8h0.8v0.8h-0.8zM353.4 108.9h0.8v0.8h-0.8zM354.1 103.6h0.8v0.8h-0.8zM352.0 103.4h0.8v0.8h-0.8zM354.4 84.8h0.8v0.8h-0.8zM351.9 118.6h0.8v0.8h-0.8zM353.7 114.1h0.8v0.8h-0.8zM351.0 98.3h0.8v0.8h-0.8zM356.6 92.7h0.8v0.8h-0.8zM351.2 97.2h0.8v0.8h-0.8zM351.1 84.3h0.8v0.8h-0.8zM360.7 92.1h0.8v0.8h-0.8zM352.8 115.8h0.8v0.8h-0.8zM356.6 96.2h0.8v0.8h-0.8zM358.9 88.4h0.8v0.8h-0.8zM356.7 99.2h0.8v0.8h-0.8zM355.2 110.5h0.8v0.8h-0.8zM357.7 117.2h0.8v0.8h-0.8zM356.7 86.8h0.8v0.8h-0.8zM355.9 108.4h0.8v0.8h-0.8zM353.2 105.5h0.8v0.8h-0.8zM350.3 96.5h0.8v0.8h-0.8zM356.5 108.6h0.8v0.8h-0.8zM351.8 113.8h0.8v0.8h-0.8zM359.0 99.0h0.8v0.8h-0.8zM350.5 93.9h0.8v0.8h-0.8zM358.2 91.3h0.8v0.8h-0.8zM351.2 106.7h0.8v0.8h-0.8zM353.9 108.9h0.8v0.8h-0.8zM352.0 98.1h0.8v0.8h-0.8zM350.1 98.9h0.8v0.8h-0.8zM353.7 108.6h0.8v0.8h-0.8zM350.5 106.8h0.8v0.8h-0.8zM354.5 96.4h0.8v0.8h-0.8zM357.5 93.9h0.8v0.8h-0.8zM350.7 110.4h0.8v0.8h-0.8zM353.5 96.8h0.8v0.8h-0.8zM352.7 84.3h0.8v0.8h-0.8zM360.0 94.6h0.8v0.8h-0.8zM353.9 107.9h0.8v0.8h-0.8zM357.2 112.5h0.8v0.8h-0.8zM357.3 94.7h0.8v0.8h-0.8zM356.3 100.3h0.8v0.8h-0.8zM349.5 95.0h0.8v0.8h-0.8zM355.2 117.9h0.8v0.8h-0.8zM355.0 117.1h0.8v0.8h-0.8zM356.7 92.5h0.8v0.8h-0.8zM353.1 81.1h0.8v0.8h-0.8zM357.0 97.3h0.8v0.8h-0.8zM352.4 102.4h0.8v0.8h-0.8zM354.6 92.7h0.8v0.8h-0.8zM353.5 85.2h0.8v0.8h-0.8zM350.3 92.3h0.8v0.8h-0.8zM355.2 111.6h0.8v0.8h-0.8zM352.0 94.8h0.8v0.8h-0.8zM351.7 104.8h0.8v0.8h-0.8zM352.8 110.7h0.8v0.8h-0.8zM356.3 84.7h0.8v0.8h-0.8zM355.0 116.6h0.8v0.8h-0.8zM352.8 86.1h0.8v0.8h-0.8zM350.6 97.8h0.8v0.8h-0.8zM353.6 98.8h0.8v0.8h-0.8zM353.1 111.9h0.8v0.8h-0.8zM352.8 109.3h0.8v0.8h-0.8zM356.9 100.3h0.8v0.8h-0.8zM352.3 99.6h0.8v0.8h-0.8zM354.1 113.2h0.8v0.8h-0.8zM352.7 107.4h0.8v0.8h-0.8zM353.5 104.0h0.8v0.8h-0.8zM354.0 107.0h0.8v0.8h-0.8zM353.2 117.5h0.8v0.8h-0.8zM353.6 115.5h0.8v0.8h-0.8zM350.7 110.9h0.8v0.8h-0.8zM349.8 106.5h0.8v0.8h-0.8zM353.0 86.8h0.8v0.8h-0.8zM350.1 103.1h0.8v0.8h-0.8zM359.9 111.1h0.8v0.8h-0.8zM354.9 89.7h0.8v0.8h-0.8zM356.4 97.5h0.8v0.8h-0.8zM356.8 104.3h0.8v0.8h-0.8zM359.3 94.5h0.8v0.8h-0.8zM347.7 108.7h0.8v0.8h-0.8zM353.3 83.7h0.8v0.8h-0.8zM358.8 101.8h0.8v0.8h-0.8zM360.4 108.0h0.8v0.8h-0.8zM354.5 101.1h0.8v0.8h-0.8zM356.2 92.0h0.8v0.8h-0.8zM355.7 113.4h0.8v0.8h-0.8zM354.0 93.9h0.8v0.8h-0.8zM355.0 90.9h0.8v0.8h-0.8zM352.6 96.4h0.8v0.8h-0.8zM351.6 89.8h0.8v0.8h-0.8zM358.4 113.3h0.8v0.8h-0.8zM349.7 113.8h0.8v0.8h-0.8zM352.4 98.2h0.8v0.8h-0.8zM357.6 86.7h0.8v0.8h-0.8zM351.1 98.9h0.8v0.8h-0.8zM355.8 106.6h0.8v0.8h-0.8zM351.1 107.5h0.8v0.8h-0.8zM352.0 94.5h0.8v0.8h-0.8zM359.6 104.9h0.8v0.8h-0.8zM354.9 100.5h0.8v0.8h-0.8zM355.0 104.9h0.8v0.8h-0.8zM356.1 81.5h0.8v0.8h-0.8zM361.0 98.8h0.8v0.8h-0.8zM352.3 100.3h0.8v0.8h-0.8zM356.7 111.2h0.8v0.8h-0.8zM358.2 91.0h0.8v0.8h-0.8zM351.8 86.4h0.8v0.8h-0.8zM351.5 91.7h0.8v0.8h-0.8zM352.3 91.8h0.8v0.8h-0.8zM355.1 93.7h0.8v0.8h-0.8zM351.1 84.5h0.8v0.8h-0.8zM353.9 99.0h0.8v0.8h-0.8zM350.2 86.8h0.8v0.8h-0.8zM353.3 109.2h0.8v0.8h-0.8zM354.9 90.4h0.8v0.8h-0.8zM351.1 101.9h0.8v0.8h-0.8zM353.8 93.4h0.8v0.8h-0.8zM353.1 106.9h0.8v0.8h-0.8zM355.3 114.8h0.8v0.8h-0.8zM350.5 79.7h0.8v0.8h-0.8zM349.4 80.9h0.8v0.8h-0.8zM347.2 97.8h0.8v0.8h-0.8zM356.5 109.6h0.8v0.8h-0.8zM361.7 114.8h0.8v0.8h-0.8zM355.1 106.2h0.8v0.8h-0.8zM351.6 76.9h0.8v0.8h-0.8zM360.2 100.5h0.8v0.8h-0.8zM359.3 92.3h0.8v0.8h-0.8z" fill="#3a12f2" fill-opacity="0.48"/>
<path d="M358.4 116.5h0.8v0.8h-0.8zM355.0 89.6h0.8v0.8h-0.8zM351.7 96.6h0.8v0.8h-0.8zM351.8 89.1h0.8v0.8h-0.8zM350.0 87.7h0.8v0.8h-0.8zM360.2 111.6h0.8v0.8h-0.8zM355.6 108.5h0.8v0.8h-0.8zM348.8 104.4h0.8v0.8h-0.8zM359.3 106.0h0.8v0.8h-0.8zM355.6 102.0h0.8v0.8h-0.8zM357.7 98.4h0.8v0.8h-0.8zM354.4 88.6h0.8v0.8h-0.8zM350.4 101.4h0.8v0.8h-0.8zM350.9 88.3h0.8v0.8h-0.8zM349.6 90.0h0.8v0.8h-0.8zM354.9 111.8h0.8v0.8h-0.8zM356.7 97.5h0.8v0.8h-0.8zM353.9 105.0h0.8v0.8h-0.8zM352.9 100.3h0.8v0.8h-0.8zM354.6 100.5h0.8v0.8h-0.8zM352.7 110.1h0.8v0.8h-0.8zM357.4 92.5h0.8v0.8h-0.8zM358.3 101.9h0.8v0.8h-0.8zM353.2 112.1h0.8v0.8h-0.8zM356.3 85.9h0.8v0.8h-0.8zM350.2 100.1h0.8v0.8h-0.8zM351.9 105.7h0.8v0.8h-0.8zM355.0 92.0h0.8v0.8h-0.8zM350.6 106.7h0.8v0.8h-0.8zM360.9 104.7h0.8v0.8h-0.8zM351.3 98.1h0.8v0.8h-0.8zM359.3 101.0h0.8v0.8h-0.8zM356.1 106.3h0.8v0.8h-0.8zM359.4 92.3h0.8v0.8h-0.8zM350.6 101.6h0.8v0.8h-0.8zM354.8 100.1h0.8v0.8h-0.8zM356.8 102.2h0.8v0.8h-0.8zM357.9 117.0h0.8v0.8h-0.8zM348.2 100.9h0.8v0.8h-0.8zM354.7 101.2h0.8v0.8h-0.8zM351.3 103.8h0.8v0.8h-0.8zM351.9 91.6h0.8v0.8h-0.8zM351.8 102.5h0.8v0.8h-0.8zM349.0 98.7h0.8v0.8h-0.8zM353.9 91.8h0.8v0.8h-0.8zM356.1 106.1h0.8v0.8h-0.8zM352.1 94.2h0.8v0.8h-0.8zM353.2 116.5h0.8v0.8h-0.8zM354.1 105.8h0.8v0.8h-0.8zM351.7 94.2h0.8v0.8h-0.8zM354.1 101.3h0.8v0.8h-0.8zM361.6 96.4h0.8v0.8h-0.8zM353.1 111.2h0.8v0.8h-0.8zM355.5 110.7h0.8v0.8h-0.8zM350.4 111.2h0.8v0.8h-0.8zM355.6 90.8h0.8v0.8h-0.8zM348.4 95.0h0.8v0.8h-0.8zM354.4 113.2h0.8v0.8h-0.8zM354.2 96.5h0.8v0.8h-0.8zM355.0 89.3h0.8v0.8h-0.8zM358.3 98.6h0.8v0.8h-0.8zM351.2 99.8h0.8v0.8h-0.8zM355.7 98.3h0.8v0.8h-0.8zM355.3 96.0h0.8v0.8h-0.8zM362.2 95.8h0.8v0.8h-0.8zM352.4 104.5h0.8v0.8h-0.8zM355.4 114.8h0.8v0.8h-0.8zM357.0 112.9h0.8v0.8h-0.8zM352.6 104.5h0.8v0.8h-0.8zM356.3 106.7h0.8v0.8h-0.8zM355.3 108.0h0.8v0.8h-0.8zM357.7 101.4h0.8v0.8h-0.8zM357.9 104.0h0.8v0.8h-0.8zM349.5 101.9h0.8v0.8h-0.8zM356.2 91.1h0.8v0.8h-0.8zM354.3 99.8h0.8v0.8h-0.8zM352.2 109.8h0.8v0.8h-0.8zM352.3 105.1h0.8v0.8h-0.8zM352.8 93.9h0.8v0.8h-0.8zM352.0 101.9h0.8v0.8h-0.8zM353.8 96.0h0.8v0.8h-0.8zM359.4 86.9h0.8v0.8h-0.8zM354.4 104.8h0.8v0.8h-0.8zM353.0 95.6h0.8v0.8h-0.8zM358.0 93.2h0.8v0.8h-0.8zM349.4 103.7h0.8v0.8h-0.8zM350.7 110.3h0.8v0.8h-0.8zM355.4 118.8h0.8v0.8h-0.8zM353.5 96.4h0.8v0.8h-0.8zM352.3 99.2h0.8v0.8h-0.8zM352.0 100.7h0.8v0.8h-0.8zM356.0 92.2h0.8v0.8h-0.8zM348.2 98.3h0.8v0.8h-0.8zM361.2 99.6h0.8v0.8h-0.8zM359.1 107.0h0.8v0.8h-0.8zM359.7 94.7h0.8v0.8h-0.8zM358.0 86.9h0.8v0.8h-0.8zM361.8 106.3h0.8v0.8h-0.8zM358.1 112.7h0.8v0.8h-0.8zM359.1 108.9h0.8v0.8h-0.8zM353.5 97.5h0.8v0.8h-0.8zM358.2 115.2h0.8v0.8h-0.8zM358.3 98.6h0.8v0.8h-0.8zM350.0 90.5h0.8v0.8h-0.8zM349.5 96.6h0.8v0.8h-0.8zM352.8 83.9h0.8v0.8h-0.8zM355.3 118.2h0.8v0.8h-0.8zM354.0 99.8h0.8v0.8h-0.8zM358.4 110.1h0.8v0.8h-0.8zM352.8 108.6h0.8v0.8h-0.8zM351.9 92.5h0.8v0.8h-0.8zM353.9 86.4h0.8v0.8h-0.8zM357.6 111.3h0.8v0.8h-0.8zM357.5 103.4h0.8v0.8h-0.8zM349.2 98.4h0.8v0.8h-0.8zM356.4 106.1h0.8v0.8h-0.8zM359.0 97.2h0.8v0.8h-0.8zM350.5 111.4h0.8v0.8h-0.8zM347.2 100.6h0.8v0.8h-0.8zM356.5 93.1h0.8v0.8h-0.8zM354.0 102.3h0.8v0.8h-0.8zM349.1 98.7h0.8v0.8h-0.8zM351.0 108.3h0.8v0.8h-0.8zM357.4 113.2h0.8v0.8h-0.8zM356.8 114.2h0.8v0.8h-0.8zM357.1 104.4h0.8v0.8h-0.8zM357.4 86.7h0.8v0.8h-0.8zM352.4 111.2h0.8v0.8h-0.8zM349.6 102.9h0.8v0.8h-0.8zM356.7 94.2h0.8v0.8h-0.8zM354.3 95.0h0.8v0.8h-0.8zM351.4 108.4h0.8v0.8h-0.8zM353.5 109.9h0.8v0.8h-0.8zM356.8 84.8h0.8v0.8h-0.8zM350.2 105.7h0.8v0.8h-0.8zM358.3 104.1h0.8v0.8h-0.8zM353.6 118.2h0.8v0.8h-0.8zM354.6 91.0h0.8v0.8h-0.8zM351.6 96.7h0.8v0.8h-0.8zM353.8 103.6h0.8v0.8h-0.8zM354.8 95.3h0.8v0.8h-0.8zM355.6 89.0h0.8v0.8h-0.8zM358.5 99.2h0.8v0.8h-0.8zM352.3 95.8h0.8v0.8h-0.8zM352.5 96.5h0.8v0.8h-0.8zM354.3 105.8h0.8v0.8h-0.8zM355.4 103.0h0.8v0.8h-0.8zM355.8 104.0h0.8v0.8h-0.8zM359.7 87.0h0.8v0.8h-0.8zM353.1 103.5h0.8v0.8h-0.8zM354.3 91.6h0.8v0.8h-0.8zM359.6 122.2h0.8v0.8h-0.8zM352.1 92.9h0.8v0.8h-0.8zM349.0 106.4h0.8v0.8h-0.8zM361.0 104.4h0.8v0.8h-0.8zM361.8 99.8h0.8v0.8h-0.8zM358.3 89.1h0.8v0.8h-0.8zM358.6 116.6h0.8v0.8h-0.8zM347.4 107.7h0.8v0.8h-0.8zM356.6 95.4h0.8v0.8h-0.8z" fill="#3a12f2" fill-opacity="0.48"/>
<path d="M358.0 94.1h0.8v0.8h-0.8zM351.8 101.3h0.8v0.8h-0.8zM355.1 96.9h0.8v0.8h-0.8zM358.3 89.2h0.8v0.8h-0.8zM355.5 110.5h0.8v0.8h-0.8zM350.1 99.9h0.8v0.8h-0.8zM356.2 96.7h0.8v0.8h-0.8zM353.8 101.9h0.8v0.8h-0.8zM347.8 90.6h0.8v0.8h-0.8zM355.3 117.3h0.8v0.8h-0.8zM354.1 114.1h0.8v0.8h-0.8zM351.1 98.1h0.8v0.8h-0.8zM356.9 100.0h0.8v0.8h-0.8zM356.8 96.3h0.8v0.8h-0.8zM349.7 109.0h0.8v0.8h-0.8zM353.3 90.8h0.8v0.8h-0.8zM358.0 95.0h0.8v0.8h-0.8zM355.4 89.6h0.8v0.8h-0.8zM358.4 91.8h0.8v0.8h-0.8zM352.5 104.6h0.8v0.8h-0.8zM355.7 109.4h0.8v0.8h-0.8zM348.4 95.3h0.8v0.8h-0.8zM356.7 109.1h0.8v0.8h-0.8zM361.5 97.1h0.8v0.8h-0.8zM357.2 104.5h0.8v0.8h-0.8zM355.8 110.4h0.8v0.8h-0.8zM361.2 101.9h0.8v0.8h-0.8zM358.0 97.7h0.8v0.8h-0.8zM352.6 111.2h0.8v0.8h-0.8zM354.3 101.6h0.8v0.8h-0.8zM356.1 103.6h0.8v0.8h-0.8zM350.6 115.2h0.8v0.8h-0.8zM353.8 86.1h0.8v0.8h-0.8zM356.3 110.4h0.8v0.8h-0.8zM356.6 97.0h0.8v0.8h-0.8zM356.0 116.1h0.8v0.8h-0.8zM354.8 108.6h0.8v0.8h-0.8zM354.8 112.3h0.8v0.8h-0.8zM351.9 98.7h0.8v0.8h-0.8zM355.5 99.4h0.8v0.8h-0.8zM358.4 92.0h0.8v0.8h-0.8zM352.1 106.9h0.8v0.8h-0.8zM356.4 98.4h0.8v0.8h-0.8zM357.9 99.8h0.8v0.8h-0.8zM355.5 94.9h0.8v0.8h-0.8zM353.1 112.1h0.8v0.8h-0.8zM351.3 114.3h0.8v0.8h-0.8zM351.7 92.1h0.8v0.8h-0.8zM359.4 97.6h0.8v0.8h-0.8zM356.2 108.9h0.8v0.8h-0.8zM360.1 93.9h0.8v0.8h-0.8zM354.5 98.1h0.8v0.8h-0.8zM355.4 103.9h0.8v0.8h-0.8zM354.5 110.5h0.8v0.8h-0.8zM351.3 90.0h0.8v0.8h-0.8zM356.9 102.7h0.8v0.8h-0.8zM355.9 108.8h0.8v0.8h-0.8zM354.1 84.6h0.8v0.8h-0.8zM356.4 111.2h0.8v0.8h-0.8zM357.8 109.3h0.8v0.8h-0.8zM358.6 98.8h0.8v0.8h-0.8zM354.8 89.1h0.8v0.8h-0.8zM352.0 97.1h0.8v0.8h-0.8zM357.2 91.4h0.8v0.8h-0.8zM359.7 99.4h0.8v0.8h-0.8zM355.4 95.2h0.8v0.8h-0.8zM355.8 107.3h0.8v0.8h-0.8zM352.9 82.2h0.8v0.8h-0.8zM356.2 105.6h0.8v0.8h-0.8zM351.3 105.2h0.8v0.8h-0.8zM360.3 106.2h0.8v0.8h-0.8zM355.0 110.4h0.8v0.8h-0.8zM356.2 112.1h0.8v0.8h-0.8zM350.5 105.4h0.8v0.8h-0.8zM352.8 88.5h0.8v0.8h-0.8zM353.6 109.1h0.8v0.8h-0.8zM354.4 102.0h0.8v0.8h-0.8zM352.7 102.6h0.8v0.8h-0.8zM349.8 88.2h0.8v0.8h-0.8zM351.4 107.3h0.8v0.8h-0.8zM350.3 90.1h0.8v0.8h-0.8zM348.7 108.4h0.8v0.8h-0.8zM358.0 97.0h0.8v0.8h-0.8zM357.3 107.5h0.8v0.8h-0.8zM352.3 103.8h0.8v0.8h-0.8zM354.5 103.0h0.8v0.8h-0.8zM359.2 95.4h0.8v0.8h-0.8zM359.0 95.7h0.8v0.8h-0.8zM351.5 115.4h0.8v0.8h-0.8zM353.5 87.7h0.8v0.8h-0.8zM349.2 99.2h0.8v0.8h-0.8zM357.4 91.1h0.8v0.8h-0.8zM352.7 100.3h0.8v0.8h-0.8zM354.1 110.8h0.8v0.8h-0.8zM355.5 96.7h0.8v0.8h-0.8zM357.9 101.8h0.8v0.8h-0.8zM355.6 91.1h0.8v0.8h-0.8zM356.6 103.1h0.8v0.8h-0.8zM350.7 97.3h0.8v0.8h-0.8zM352.8 82.7h0.8v0.8h-0.8zM351.9 93.3h0.8v0.8h-0.8zM355.4 102.8h0.8v0.8h-0.8zM352.7 100.3h0.8v0.8h-0.8zM353.7 92.3h0.8v0.8h-0.8zM351.1 103.2h0.8v0.8h-0.8zM357.5 103.7h0.8v0.8h-0.8zM348.9 99.5h0.8v0.8h-0.8zM353.1 106.8h0.8v0.8h-0.8zM351.0 112.6h0.8v0.8h-0.8zM355.7 107.7h0.8v0.8h-0.8zM353.4 101.7h0.8v0.8h-0.8zM352.0 95.4h0.8v0.8h-0.8zM350.4 108.9h0.8v0.8h-0.8zM355.4 91.1h0.8v0.8h-0.8zM350.4 104.9h0.8v0.8h-0.8zM353.2 95.2h0.8v0.8h-0.8zM351.6 106.7h0.8v0.8h-0.8zM351.5 103.4h0.8v0.8h-0.8zM357.3 110.6h0.8v0.8h-0.8zM356.3 101.4h0.8v0.8h-0.8zM353.4 99.2h0.8v0.8h-0.8zM355.7 84.6h0.8v0.8h-0.8zM357.8 107.4h0.8v0.8h-0.8zM356.3 83.4h0.8v0.8h-0.8zM353.4 98.4h0.8v0.8h-0.8zM357.4 86.3h0.8v0.8h-0.8zM351.7 95.1h0.8v0.8h-0.8zM353.3 109.0h0.8v0.8h-0.8zM354.0 103.6h0.8v0.8h-0.8zM354.9 87.2h0.8v0.8h-0.8zM353.9 109.8h0.8v0.8h-0.8zM346.8 95.8h0.8v0.8h-0.8zM355.9 113.6h0.8v0.8h-0.8zM354.3 97.9h0.8v0.8h-0.8zM351.4 101.5h0.8v0.8h-0.8zM355.2 110.8h0.8v0.8h-0.8zM349.5 88.1h0.8v0.8h-0.8zM353.0 83.5h0.8v0.8h-0.8zM356.3 98.4h0.8v0.8h-0.8zM359.3 116.3h0.8v0.8h-0.8zM349.9 104.5h0.8v0.8h-0.8zM352.2 95.6h0.8v0.8h-0.8zM354.9 104.3h0.8v0.8h-0.8zM353.2 99.3h0.8v0.8h-0.8zM350.1 114.9h0.8v0.8h-0.8zM357.2 113.7h0.8v0.8h-0.8zM351.1 114.1h0.8v0.8h-0.8zM356.1 106.8h0.8v0.8h-0.8zM354.3 107.4h0.8v0.8h-0.8zM359.6 113.4h0.8v0.8h-0.8zM353.7 83.6h0.8v0.8h-0.8zM356.2 90.5h0.8v0.8h-0.8zM359.3 97.9h0.8v0.8h-0.8zM349.6 97.1h0.8v0.8h-0.8zM359.2 100.1h0.8v0.8h-0.8zM357.6 113.9h0.8v0.8h-0.8zM348.2 112.9h0.8v0.8h-0.8zM349.4 109.7h0.8v0.8h-0.8zM358.9 80.7h0.8v0.8h-0.8zM359.2 93.8h0.8v0.8h-0.8z" fill="#3a12f2" fill-opacity="0.48"/>
<ellipse cx="382.0" cy="101.0" rx="2.50" ry="16.45" fill="#6a8ad0" opacity="0.3" filter="url(#bl3)" transform="rotate(5 382.0 101.0)"/>
<path d="M381.6 109.6h0.8v0.8h-0.8zM386.5 100.6h0.8v0.8h-0.8zM380.1 94.4h0.8v0.8h-0.8zM379.3 108.7h0.8v0.8h-0.8zM376.7 104.6h0.8v0.8h-0.8zM382.1 85.7h0.8v0.8h-0.8zM382.9 96.9h0.8v0.8h-0.8zM380.9 98.0h0.8v0.8h-0.8zM381.8 92.9h0.8v0.8h-0.8zM382.0 91.4h0.8v0.8h-0.8zM384.6 98.5h0.8v0.8h-0.8zM382.6 95.1h0.8v0.8h-0.8zM379.2 106.8h0.8v0.8h-0.8zM383.0 91.6h0.8v0.8h-0.8zM381.5 103.0h0.8v0.8h-0.8zM382.3 94.0h0.8v0.8h-0.8zM383.8 93.5h0.8v0.8h-0.8zM380.0 95.8h0.8v0.8h-0.8zM379.8 111.8h0.8v0.8h-0.8zM381.8 95.1h0.8v0.8h-0.8zM382.6 85.4h0.8v0.8h-0.8zM380.2 98.3h0.8v0.8h-0.8zM381.7 108.8h0.8v0.8h-0.8zM382.7 86.3h0.8v0.8h-0.8zM384.7 80.2h0.8v0.8h-0.8zM381.6 93.0h0.8v0.8h-0.8zM381.4 90.7h0.8v0.8h-0.8zM381.2 98.4h0.8v0.8h-0.8zM382.6 98.0h0.8v0.8h-0.8zM382.2 101.5h0.8v0.8h-0.8zM378.6 103.7h0.8v0.8h-0.8zM378.1 104.8h0.8v0.8h-0.8zM379.8 110.6h0.8v0.8h-0.8zM379.5 96.1h0.8v0.8h-0.8zM381.3 103.6h0.8v0.8h-0.8zM383.0 92.3h0.8v0.8h-0.8zM381.6 108.4h0.8v0.8h-0.8zM384.0 115.0h0.8v0.8h-0.8zM382.9 110.3h0.8v0.8h-0.8zM381.3 99.9h0.8v0.8h-0.8zM379.7 90.9h0.8v0.8h-0.8zM380.0 99.4h0.8v0.8h-0.8zM380.3 91.7h0.8v0.8h-0.8zM380.8 112.6h0.8v0.8h-0.8zM383.7 96.9h0.8v0.8h-0.8zM382.7 112.4h0.8v0.8h-0.8zM379.2 103.2h0.8v0.8h-0.8zM382.8 104.5h0.8v0.8h-0.8zM381.2 103.8h0.8v0.8h-0.8zM379.3 110.2h0.8v0.8h-0.8zM380.7 110.6h0.8v0.8h-0.8zM384.5 88.4h0.8v0.8h-0.8zM380.6 117.7h0.8v0.8h-0.8zM383.8 94.0h0.8v0.8h-0.8zM380.8 100.5h0.8v0.8h-0.8zM384.9 92.9h0.8v0.8h-0.8zM383.5 115.3h0.8v0.8h-0.8zM380.0 104.2h0.8v0.8h-0.8zM382.9 92.4h0.8v0.8h-0.8zM381.8 96.5h0.8v0.8h-0.8zM382.5 106.2h0.8v0.8h-0.8zM380.0 105.4h0.8v0.8h-0.8zM383.5 94.8h0.8v0.8h-0.8zM379.4 111.4h0.8v0.8h-0.8zM380.2 111.0h0.8v0.8h-0.8zM382.7 85.1h0.8v0.8h-0.8zM385.9 91.1h0.8v0.8h-0.8zM384.6 102.0h0.8v0.8h-0.8zM380.7 102.9h0.8v0.8h-0.8zM379.9 113.6h0.8v0.8h-0.8zM384.8 100.2h0.8v0.8h-0.8zM381.7 116.3h0.8v0.8h-0.8zM378.8 86.5h0.8v0.8h-0.8zM385.2 83.8h0.8v0.8h-0.8zM380.8 109.2h0.8v0.8h-0.8zM383.8 91.3h0.8v0.8h-0.8zM378.1 97.2h0.8v0.8h-0.8zM379.0 110.6h0.8v0.8h-0.8zM386.7 94.3h0.8v0.8h-0.8zM380.4 90.0h0.8v0.8h-0.8zM377.6 116.7h0.8v0.8h-0.8zM383.2 104.9h0.8v0.8h-0.8zM383.9 78.6h0.8v0.8h-0.8zM381.5 97.8h0.8v0.8h-0.8zM381.0 108.7h0.8v0.8h-0.8zM380.8 99.3h0.8v0.8h-0.8zM383.0 98.1h0.8v0.8h-0.8zM380.3 104.9h0.8v0.8h-0.8zM382.4 108.7h0.8v0.8h-0.8zM379.3 97.1h0.8v0.8h-0.8zM380.8 95.0h0.8v0.8h-0.8zM386.4 85.7h0.8v0.8h-0.8zM378.2 113.5h0.8v0.8h-0.8zM384.0 82.5h0.8v0.8h-0.8zM386.1 84.0h0.8v0.8h-0.8zM377.5 111.1h0.8v0.8h-0.8zM383.0 104.1h0.8v0.8h-0.8zM381.5 87.0h0.8v0.8h-0.8zM381.1 101.0h0.8v0.8h-0.8zM385.8 85.7h0.8v0.8h-0.8zM375.9 98.4h0.8v0.8h-0.8zM380.4 121.5h0.8v0.8h-0.8zM384.7 87.2h0.8v0.8h-0.8zM380.5 114.5h0.8v0.8h-0.8zM384.8 74.5h0.8v0.8h-0.8zM383.5 88.1h0.8v0.8h-0.8zM379.7 104.9h0.8v0.8h-0.8zM378.3 129.2h0.8v0.8h-0.8z" fill="#6a8ad0" fill-opacity="0.45"/>
<path d="M382.8 92.7h0.8v0.8h-0.8zM382.1 89.0h0.8v0.8h-0.8zM383.0 107.9h0.8v0.8h-0.8zM385.5 104.1h0.8v0.8h-0.8zM382.5 98.3h0.8v0.8h-0.8zM381.1 104.0h0.8v0.8h-0.8zM381.0 114.8h0.8v0.8h-0.8zM378.2 119.1h0.8v0.8h-0.8zM383.1 95.5h0.8v0.8h-0.8zM381.9 92.5h0.8v0.8h-0.8zM383.6 107.0h0.8v0.8h-0.8zM382.0 93.4h0.8v0.8h-0.8zM381.3 112.1h0.8v0.8h-0.8zM377.3 103.6h0.8v0.8h-0.8zM385.6 100.5h0.8v0.8h-0.8zM384.4 107.4h0.8v0.8h-0.8zM383.3 78.0h0.8v0.8h-0.8zM380.1 88.6h0.8v0.8h-0.8zM385.2 95.4h0.8v0.8h-0.8zM380.1 105.1h0.8v0.8h-0.8zM379.7 98.9h0.8v0.8h-0.8zM380.3 98.8h0.8v0.8h-0.8zM382.4 86.7h0.8v0.8h-0.8zM378.9 112.9h0.8v0.8h-0.8zM381.8 108.2h0.8v0.8h-0.8zM380.2 95.8h0.8v0.8h-0.8zM380.9 101.4h0.8v0.8h-0.8zM380.9 106.4h0.8v0.8h-0.8zM381.5 101.1h0.8v0.8h-0.8zM383.2 96.5h0.8v0.8h-0.8zM379.1 100.8h0.8v0.8h-0.8zM381.4 101.3h0.8v0.8h-0.8zM383.0 101.0h0.8v0.8h-0.8zM383.1 92.3h0.8v0.8h-0.8zM381.4 83.5h0.8v0.8h-0.8zM382.1 114.5h0.8v0.8h-0.8zM381.6 96.7h0.8v0.8h-0.8zM380.9 89.5h0.8v0.8h-0.8zM380.3 95.0h0.8v0.8h-0.8zM376.9 105.9h0.8v0.8h-0.8zM381.4 99.3h0.8v0.8h-0.8zM380.7 120.5h0.8v0.8h-0.8zM377.9 110.7h0.8v0.8h-0.8zM382.8 109.9h0.8v0.8h-0.8zM382.3 119.9h0.8v0.8h-0.8zM381.3 100.7h0.8v0.8h-0.8zM380.0 101.1h0.8v0.8h-0.8zM380.3 115.1h0.8v0.8h-0.8zM381.1 91.9h0.8v0.8h-0.8zM377.6 112.7h0.8v0.8h-0.8zM384.9 105.7h0.8v0.8h-0.8zM381.4 102.6h0.8v0.8h-0.8zM380.3 103.4h0.8v0.8h-0.8zM379.9 94.8h0.8v0.8h-0.8zM383.2 88.0h0.8v0.8h-0.8zM380.1 88.0h0.8v0.8h-0.8zM381.8 106.4h0.8v0.8h-0.8zM378.8 118.4h0.8v0.8h-0.8zM380.8 105.3h0.8v0.8h-0.8zM378.5 110.5h0.8v0.8h-0.8zM381.7 99.8h0.8v0.8h-0.8zM383.7 92.5h0.8v0.8h-0.8zM383.1 100.8h0.8v0.8h-0.8zM384.3 92.8h0.8v0.8h-0.8zM379.5 106.2h0.8v0.8h-0.8zM379.4 110.0h0.8v0.8h-0.8zM379.1 114.4h0.8v0.8h-0.8zM385.8 85.9h0.8v0.8h-0.8zM382.2 104.9h0.8v0.8h-0.8zM382.1 100.0h0.8v0.8h-0.8zM383.4 102.2h0.8v0.8h-0.8zM384.0 84.4h0.8v0.8h-0.8zM380.6 89.9h0.8v0.8h-0.8zM379.9 88.9h0.8v0.8h-0.8zM381.3 111.8h0.8v0.8h-0.8zM381.6 98.6h0.8v0.8h-0.8zM384.2 107.4h0.8v0.8h-0.8zM382.8 104.1h0.8v0.8h-0.8zM383.1 94.6h0.8v0.8h-0.8zM383.5 98.7h0.8v0.8h-0.8zM382.1 107.2h0.8v0.8h-0.8zM380.8 110.0h0.8v0.8h-0.8zM380.8 90.0h0.8v0.8h-0.8zM379.0 108.0h0.8v0.8h-0.8zM381.8 110.7h0.8v0.8h-0.8zM383.1 92.1h0.8v0.8h-0.8zM380.0 98.7h0.8v0.8h-0.8zM383.6 95.5h0.8v0.8h-0.8zM385.6 90.5h0.8v0.8h-0.8zM381.4 105.8h0.8v0.8h-0.8zM376.3 111.3h0.8v0.8h-0.8zM383.9 95.4h0.8v0.8h-0.8zM379.5 110.7h0.8v0.8h-0.8zM380.4 105.6h0.8v0.8h-0.8zM383.0 93.2h0.8v0.8h-0.8zM378.5 106.7h0.8v0.8h-0.8zM376.6 109.5h0.8v0.8h-0.8zM385.2 85.3h0.8v0.8h-0.8zM379.6 94.5h0.8v0.8h-0.8zM383.1 87.9h0.8v0.8h-0.8zM379.7 95.3h0.8v0.8h-0.8zM384.4 91.6h0.8v0.8h-0.8zM376.8 107.6h0.8v0.8h-0.8zM379.6 93.0h0.8v0.8h-0.8zM381.3 96.9h0.8v0.8h-0.8zM382.0 79.3h0.8v0.8h-0.8zM378.2 84.4h0.8v0.8h-0.8zM385.5 85.2h0.8v0.8h-0.8z" fill="#6a8ad0" fill-opacity="0.45"/>
<path d="M379.3 104.6h0.8v0.8h-0.8zM380.7 84.8h0.8v0.8h-0.8zM383.2 104.2h0.8v0.8h-0.8zM382.0 94.0h0.8v0.8h-0.8zM380.6 113.2h0.8v0.8h-0.8zM380.8 107.8h0.8v0.8h-0.8zM386.3 89.0h0.8v0.8h-0.8zM384.3 100.9h0.8v0.8h-0.8zM383.6 109.5h0.8v0.8h-0.8zM378.3 110.9h0.8v0.8h-0.8zM381.7 98.6h0.8v0.8h-0.8zM383.1 99.0h0.8v0.8h-0.8zM382.0 101.0h0.8v0.8h-0.8zM381.7 117.2h0.8v0.8h-0.8zM385.1 93.5h0.8v0.8h-0.8zM380.6 98.0h0.8v0.8h-0.8zM380.3 100.8h0.8v0.8h-0.8zM384.6 89.7h0.8v0.8h-0.8zM383.6 106.2h0.8v0.8h-0.8zM385.0 101.6h0.8v0.8h-0.8zM382.9 99.5h0.8v0.8h-0.8zM382.9 98.1h0.8v0.8h-0.8zM380.6 100.9h0.8v0.8h-0.8zM381.5 100.3h0.8v0.8h-0.8zM380.0 97.6h0.8v0.8h-0.8zM379.8 107.9h0.8v0.8h-0.8zM381.2 101.4h0.8v0.8h-0.8zM382.4 95.5h0.8v0.8h-0.8zM379.6 101.5h0.8v0.8h-0.8zM383.8 97.6h0.8v0.8h-0.8zM380.1 111.8h0.8v0.8h-0.8zM378.6 109.8h0.8v0.8h-0.8zM382.4 110.4h0.8v0.8h-0.8zM382.5 103.7h0.8v0.8h-0.8zM382.2 101.1h0.8v0.8h-0.8zM381.4 102.0h0.8v0.8h-0.8zM379.7 102.8h0.8v0.8h-0.8zM381.0 106.5h0.8v0.8h-0.8zM383.3 97.6h0.8v0.8h-0.8zM383.1 82.2h0.8v0.8h-0.8zM383.1 115.3h0.8v0.8h-0.8zM377.7 101.0h0.8v0.8h-0.8zM381.2 92.2h0.8v0.8h-0.8zM384.7 111.2h0.8v0.8h-0.8zM381.5 99.0h0.8v0.8h-0.8zM384.2 104.7h0.8v0.8h-0.8zM382.4 93.1h0.8v0.8h-0.8zM382.2 100.6h0.8v0.8h-0.8zM382.2 105.5h0.8v0.8h-0.8zM382.6 101.8h0.8v0.8h-0.8zM379.7 102.3h0.8v0.8h-0.8zM380.5 99.6h0.8v0.8h-0.8zM378.7 101.3h0.8v0.8h-0.8zM379.2 107.4h0.8v0.8h-0.8zM380.9 98.6h0.8v0.8h-0.8zM380.3 110.4h0.8v0.8h-0.8zM384.7 94.0h0.8v0.8h-0.8zM384.2 98.9h0.8v0.8h-0.8zM379.5 96.4h0.8v0.8h-0.8zM384.2 86.9h0.8v0.8h-0.8zM380.2 108.0h0.8v0.8h-0.8zM382.1 110.0h0.8v0.8h-0.8zM381.0 83.6h0.8v0.8h-0.8zM380.9 102.2h0.8v0.8h-0.8zM381.9 111.5h0.8v0.8h-0.8zM378.4 103.1h0.8v0.8h-0.8zM383.3 100.5h0.8v0.8h-0.8zM381.3 93.0h0.8v0.8h-0.8zM378.8 115.1h0.8v0.8h-0.8zM382.7 97.9h0.8v0.8h-0.8zM381.4 118.7h0.8v0.8h-0.8zM380.3 103.4h0.8v0.8h-0.8zM383.3 107.9h0.8v0.8h-0.8zM380.2 99.1h0.8v0.8h-0.8zM382.3 82.7h0.8v0.8h-0.8zM381.9 109.2h0.8v0.8h-0.8zM386.6 96.1h0.8v0.8h-0.8zM382.2 94.1h0.8v0.8h-0.8zM386.0 105.7h0.8v0.8h-0.8zM382.1 90.4h0.8v0.8h-0.8zM382.9 94.4h0.8v0.8h-0.8zM379.4 101.0h0.8v0.8h-0.8zM382.6 102.1h0.8v0.8h-0.8zM378.6 103.1h0.8v0.8h-0.8zM380.1 102.2h0.8v0.8h-0.8zM382.0 121.1h0.8v0.8h-0.8zM378.0 117.7h0.8v0.8h-0.8zM383.1 101.4h0.8v0.8h-0.8zM377.2 96.4h0.8v0.8h-0.8zM381.5 100.2h0.8v0.8h-0.8zM382.4 106.6h0.8v0.8h-0.8zM376.8 100.2h0.8v0.8h-0.8zM383.9 93.1h0.8v0.8h-0.8zM383.6 116.4h0.8v0.8h-0.8zM383.0 97.7h0.8v0.8h-0.8zM380.1 108.1h0.8v0.8h-0.8zM385.6 97.2h0.8v0.8h-0.8zM380.9 98.1h0.8v0.8h-0.8zM384.4 103.8h0.8v0.8h-0.8zM383.7 98.3h0.8v0.8h-0.8zM385.1 96.4h0.8v0.8h-0.8zM382.3 90.5h0.8v0.8h-0.8zM382.2 124.9h0.8v0.8h-0.8zM382.9 102.5h0.8v0.8h-0.8zM387.9 98.1h0.8v0.8h-0.8zM375.1 111.9h0.8v0.8h-0.8zM386.0 94.4h0.8v0.8h-0.8zM379.7 77.8h0.8v0.8h-0.8z" fill="#6a8ad0" fill-opacity="0.45"/>
<path d="M382.5 104.5h0.8v0.8h-0.8zM377.3 107.3h0.8v0.8h-0.8zM381.4 105.8h0.8v0.8h-0.8zM378.1 106.6h0.8v0.8h-0.8zM380.8 94.7h0.8v0.8h-0.8zM381.5 110.7h0.8v0.8h-0.8zM381.6 116.5h0.8v0.8h-0.8zM381.3 103.6h0.8v0.8h-0.8zM383.1 86.6h0.8v0.8h-0.8zM381.8 96.0h0.8v0.8h-0.8zM385.5 95.0h0.8v0.8h-0.8zM381.4 107.2h0.8v0.8h-0.8zM377.5 103.6h0.8v0.8h-0.8zM383.2 92.5h0.8v0.8h-0.8zM380.6 95.6h0.8v0.8h-0.8zM380.1 103.1h0.8v0.8h-0.8zM380.4 114.9h0.8v0.8h-0.8zM382.0 102.5h0.8v0.8h-0.8zM383.1 89.6h0.8v0.8h-0.8zM381.7 101.8h0.8v0.8h-0.8zM381.9 92.3h0.8v0.8h-0.8zM380.7 100.3h0.8v0.8h-0.8zM382.4 100.3h0.8v0.8h-0.8zM385.3 84.2h0.8v0.8h-0.8zM381.4 103.4h0.8v0.8h-0.8zM379.1 101.1h0.8v0.8h-0.8zM381.6 98.2h0.8v0.8h-0.8zM380.5 112.3h0.8v0.8h-0.8zM383.8 86.8h0.8v0.8h-0.8zM383.7 102.6h0.8v0.8h-0.8zM382.6 109.6h0.8v0.8h-0.8zM380.6 108.5h0.8v0.8h-0.8zM381.0 93.7h0.8v0.8h-0.8zM380.7 104.2h0.8v0.8h-0.8zM383.2 117.9h0.8v0.8h-0.8zM382.1 110.0h0.8v0.8h-0.8zM378.7 92.1h0.8v0.8h-0.8zM384.2 100.3h0.8v0.8h-0.8zM379.1 121.2h0.8v0.8h-0.8zM380.9 102.1h0.8v0.8h-0.8zM381.9 99.7h0.8v0.8h-0.8zM383.2 97.5h0.8v0.8h-0.8zM383.5 96.8h0.8v0.8h-0.8zM381.4 88.5h0.8v0.8h-0.8zM385.5 82.4h0.8v0.8h-0.8zM384.6 96.4h0.8v0.8h-0.8zM379.8 93.7h0.8v0.8h-0.8zM384.8 90.1h0.8v0.8h-0.8zM379.3 89.8h0.8v0.8h-0.8zM382.3 89.6h0.8v0.8h-0.8zM382.2 99.9h0.8v0.8h-0.8zM380.4 94.8h0.8v0.8h-0.8zM381.5 105.8h0.8v0.8h-0.8zM381.4 106.8h0.8v0.8h-0.8zM380.9 94.7h0.8v0.8h-0.8zM382.4 106.9h0.8v0.8h-0.8zM382.7 96.6h0.8v0.8h-0.8zM384.5 107.0h0.8v0.8h-0.8zM379.2 102.3h0.8v0.8h-0.8zM378.0 113.1h0.8v0.8h-0.8zM379.8 92.6h0.8v0.8h-0.8zM383.2 93.7h0.8v0.8h-0.8zM385.0 85.5h0.8v0.8h-0.8zM378.5 95.3h0.8v0.8h-0.8zM386.1 86.6h0.8v0.8h-0.8zM382.1 100.6h0.8v0.8h-0.8zM382.2 88.5h0.8v0.8h-0.8zM382.8 93.3h0.8v0.8h-0.8zM382.8 94.6h0.8v0.8h-0.8zM380.3 86.4h0.8v0.8h-0.8zM377.5 111.9h0.8v0.8h-0.8zM380.5 111.7h0.8v0.8h-0.8zM382.3 95.1h0.8v0.8h-0.8zM383.5 112.6h0.8v0.8h-0.8zM381.9 109.5h0.8v0.8h-0.8zM380.0 114.5h0.8v0.8h-0.8zM384.0 101.9h0.8v0.8h-0.8zM380.6 89.4h0.8v0.8h-0.8zM382.2 104.8h0.8v0.8h-0.8zM382.0 103.3h0.8v0.8h-0.8zM379.7 110.8h0.8v0.8h-0.8zM381.0 111.0h0.8v0.8h-0.8zM379.4 101.5h0.8v0.8h-0.8zM376.5 107.5h0.8v0.8h-0.8zM379.6 99.0h0.8v0.8h-0.8zM382.8 96.1h0.8v0.8h-0.8zM377.8 106.4h0.8v0.8h-0.8zM380.0 105.1h0.8v0.8h-0.8zM383.7 93.5h0.8v0.8h-0.8zM378.6 87.3h0.8v0.8h-0.8zM381.4 104.7h0.8v0.8h-0.8zM382.8 84.1h0.8v0.8h-0.8zM377.5 101.7h0.8v0.8h-0.8zM381.1 96.9h0.8v0.8h-0.8zM380.5 102.6h0.8v0.8h-0.8zM384.0 97.3h0.8v0.8h-0.8zM382.7 105.5h0.8v0.8h-0.8zM385.2 100.9h0.8v0.8h-0.8zM384.0 100.2h0.8v0.8h-0.8zM381.6 105.1h0.8v0.8h-0.8zM378.7 83.8h0.8v0.8h-0.8zM384.8 105.8h0.8v0.8h-0.8zM383.9 74.8h0.8v0.8h-0.8zM379.7 117.7h0.8v0.8h-0.8zM375.1 110.2h0.8v0.8h-0.8zM382.7 102.1h0.8v0.8h-0.8zM382.0 89.0h0.8v0.8h-0.8zM386.9 98.2h0.8v0.8h-0.8z" fill="#6a8ad0" fill-opacity="0.45"/>
<path d="M381.8 101.9h0.8v0.8h-0.8zM381.3 103.8h0.8v0.8h-0.8zM379.9 117.3h0.8v0.8h-0.8zM383.5 93.3h0.8v0.8h-0.8zM384.4 111.4h0.8v0.8h-0.8zM382.1 99.7h0.8v0.8h-0.8zM382.5 98.5h0.8v0.8h-0.8zM379.9 106.2h0.8v0.8h-0.8zM382.4 110.6h0.8v0.8h-0.8zM380.2 105.1h0.8v0.8h-0.8zM381.5 92.9h0.8v0.8h-0.8zM378.2 107.7h0.8v0.8h-0.8zM383.1 102.9h0.8v0.8h-0.8zM382.6 99.8h0.8v0.8h-0.8zM381.5 107.8h0.8v0.8h-0.8zM382.6 88.2h0.8v0.8h-0.8zM379.0 91.5h0.8v0.8h-0.8zM378.8 123.4h0.8v0.8h-0.8zM378.6 104.4h0.8v0.8h-0.8zM379.6 106.5h0.8v0.8h-0.8zM382.1 110.1h0.8v0.8h-0.8zM382.4 100.7h0.8v0.8h-0.8zM385.8 88.2h0.8v0.8h-0.8zM381.9 100.2h0.8v0.8h-0.8zM383.9 102.7h0.8v0.8h-0.8zM378.5 108.0h0.8v0.8h-0.8zM380.9 101.1h0.8v0.8h-0.8zM379.1 106.7h0.8v0.8h-0.8zM377.5 108.2h0.8v0.8h-0.8zM383.0 90.0h0.8v0.8h-0.8zM379.7 112.3h0.8v0.8h-0.8zM380.7 93.8h0.8v0.8h-0.8zM381.2 120.6h0.8v0.8h-0.8zM380.7 102.6h0.8v0.8h-0.8zM379.6 91.7h0.8v0.8h-0.8zM384.1 92.5h0.8v0.8h-0.8zM382.1 108.7h0.8v0.8h-0.8zM378.9 103.2h0.8v0.8h-0.8zM380.0 100.0h0.8v0.8h-0.8zM378.9 110.7h0.8v0.8h-0.8zM385.3 101.5h0.8v0.8h-0.8zM382.9 105.7h0.8v0.8h-0.8zM382.4 99.0h0.8v0.8h-0.8zM384.7 84.7h0.8v0.8h-0.8zM379.9 90.8h0.8v0.8h-0.8zM382.0 94.6h0.8v0.8h-0.8zM381.0 108.2h0.8v0.8h-0.8zM378.5 114.0h0.8v0.8h-0.8zM381.5 94.6h0.8v0.8h-0.8zM379.9 95.3h0.8v0.8h-0.8zM379.2 103.4h0.8v0.8h-0.8zM383.6 92.4h0.8v0.8h-0.8zM378.5 118.2h0.8v0.8h-0.8zM383.6 97.0h0.8v0.8h-0.8zM383.1 91.5h0.8v0.8h-0.8zM378.3 110.4h0.8v0.8h-0.8zM379.3 105.0h0.8v0.8h-0.8zM385.0 99.2h0.8v0.8h-0.8zM383.1 104.0h0.8v0.8h-0.8zM379.9 100.1h0.8v0.8h-0.8zM384.2 87.6h0.8v0.8h-0.8zM382.4 113.7h0.8v0.8h-0.8zM382.4 92.7h0.8v0.8h-0.8zM383.0 87.5h0.8v0.8h-0.8zM382.4 90.5h0.8v0.8h-0.8zM383.8 93.7h0.8v0.8h-0.8zM380.8 104.0h0.8v0.8h-0.8zM379.0 99.7h0.8v0.8h-0.8zM384.7 97.2h0.8v0.8h-0.8zM384.8 98.4h0.8v0.8h-0.8zM380.2 102.7h0.8v0.8h-0.8zM380.2 94.5h0.8v0.8h-0.8zM382.7 87.7h0.8v0.8h-0.8zM383.5 99.9h0.8v0.8h-0.8zM379.8 102.8h0.8v0.8h-0.8zM380.9 96.6h0.8v0.8h-0.8zM382.1 103.3h0.8v0.8h-0.8zM379.1 109.8h0.8v0.8h-0.8zM380.2 100.3h0.8v0.8h-0.8zM384.2 92.1h0.8v0.8h-0.8zM381.4 104.6h0.8v0.8h-0.8zM379.5 96.8h0.8v0.8h-0.8zM381.1 105.0h0.8v0.8h-0.8zM380.8 112.2h0.8v0.8h-0.8zM382.1 96.3h0.8v0.8h-0.8zM381.1 112.3h0.8v0.8h-0.8zM381.8 100.9h0.8v0.8h-0.8zM384.2 97.7h0.8v0.8h-0.8zM377.5 103.2h0.8v0.8h-0.8zM379.7 94.2h0.8v0.8h-0.8zM382.5 80.6h0.8v0.8h-0.8zM382.3 99.8h0.8v0.8h-0.8zM381.9 111.7h0.8v0.8h-0.8zM380.4 102.3h0.8v0.8h-0.8zM382.7 98.6h0.8v0.8h-0.8zM380.3 90.9h0.8v0.8h-0.8zM381.3 96.5h0.8v0.8h-0.8zM379.0 99.9h0.8v0.8h-0.8zM380.1 103.3h0.8v0.8h-0.8zM382.2 102.3h0.8v0.8h-0.8zM382.4 93.4h0.8v0.8h-0.8zM382.8 91.1h0.8v0.8h-0.8zM378.7 111.1h0.8v0.8h-0.8zM381.0 74.5h0.8v0.8h-0.8zM383.0 86.3h0.8v0.8h-0.8zM383.0 75.8h0.8v0.8h-0.8zM379.4 115.8h0.8v0.8h-0.8zM382.1 122.9h0.8v0.8h-0.8z" fill="#6a8ad0" fill-opacity="0.45"/>
<path d="M378.8 100.3h0.8v0.8h-0.8zM376.6 116.2h0.8v0.8h-0.8zM381.6 106.2h0.8v0.8h-0.8zM382.5 92.7h0.8v0.8h-0.8zM382.0 109.1h0.8v0.8h-0.8zM382.1 110.0h0.8v0.8h-0.8zM384.2 92.4h0.8v0.8h-0.8zM382.3 105.5h0.8v0.8h-0.8zM383.3 98.4h0.8v0.8h-0.8zM381.6 94.1h0.8v0.8h-0.8zM382.1 91.8h0.8v0.8h-0.8zM380.5 88.6h0.8v0.8h-0.8zM381.5 106.3h0.8v0.8h-0.8zM381.4 86.8h0.8v0.8h-0.8zM384.8 105.5h0.8v0.8h-0.8zM377.6 111.6h0.8v0.8h-0.8zM380.9 100.9h0.8v0.8h-0.8zM379.8 97.5h0.8v0.8h-0.8zM383.9 84.1h0.8v0.8h-0.8zM381.4 90.8h0.8v0.8h-0.8zM382.4 91.0h0.8v0.8h-0.8zM382.2 106.4h0.8v0.8h-0.8zM378.1 98.5h0.8v0.8h-0.8zM383.0 91.0h0.8v0.8h-0.8zM381.3 98.7h0.8v0.8h-0.8zM381.2 112.8h0.8v0.8h-0.8zM380.6 107.6h0.8v0.8h-0.8zM382.8 101.2h0.8v0.8h-0.8zM382.5 118.4h0.8v0.8h-0.8zM379.8 85.7h0.8v0.8h-0.8zM381.4 101.7h0.8v0.8h-0.8zM380.9 110.3h0.8v0.8h-0.8zM377.4 94.4h0.8v0.8h-0.8zM378.5 113.7h0.8v0.8h-0.8zM382.2 111.8h0.8v0.8h-0.8zM380.2 95.3h0.8v0.8h-0.8zM382.4 89.8h0.8v0.8h-0.8zM383.4 85.7h0.8v0.8h-0.8zM385.1 99.6h0.8v0.8h-0.8zM381.6 86.5h0.8v0.8h-0.8zM384.0 96.2h0.8v0.8h-0.8zM382.9 96.7h0.8v0.8h-0.8zM382.2 102.4h0.8v0.8h-0.8zM381.2 97.2h0.8v0.8h-0.8zM378.4 100.3h0.8v0.8h-0.8zM381.2 104.6h0.8v0.8h-0.8zM386.2 84.7h0.8v0.8h-0.8zM382.7 83.8h0.8v0.8h-0.8zM381.6 105.3h0.8v0.8h-0.8zM379.7 111.8h0.8v0.8h-0.8zM379.2 99.4h0.8v0.8h-0.8zM381.0 93.8h0.8v0.8h-0.8zM378.4 114.3h0.8v0.8h-0.8zM382.0 111.9h0.8v0.8h-0.8zM383.4 90.6h0.8v0.8h-0.8zM383.5 95.5h0.8v0.8h-0.8zM382.3 118.2h0.8v0.8h-0.8zM383.4 98.6h0.8v0.8h-0.8zM381.9 91.1h0.8v0.8h-0.8zM379.3 103.5h0.8v0.8h-0.8zM385.1 98.4h0.8v0.8h-0.8zM382.1 83.4h0.8v0.8h-0.8zM380.9 94.2h0.8v0.8h-0.8zM382.0 101.2h0.8v0.8h-0.8zM382.4 113.7h0.8v0.8h-0.8zM384.8 96.8h0.8v0.8h-0.8zM383.3 109.7h0.8v0.8h-0.8zM377.5 94.7h0.8v0.8h-0.8zM384.9 109.1h0.8v0.8h-0.8zM381.6 108.3h0.8v0.8h-0.8zM381.3 96.3h0.8v0.8h-0.8zM383.3 96.7h0.8v0.8h-0.8zM383.2 91.6h0.8v0.8h-0.8zM382.5 95.2h0.8v0.8h-0.8zM382.2 89.1h0.8v0.8h-0.8zM382.0 98.0h0.8v0.8h-0.8zM382.1 114.1h0.8v0.8h-0.8zM383.8 86.6h0.8v0.8h-0.8zM377.2 96.2h0.8v0.8h-0.8zM382.9 87.1h0.8v0.8h-0.8zM380.2 109.8h0.8v0.8h-0.8zM380.2 111.1h0.8v0.8h-0.8zM381.1 93.9h0.8v0.8h-0.8zM386.5 94.6h0.8v0.8h-0.8zM382.3 83.9h0.8v0.8h-0.8zM385.4 87.8h0.8v0.8h-0.8zM379.9 95.7h0.8v0.8h-0.8zM377.1 107.9h0.8v0.8h-0.8zM382.6 93.4h0.8v0.8h-0.8zM378.4 121.6h0.8v0.8h-0.8zM381.8 100.4h0.8v0.8h-0.8zM383.7 86.3h0.8v0.8h-0.8zM382.0 104.4h0.8v0.8h-0.8zM384.3 90.0h0.8v0.8h-0.8zM382.4 90.0h0.8v0.8h-0.8zM380.4 119.9h0.8v0.8h-0.8zM384.2 94.1h0.8v0.8h-0.8zM385.9 82.7h0.8v0.8h-0.8zM379.3 103.8h0.8v0.8h-0.8zM382.0 103.9h0.8v0.8h-0.8zM383.9 85.5h0.8v0.8h-0.8zM385.8 87.0h0.8v0.8h-0.8zM382.2 79.6h0.8v0.8h-0.8zM384.4 79.0h0.8v0.8h-0.8zM382.9 88.4h0.8v0.8h-0.8zM380.8 111.7h0.8v0.8h-0.8zM381.0 81.8h0.8v0.8h-0.8zM379.1 115.9h0.8v0.8h-0.8z" fill="#6a8ad0" fill-opacity="0.45"/>
<path d="M384.2 89.9h0.8v0.8h-0.8zM385.1 87.9h0.8v0.8h-0.8zM382.0 94.4h0.8v0.8h-0.8zM384.5 102.4h0.8v0.8h-0.8zM382.1 98.4h0.8v0.8h-0.8zM381.5 92.9h0.8v0.8h-0.8zM381.9 114.4h0.8v0.8h-0.8zM382.5 87.6h0.8v0.8h-0.8zM383.6 93.7h0.8v0.8h-0.8zM382.1 102.4h0.8v0.8h-0.8zM382.9 88.8h0.8v0.8h-0.8zM379.6 115.0h0.8v0.8h-0.8zM384.2 92.3h0.8v0.8h-0.8zM378.5 93.7h0.8v0.8h-0.8zM384.0 103.9h0.8v0.8h-0.8zM379.9 89.4h0.8v0.8h-0.8zM384.3 84.1h0.8v0.8h-0.8zM381.2 111.3h0.8v0.8h-0.8zM383.6 117.1h0.8v0.8h-0.8zM384.6 82.3h0.8v0.8h-0.8zM385.0 94.1h0.8v0.8h-0.8zM381.6 107.6h0.8v0.8h-0.8zM380.2 100.8h0.8v0.8h-0.8zM380.8 99.5h0.8v0.8h-0.8zM381.5 108.2h0.8v0.8h-0.8zM383.6 90.9h0.8v0.8h-0.8zM383.2 92.3h0.8v0.8h-0.8zM382.6 86.2h0.8v0.8h-0.8zM379.1 99.6h0.8v0.8h-0.8zM384.3 80.6h0.8v0.8h-0.8zM382.3 103.3h0.8v0.8h-0.8zM379.5 95.0h0.8v0.8h-0.8zM383.8 93.2h0.8v0.8h-0.8zM380.1 111.5h0.8v0.8h-0.8zM381.8 101.2h0.8v0.8h-0.8zM381.8 94.4h0.8v0.8h-0.8zM383.3 93.8h0.8v0.8h-0.8zM381.3 97.8h0.8v0.8h-0.8zM380.9 102.1h0.8v0.8h-0.8zM383.3 99.5h0.8v0.8h-0.8zM381.6 98.0h0.8v0.8h-0.8zM381.4 98.4h0.8v0.8h-0.8zM384.8 87.1h0.8v0.8h-0.8zM379.1 113.2h0.8v0.8h-0.8zM382.2 100.4h0.8v0.8h-0.8zM379.1 118.9h0.8v0.8h-0.8zM382.9 96.2h0.8v0.8h-0.8zM382.2 111.9h0.8v0.8h-0.8zM385.0 104.1h0.8v0.8h-0.8zM380.1 94.4h0.8v0.8h-0.8zM381.0 120.3h0.8v0.8h-0.8zM382.9 97.0h0.8v0.8h-0.8zM378.8 107.6h0.8v0.8h-0.8zM385.1 102.4h0.8v0.8h-0.8zM382.9 90.2h0.8v0.8h-0.8zM380.0 115.2h0.8v0.8h-0.8zM382.2 111.3h0.8v0.8h-0.8zM380.7 111.4h0.8v0.8h-0.8zM378.4 100.5h0.8v0.8h-0.8zM380.5 94.9h0.8v0.8h-0.8zM380.9 113.2h0.8v0.8h-0.8zM380.2 100.7h0.8v0.8h-0.8zM381.6 110.2h0.8v0.8h-0.8zM379.6 110.4h0.8v0.8h-0.8zM380.8 102.9h0.8v0.8h-0.8zM384.1 95.3h0.8v0.8h-0.8zM384.2 104.6h0.8v0.8h-0.8zM383.4 89.8h0.8v0.8h-0.8zM381.8 96.1h0.8v0.8h-0.8zM381.0 99.6h0.8v0.8h-0.8zM385.3 109.7h0.8v0.8h-0.8zM377.2 109.0h0.8v0.8h-0.8zM380.3 103.9h0.8v0.8h-0.8zM377.8 103.8h0.8v0.8h-0.8zM380.3 107.5h0.8v0.8h-0.8zM383.9 109.1h0.8v0.8h-0.8zM381.4 104.5h0.8v0.8h-0.8zM378.4 114.0h0.8v0.8h-0.8zM378.8 108.8h0.8v0.8h-0.8zM382.2 101.4h0.8v0.8h-0.8zM384.2 88.6h0.8v0.8h-0.8zM383.9 103.6h0.8v0.8h-0.8zM384.5 98.7h0.8v0.8h-0.8zM382.8 88.2h0.8v0.8h-0.8zM380.8 94.8h0.8v0.8h-0.8zM382.9 93.7h0.8v0.8h-0.8zM381.4 95.4h0.8v0.8h-0.8zM384.6 89.9h0.8v0.8h-0.8zM381.3 109.5h0.8v0.8h-0.8zM384.5 90.3h0.8v0.8h-0.8zM384.8 90.3h0.8v0.8h-0.8zM380.8 90.3h0.8v0.8h-0.8zM380.8 92.8h0.8v0.8h-0.8zM381.7 94.3h0.8v0.8h-0.8zM380.8 107.3h0.8v0.8h-0.8zM383.1 99.0h0.8v0.8h-0.8zM379.7 108.6h0.8v0.8h-0.8zM377.9 110.3h0.8v0.8h-0.8zM381.2 97.4h0.8v0.8h-0.8zM380.9 97.4h0.8v0.8h-0.8zM379.5 107.3h0.8v0.8h-0.8zM377.6 90.0h0.8v0.8h-0.8zM380.5 78.4h0.8v0.8h-0.8zM375.3 110.0h0.8v0.8h-0.8zM375.0 114.5h0.8v0.8h-0.8zM380.8 87.0h0.8v0.8h-0.8zM375.4 120.4h0.8v0.8h-0.8zM381.8 89.1h0.8v0.8h-0.8z" fill="#6a8ad0" fill-opacity="0.45"/>
<path d="M381.9 107.6h0.8v0.8h-0.8zM381.7 102.5h0.8v0.8h-0.8zM381.8 97.7h0.8v0.8h-0.8zM381.1 117.7h0.8v0.8h-0.8zM381.1 104.3h0.8v0.8h-0.8zM384.9 96.5h0.8v0.8h-0.8zM383.6 108.4h0.8v0.8h-0.8zM380.8 99.3h0.8v0.8h-0.8zM381.9 104.7h0.8v0.8h-0.8zM380.7 90.4h0.8v0.8h-0.8zM382.4 104.3h0.8v0.8h-0.8zM379.9 105.3h0.8v0.8h-0.8zM381.1 105.0h0.8v0.8h-0.8zM380.7 101.3h0.8v0.8h-0.8zM379.6 111.2h0.8v0.8h-0.8zM379.7 90.9h0.8v0.8h-0.8zM376.3 107.8h0.8v0.8h-0.8zM383.3 97.0h0.8v0.8h-0.8zM379.5 99.2h0.8v0.8h-0.8zM380.9 96.6h0.8v0.8h-0.8zM384.6 98.2h0.8v0.8h-0.8zM380.7 111.7h0.8v0.8h-0.8zM379.8 90.0h0.8v0.8h-0.8zM383.7 93.7h0.8v0.8h-0.8zM382.6 95.4h0.8v0.8h-0.8zM382.2 94.6h0.8v0.8h-0.8zM381.4 103.5h0.8v0.8h-0.8zM378.9 119.5h0.8v0.8h-0.8zM380.1 110.6h0.8v0.8h-0.8zM384.6 97.9h0.8v0.8h-0.8zM378.4 106.5h0.8v0.8h-0.8zM380.8 98.0h0.8v0.8h-0.8zM383.1 102.9h0.8v0.8h-0.8zM381.4 102.1h0.8v0.8h-0.8zM379.7 105.8h0.8v0.8h-0.8zM379.2 108.8h0.8v0.8h-0.8zM382.2 91.5h0.8v0.8h-0.8zM379.5 102.5h0.8v0.8h-0.8zM380.7 104.1h0.8v0.8h-0.8zM383.2 85.5h0.8v0.8h-0.8zM379.9 104.0h0.8v0.8h-0.8zM379.5 102.1h0.8v0.8h-0.8zM383.6 98.6h0.8v0.8h-0.8zM382.4 98.5h0.8v0.8h-0.8zM380.8 109.1h0.8v0.8h-0.8zM377.9 108.4h0.8v0.8h-0.8zM381.4 103.5h0.8v0.8h-0.8zM381.1 88.2h0.8v0.8h-0.8zM384.7 86.1h0.8v0.8h-0.8zM378.0 101.6h0.8v0.8h-0.8zM381.4 94.6h0.8v0.8h-0.8zM379.6 103.3h0.8v0.8h-0.8zM382.7 85.1h0.8v0.8h-0.8zM381.8 91.8h0.8v0.8h-0.8zM383.3 107.6h0.8v0.8h-0.8zM382.1 99.9h0.8v0.8h-0.8zM382.5 86.5h0.8v0.8h-0.8zM385.3 102.1h0.8v0.8h-0.8zM384.9 98.4h0.8v0.8h-0.8zM377.8 118.3h0.8v0.8h-0.8zM381.4 101.9h0.8v0.8h-0.8zM383.2 112.2h0.8v0.8h-0.8zM380.4 97.4h0.8v0.8h-0.8zM379.4 104.5h0.8v0.8h-0.8zM384.1 102.8h0.8v0.8h-0.8zM382.4 97.6h0.8v0.8h-0.8zM380.5 97.3h0.8v0.8h-0.8zM382.2 92.3h0.8v0.8h-0.8zM380.6 93.1h0.8v0.8h-0.8zM381.8 100.8h0.8v0.8h-0.8zM382.7 82.9h0.8v0.8h-0.8zM379.8 88.1h0.8v0.8h-0.8zM381.0 86.8h0.8v0.8h-0.8zM383.6 103.8h0.8v0.8h-0.8zM380.5 97.2h0.8v0.8h-0.8zM379.8 104.3h0.8v0.8h-0.8zM381.1 103.5h0.8v0.8h-0.8zM384.4 109.6h0.8v0.8h-0.8zM384.3 104.1h0.8v0.8h-0.8zM380.1 110.2h0.8v0.8h-0.8zM385.0 112.2h0.8v0.8h-0.8zM383.9 102.7h0.8v0.8h-0.8zM384.6 92.5h0.8v0.8h-0.8zM380.6 101.5h0.8v0.8h-0.8zM381.7 105.4h0.8v0.8h-0.8zM380.5 103.4h0.8v0.8h-0.8zM381.0 101.7h0.8v0.8h-0.8zM380.9 105.1h0.8v0.8h-0.8zM383.3 104.7h0.8v0.8h-0.8zM380.6 94.7h0.8v0.8h-0.8zM381.7 93.2h0.8v0.8h-0.8zM382.2 94.8h0.8v0.8h-0.8zM378.5 102.8h0.8v0.8h-0.8zM380.4 94.9h0.8v0.8h-0.8zM381.9 98.5h0.8v0.8h-0.8zM384.6 98.6h0.8v0.8h-0.8zM382.2 116.0h0.8v0.8h-0.8zM382.7 90.3h0.8v0.8h-0.8zM381.8 90.9h0.8v0.8h-0.8zM381.7 93.2h0.8v0.8h-0.8zM384.0 122.2h0.8v0.8h-0.8zM379.8 96.1h0.8v0.8h-0.8zM382.6 85.7h0.8v0.8h-0.8zM382.8 91.4h0.8v0.8h-0.8zM385.1 112.9h0.8v0.8h-0.8zM381.8 87.6h0.8v0.8h-0.8zM381.1 90.7h0.8v0.8h-0.8zM376.7 95.4h0.8v0.8h-0.8z" fill="#6a8ad0" fill-opacity="0.45"/>
<ellipse cx="428.0" cy="103.5" rx="3.20" ry="13.00" fill="#3c9cf6" opacity="0.5" filter="url(#bl3)" transform="rotate(0.0 428.0 103.5)"/>
<path d="M431.0 89.8h0.8v0.8h-0.8zM423.2 111.9h0.8v0.8h-0.8zM425.5 97.7h0.8v0.8h-0.8zM424.1 100.2h0.8v0.8h-0.8zM428.6 98.6h0.8v0.8h-0.8zM430.6 101.0h0.8v0.8h-0.8zM425.9 98.0h0.8v0.8h-0.8zM431.0 101.4h0.8v0.8h-0.8zM430.1 97.5h0.8v0.8h-0.8zM428.7 92.0h0.8v0.8h-0.8zM431.4 100.2h0.8v0.8h-0.8zM426.9 106.4h0.8v0.8h-0.8zM428.2 101.0h0.8v0.8h-0.8zM428.2 117.6h0.8v0.8h-0.8zM427.8 104.2h0.8v0.8h-0.8zM427.9 109.7h0.8v0.8h-0.8zM427.1 100.8h0.8v0.8h-0.8zM429.5 120.5h0.8v0.8h-0.8zM425.3 96.1h0.8v0.8h-0.8zM430.1 99.4h0.8v0.8h-0.8zM429.2 104.7h0.8v0.8h-0.8zM429.1 102.3h0.8v0.8h-0.8zM425.2 98.8h0.8v0.8h-0.8zM433.9 101.9h0.8v0.8h-0.8zM430.8 98.7h0.8v0.8h-0.8zM430.1 96.0h0.8v0.8h-0.8zM427.6 114.4h0.8v0.8h-0.8zM425.6 109.4h0.8v0.8h-0.8zM430.3 101.9h0.8v0.8h-0.8zM426.9 91.3h0.8v0.8h-0.8zM429.3 119.9h0.8v0.8h-0.8zM430.6 96.6h0.8v0.8h-0.8zM430.2 114.0h0.8v0.8h-0.8zM422.5 100.2h0.8v0.8h-0.8zM426.6 111.1h0.8v0.8h-0.8zM427.8 86.2h0.8v0.8h-0.8zM425.1 120.6h0.8v0.8h-0.8zM427.8 118.7h0.8v0.8h-0.8zM423.5 107.6h0.8v0.8h-0.8zM428.0 104.1h0.8v0.8h-0.8zM427.5 103.3h0.8v0.8h-0.8zM427.0 97.6h0.8v0.8h-0.8zM423.7 113.6h0.8v0.8h-0.8zM422.0 98.7h0.8v0.8h-0.8zM425.6 106.2h0.8v0.8h-0.8zM427.1 113.4h0.8v0.8h-0.8zM428.2 97.9h0.8v0.8h-0.8zM425.8 93.1h0.8v0.8h-0.8zM428.2 89.0h0.8v0.8h-0.8zM426.8 97.3h0.8v0.8h-0.8zM426.1 87.3h0.8v0.8h-0.8zM426.7 106.3h0.8v0.8h-0.8zM423.8 110.3h0.8v0.8h-0.8zM428.0 107.1h0.8v0.8h-0.8zM428.5 99.0h0.8v0.8h-0.8zM428.8 105.7h0.8v0.8h-0.8zM424.8 106.5h0.8v0.8h-0.8zM424.9 100.8h0.8v0.8h-0.8zM426.5 102.6h0.8v0.8h-0.8zM429.2 104.8h0.8v0.8h-0.8zM432.0 92.2h0.8v0.8h-0.8zM429.8 106.2h0.8v0.8h-0.8zM427.2 110.7h0.8v0.8h-0.8zM427.7 105.9h0.8v0.8h-0.8zM425.3 99.2h0.8v0.8h-0.8zM429.0 90.6h0.8v0.8h-0.8zM428.2 101.6h0.8v0.8h-0.8zM428.4 105.2h0.8v0.8h-0.8zM426.3 101.3h0.8v0.8h-0.8zM426.1 100.6h0.8v0.8h-0.8zM427.7 94.1h0.8v0.8h-0.8zM425.4 110.8h0.8v0.8h-0.8zM429.7 104.2h0.8v0.8h-0.8zM426.1 103.1h0.8v0.8h-0.8zM423.1 91.8h0.8v0.8h-0.8zM426.5 114.0h0.8v0.8h-0.8zM427.1 95.5h0.8v0.8h-0.8zM426.4 97.6h0.8v0.8h-0.8zM429.3 102.1h0.8v0.8h-0.8zM425.9 109.7h0.8v0.8h-0.8zM429.3 96.8h0.8v0.8h-0.8zM432.7 98.8h0.8v0.8h-0.8zM427.0 105.4h0.8v0.8h-0.8zM430.4 108.5h0.8v0.8h-0.8zM424.5 99.3h0.8v0.8h-0.8zM428.9 92.4h0.8v0.8h-0.8zM432.2 97.8h0.8v0.8h-0.8zM428.0 120.2h0.8v0.8h-0.8zM428.4 88.2h0.8v0.8h-0.8zM432.6 105.4h0.8v0.8h-0.8zM426.3 116.8h0.8v0.8h-0.8zM423.3 102.4h0.8v0.8h-0.8zM431.0 107.1h0.8v0.8h-0.8zM430.1 107.8h0.8v0.8h-0.8zM425.5 90.5h0.8v0.8h-0.8zM425.6 112.2h0.8v0.8h-0.8zM428.4 93.6h0.8v0.8h-0.8zM428.7 104.7h0.8v0.8h-0.8zM430.4 95.5h0.8v0.8h-0.8zM429.7 118.0h0.8v0.8h-0.8zM431.1 98.6h0.8v0.8h-0.8zM429.4 98.3h0.8v0.8h-0.8zM426.7 110.0h0.8v0.8h-0.8zM427.0 99.9h0.8v0.8h-0.8zM426.1 111.3h0.8v0.8h-0.8zM422.9 99.4h0.8v0.8h-0.8zM423.4 103.5h0.8v0.8h-0.8zM432.0 110.0h0.8v0.8h-0.8zM423.2 114.9h0.8v0.8h-0.8zM426.0 95.3h0.8v0.8h-0.8zM426.5 105.3h0.8v0.8h-0.8zM427.1 97.2h0.8v0.8h-0.8zM426.1 104.6h0.8v0.8h-0.8zM422.0 105.3h0.8v0.8h-0.8zM431.7 101.0h0.8v0.8h-0.8zM423.6 110.1h0.8v0.8h-0.8zM427.7 104.1h0.8v0.8h-0.8zM427.6 93.9h0.8v0.8h-0.8zM425.4 98.0h0.8v0.8h-0.8zM425.9 105.2h0.8v0.8h-0.8zM431.0 97.0h0.8v0.8h-0.8zM423.5 102.2h0.8v0.8h-0.8zM423.3 96.6h0.8v0.8h-0.8zM431.0 105.5h0.8v0.8h-0.8zM428.3 99.8h0.8v0.8h-0.8zM430.0 92.9h0.8v0.8h-0.8zM432.2 103.2h0.8v0.8h-0.8zM431.1 111.5h0.8v0.8h-0.8zM427.5 121.3h0.8v0.8h-0.8zM424.8 125.3h0.8v0.8h-0.8zM430.9 91.0h0.8v0.8h-0.8zM431.6 119.0h0.8v0.8h-0.8zM432.0 93.1h0.8v0.8h-0.8zM423.2 115.4h0.8v0.8h-0.8zM431.4 112.1h0.8v0.8h-0.8z" fill="#3c9cf6" fill-opacity="0.55"/>
<path d="M431.5 105.5h0.8v0.8h-0.8zM425.1 103.0h0.8v0.8h-0.8zM428.0 93.2h0.8v0.8h-0.8zM428.3 103.4h0.8v0.8h-0.8zM423.8 102.4h0.8v0.8h-0.8zM424.2 102.4h0.8v0.8h-0.8zM427.1 100.9h0.8v0.8h-0.8zM422.1 108.1h0.8v0.8h-0.8zM424.7 101.7h0.8v0.8h-0.8zM421.6 105.4h0.8v0.8h-0.8zM426.2 113.3h0.8v0.8h-0.8zM426.3 93.6h0.8v0.8h-0.8zM427.9 111.1h0.8v0.8h-0.8zM426.2 114.3h0.8v0.8h-0.8zM428.3 100.3h0.8v0.8h-0.8zM426.7 110.4h0.8v0.8h-0.8zM431.4 97.0h0.8v0.8h-0.8zM426.1 98.0h0.8v0.8h-0.8zM421.9 99.0h0.8v0.8h-0.8zM428.4 99.6h0.8v0.8h-0.8zM427.1 110.6h0.8v0.8h-0.8zM430.5 117.2h0.8v0.8h-0.8zM428.5 109.2h0.8v0.8h-0.8zM430.4 109.7h0.8v0.8h-0.8zM428.4 108.7h0.8v0.8h-0.8zM424.5 104.1h0.8v0.8h-0.8zM428.1 103.8h0.8v0.8h-0.8zM427.1 99.1h0.8v0.8h-0.8zM432.6 108.7h0.8v0.8h-0.8zM430.3 95.6h0.8v0.8h-0.8zM429.5 104.8h0.8v0.8h-0.8zM431.5 118.9h0.8v0.8h-0.8zM427.5 112.1h0.8v0.8h-0.8zM424.6 104.0h0.8v0.8h-0.8zM426.7 97.7h0.8v0.8h-0.8zM428.2 105.8h0.8v0.8h-0.8zM426.0 104.1h0.8v0.8h-0.8zM428.5 120.8h0.8v0.8h-0.8zM424.8 106.3h0.8v0.8h-0.8zM426.8 113.4h0.8v0.8h-0.8zM428.4 110.9h0.8v0.8h-0.8zM425.9 99.4h0.8v0.8h-0.8zM430.7 112.9h0.8v0.8h-0.8zM425.3 102.2h0.8v0.8h-0.8zM429.8 91.8h0.8v0.8h-0.8zM423.1 109.6h0.8v0.8h-0.8zM428.1 99.8h0.8v0.8h-0.8zM427.1 109.1h0.8v0.8h-0.8zM428.6 103.7h0.8v0.8h-0.8zM428.8 97.4h0.8v0.8h-0.8zM427.2 110.4h0.8v0.8h-0.8zM428.5 106.3h0.8v0.8h-0.8zM426.0 111.1h0.8v0.8h-0.8zM430.8 108.5h0.8v0.8h-0.8zM427.6 109.3h0.8v0.8h-0.8zM428.8 99.7h0.8v0.8h-0.8zM429.2 115.3h0.8v0.8h-0.8zM424.2 100.8h0.8v0.8h-0.8zM427.9 90.9h0.8v0.8h-0.8zM430.0 115.0h0.8v0.8h-0.8zM425.9 96.7h0.8v0.8h-0.8zM424.8 93.5h0.8v0.8h-0.8zM428.3 109.8h0.8v0.8h-0.8zM427.4 89.8h0.8v0.8h-0.8zM433.2 98.4h0.8v0.8h-0.8zM424.9 105.8h0.8v0.8h-0.8zM431.1 108.8h0.8v0.8h-0.8zM426.8 121.6h0.8v0.8h-0.8zM426.9 103.7h0.8v0.8h-0.8zM427.5 104.8h0.8v0.8h-0.8zM427.3 101.0h0.8v0.8h-0.8zM423.7 107.8h0.8v0.8h-0.8zM432.9 98.9h0.8v0.8h-0.8zM422.9 106.6h0.8v0.8h-0.8zM430.3 111.9h0.8v0.8h-0.8zM426.1 96.9h0.8v0.8h-0.8zM426.2 105.1h0.8v0.8h-0.8zM431.3 104.0h0.8v0.8h-0.8zM428.7 97.2h0.8v0.8h-0.8zM425.8 97.7h0.8v0.8h-0.8zM427.3 98.2h0.8v0.8h-0.8zM426.5 96.6h0.8v0.8h-0.8zM428.9 108.1h0.8v0.8h-0.8zM424.9 109.6h0.8v0.8h-0.8zM426.1 104.0h0.8v0.8h-0.8zM425.3 95.6h0.8v0.8h-0.8zM429.6 105.1h0.8v0.8h-0.8zM423.6 101.9h0.8v0.8h-0.8zM426.4 112.8h0.8v0.8h-0.8zM427.9 101.7h0.8v0.8h-0.8zM432.3 111.4h0.8v0.8h-0.8zM425.5 110.7h0.8v0.8h-0.8zM423.3 102.5h0.8v0.8h-0.8zM427.3 103.9h0.8v0.8h-0.8zM423.1 111.9h0.8v0.8h-0.8zM428.4 97.8h0.8v0.8h-0.8zM427.7 94.3h0.8v0.8h-0.8zM428.9 100.1h0.8v0.8h-0.8zM429.1 97.2h0.8v0.8h-0.8zM428.5 112.7h0.8v0.8h-0.8zM426.8 113.1h0.8v0.8h-0.8zM426.2 107.2h0.8v0.8h-0.8zM426.7 97.2h0.8v0.8h-0.8zM430.7 90.5h0.8v0.8h-0.8zM427.0 85.1h0.8v0.8h-0.8zM428.1 102.4h0.8v0.8h-0.8zM427.2 94.1h0.8v0.8h-0.8zM422.9 94.7h0.8v0.8h-0.8zM424.6 104.2h0.8v0.8h-0.8zM427.0 101.4h0.8v0.8h-0.8zM425.3 87.0h0.8v0.8h-0.8zM429.1 112.1h0.8v0.8h-0.8zM432.9 95.2h0.8v0.8h-0.8zM425.3 103.2h0.8v0.8h-0.8zM429.4 105.9h0.8v0.8h-0.8zM429.9 108.4h0.8v0.8h-0.8zM430.3 102.9h0.8v0.8h-0.8zM429.5 98.6h0.8v0.8h-0.8zM425.8 109.5h0.8v0.8h-0.8zM426.2 99.4h0.8v0.8h-0.8zM428.9 97.9h0.8v0.8h-0.8zM426.8 100.1h0.8v0.8h-0.8zM427.0 96.4h0.8v0.8h-0.8zM427.0 109.5h0.8v0.8h-0.8zM427.8 84.5h0.8v0.8h-0.8zM430.9 123.9h0.8v0.8h-0.8zM431.8 83.6h0.8v0.8h-0.8zM423.6 105.0h0.8v0.8h-0.8zM428.7 82.2h0.8v0.8h-0.8zM428.0 117.1h0.8v0.8h-0.8zM425.7 115.3h0.8v0.8h-0.8zM423.0 110.9h0.8v0.8h-0.8zM433.6 111.3h0.8v0.8h-0.8zM426.0 82.1h0.8v0.8h-0.8zM428.8 127.4h0.8v0.8h-0.8z" fill="#3c9cf6" fill-opacity="0.55"/>
<path d="M431.5 102.4h0.8v0.8h-0.8zM426.3 92.7h0.8v0.8h-0.8zM423.5 88.5h0.8v0.8h-0.8zM429.3 115.2h0.8v0.8h-0.8zM429.8 121.9h0.8v0.8h-0.8zM428.0 103.2h0.8v0.8h-0.8zM430.8 105.8h0.8v0.8h-0.8zM433.9 106.7h0.8v0.8h-0.8zM429.8 104.1h0.8v0.8h-0.8zM430.9 104.5h0.8v0.8h-0.8zM427.8 93.1h0.8v0.8h-0.8zM425.2 107.4h0.8v0.8h-0.8zM425.7 95.1h0.8v0.8h-0.8zM426.4 107.0h0.8v0.8h-0.8zM428.5 101.8h0.8v0.8h-0.8zM424.7 104.7h0.8v0.8h-0.8zM427.8 108.2h0.8v0.8h-0.8zM426.2 93.3h0.8v0.8h-0.8zM426.1 97.8h0.8v0.8h-0.8zM422.9 110.7h0.8v0.8h-0.8zM427.9 115.4h0.8v0.8h-0.8zM426.0 97.3h0.8v0.8h-0.8zM427.7 99.5h0.8v0.8h-0.8zM431.1 117.5h0.8v0.8h-0.8zM429.5 107.6h0.8v0.8h-0.8zM429.8 95.7h0.8v0.8h-0.8zM428.5 114.8h0.8v0.8h-0.8zM427.3 96.0h0.8v0.8h-0.8zM426.3 97.2h0.8v0.8h-0.8zM424.5 86.6h0.8v0.8h-0.8zM426.8 93.3h0.8v0.8h-0.8zM428.7 107.4h0.8v0.8h-0.8zM425.7 97.4h0.8v0.8h-0.8zM425.6 103.0h0.8v0.8h-0.8zM429.1 96.2h0.8v0.8h-0.8zM425.6 93.7h0.8v0.8h-0.8zM426.5 99.6h0.8v0.8h-0.8zM424.3 96.9h0.8v0.8h-0.8zM431.1 108.4h0.8v0.8h-0.8zM424.4 110.6h0.8v0.8h-0.8zM428.3 99.4h0.8v0.8h-0.8zM428.0 102.6h0.8v0.8h-0.8zM429.5 117.3h0.8v0.8h-0.8zM424.4 92.7h0.8v0.8h-0.8zM422.6 106.9h0.8v0.8h-0.8zM427.0 111.1h0.8v0.8h-0.8zM429.3 94.6h0.8v0.8h-0.8zM427.8 118.7h0.8v0.8h-0.8zM427.5 107.7h0.8v0.8h-0.8zM431.2 109.0h0.8v0.8h-0.8zM425.6 104.5h0.8v0.8h-0.8zM432.2 112.4h0.8v0.8h-0.8zM424.3 95.1h0.8v0.8h-0.8zM430.1 93.8h0.8v0.8h-0.8zM431.8 106.8h0.8v0.8h-0.8zM422.1 106.1h0.8v0.8h-0.8zM427.5 101.1h0.8v0.8h-0.8zM428.4 104.6h0.8v0.8h-0.8zM426.9 110.8h0.8v0.8h-0.8zM426.8 92.3h0.8v0.8h-0.8zM427.8 109.4h0.8v0.8h-0.8zM425.7 116.9h0.8v0.8h-0.8zM428.5 99.1h0.8v0.8h-0.8zM428.0 111.3h0.8v0.8h-0.8zM432.0 93.5h0.8v0.8h-0.8zM425.3 95.0h0.8v0.8h-0.8zM427.1 98.9h0.8v0.8h-0.8zM427.2 109.1h0.8v0.8h-0.8zM431.9 105.1h0.8v0.8h-0.8zM432.1 93.9h0.8v0.8h-0.8zM424.9 98.5h0.8v0.8h-0.8zM426.5 92.1h0.8v0.8h-0.8zM430.4 104.5h0.8v0.8h-0.8zM424.7 103.0h0.8v0.8h-0.8zM425.4 90.3h0.8v0.8h-0.8zM430.5 105.6h0.8v0.8h-0.8zM424.3 102.7h0.8v0.8h-0.8zM425.6 97.3h0.8v0.8h-0.8zM431.1 115.3h0.8v0.8h-0.8zM429.5 108.4h0.8v0.8h-0.8zM430.4 92.0h0.8v0.8h-0.8zM427.5 108.7h0.8v0.8h-0.8zM427.8 103.4h0.8v0.8h-0.8zM423.7 99.2h0.8v0.8h-0.8zM426.7 93.2h0.8v0.8h-0.8zM426.1 101.9h0.8v0.8h-0.8zM427.3 95.9h0.8v0.8h-0.8zM425.0 102.6h0.8v0.8h-0.8zM423.6 103.9h0.8v0.8h-0.8zM428.3 101.1h0.8v0.8h-0.8zM429.8 99.6h0.8v0.8h-0.8zM431.5 106.9h0.8v0.8h-0.8zM427.1 95.8h0.8v0.8h-0.8zM430.8 107.3h0.8v0.8h-0.8zM427.3 102.9h0.8v0.8h-0.8zM429.6 98.3h0.8v0.8h-0.8zM423.7 106.9h0.8v0.8h-0.8zM430.4 109.6h0.8v0.8h-0.8zM428.9 96.1h0.8v0.8h-0.8zM426.5 107.7h0.8v0.8h-0.8zM422.3 107.0h0.8v0.8h-0.8zM430.1 98.3h0.8v0.8h-0.8zM431.2 99.1h0.8v0.8h-0.8zM427.2 107.2h0.8v0.8h-0.8zM427.5 93.5h0.8v0.8h-0.8zM427.0 107.1h0.8v0.8h-0.8zM429.7 95.7h0.8v0.8h-0.8zM425.6 110.3h0.8v0.8h-0.8zM426.6 101.9h0.8v0.8h-0.8zM425.9 109.0h0.8v0.8h-0.8zM429.1 99.1h0.8v0.8h-0.8zM424.9 95.0h0.8v0.8h-0.8zM427.7 95.1h0.8v0.8h-0.8zM427.9 111.9h0.8v0.8h-0.8zM428.1 92.7h0.8v0.8h-0.8zM425.4 112.2h0.8v0.8h-0.8zM425.0 118.9h0.8v0.8h-0.8zM426.4 119.5h0.8v0.8h-0.8zM428.3 90.5h0.8v0.8h-0.8zM424.5 118.7h0.8v0.8h-0.8zM424.8 103.4h0.8v0.8h-0.8zM429.1 121.6h0.8v0.8h-0.8zM428.8 90.1h0.8v0.8h-0.8zM427.7 111.4h0.8v0.8h-0.8zM426.0 102.6h0.8v0.8h-0.8zM425.7 119.2h0.8v0.8h-0.8zM433.8 89.8h0.8v0.8h-0.8zM434.1 106.3h0.8v0.8h-0.8zM428.2 127.5h0.8v0.8h-0.8zM431.3 119.3h0.8v0.8h-0.8zM422.5 111.5h0.8v0.8h-0.8zM424.9 103.5h0.8v0.8h-0.8zM423.4 113.3h0.8v0.8h-0.8zM422.6 101.2h0.8v0.8h-0.8zM432.1 85.8h0.8v0.8h-0.8z" fill="#3c9cf6" fill-opacity="0.55"/>
<path d="M430.6 102.1h0.8v0.8h-0.8zM429.7 93.8h0.8v0.8h-0.8zM429.8 118.3h0.8v0.8h-0.8zM431.8 106.5h0.8v0.8h-0.8zM432.6 99.4h0.8v0.8h-0.8zM430.0 112.9h0.8v0.8h-0.8zM428.1 86.9h0.8v0.8h-0.8zM424.6 101.0h0.8v0.8h-0.8zM426.5 115.0h0.8v0.8h-0.8zM426.4 107.6h0.8v0.8h-0.8zM426.4 114.0h0.8v0.8h-0.8zM428.4 103.7h0.8v0.8h-0.8zM429.9 99.8h0.8v0.8h-0.8zM426.9 109.4h0.8v0.8h-0.8zM426.7 107.1h0.8v0.8h-0.8zM427.0 85.9h0.8v0.8h-0.8zM427.8 110.4h0.8v0.8h-0.8zM424.5 99.5h0.8v0.8h-0.8zM424.3 106.3h0.8v0.8h-0.8zM427.4 106.6h0.8v0.8h-0.8zM428.5 91.3h0.8v0.8h-0.8zM430.7 112.2h0.8v0.8h-0.8zM428.8 104.3h0.8v0.8h-0.8zM429.2 95.4h0.8v0.8h-0.8zM426.2 102.2h0.8v0.8h-0.8zM429.0 103.3h0.8v0.8h-0.8zM425.8 91.0h0.8v0.8h-0.8zM423.1 91.4h0.8v0.8h-0.8zM433.1 105.8h0.8v0.8h-0.8zM424.8 88.5h0.8v0.8h-0.8zM428.9 98.6h0.8v0.8h-0.8zM427.2 104.6h0.8v0.8h-0.8zM430.0 105.1h0.8v0.8h-0.8zM425.1 100.8h0.8v0.8h-0.8zM429.1 93.0h0.8v0.8h-0.8zM423.7 103.2h0.8v0.8h-0.8zM424.5 98.4h0.8v0.8h-0.8zM427.6 94.3h0.8v0.8h-0.8zM423.4 113.4h0.8v0.8h-0.8zM426.0 87.5h0.8v0.8h-0.8zM427.0 105.6h0.8v0.8h-0.8zM433.1 107.4h0.8v0.8h-0.8zM425.5 99.5h0.8v0.8h-0.8zM428.3 118.8h0.8v0.8h-0.8zM428.5 109.3h0.8v0.8h-0.8zM428.7 95.1h0.8v0.8h-0.8zM425.1 110.9h0.8v0.8h-0.8zM429.6 107.2h0.8v0.8h-0.8zM427.7 112.8h0.8v0.8h-0.8zM426.6 107.3h0.8v0.8h-0.8zM429.4 118.2h0.8v0.8h-0.8zM424.3 116.9h0.8v0.8h-0.8zM422.3 96.7h0.8v0.8h-0.8zM422.5 106.0h0.8v0.8h-0.8zM429.9 108.3h0.8v0.8h-0.8zM427.5 98.4h0.8v0.8h-0.8zM426.0 112.9h0.8v0.8h-0.8zM422.5 113.6h0.8v0.8h-0.8zM427.4 110.5h0.8v0.8h-0.8zM423.9 111.7h0.8v0.8h-0.8zM425.4 88.8h0.8v0.8h-0.8zM431.2 104.4h0.8v0.8h-0.8zM430.9 94.2h0.8v0.8h-0.8zM424.5 95.4h0.8v0.8h-0.8zM428.2 106.3h0.8v0.8h-0.8zM424.7 96.6h0.8v0.8h-0.8zM427.6 111.1h0.8v0.8h-0.8zM428.4 99.2h0.8v0.8h-0.8zM426.6 109.1h0.8v0.8h-0.8zM429.2 103.9h0.8v0.8h-0.8zM425.8 107.7h0.8v0.8h-0.8zM426.4 102.0h0.8v0.8h-0.8zM428.9 103.8h0.8v0.8h-0.8zM421.6 106.9h0.8v0.8h-0.8zM422.3 112.9h0.8v0.8h-0.8zM426.0 108.7h0.8v0.8h-0.8zM426.9 86.6h0.8v0.8h-0.8zM431.9 109.9h0.8v0.8h-0.8zM425.8 91.1h0.8v0.8h-0.8zM427.8 105.0h0.8v0.8h-0.8zM431.0 97.4h0.8v0.8h-0.8zM424.9 114.9h0.8v0.8h-0.8zM429.3 97.7h0.8v0.8h-0.8zM428.2 114.3h0.8v0.8h-0.8zM428.2 91.1h0.8v0.8h-0.8zM425.0 99.3h0.8v0.8h-0.8zM428.1 86.5h0.8v0.8h-0.8zM422.1 95.0h0.8v0.8h-0.8zM426.2 112.0h0.8v0.8h-0.8zM432.2 96.6h0.8v0.8h-0.8zM432.5 91.5h0.8v0.8h-0.8zM428.8 116.1h0.8v0.8h-0.8zM433.1 103.9h0.8v0.8h-0.8zM425.9 103.5h0.8v0.8h-0.8zM427.2 97.6h0.8v0.8h-0.8zM428.1 103.1h0.8v0.8h-0.8zM428.5 88.8h0.8v0.8h-0.8zM431.9 112.5h0.8v0.8h-0.8zM427.0 111.4h0.8v0.8h-0.8zM425.4 105.7h0.8v0.8h-0.8zM428.7 105.8h0.8v0.8h-0.8zM431.2 101.7h0.8v0.8h-0.8zM426.5 110.0h0.8v0.8h-0.8zM432.0 90.4h0.8v0.8h-0.8zM429.1 116.2h0.8v0.8h-0.8zM429.0 93.6h0.8v0.8h-0.8zM426.0 94.4h0.8v0.8h-0.8zM425.6 109.7h0.8v0.8h-0.8zM426.8 94.1h0.8v0.8h-0.8zM427.2 104.2h0.8v0.8h-0.8zM429.3 97.8h0.8v0.8h-0.8zM425.2 105.7h0.8v0.8h-0.8zM431.2 104.0h0.8v0.8h-0.8zM422.7 106.3h0.8v0.8h-0.8zM425.6 103.9h0.8v0.8h-0.8zM427.8 104.4h0.8v0.8h-0.8zM427.6 109.2h0.8v0.8h-0.8zM429.7 97.6h0.8v0.8h-0.8zM431.1 111.9h0.8v0.8h-0.8zM427.1 108.6h0.8v0.8h-0.8zM425.2 100.4h0.8v0.8h-0.8zM424.9 105.8h0.8v0.8h-0.8zM427.0 105.9h0.8v0.8h-0.8zM431.8 104.2h0.8v0.8h-0.8zM427.9 93.8h0.8v0.8h-0.8zM435.1 108.6h0.8v0.8h-0.8zM424.3 112.3h0.8v0.8h-0.8zM422.8 118.8h0.8v0.8h-0.8zM421.0 91.3h0.8v0.8h-0.8zM433.6 103.7h0.8v0.8h-0.8zM430.9 121.5h0.8v0.8h-0.8zM433.7 111.1h0.8v0.8h-0.8zM429.5 81.5h0.8v0.8h-0.8zM427.1 114.4h0.8v0.8h-0.8zM426.3 113.4h0.8v0.8h-0.8z" fill="#3c9cf6" fill-opacity="0.55"/>
<path d="M424.5 105.0h0.8v0.8h-0.8zM425.9 114.4h0.8v0.8h-0.8zM430.5 97.0h0.8v0.8h-0.8zM425.5 100.2h0.8v0.8h-0.8zM426.3 94.4h0.8v0.8h-0.8zM433.6 102.0h0.8v0.8h-0.8zM427.9 100.4h0.8v0.8h-0.8zM429.8 106.7h0.8v0.8h-0.8zM431.3 89.3h0.8v0.8h-0.8zM426.7 91.9h0.8v0.8h-0.8zM428.5 118.7h0.8v0.8h-0.8zM429.5 95.6h0.8v0.8h-0.8zM427.1 101.5h0.8v0.8h-0.8zM428.0 99.9h0.8v0.8h-0.8zM429.3 106.1h0.8v0.8h-0.8zM431.1 111.4h0.8v0.8h-0.8zM422.4 112.9h0.8v0.8h-0.8zM429.6 99.2h0.8v0.8h-0.8zM425.4 84.6h0.8v0.8h-0.8zM427.1 95.9h0.8v0.8h-0.8zM427.2 103.2h0.8v0.8h-0.8zM428.5 109.3h0.8v0.8h-0.8zM425.1 100.7h0.8v0.8h-0.8zM426.7 115.6h0.8v0.8h-0.8zM430.1 99.5h0.8v0.8h-0.8zM429.0 87.9h0.8v0.8h-0.8zM424.7 97.6h0.8v0.8h-0.8zM425.6 105.5h0.8v0.8h-0.8zM424.8 88.3h0.8v0.8h-0.8zM430.4 108.3h0.8v0.8h-0.8zM431.2 112.3h0.8v0.8h-0.8zM426.8 107.1h0.8v0.8h-0.8zM425.4 111.1h0.8v0.8h-0.8zM431.6 94.3h0.8v0.8h-0.8zM426.1 104.5h0.8v0.8h-0.8zM427.6 101.1h0.8v0.8h-0.8zM426.9 92.3h0.8v0.8h-0.8zM429.3 93.5h0.8v0.8h-0.8zM430.6 97.9h0.8v0.8h-0.8zM430.3 106.8h0.8v0.8h-0.8zM427.3 100.0h0.8v0.8h-0.8zM428.3 102.6h0.8v0.8h-0.8zM429.3 103.9h0.8v0.8h-0.8zM424.4 117.0h0.8v0.8h-0.8zM427.5 92.4h0.8v0.8h-0.8zM429.3 103.2h0.8v0.8h-0.8zM429.2 108.4h0.8v0.8h-0.8zM428.1 92.3h0.8v0.8h-0.8zM428.7 92.9h0.8v0.8h-0.8zM425.9 98.3h0.8v0.8h-0.8zM427.5 109.6h0.8v0.8h-0.8zM425.8 96.3h0.8v0.8h-0.8zM430.6 105.4h0.8v0.8h-0.8zM428.1 107.1h0.8v0.8h-0.8zM425.9 109.2h0.8v0.8h-0.8zM426.0 114.5h0.8v0.8h-0.8zM426.0 96.1h0.8v0.8h-0.8zM427.1 103.8h0.8v0.8h-0.8zM429.4 105.3h0.8v0.8h-0.8zM428.9 107.8h0.8v0.8h-0.8zM426.4 106.6h0.8v0.8h-0.8zM425.7 88.0h0.8v0.8h-0.8zM429.5 99.3h0.8v0.8h-0.8zM430.1 101.7h0.8v0.8h-0.8zM430.0 103.1h0.8v0.8h-0.8zM422.4 106.8h0.8v0.8h-0.8zM429.5 98.1h0.8v0.8h-0.8zM429.5 112.5h0.8v0.8h-0.8zM429.4 94.2h0.8v0.8h-0.8zM430.8 92.0h0.8v0.8h-0.8zM430.3 112.7h0.8v0.8h-0.8zM429.9 110.0h0.8v0.8h-0.8zM430.6 107.5h0.8v0.8h-0.8zM430.3 107.2h0.8v0.8h-0.8zM428.5 119.2h0.8v0.8h-0.8zM426.3 108.4h0.8v0.8h-0.8zM427.6 113.4h0.8v0.8h-0.8zM422.8 108.2h0.8v0.8h-0.8zM426.3 110.4h0.8v0.8h-0.8zM428.6 105.9h0.8v0.8h-0.8zM428.4 99.4h0.8v0.8h-0.8zM431.0 109.9h0.8v0.8h-0.8zM424.0 110.2h0.8v0.8h-0.8zM429.7 115.8h0.8v0.8h-0.8zM425.7 105.8h0.8v0.8h-0.8zM430.6 99.3h0.8v0.8h-0.8zM428.1 96.6h0.8v0.8h-0.8zM427.2 97.8h0.8v0.8h-0.8zM430.8 105.1h0.8v0.8h-0.8zM427.8 97.7h0.8v0.8h-0.8zM425.6 120.8h0.8v0.8h-0.8zM432.2 93.3h0.8v0.8h-0.8zM427.8 112.0h0.8v0.8h-0.8zM429.4 92.0h0.8v0.8h-0.8zM432.4 109.5h0.8v0.8h-0.8zM425.5 111.6h0.8v0.8h-0.8zM426.4 103.9h0.8v0.8h-0.8zM424.2 99.0h0.8v0.8h-0.8zM425.3 104.3h0.8v0.8h-0.8zM427.0 111.6h0.8v0.8h-0.8zM423.1 92.1h0.8v0.8h-0.8zM431.9 93.6h0.8v0.8h-0.8zM425.2 96.0h0.8v0.8h-0.8zM428.2 98.6h0.8v0.8h-0.8zM428.5 108.1h0.8v0.8h-0.8zM424.2 108.1h0.8v0.8h-0.8zM428.9 108.1h0.8v0.8h-0.8zM428.3 104.7h0.8v0.8h-0.8zM424.4 104.9h0.8v0.8h-0.8zM429.6 101.9h0.8v0.8h-0.8zM423.4 95.4h0.8v0.8h-0.8zM427.8 100.9h0.8v0.8h-0.8zM428.1 111.5h0.8v0.8h-0.8zM430.6 92.2h0.8v0.8h-0.8zM427.4 102.1h0.8v0.8h-0.8zM425.8 98.9h0.8v0.8h-0.8zM427.9 83.8h0.8v0.8h-0.8zM428.5 89.6h0.8v0.8h-0.8zM426.8 94.7h0.8v0.8h-0.8zM425.5 99.1h0.8v0.8h-0.8zM429.8 101.3h0.8v0.8h-0.8zM427.6 111.8h0.8v0.8h-0.8zM430.4 104.5h0.8v0.8h-0.8zM426.0 93.1h0.8v0.8h-0.8zM430.5 107.6h0.8v0.8h-0.8zM426.0 96.2h0.8v0.8h-0.8zM432.5 111.5h0.8v0.8h-0.8zM424.4 124.0h0.8v0.8h-0.8zM432.7 114.3h0.8v0.8h-0.8zM423.4 92.2h0.8v0.8h-0.8zM422.6 94.9h0.8v0.8h-0.8zM427.6 112.3h0.8v0.8h-0.8zM423.7 83.5h0.8v0.8h-0.8zM430.6 97.3h0.8v0.8h-0.8zM422.9 122.3h0.8v0.8h-0.8z" fill="#3c9cf6" fill-opacity="0.55"/>
<path d="M426.0 102.0h0.8v0.8h-0.8zM429.9 98.8h0.8v0.8h-0.8zM426.0 94.0h0.8v0.8h-0.8zM427.4 111.3h0.8v0.8h-0.8zM428.7 96.3h0.8v0.8h-0.8zM432.6 102.6h0.8v0.8h-0.8zM430.2 98.7h0.8v0.8h-0.8zM424.8 97.7h0.8v0.8h-0.8zM424.4 95.1h0.8v0.8h-0.8zM426.5 109.4h0.8v0.8h-0.8zM429.3 105.2h0.8v0.8h-0.8zM426.5 116.7h0.8v0.8h-0.8zM426.5 88.0h0.8v0.8h-0.8zM423.5 111.4h0.8v0.8h-0.8zM430.2 118.8h0.8v0.8h-0.8zM431.3 94.0h0.8v0.8h-0.8zM424.6 101.7h0.8v0.8h-0.8zM425.5 102.5h0.8v0.8h-0.8zM424.9 109.9h0.8v0.8h-0.8zM426.3 105.9h0.8v0.8h-0.8zM426.1 93.1h0.8v0.8h-0.8zM426.8 103.1h0.8v0.8h-0.8zM426.7 108.8h0.8v0.8h-0.8zM425.5 104.1h0.8v0.8h-0.8zM427.7 95.9h0.8v0.8h-0.8zM427.9 101.1h0.8v0.8h-0.8zM427.9 109.9h0.8v0.8h-0.8zM428.6 110.2h0.8v0.8h-0.8zM426.6 102.8h0.8v0.8h-0.8zM424.3 95.5h0.8v0.8h-0.8zM430.0 87.5h0.8v0.8h-0.8zM427.1 90.2h0.8v0.8h-0.8zM431.5 109.5h0.8v0.8h-0.8zM422.9 114.9h0.8v0.8h-0.8zM425.7 111.3h0.8v0.8h-0.8zM433.0 102.7h0.8v0.8h-0.8zM427.0 106.4h0.8v0.8h-0.8zM428.5 90.2h0.8v0.8h-0.8zM426.4 115.0h0.8v0.8h-0.8zM428.4 100.5h0.8v0.8h-0.8zM431.0 106.8h0.8v0.8h-0.8zM425.5 96.5h0.8v0.8h-0.8zM423.8 110.3h0.8v0.8h-0.8zM430.3 111.9h0.8v0.8h-0.8zM430.8 110.0h0.8v0.8h-0.8zM430.2 119.9h0.8v0.8h-0.8zM429.3 112.4h0.8v0.8h-0.8zM427.9 103.8h0.8v0.8h-0.8zM428.9 89.6h0.8v0.8h-0.8zM430.5 90.0h0.8v0.8h-0.8zM429.1 103.9h0.8v0.8h-0.8zM430.7 100.6h0.8v0.8h-0.8zM426.1 115.1h0.8v0.8h-0.8zM424.9 104.5h0.8v0.8h-0.8zM428.5 116.9h0.8v0.8h-0.8zM425.6 94.2h0.8v0.8h-0.8zM427.0 103.0h0.8v0.8h-0.8zM431.6 94.6h0.8v0.8h-0.8zM426.6 103.8h0.8v0.8h-0.8zM423.0 98.3h0.8v0.8h-0.8zM424.6 111.5h0.8v0.8h-0.8zM426.4 107.6h0.8v0.8h-0.8zM426.6 105.5h0.8v0.8h-0.8zM430.6 100.3h0.8v0.8h-0.8zM425.8 104.1h0.8v0.8h-0.8zM425.6 113.9h0.8v0.8h-0.8zM427.2 104.6h0.8v0.8h-0.8zM427.7 107.4h0.8v0.8h-0.8zM426.0 94.0h0.8v0.8h-0.8zM424.5 117.6h0.8v0.8h-0.8zM430.6 94.3h0.8v0.8h-0.8zM431.0 109.6h0.8v0.8h-0.8zM426.4 102.3h0.8v0.8h-0.8zM430.2 102.3h0.8v0.8h-0.8zM429.9 98.4h0.8v0.8h-0.8zM427.8 109.5h0.8v0.8h-0.8zM426.4 101.3h0.8v0.8h-0.8zM426.2 98.1h0.8v0.8h-0.8zM428.1 102.6h0.8v0.8h-0.8zM424.9 110.1h0.8v0.8h-0.8zM428.6 112.9h0.8v0.8h-0.8zM424.7 98.5h0.8v0.8h-0.8zM422.0 107.8h0.8v0.8h-0.8zM425.2 105.4h0.8v0.8h-0.8zM425.1 102.9h0.8v0.8h-0.8zM422.3 100.6h0.8v0.8h-0.8zM425.9 100.7h0.8v0.8h-0.8zM425.1 101.8h0.8v0.8h-0.8zM426.2 89.5h0.8v0.8h-0.8zM430.1 118.0h0.8v0.8h-0.8zM426.5 96.3h0.8v0.8h-0.8zM428.9 93.5h0.8v0.8h-0.8zM428.1 92.5h0.8v0.8h-0.8zM428.2 108.5h0.8v0.8h-0.8zM431.7 93.8h0.8v0.8h-0.8zM427.9 84.8h0.8v0.8h-0.8zM423.6 112.6h0.8v0.8h-0.8zM428.9 112.0h0.8v0.8h-0.8zM429.5 102.8h0.8v0.8h-0.8zM422.4 102.3h0.8v0.8h-0.8zM425.6 96.7h0.8v0.8h-0.8zM426.9 109.0h0.8v0.8h-0.8zM427.1 104.5h0.8v0.8h-0.8zM432.0 106.4h0.8v0.8h-0.8zM424.5 97.1h0.8v0.8h-0.8zM429.9 92.3h0.8v0.8h-0.8zM431.3 101.4h0.8v0.8h-0.8zM427.6 97.1h0.8v0.8h-0.8zM425.7 117.4h0.8v0.8h-0.8zM425.7 91.7h0.8v0.8h-0.8zM426.8 97.2h0.8v0.8h-0.8zM427.4 89.0h0.8v0.8h-0.8zM431.0 97.4h0.8v0.8h-0.8zM429.5 109.7h0.8v0.8h-0.8zM429.6 103.4h0.8v0.8h-0.8zM425.9 106.1h0.8v0.8h-0.8zM430.8 93.5h0.8v0.8h-0.8zM425.6 101.5h0.8v0.8h-0.8zM427.6 98.2h0.8v0.8h-0.8zM427.3 116.5h0.8v0.8h-0.8zM430.2 99.2h0.8v0.8h-0.8zM424.7 94.0h0.8v0.8h-0.8zM430.8 107.4h0.8v0.8h-0.8zM432.2 106.0h0.8v0.8h-0.8zM427.6 97.4h0.8v0.8h-0.8zM420.6 96.6h0.8v0.8h-0.8zM428.4 90.6h0.8v0.8h-0.8zM431.5 87.0h0.8v0.8h-0.8zM427.9 105.8h0.8v0.8h-0.8zM435.1 110.9h0.8v0.8h-0.8zM428.1 119.2h0.8v0.8h-0.8zM433.6 97.6h0.8v0.8h-0.8zM422.3 116.6h0.8v0.8h-0.8zM435.1 96.9h0.8v0.8h-0.8zM432.5 109.1h0.8v0.8h-0.8z" fill="#3c9cf6" fill-opacity="0.55"/>
<path d="M428.7 108.7h0.8v0.8h-0.8zM429.4 102.2h0.8v0.8h-0.8zM427.3 111.0h0.8v0.8h-0.8zM426.5 102.4h0.8v0.8h-0.8zM429.0 105.4h0.8v0.8h-0.8zM430.9 100.8h0.8v0.8h-0.8zM424.2 100.9h0.8v0.8h-0.8zM427.3 117.4h0.8v0.8h-0.8zM426.9 104.3h0.8v0.8h-0.8zM428.4 108.7h0.8v0.8h-0.8zM430.4 97.9h0.8v0.8h-0.8zM425.0 113.8h0.8v0.8h-0.8zM427.3 99.2h0.8v0.8h-0.8zM423.6 98.1h0.8v0.8h-0.8zM432.2 104.0h0.8v0.8h-0.8zM428.7 114.3h0.8v0.8h-0.8zM426.8 107.4h0.8v0.8h-0.8zM431.8 103.6h0.8v0.8h-0.8zM430.8 93.9h0.8v0.8h-0.8zM424.3 115.8h0.8v0.8h-0.8zM432.8 102.6h0.8v0.8h-0.8zM427.7 85.8h0.8v0.8h-0.8zM424.2 96.7h0.8v0.8h-0.8zM428.4 110.9h0.8v0.8h-0.8zM427.7 94.5h0.8v0.8h-0.8zM428.2 97.6h0.8v0.8h-0.8zM425.7 94.8h0.8v0.8h-0.8zM425.5 102.8h0.8v0.8h-0.8zM423.7 108.8h0.8v0.8h-0.8zM427.4 103.9h0.8v0.8h-0.8zM428.4 117.8h0.8v0.8h-0.8zM425.9 106.5h0.8v0.8h-0.8zM431.1 110.9h0.8v0.8h-0.8zM429.7 102.7h0.8v0.8h-0.8zM427.3 104.7h0.8v0.8h-0.8zM428.0 89.5h0.8v0.8h-0.8zM427.3 107.9h0.8v0.8h-0.8zM425.2 105.1h0.8v0.8h-0.8zM428.4 106.6h0.8v0.8h-0.8zM427.6 97.8h0.8v0.8h-0.8zM430.1 95.8h0.8v0.8h-0.8zM428.6 90.5h0.8v0.8h-0.8zM430.5 101.6h0.8v0.8h-0.8zM431.3 99.9h0.8v0.8h-0.8zM428.2 121.8h0.8v0.8h-0.8zM427.2 117.4h0.8v0.8h-0.8zM429.0 111.3h0.8v0.8h-0.8zM432.5 97.0h0.8v0.8h-0.8zM425.4 98.6h0.8v0.8h-0.8zM429.0 119.8h0.8v0.8h-0.8zM426.8 106.5h0.8v0.8h-0.8zM423.1 108.7h0.8v0.8h-0.8zM428.2 109.9h0.8v0.8h-0.8zM424.7 104.0h0.8v0.8h-0.8zM422.9 115.1h0.8v0.8h-0.8zM429.5 115.8h0.8v0.8h-0.8zM428.7 97.8h0.8v0.8h-0.8zM428.8 97.4h0.8v0.8h-0.8zM425.1 108.9h0.8v0.8h-0.8zM423.3 93.3h0.8v0.8h-0.8zM424.8 97.6h0.8v0.8h-0.8zM429.1 106.5h0.8v0.8h-0.8zM426.2 94.4h0.8v0.8h-0.8zM423.7 102.8h0.8v0.8h-0.8zM423.4 116.6h0.8v0.8h-0.8zM432.1 102.6h0.8v0.8h-0.8zM426.5 102.4h0.8v0.8h-0.8zM427.1 108.0h0.8v0.8h-0.8zM428.5 110.5h0.8v0.8h-0.8zM431.0 112.4h0.8v0.8h-0.8zM429.2 110.1h0.8v0.8h-0.8zM426.4 99.5h0.8v0.8h-0.8zM427.0 103.9h0.8v0.8h-0.8zM429.9 109.1h0.8v0.8h-0.8zM426.7 112.5h0.8v0.8h-0.8zM425.0 97.4h0.8v0.8h-0.8zM428.3 98.0h0.8v0.8h-0.8zM430.6 109.1h0.8v0.8h-0.8zM428.1 90.6h0.8v0.8h-0.8zM433.0 106.3h0.8v0.8h-0.8zM429.3 92.8h0.8v0.8h-0.8zM428.4 101.6h0.8v0.8h-0.8zM431.0 92.5h0.8v0.8h-0.8zM431.8 107.4h0.8v0.8h-0.8zM429.4 115.7h0.8v0.8h-0.8zM427.2 100.0h0.8v0.8h-0.8zM430.7 109.1h0.8v0.8h-0.8zM426.0 95.0h0.8v0.8h-0.8zM426.1 95.7h0.8v0.8h-0.8zM429.3 104.6h0.8v0.8h-0.8zM423.2 111.8h0.8v0.8h-0.8zM425.6 112.8h0.8v0.8h-0.8zM427.7 107.0h0.8v0.8h-0.8zM425.4 104.8h0.8v0.8h-0.8zM429.4 109.2h0.8v0.8h-0.8zM427.3 116.1h0.8v0.8h-0.8zM425.8 107.0h0.8v0.8h-0.8zM425.9 103.8h0.8v0.8h-0.8zM427.1 103.8h0.8v0.8h-0.8zM427.0 109.2h0.8v0.8h-0.8zM429.5 100.1h0.8v0.8h-0.8zM427.6 99.0h0.8v0.8h-0.8zM430.2 102.2h0.8v0.8h-0.8zM431.8 103.4h0.8v0.8h-0.8zM426.2 119.7h0.8v0.8h-0.8zM429.5 92.0h0.8v0.8h-0.8zM425.5 115.8h0.8v0.8h-0.8zM431.3 104.3h0.8v0.8h-0.8zM427.8 114.8h0.8v0.8h-0.8zM427.4 107.5h0.8v0.8h-0.8zM426.8 107.5h0.8v0.8h-0.8zM427.2 101.3h0.8v0.8h-0.8zM428.2 98.8h0.8v0.8h-0.8zM426.1 87.0h0.8v0.8h-0.8zM429.5 103.7h0.8v0.8h-0.8zM425.7 102.8h0.8v0.8h-0.8zM430.5 101.9h0.8v0.8h-0.8zM425.6 94.6h0.8v0.8h-0.8zM428.9 102.6h0.8v0.8h-0.8zM431.5 115.2h0.8v0.8h-0.8zM428.4 94.6h0.8v0.8h-0.8zM428.2 98.9h0.8v0.8h-0.8zM425.9 98.8h0.8v0.8h-0.8zM425.9 102.0h0.8v0.8h-0.8zM422.8 99.0h0.8v0.8h-0.8zM425.0 94.6h0.8v0.8h-0.8zM421.7 92.0h0.8v0.8h-0.8zM421.1 93.2h0.8v0.8h-0.8zM428.9 85.6h0.8v0.8h-0.8zM424.1 96.2h0.8v0.8h-0.8zM423.9 103.4h0.8v0.8h-0.8zM426.6 124.7h0.8v0.8h-0.8zM426.3 86.6h0.8v0.8h-0.8zM423.9 81.7h0.8v0.8h-0.8zM423.5 109.8h0.8v0.8h-0.8z" fill="#3c9cf6" fill-opacity="0.55"/>
<path d="M429.1 110.3h0.8v0.8h-0.8zM426.1 108.1h0.8v0.8h-0.8zM427.2 102.1h0.8v0.8h-0.8zM423.8 114.8h0.8v0.8h-0.8zM428.6 94.5h0.8v0.8h-0.8zM429.0 108.1h0.8v0.8h-0.8zM432.5 95.5h0.8v0.8h-0.8zM426.1 96.5h0.8v0.8h-0.8zM427.3 103.5h0.8v0.8h-0.8zM426.2 107.6h0.8v0.8h-0.8zM430.4 102.3h0.8v0.8h-0.8zM426.9 107.5h0.8v0.8h-0.8zM424.0 98.4h0.8v0.8h-0.8zM432.3 105.1h0.8v0.8h-0.8zM424.7 112.8h0.8v0.8h-0.8zM427.2 106.6h0.8v0.8h-0.8zM427.2 99.9h0.8v0.8h-0.8zM423.2 98.7h0.8v0.8h-0.8zM427.2 107.8h0.8v0.8h-0.8zM430.0 99.6h0.8v0.8h-0.8zM427.6 89.9h0.8v0.8h-0.8zM429.6 109.7h0.8v0.8h-0.8zM426.6 103.5h0.8v0.8h-0.8zM429.9 96.1h0.8v0.8h-0.8zM426.5 100.2h0.8v0.8h-0.8zM427.3 85.2h0.8v0.8h-0.8zM430.0 112.0h0.8v0.8h-0.8zM423.8 94.9h0.8v0.8h-0.8zM430.2 94.8h0.8v0.8h-0.8zM424.7 114.3h0.8v0.8h-0.8zM432.5 113.5h0.8v0.8h-0.8zM428.1 115.3h0.8v0.8h-0.8zM430.1 96.3h0.8v0.8h-0.8zM426.5 105.6h0.8v0.8h-0.8zM422.2 107.7h0.8v0.8h-0.8zM428.4 110.8h0.8v0.8h-0.8zM430.0 96.4h0.8v0.8h-0.8zM429.2 94.8h0.8v0.8h-0.8zM430.5 107.6h0.8v0.8h-0.8zM431.2 114.8h0.8v0.8h-0.8zM429.9 103.5h0.8v0.8h-0.8zM432.1 116.6h0.8v0.8h-0.8zM428.7 111.5h0.8v0.8h-0.8zM430.7 90.7h0.8v0.8h-0.8zM428.4 116.2h0.8v0.8h-0.8zM427.5 108.7h0.8v0.8h-0.8zM425.7 107.9h0.8v0.8h-0.8zM427.4 97.5h0.8v0.8h-0.8zM424.8 103.6h0.8v0.8h-0.8zM422.0 93.6h0.8v0.8h-0.8zM429.6 92.2h0.8v0.8h-0.8zM428.9 108.0h0.8v0.8h-0.8zM428.6 102.5h0.8v0.8h-0.8zM427.5 101.8h0.8v0.8h-0.8zM428.4 109.0h0.8v0.8h-0.8zM424.1 94.8h0.8v0.8h-0.8zM424.5 104.4h0.8v0.8h-0.8zM428.1 87.0h0.8v0.8h-0.8zM428.5 113.4h0.8v0.8h-0.8zM426.1 97.3h0.8v0.8h-0.8zM426.4 119.6h0.8v0.8h-0.8zM425.7 107.5h0.8v0.8h-0.8zM425.1 93.5h0.8v0.8h-0.8zM427.5 105.7h0.8v0.8h-0.8zM429.9 118.9h0.8v0.8h-0.8zM430.5 112.5h0.8v0.8h-0.8zM425.0 96.3h0.8v0.8h-0.8zM427.6 96.3h0.8v0.8h-0.8zM427.0 113.7h0.8v0.8h-0.8zM427.3 112.2h0.8v0.8h-0.8zM428.8 95.3h0.8v0.8h-0.8zM428.1 100.3h0.8v0.8h-0.8zM428.2 99.6h0.8v0.8h-0.8zM427.3 103.9h0.8v0.8h-0.8zM423.8 107.9h0.8v0.8h-0.8zM432.6 105.7h0.8v0.8h-0.8zM422.9 103.3h0.8v0.8h-0.8zM425.3 102.9h0.8v0.8h-0.8zM427.5 102.2h0.8v0.8h-0.8zM426.9 113.0h0.8v0.8h-0.8zM426.9 104.2h0.8v0.8h-0.8zM425.1 95.1h0.8v0.8h-0.8zM428.4 94.9h0.8v0.8h-0.8zM430.9 92.7h0.8v0.8h-0.8zM430.9 110.6h0.8v0.8h-0.8zM433.4 110.9h0.8v0.8h-0.8zM425.3 107.7h0.8v0.8h-0.8zM426.9 103.1h0.8v0.8h-0.8zM427.6 115.9h0.8v0.8h-0.8zM427.7 107.8h0.8v0.8h-0.8zM430.8 104.9h0.8v0.8h-0.8zM424.7 101.9h0.8v0.8h-0.8zM428.2 112.3h0.8v0.8h-0.8zM431.5 105.3h0.8v0.8h-0.8zM424.8 96.5h0.8v0.8h-0.8zM421.9 111.2h0.8v0.8h-0.8zM429.5 95.9h0.8v0.8h-0.8zM428.6 102.8h0.8v0.8h-0.8zM425.5 109.9h0.8v0.8h-0.8zM425.9 100.2h0.8v0.8h-0.8zM431.5 103.5h0.8v0.8h-0.8zM429.5 111.5h0.8v0.8h-0.8zM426.1 93.2h0.8v0.8h-0.8zM430.6 106.6h0.8v0.8h-0.8zM426.6 105.8h0.8v0.8h-0.8zM427.3 114.0h0.8v0.8h-0.8zM426.1 109.0h0.8v0.8h-0.8zM431.7 95.8h0.8v0.8h-0.8zM426.3 109.8h0.8v0.8h-0.8zM428.1 112.8h0.8v0.8h-0.8zM427.5 106.8h0.8v0.8h-0.8zM428.8 96.9h0.8v0.8h-0.8zM433.4 101.1h0.8v0.8h-0.8zM428.0 99.0h0.8v0.8h-0.8zM428.6 98.7h0.8v0.8h-0.8zM426.1 92.3h0.8v0.8h-0.8zM426.3 94.6h0.8v0.8h-0.8zM429.3 98.0h0.8v0.8h-0.8zM430.9 89.5h0.8v0.8h-0.8zM427.0 97.2h0.8v0.8h-0.8zM428.3 107.5h0.8v0.8h-0.8zM422.2 96.7h0.8v0.8h-0.8zM426.8 97.2h0.8v0.8h-0.8zM424.5 113.8h0.8v0.8h-0.8zM426.9 93.0h0.8v0.8h-0.8zM426.0 90.7h0.8v0.8h-0.8zM422.9 105.3h0.8v0.8h-0.8zM428.5 85.7h0.8v0.8h-0.8zM430.3 125.4h0.8v0.8h-0.8zM434.5 97.1h0.8v0.8h-0.8zM435.5 105.3h0.8v0.8h-0.8zM421.3 106.6h0.8v0.8h-0.8zM429.8 83.2h0.8v0.8h-0.8zM427.9 109.4h0.8v0.8h-0.8zM433.2 112.1h0.8v0.8h-0.8z" fill="#3c9cf6" fill-opacity="0.55"/>
<ellipse cx="455.8" cy="103.5" rx="4.00" ry="14.70" fill="#6e8dd0" opacity="0.22" filter="url(#bl3)" transform="rotate(0.0 455.8 103.5)"/>
<path d="M455.5 123.5h0.8v0.8h-0.8zM455.6 119.6h0.8v0.8h-0.8zM451.5 104.0h0.8v0.8h-0.8zM458.6 101.0h0.8v0.8h-0.8zM452.1 106.0h0.8v0.8h-0.8zM459.0 107.3h0.8v0.8h-0.8zM452.0 106.5h0.8v0.8h-0.8zM451.9 99.5h0.8v0.8h-0.8zM455.2 92.5h0.8v0.8h-0.8zM449.3 112.0h0.8v0.8h-0.8zM459.3 104.1h0.8v0.8h-0.8zM460.1 111.2h0.8v0.8h-0.8zM453.6 98.4h0.8v0.8h-0.8zM453.5 97.9h0.8v0.8h-0.8zM456.1 116.2h0.8v0.8h-0.8zM458.0 102.0h0.8v0.8h-0.8zM456.7 100.0h0.8v0.8h-0.8zM454.6 115.9h0.8v0.8h-0.8zM460.9 89.4h0.8v0.8h-0.8zM456.6 103.5h0.8v0.8h-0.8zM456.7 101.4h0.8v0.8h-0.8zM452.8 113.9h0.8v0.8h-0.8zM459.0 100.7h0.8v0.8h-0.8zM461.3 96.2h0.8v0.8h-0.8zM457.2 90.8h0.8v0.8h-0.8zM451.1 104.4h0.8v0.8h-0.8zM455.7 102.2h0.8v0.8h-0.8zM457.5 100.1h0.8v0.8h-0.8zM456.8 102.3h0.8v0.8h-0.8zM451.6 101.9h0.8v0.8h-0.8zM457.3 101.2h0.8v0.8h-0.8zM458.0 101.7h0.8v0.8h-0.8zM450.1 112.7h0.8v0.8h-0.8zM452.5 101.7h0.8v0.8h-0.8zM456.4 117.0h0.8v0.8h-0.8zM460.8 117.2h0.8v0.8h-0.8zM454.9 94.7h0.8v0.8h-0.8zM455.2 109.0h0.8v0.8h-0.8zM457.6 92.9h0.8v0.8h-0.8zM454.1 104.5h0.8v0.8h-0.8zM456.0 109.7h0.8v0.8h-0.8zM454.5 104.6h0.8v0.8h-0.8zM455.4 116.3h0.8v0.8h-0.8zM452.9 107.9h0.8v0.8h-0.8zM453.6 101.0h0.8v0.8h-0.8zM452.4 92.3h0.8v0.8h-0.8zM450.5 113.3h0.8v0.8h-0.8zM453.1 103.3h0.8v0.8h-0.8zM455.6 93.6h0.8v0.8h-0.8zM450.2 115.0h0.8v0.8h-0.8zM457.0 110.8h0.8v0.8h-0.8zM457.8 102.8h0.8v0.8h-0.8zM456.5 91.4h0.8v0.8h-0.8zM453.3 98.2h0.8v0.8h-0.8zM461.6 102.4h0.8v0.8h-0.8zM458.5 98.5h0.8v0.8h-0.8zM456.8 93.2h0.8v0.8h-0.8zM453.9 110.5h0.8v0.8h-0.8zM451.2 108.2h0.8v0.8h-0.8zM450.5 105.1h0.8v0.8h-0.8zM454.4 100.5h0.8v0.8h-0.8zM455.6 110.0h0.8v0.8h-0.8zM454.6 106.9h0.8v0.8h-0.8zM458.2 96.9h0.8v0.8h-0.8zM456.0 98.1h0.8v0.8h-0.8zM453.3 101.6h0.8v0.8h-0.8zM458.8 103.8h0.8v0.8h-0.8zM450.4 93.6h0.8v0.8h-0.8zM449.5 110.3h0.8v0.8h-0.8zM456.3 102.8h0.8v0.8h-0.8zM456.1 107.5h0.8v0.8h-0.8zM460.2 108.6h0.8v0.8h-0.8zM453.2 109.4h0.8v0.8h-0.8zM451.2 109.8h0.8v0.8h-0.8zM455.8 104.7h0.8v0.8h-0.8zM454.8 110.6h0.8v0.8h-0.8zM454.6 113.8h0.8v0.8h-0.8zM451.3 108.8h0.8v0.8h-0.8zM450.7 114.7h0.8v0.8h-0.8zM449.2 102.1h0.8v0.8h-0.8zM457.2 92.4h0.8v0.8h-0.8zM455.8 106.4h0.8v0.8h-0.8zM454.4 95.5h0.8v0.8h-0.8zM458.2 97.6h0.8v0.8h-0.8zM458.6 113.1h0.8v0.8h-0.8zM453.9 117.0h0.8v0.8h-0.8zM454.9 109.4h0.8v0.8h-0.8zM459.1 111.2h0.8v0.8h-0.8zM455.2 108.5h0.8v0.8h-0.8zM456.1 111.1h0.8v0.8h-0.8zM454.3 102.5h0.8v0.8h-0.8zM448.9 96.8h0.8v0.8h-0.8zM456.6 93.2h0.8v0.8h-0.8zM458.9 104.6h0.8v0.8h-0.8zM458.4 107.3h0.8v0.8h-0.8zM455.5 113.4h0.8v0.8h-0.8zM455.8 100.5h0.8v0.8h-0.8zM457.4 105.6h0.8v0.8h-0.8zM454.9 101.8h0.8v0.8h-0.8zM454.2 103.4h0.8v0.8h-0.8zM462.4 120.1h0.8v0.8h-0.8zM454.8 81.4h0.8v0.8h-0.8zM454.6 88.4h0.8v0.8h-0.8zM453.2 94.1h0.8v0.8h-0.8zM451.8 123.0h0.8v0.8h-0.8zM448.6 117.7h0.8v0.8h-0.8zM447.5 108.5h0.8v0.8h-0.8zM448.4 98.8h0.8v0.8h-0.8z" fill="#6e8dd0" fill-opacity="0.42"/>
<path d="M455.1 97.5h0.8v0.8h-0.8zM456.7 99.7h0.8v0.8h-0.8zM459.5 99.0h0.8v0.8h-0.8zM459.8 88.4h0.8v0.8h-0.8zM456.5 95.2h0.8v0.8h-0.8zM457.1 90.6h0.8v0.8h-0.8zM448.5 113.1h0.8v0.8h-0.8zM456.1 101.3h0.8v0.8h-0.8zM458.0 107.5h0.8v0.8h-0.8zM451.6 111.4h0.8v0.8h-0.8zM451.5 107.5h0.8v0.8h-0.8zM453.8 96.7h0.8v0.8h-0.8zM450.2 102.3h0.8v0.8h-0.8zM453.2 96.6h0.8v0.8h-0.8zM455.1 103.9h0.8v0.8h-0.8zM453.9 107.7h0.8v0.8h-0.8zM452.6 116.5h0.8v0.8h-0.8zM456.7 97.5h0.8v0.8h-0.8zM457.3 100.5h0.8v0.8h-0.8zM451.6 105.8h0.8v0.8h-0.8zM452.7 116.6h0.8v0.8h-0.8zM458.6 103.3h0.8v0.8h-0.8zM453.9 102.1h0.8v0.8h-0.8zM453.9 107.2h0.8v0.8h-0.8zM449.8 105.2h0.8v0.8h-0.8zM456.0 119.7h0.8v0.8h-0.8zM451.1 118.9h0.8v0.8h-0.8zM461.4 94.9h0.8v0.8h-0.8zM454.3 98.4h0.8v0.8h-0.8zM453.4 98.3h0.8v0.8h-0.8zM450.8 118.7h0.8v0.8h-0.8zM450.9 107.2h0.8v0.8h-0.8zM454.9 85.9h0.8v0.8h-0.8zM452.0 116.7h0.8v0.8h-0.8zM450.8 105.8h0.8v0.8h-0.8zM455.5 97.7h0.8v0.8h-0.8zM462.7 105.6h0.8v0.8h-0.8zM450.9 100.5h0.8v0.8h-0.8zM451.7 104.4h0.8v0.8h-0.8zM455.4 102.6h0.8v0.8h-0.8zM456.8 111.9h0.8v0.8h-0.8zM456.9 96.0h0.8v0.8h-0.8zM453.7 92.1h0.8v0.8h-0.8zM452.3 106.3h0.8v0.8h-0.8zM453.9 101.1h0.8v0.8h-0.8zM451.3 111.0h0.8v0.8h-0.8zM454.0 92.1h0.8v0.8h-0.8zM452.5 91.8h0.8v0.8h-0.8zM451.3 101.8h0.8v0.8h-0.8zM458.4 94.1h0.8v0.8h-0.8zM456.0 103.9h0.8v0.8h-0.8zM452.6 111.8h0.8v0.8h-0.8zM450.9 102.7h0.8v0.8h-0.8zM458.4 102.7h0.8v0.8h-0.8zM450.7 95.0h0.8v0.8h-0.8zM453.1 103.7h0.8v0.8h-0.8zM454.8 95.8h0.8v0.8h-0.8zM456.2 83.0h0.8v0.8h-0.8zM455.1 116.1h0.8v0.8h-0.8zM455.8 107.2h0.8v0.8h-0.8zM453.2 103.1h0.8v0.8h-0.8zM457.6 112.9h0.8v0.8h-0.8zM453.1 95.8h0.8v0.8h-0.8zM453.7 114.2h0.8v0.8h-0.8zM455.3 119.2h0.8v0.8h-0.8zM456.1 112.5h0.8v0.8h-0.8zM458.7 119.3h0.8v0.8h-0.8zM459.2 102.6h0.8v0.8h-0.8zM453.1 95.4h0.8v0.8h-0.8zM454.6 113.1h0.8v0.8h-0.8zM455.5 118.2h0.8v0.8h-0.8zM452.5 83.9h0.8v0.8h-0.8zM456.2 99.4h0.8v0.8h-0.8zM455.5 105.8h0.8v0.8h-0.8zM453.7 87.7h0.8v0.8h-0.8zM454.3 112.1h0.8v0.8h-0.8zM462.2 101.7h0.8v0.8h-0.8zM455.7 101.9h0.8v0.8h-0.8zM457.0 92.6h0.8v0.8h-0.8zM457.2 111.7h0.8v0.8h-0.8zM458.5 97.9h0.8v0.8h-0.8zM458.5 112.3h0.8v0.8h-0.8zM457.8 95.1h0.8v0.8h-0.8zM457.8 98.3h0.8v0.8h-0.8zM457.2 102.5h0.8v0.8h-0.8zM458.2 111.4h0.8v0.8h-0.8zM453.2 108.8h0.8v0.8h-0.8zM450.3 100.1h0.8v0.8h-0.8zM453.0 117.1h0.8v0.8h-0.8zM453.0 90.4h0.8v0.8h-0.8zM455.3 114.6h0.8v0.8h-0.8zM457.1 88.2h0.8v0.8h-0.8zM459.2 97.7h0.8v0.8h-0.8zM452.9 91.4h0.8v0.8h-0.8zM452.4 91.7h0.8v0.8h-0.8zM452.0 100.4h0.8v0.8h-0.8zM458.5 92.6h0.8v0.8h-0.8zM453.7 106.2h0.8v0.8h-0.8zM458.8 112.0h0.8v0.8h-0.8zM455.0 109.5h0.8v0.8h-0.8zM453.4 84.2h0.8v0.8h-0.8zM462.7 110.8h0.8v0.8h-0.8zM453.7 105.3h0.8v0.8h-0.8zM448.9 98.5h0.8v0.8h-0.8zM446.9 107.6h0.8v0.8h-0.8zM448.3 119.3h0.8v0.8h-0.8zM463.9 110.3h0.8v0.8h-0.8zM449.1 84.8h0.8v0.8h-0.8z" fill="#6e8dd0" fill-opacity="0.42"/>
<path d="M455.6 102.5h0.8v0.8h-0.8zM461.7 99.9h0.8v0.8h-0.8zM453.0 110.9h0.8v0.8h-0.8zM454.7 112.8h0.8v0.8h-0.8zM454.9 110.3h0.8v0.8h-0.8zM455.8 108.8h0.8v0.8h-0.8zM453.8 102.9h0.8v0.8h-0.8zM451.7 103.5h0.8v0.8h-0.8zM457.6 105.2h0.8v0.8h-0.8zM456.1 108.6h0.8v0.8h-0.8zM457.3 89.9h0.8v0.8h-0.8zM460.0 109.7h0.8v0.8h-0.8zM454.4 100.9h0.8v0.8h-0.8zM453.4 99.9h0.8v0.8h-0.8zM455.3 102.8h0.8v0.8h-0.8zM454.9 114.1h0.8v0.8h-0.8zM459.4 87.0h0.8v0.8h-0.8zM460.5 111.5h0.8v0.8h-0.8zM453.7 105.6h0.8v0.8h-0.8zM462.5 97.8h0.8v0.8h-0.8zM450.8 97.7h0.8v0.8h-0.8zM458.8 101.9h0.8v0.8h-0.8zM454.5 100.5h0.8v0.8h-0.8zM452.1 117.3h0.8v0.8h-0.8zM461.9 94.9h0.8v0.8h-0.8zM460.6 106.1h0.8v0.8h-0.8zM459.7 102.4h0.8v0.8h-0.8zM453.3 98.7h0.8v0.8h-0.8zM454.0 108.9h0.8v0.8h-0.8zM452.2 106.9h0.8v0.8h-0.8zM457.1 122.0h0.8v0.8h-0.8zM455.1 95.5h0.8v0.8h-0.8zM453.1 105.2h0.8v0.8h-0.8zM456.1 109.4h0.8v0.8h-0.8zM455.8 106.6h0.8v0.8h-0.8zM453.2 92.6h0.8v0.8h-0.8zM459.7 100.0h0.8v0.8h-0.8zM458.9 103.9h0.8v0.8h-0.8zM450.1 100.9h0.8v0.8h-0.8zM448.2 112.1h0.8v0.8h-0.8zM457.0 116.1h0.8v0.8h-0.8zM460.2 109.6h0.8v0.8h-0.8zM456.5 114.4h0.8v0.8h-0.8zM454.5 99.8h0.8v0.8h-0.8zM456.1 105.9h0.8v0.8h-0.8zM449.3 113.4h0.8v0.8h-0.8zM457.6 109.2h0.8v0.8h-0.8zM452.6 94.3h0.8v0.8h-0.8zM452.2 102.8h0.8v0.8h-0.8zM454.7 102.4h0.8v0.8h-0.8zM459.5 108.9h0.8v0.8h-0.8zM455.2 118.4h0.8v0.8h-0.8zM451.4 113.3h0.8v0.8h-0.8zM458.1 100.3h0.8v0.8h-0.8zM452.4 111.1h0.8v0.8h-0.8zM460.7 105.0h0.8v0.8h-0.8zM458.8 119.7h0.8v0.8h-0.8zM454.3 108.9h0.8v0.8h-0.8zM458.6 111.6h0.8v0.8h-0.8zM456.3 97.7h0.8v0.8h-0.8zM449.8 112.5h0.8v0.8h-0.8zM453.6 98.5h0.8v0.8h-0.8zM454.3 95.9h0.8v0.8h-0.8zM459.5 93.7h0.8v0.8h-0.8zM458.0 103.3h0.8v0.8h-0.8zM450.1 103.0h0.8v0.8h-0.8zM458.3 99.7h0.8v0.8h-0.8zM458.3 104.4h0.8v0.8h-0.8zM456.8 116.0h0.8v0.8h-0.8zM455.5 100.1h0.8v0.8h-0.8zM460.5 114.6h0.8v0.8h-0.8zM451.5 91.3h0.8v0.8h-0.8zM459.6 102.4h0.8v0.8h-0.8zM452.9 95.7h0.8v0.8h-0.8zM458.0 110.1h0.8v0.8h-0.8zM453.7 118.9h0.8v0.8h-0.8zM452.4 91.7h0.8v0.8h-0.8zM454.3 106.9h0.8v0.8h-0.8zM454.6 99.8h0.8v0.8h-0.8zM453.2 88.8h0.8v0.8h-0.8zM454.6 93.1h0.8v0.8h-0.8zM451.4 108.7h0.8v0.8h-0.8zM452.8 102.9h0.8v0.8h-0.8zM458.1 114.8h0.8v0.8h-0.8zM454.7 92.2h0.8v0.8h-0.8zM459.2 104.7h0.8v0.8h-0.8zM456.0 105.9h0.8v0.8h-0.8zM455.8 97.9h0.8v0.8h-0.8zM459.2 93.2h0.8v0.8h-0.8zM449.7 111.4h0.8v0.8h-0.8zM462.6 103.2h0.8v0.8h-0.8zM450.0 105.4h0.8v0.8h-0.8zM459.0 115.7h0.8v0.8h-0.8zM455.0 98.6h0.8v0.8h-0.8zM459.2 103.2h0.8v0.8h-0.8zM455.6 107.8h0.8v0.8h-0.8zM453.9 105.0h0.8v0.8h-0.8zM454.7 96.7h0.8v0.8h-0.8zM454.3 114.5h0.8v0.8h-0.8zM457.3 105.2h0.8v0.8h-0.8zM454.7 79.9h0.8v0.8h-0.8zM451.1 84.7h0.8v0.8h-0.8zM455.6 124.9h0.8v0.8h-0.8zM450.1 89.0h0.8v0.8h-0.8zM451.2 126.4h0.8v0.8h-0.8zM450.5 103.7h0.8v0.8h-0.8zM452.7 113.8h0.8v0.8h-0.8zM453.2 78.4h0.8v0.8h-0.8z" fill="#6e8dd0" fill-opacity="0.42"/>
<path d="M454.0 100.9h0.8v0.8h-0.8zM454.4 123.2h0.8v0.8h-0.8zM453.0 102.9h0.8v0.8h-0.8zM448.9 106.1h0.8v0.8h-0.8zM456.6 103.0h0.8v0.8h-0.8zM457.0 96.7h0.8v0.8h-0.8zM455.8 114.8h0.8v0.8h-0.8zM454.0 98.8h0.8v0.8h-0.8zM456.2 98.6h0.8v0.8h-0.8zM459.1 93.8h0.8v0.8h-0.8zM456.5 99.7h0.8v0.8h-0.8zM449.2 93.4h0.8v0.8h-0.8zM449.5 102.5h0.8v0.8h-0.8zM462.1 111.7h0.8v0.8h-0.8zM456.0 97.8h0.8v0.8h-0.8zM452.3 106.3h0.8v0.8h-0.8zM454.9 99.9h0.8v0.8h-0.8zM449.8 110.9h0.8v0.8h-0.8zM460.9 108.5h0.8v0.8h-0.8zM449.7 107.5h0.8v0.8h-0.8zM454.0 106.2h0.8v0.8h-0.8zM454.0 112.7h0.8v0.8h-0.8zM457.0 104.3h0.8v0.8h-0.8zM454.9 108.5h0.8v0.8h-0.8zM455.1 103.0h0.8v0.8h-0.8zM455.1 109.7h0.8v0.8h-0.8zM452.1 93.8h0.8v0.8h-0.8zM454.7 105.2h0.8v0.8h-0.8zM459.1 108.0h0.8v0.8h-0.8zM459.1 94.0h0.8v0.8h-0.8zM452.5 98.5h0.8v0.8h-0.8zM451.4 113.9h0.8v0.8h-0.8zM455.8 95.6h0.8v0.8h-0.8zM461.5 116.1h0.8v0.8h-0.8zM462.0 103.4h0.8v0.8h-0.8zM451.1 100.6h0.8v0.8h-0.8zM457.4 94.4h0.8v0.8h-0.8zM455.0 92.6h0.8v0.8h-0.8zM457.0 90.6h0.8v0.8h-0.8zM456.9 103.8h0.8v0.8h-0.8zM460.7 98.4h0.8v0.8h-0.8zM457.6 88.0h0.8v0.8h-0.8zM453.3 112.2h0.8v0.8h-0.8zM455.1 106.0h0.8v0.8h-0.8zM461.1 111.5h0.8v0.8h-0.8zM454.7 106.1h0.8v0.8h-0.8zM455.7 88.9h0.8v0.8h-0.8zM453.9 117.2h0.8v0.8h-0.8zM458.4 101.0h0.8v0.8h-0.8zM451.0 106.1h0.8v0.8h-0.8zM449.3 105.4h0.8v0.8h-0.8zM459.2 92.8h0.8v0.8h-0.8zM451.5 117.9h0.8v0.8h-0.8zM455.1 98.7h0.8v0.8h-0.8zM451.8 95.7h0.8v0.8h-0.8zM457.7 83.2h0.8v0.8h-0.8zM456.2 107.3h0.8v0.8h-0.8zM456.8 102.4h0.8v0.8h-0.8zM452.8 103.5h0.8v0.8h-0.8zM458.8 105.8h0.8v0.8h-0.8zM457.2 109.4h0.8v0.8h-0.8zM456.4 96.2h0.8v0.8h-0.8zM454.8 93.8h0.8v0.8h-0.8zM454.5 95.8h0.8v0.8h-0.8zM454.2 120.6h0.8v0.8h-0.8zM462.3 98.5h0.8v0.8h-0.8zM455.0 105.9h0.8v0.8h-0.8zM455.5 97.2h0.8v0.8h-0.8zM454.5 100.6h0.8v0.8h-0.8zM458.3 106.6h0.8v0.8h-0.8zM455.9 111.9h0.8v0.8h-0.8zM452.8 107.7h0.8v0.8h-0.8zM453.4 97.2h0.8v0.8h-0.8zM457.7 86.7h0.8v0.8h-0.8zM456.8 105.7h0.8v0.8h-0.8zM458.0 102.7h0.8v0.8h-0.8zM449.1 102.4h0.8v0.8h-0.8zM454.6 99.1h0.8v0.8h-0.8zM456.3 107.9h0.8v0.8h-0.8zM452.0 100.3h0.8v0.8h-0.8zM456.6 98.6h0.8v0.8h-0.8zM457.3 108.2h0.8v0.8h-0.8zM454.1 115.1h0.8v0.8h-0.8zM459.9 99.3h0.8v0.8h-0.8zM452.6 110.9h0.8v0.8h-0.8zM453.9 107.2h0.8v0.8h-0.8zM459.0 96.2h0.8v0.8h-0.8zM457.3 99.8h0.8v0.8h-0.8zM454.7 96.5h0.8v0.8h-0.8zM450.8 113.4h0.8v0.8h-0.8zM455.1 101.5h0.8v0.8h-0.8zM448.3 100.0h0.8v0.8h-0.8zM454.7 113.3h0.8v0.8h-0.8zM457.6 110.1h0.8v0.8h-0.8zM457.6 106.1h0.8v0.8h-0.8zM462.5 109.4h0.8v0.8h-0.8zM454.6 94.1h0.8v0.8h-0.8zM459.2 88.4h0.8v0.8h-0.8zM455.4 102.9h0.8v0.8h-0.8zM460.5 107.1h0.8v0.8h-0.8zM454.5 101.6h0.8v0.8h-0.8zM453.1 123.8h0.8v0.8h-0.8zM450.7 126.0h0.8v0.8h-0.8zM457.3 88.7h0.8v0.8h-0.8zM456.5 96.7h0.8v0.8h-0.8zM447.5 92.6h0.8v0.8h-0.8zM457.7 82.6h0.8v0.8h-0.8zM452.8 118.0h0.8v0.8h-0.8z" fill="#6e8dd0" fill-opacity="0.42"/>
<path d="M450.9 109.1h0.8v0.8h-0.8zM457.9 114.6h0.8v0.8h-0.8zM455.1 91.9h0.8v0.8h-0.8zM451.7 91.4h0.8v0.8h-0.8zM456.0 96.7h0.8v0.8h-0.8zM453.5 106.3h0.8v0.8h-0.8zM454.5 112.6h0.8v0.8h-0.8zM458.7 106.2h0.8v0.8h-0.8zM450.7 108.9h0.8v0.8h-0.8zM457.8 102.7h0.8v0.8h-0.8zM456.3 101.6h0.8v0.8h-0.8zM459.6 104.7h0.8v0.8h-0.8zM453.1 103.6h0.8v0.8h-0.8zM453.3 90.4h0.8v0.8h-0.8zM452.9 99.6h0.8v0.8h-0.8zM455.5 93.7h0.8v0.8h-0.8zM449.8 104.8h0.8v0.8h-0.8zM454.8 105.2h0.8v0.8h-0.8zM452.1 103.8h0.8v0.8h-0.8zM455.6 102.9h0.8v0.8h-0.8zM455.7 89.5h0.8v0.8h-0.8zM455.2 95.8h0.8v0.8h-0.8zM461.7 106.5h0.8v0.8h-0.8zM459.2 109.2h0.8v0.8h-0.8zM459.4 111.6h0.8v0.8h-0.8zM457.0 99.0h0.8v0.8h-0.8zM449.3 100.3h0.8v0.8h-0.8zM457.4 100.1h0.8v0.8h-0.8zM452.9 108.2h0.8v0.8h-0.8zM456.2 98.8h0.8v0.8h-0.8zM450.1 103.5h0.8v0.8h-0.8zM449.5 95.1h0.8v0.8h-0.8zM456.8 104.8h0.8v0.8h-0.8zM462.6 95.0h0.8v0.8h-0.8zM450.4 107.0h0.8v0.8h-0.8zM452.9 105.7h0.8v0.8h-0.8zM453.2 100.3h0.8v0.8h-0.8zM454.2 109.3h0.8v0.8h-0.8zM455.9 106.7h0.8v0.8h-0.8zM457.3 98.8h0.8v0.8h-0.8zM452.4 97.1h0.8v0.8h-0.8zM458.0 104.0h0.8v0.8h-0.8zM457.3 102.8h0.8v0.8h-0.8zM449.1 114.2h0.8v0.8h-0.8zM450.6 110.0h0.8v0.8h-0.8zM457.9 101.3h0.8v0.8h-0.8zM450.7 107.9h0.8v0.8h-0.8zM456.4 97.8h0.8v0.8h-0.8zM457.4 119.3h0.8v0.8h-0.8zM450.6 87.1h0.8v0.8h-0.8zM454.8 113.4h0.8v0.8h-0.8zM458.2 103.1h0.8v0.8h-0.8zM458.3 104.0h0.8v0.8h-0.8zM460.0 118.4h0.8v0.8h-0.8zM461.0 91.9h0.8v0.8h-0.8zM453.2 103.1h0.8v0.8h-0.8zM454.6 108.0h0.8v0.8h-0.8zM451.1 105.9h0.8v0.8h-0.8zM458.7 98.5h0.8v0.8h-0.8zM460.5 107.1h0.8v0.8h-0.8zM460.2 106.6h0.8v0.8h-0.8zM454.2 104.2h0.8v0.8h-0.8zM456.7 110.7h0.8v0.8h-0.8zM453.1 103.8h0.8v0.8h-0.8zM453.9 84.8h0.8v0.8h-0.8zM459.3 97.9h0.8v0.8h-0.8zM454.5 92.7h0.8v0.8h-0.8zM457.2 105.6h0.8v0.8h-0.8zM457.1 108.6h0.8v0.8h-0.8zM454.9 94.2h0.8v0.8h-0.8zM456.8 118.6h0.8v0.8h-0.8zM458.6 106.3h0.8v0.8h-0.8zM450.7 101.0h0.8v0.8h-0.8zM455.9 89.2h0.8v0.8h-0.8zM459.7 112.4h0.8v0.8h-0.8zM451.3 99.1h0.8v0.8h-0.8zM449.7 109.8h0.8v0.8h-0.8zM459.7 93.8h0.8v0.8h-0.8zM456.1 102.8h0.8v0.8h-0.8zM454.9 107.2h0.8v0.8h-0.8zM452.8 109.3h0.8v0.8h-0.8zM457.5 106.4h0.8v0.8h-0.8zM456.5 112.3h0.8v0.8h-0.8zM460.2 86.8h0.8v0.8h-0.8zM454.0 107.0h0.8v0.8h-0.8zM449.2 104.4h0.8v0.8h-0.8zM455.0 114.1h0.8v0.8h-0.8zM450.5 99.5h0.8v0.8h-0.8zM451.2 100.1h0.8v0.8h-0.8zM458.6 99.8h0.8v0.8h-0.8zM458.8 109.6h0.8v0.8h-0.8zM462.9 106.4h0.8v0.8h-0.8zM458.8 120.7h0.8v0.8h-0.8zM455.9 84.3h0.8v0.8h-0.8zM458.7 119.9h0.8v0.8h-0.8zM457.9 92.1h0.8v0.8h-0.8zM454.7 108.6h0.8v0.8h-0.8zM462.3 105.6h0.8v0.8h-0.8zM458.2 96.3h0.8v0.8h-0.8zM456.5 96.4h0.8v0.8h-0.8zM463.5 109.2h0.8v0.8h-0.8zM450.9 89.0h0.8v0.8h-0.8zM462.8 90.7h0.8v0.8h-0.8zM459.2 112.1h0.8v0.8h-0.8zM455.5 102.2h0.8v0.8h-0.8zM461.6 94.9h0.8v0.8h-0.8zM463.7 113.7h0.8v0.8h-0.8zM453.1 128.4h0.8v0.8h-0.8z" fill="#6e8dd0" fill-opacity="0.42"/>
<path d="M450.8 113.6h0.8v0.8h-0.8zM457.8 108.5h0.8v0.8h-0.8zM458.9 93.6h0.8v0.8h-0.8zM453.0 98.5h0.8v0.8h-0.8zM455.3 104.1h0.8v0.8h-0.8zM456.2 115.4h0.8v0.8h-0.8zM458.2 103.3h0.8v0.8h-0.8zM459.5 93.4h0.8v0.8h-0.8zM456.1 111.7h0.8v0.8h-0.8zM454.5 103.3h0.8v0.8h-0.8zM456.8 104.9h0.8v0.8h-0.8zM449.3 107.3h0.8v0.8h-0.8zM449.9 103.5h0.8v0.8h-0.8zM459.5 103.0h0.8v0.8h-0.8zM457.6 114.1h0.8v0.8h-0.8zM454.2 93.4h0.8v0.8h-0.8zM457.2 103.7h0.8v0.8h-0.8zM451.3 108.3h0.8v0.8h-0.8zM457.1 113.7h0.8v0.8h-0.8zM450.1 107.3h0.8v0.8h-0.8zM451.3 119.5h0.8v0.8h-0.8zM461.2 101.7h0.8v0.8h-0.8zM461.5 104.8h0.8v0.8h-0.8zM453.0 91.1h0.8v0.8h-0.8zM454.0 112.1h0.8v0.8h-0.8zM458.0 98.7h0.8v0.8h-0.8zM449.4 104.3h0.8v0.8h-0.8zM456.4 103.5h0.8v0.8h-0.8zM459.0 86.1h0.8v0.8h-0.8zM456.2 113.1h0.8v0.8h-0.8zM449.4 99.9h0.8v0.8h-0.8zM456.5 108.3h0.8v0.8h-0.8zM451.6 109.9h0.8v0.8h-0.8zM461.1 99.1h0.8v0.8h-0.8zM455.2 104.5h0.8v0.8h-0.8zM453.6 94.6h0.8v0.8h-0.8zM452.3 109.7h0.8v0.8h-0.8zM458.9 87.5h0.8v0.8h-0.8zM452.9 106.1h0.8v0.8h-0.8zM454.7 107.2h0.8v0.8h-0.8zM454.0 109.2h0.8v0.8h-0.8zM449.8 99.8h0.8v0.8h-0.8zM456.0 104.0h0.8v0.8h-0.8zM458.8 105.7h0.8v0.8h-0.8zM456.6 103.8h0.8v0.8h-0.8zM456.6 104.1h0.8v0.8h-0.8zM463.3 105.3h0.8v0.8h-0.8zM456.8 97.7h0.8v0.8h-0.8zM453.9 116.3h0.8v0.8h-0.8zM460.5 97.3h0.8v0.8h-0.8zM448.1 109.0h0.8v0.8h-0.8zM455.3 101.7h0.8v0.8h-0.8zM457.6 105.0h0.8v0.8h-0.8zM455.1 111.5h0.8v0.8h-0.8zM453.2 116.0h0.8v0.8h-0.8zM453.0 96.0h0.8v0.8h-0.8zM454.8 91.5h0.8v0.8h-0.8zM456.2 108.7h0.8v0.8h-0.8zM455.8 115.4h0.8v0.8h-0.8zM459.4 96.4h0.8v0.8h-0.8zM454.6 116.5h0.8v0.8h-0.8zM457.1 96.8h0.8v0.8h-0.8zM457.2 91.3h0.8v0.8h-0.8zM456.4 91.1h0.8v0.8h-0.8zM459.8 98.5h0.8v0.8h-0.8zM453.4 100.8h0.8v0.8h-0.8zM452.1 98.0h0.8v0.8h-0.8zM456.3 99.3h0.8v0.8h-0.8zM455.7 86.2h0.8v0.8h-0.8zM455.0 109.4h0.8v0.8h-0.8zM451.3 96.2h0.8v0.8h-0.8zM451.3 115.7h0.8v0.8h-0.8zM452.3 102.1h0.8v0.8h-0.8zM448.7 103.8h0.8v0.8h-0.8zM457.9 97.1h0.8v0.8h-0.8zM449.7 105.9h0.8v0.8h-0.8zM454.5 96.4h0.8v0.8h-0.8zM453.9 98.9h0.8v0.8h-0.8zM452.2 103.7h0.8v0.8h-0.8zM454.6 112.8h0.8v0.8h-0.8zM452.5 106.3h0.8v0.8h-0.8zM455.0 97.4h0.8v0.8h-0.8zM460.4 113.0h0.8v0.8h-0.8zM456.0 89.6h0.8v0.8h-0.8zM460.4 102.5h0.8v0.8h-0.8zM459.6 101.4h0.8v0.8h-0.8zM460.0 110.3h0.8v0.8h-0.8zM457.1 94.7h0.8v0.8h-0.8zM458.3 103.8h0.8v0.8h-0.8zM450.4 97.5h0.8v0.8h-0.8zM455.8 101.7h0.8v0.8h-0.8zM452.7 101.2h0.8v0.8h-0.8zM459.7 118.6h0.8v0.8h-0.8zM453.0 97.3h0.8v0.8h-0.8zM455.8 101.7h0.8v0.8h-0.8zM460.4 111.6h0.8v0.8h-0.8zM456.6 84.7h0.8v0.8h-0.8zM453.9 107.3h0.8v0.8h-0.8zM449.8 101.9h0.8v0.8h-0.8zM455.8 116.1h0.8v0.8h-0.8zM455.4 100.4h0.8v0.8h-0.8zM449.3 107.2h0.8v0.8h-0.8zM446.8 98.6h0.8v0.8h-0.8zM449.0 96.2h0.8v0.8h-0.8zM457.5 115.4h0.8v0.8h-0.8zM460.6 118.3h0.8v0.8h-0.8zM458.9 106.3h0.8v0.8h-0.8zM459.4 105.4h0.8v0.8h-0.8z" fill="#6e8dd0" fill-opacity="0.42"/>
<path d="M458.0 100.0h0.8v0.8h-0.8zM458.0 110.6h0.8v0.8h-0.8zM458.7 107.1h0.8v0.8h-0.8zM453.8 98.0h0.8v0.8h-0.8zM452.9 102.3h0.8v0.8h-0.8zM459.9 92.8h0.8v0.8h-0.8zM459.2 106.2h0.8v0.8h-0.8zM457.6 103.4h0.8v0.8h-0.8zM454.1 98.2h0.8v0.8h-0.8zM453.6 103.6h0.8v0.8h-0.8zM457.4 109.9h0.8v0.8h-0.8zM459.0 109.3h0.8v0.8h-0.8zM451.1 95.4h0.8v0.8h-0.8zM456.7 114.0h0.8v0.8h-0.8zM455.9 100.6h0.8v0.8h-0.8zM454.2 100.7h0.8v0.8h-0.8zM457.1 119.7h0.8v0.8h-0.8zM456.0 94.5h0.8v0.8h-0.8zM455.3 104.6h0.8v0.8h-0.8zM456.1 110.5h0.8v0.8h-0.8zM455.8 103.4h0.8v0.8h-0.8zM457.1 117.6h0.8v0.8h-0.8zM461.8 102.3h0.8v0.8h-0.8zM449.6 95.1h0.8v0.8h-0.8zM455.8 111.0h0.8v0.8h-0.8zM455.2 102.0h0.8v0.8h-0.8zM456.4 98.2h0.8v0.8h-0.8zM450.6 89.9h0.8v0.8h-0.8zM456.5 97.9h0.8v0.8h-0.8zM456.2 101.7h0.8v0.8h-0.8zM459.3 107.7h0.8v0.8h-0.8zM456.1 88.9h0.8v0.8h-0.8zM456.0 101.0h0.8v0.8h-0.8zM454.6 104.9h0.8v0.8h-0.8zM456.6 108.6h0.8v0.8h-0.8zM456.7 100.9h0.8v0.8h-0.8zM458.3 113.9h0.8v0.8h-0.8zM456.7 99.5h0.8v0.8h-0.8zM457.5 106.6h0.8v0.8h-0.8zM453.1 99.8h0.8v0.8h-0.8zM457.0 104.5h0.8v0.8h-0.8zM450.5 114.6h0.8v0.8h-0.8zM453.1 104.1h0.8v0.8h-0.8zM449.5 110.5h0.8v0.8h-0.8zM451.3 120.0h0.8v0.8h-0.8zM455.4 103.8h0.8v0.8h-0.8zM456.4 108.3h0.8v0.8h-0.8zM459.3 110.3h0.8v0.8h-0.8zM452.5 92.5h0.8v0.8h-0.8zM452.7 101.0h0.8v0.8h-0.8zM455.9 109.2h0.8v0.8h-0.8zM459.0 95.7h0.8v0.8h-0.8zM453.3 106.7h0.8v0.8h-0.8zM450.3 91.4h0.8v0.8h-0.8zM456.2 102.9h0.8v0.8h-0.8zM453.5 94.2h0.8v0.8h-0.8zM457.8 103.4h0.8v0.8h-0.8zM462.0 104.0h0.8v0.8h-0.8zM455.6 106.2h0.8v0.8h-0.8zM455.1 104.5h0.8v0.8h-0.8zM454.3 105.4h0.8v0.8h-0.8zM458.3 98.9h0.8v0.8h-0.8zM459.9 86.8h0.8v0.8h-0.8zM458.7 97.0h0.8v0.8h-0.8zM452.7 97.6h0.8v0.8h-0.8zM460.4 98.7h0.8v0.8h-0.8zM458.6 98.0h0.8v0.8h-0.8zM459.8 104.0h0.8v0.8h-0.8zM458.3 96.0h0.8v0.8h-0.8zM450.4 97.9h0.8v0.8h-0.8zM451.8 97.5h0.8v0.8h-0.8zM459.8 110.7h0.8v0.8h-0.8zM456.8 107.5h0.8v0.8h-0.8zM453.3 121.5h0.8v0.8h-0.8zM459.1 94.8h0.8v0.8h-0.8zM459.9 99.5h0.8v0.8h-0.8zM458.7 104.1h0.8v0.8h-0.8zM452.4 97.9h0.8v0.8h-0.8zM456.0 90.0h0.8v0.8h-0.8zM452.9 107.2h0.8v0.8h-0.8zM456.0 107.9h0.8v0.8h-0.8zM457.9 103.0h0.8v0.8h-0.8zM458.7 98.5h0.8v0.8h-0.8zM455.5 91.9h0.8v0.8h-0.8zM462.3 108.3h0.8v0.8h-0.8zM462.3 100.2h0.8v0.8h-0.8zM451.5 105.5h0.8v0.8h-0.8zM458.2 113.3h0.8v0.8h-0.8zM454.6 82.7h0.8v0.8h-0.8zM452.8 96.9h0.8v0.8h-0.8zM457.5 112.9h0.8v0.8h-0.8zM456.7 113.5h0.8v0.8h-0.8zM458.5 95.8h0.8v0.8h-0.8zM457.7 97.3h0.8v0.8h-0.8zM456.3 100.9h0.8v0.8h-0.8zM455.9 93.4h0.8v0.8h-0.8zM453.7 94.9h0.8v0.8h-0.8zM452.1 99.4h0.8v0.8h-0.8zM458.7 100.5h0.8v0.8h-0.8zM458.1 104.5h0.8v0.8h-0.8zM462.3 102.3h0.8v0.8h-0.8zM463.7 95.1h0.8v0.8h-0.8zM461.0 91.4h0.8v0.8h-0.8zM448.4 120.8h0.8v0.8h-0.8zM451.2 101.1h0.8v0.8h-0.8zM464.8 95.1h0.8v0.8h-0.8zM451.1 88.3h0.8v0.8h-0.8zM464.6 107.7h0.8v0.8h-0.8z" fill="#6e8dd0" fill-opacity="0.42"/>
<path d="M454.2 97.6h0.8v0.8h-0.8zM450.4 105.1h0.8v0.8h-0.8zM451.9 100.4h0.8v0.8h-0.8zM457.1 100.9h0.8v0.8h-0.8zM458.7 113.0h0.8v0.8h-0.8zM455.9 116.6h0.8v0.8h-0.8zM448.5 92.7h0.8v0.8h-0.8zM453.3 88.7h0.8v0.8h-0.8zM458.2 104.7h0.8v0.8h-0.8zM456.3 97.3h0.8v0.8h-0.8zM459.8 106.3h0.8v0.8h-0.8zM455.3 101.4h0.8v0.8h-0.8zM453.1 98.0h0.8v0.8h-0.8zM448.6 97.5h0.8v0.8h-0.8zM459.8 108.4h0.8v0.8h-0.8zM457.7 98.9h0.8v0.8h-0.8zM453.8 114.9h0.8v0.8h-0.8zM454.3 116.6h0.8v0.8h-0.8zM456.3 109.4h0.8v0.8h-0.8zM455.8 123.4h0.8v0.8h-0.8zM454.3 106.1h0.8v0.8h-0.8zM451.0 100.6h0.8v0.8h-0.8zM459.9 105.1h0.8v0.8h-0.8zM452.9 96.1h0.8v0.8h-0.8zM450.5 90.8h0.8v0.8h-0.8zM453.4 97.3h0.8v0.8h-0.8zM453.5 102.7h0.8v0.8h-0.8zM455.8 113.7h0.8v0.8h-0.8zM455.7 91.2h0.8v0.8h-0.8zM451.6 113.1h0.8v0.8h-0.8zM458.7 104.0h0.8v0.8h-0.8zM459.1 101.7h0.8v0.8h-0.8zM456.5 95.3h0.8v0.8h-0.8zM455.6 102.8h0.8v0.8h-0.8zM454.9 98.7h0.8v0.8h-0.8zM460.2 99.0h0.8v0.8h-0.8zM452.2 97.7h0.8v0.8h-0.8zM452.0 119.7h0.8v0.8h-0.8zM452.9 110.5h0.8v0.8h-0.8zM453.3 95.5h0.8v0.8h-0.8zM452.9 98.8h0.8v0.8h-0.8zM451.3 109.4h0.8v0.8h-0.8zM456.7 96.0h0.8v0.8h-0.8zM455.3 117.9h0.8v0.8h-0.8zM461.5 105.6h0.8v0.8h-0.8zM451.8 105.8h0.8v0.8h-0.8zM452.3 113.2h0.8v0.8h-0.8zM454.1 102.6h0.8v0.8h-0.8zM456.0 101.6h0.8v0.8h-0.8zM452.9 122.9h0.8v0.8h-0.8zM456.8 83.8h0.8v0.8h-0.8zM456.9 88.8h0.8v0.8h-0.8zM454.2 102.5h0.8v0.8h-0.8zM458.0 87.0h0.8v0.8h-0.8zM453.5 91.2h0.8v0.8h-0.8zM453.6 104.1h0.8v0.8h-0.8zM457.2 119.3h0.8v0.8h-0.8zM459.5 108.2h0.8v0.8h-0.8zM460.1 108.2h0.8v0.8h-0.8zM452.8 107.7h0.8v0.8h-0.8zM447.9 98.7h0.8v0.8h-0.8zM451.8 109.3h0.8v0.8h-0.8zM456.2 104.2h0.8v0.8h-0.8zM450.2 106.4h0.8v0.8h-0.8zM461.3 102.4h0.8v0.8h-0.8zM455.7 106.4h0.8v0.8h-0.8zM452.8 114.9h0.8v0.8h-0.8zM457.7 92.3h0.8v0.8h-0.8zM463.0 96.8h0.8v0.8h-0.8zM448.7 110.0h0.8v0.8h-0.8zM452.7 86.9h0.8v0.8h-0.8zM452.7 95.8h0.8v0.8h-0.8zM453.8 121.2h0.8v0.8h-0.8zM449.0 104.5h0.8v0.8h-0.8zM456.8 93.6h0.8v0.8h-0.8zM452.3 101.0h0.8v0.8h-0.8zM456.3 102.9h0.8v0.8h-0.8zM460.4 95.0h0.8v0.8h-0.8zM455.6 90.8h0.8v0.8h-0.8zM457.6 106.5h0.8v0.8h-0.8zM455.5 91.3h0.8v0.8h-0.8zM459.2 98.8h0.8v0.8h-0.8zM457.0 102.1h0.8v0.8h-0.8zM455.3 96.4h0.8v0.8h-0.8zM459.5 101.9h0.8v0.8h-0.8zM451.8 109.1h0.8v0.8h-0.8zM454.1 100.5h0.8v0.8h-0.8zM457.7 108.7h0.8v0.8h-0.8zM455.5 110.9h0.8v0.8h-0.8zM452.6 103.5h0.8v0.8h-0.8zM453.8 107.1h0.8v0.8h-0.8zM460.6 110.4h0.8v0.8h-0.8zM454.8 109.7h0.8v0.8h-0.8zM454.6 92.8h0.8v0.8h-0.8zM448.9 99.9h0.8v0.8h-0.8zM457.5 99.0h0.8v0.8h-0.8zM456.6 93.4h0.8v0.8h-0.8zM462.7 107.7h0.8v0.8h-0.8zM458.7 114.8h0.8v0.8h-0.8zM455.2 94.7h0.8v0.8h-0.8zM455.0 90.4h0.8v0.8h-0.8zM462.8 96.1h0.8v0.8h-0.8zM449.2 88.6h0.8v0.8h-0.8zM463.4 98.0h0.8v0.8h-0.8zM451.7 93.1h0.8v0.8h-0.8zM450.5 84.5h0.8v0.8h-0.8zM453.1 109.6h0.8v0.8h-0.8zM449.1 103.5h0.8v0.8h-0.8z" fill="#6e8dd0" fill-opacity="0.42"/>
<text x="321.70" y="22.90" font-size="7" fill="#231f20" stroke="#231f20" stroke-width="0.18" text-anchor="start" textLength="21.30" lengthAdjust="spacingAndGlyphs">Mature</text>
<text x="390.90" y="33.80" font-size="7" fill="#231f20" stroke="#231f20" stroke-width="0.18" text-anchor="start" textLength="28.40" lengthAdjust="spacingAndGlyphs">Immature</text>
<text x="351.90" y="52.50" font-size="7" fill="#231f20" stroke="#231f20" stroke-width="0.18" text-anchor="start" textLength="38.10" lengthAdjust="spacingAndGlyphs">Intermediate</text>
<text x="297.50" y="80.20" font-size="7" fill="#231f20" stroke="#231f20" stroke-width="0.18" text-anchor="start" textLength="21.00" lengthAdjust="spacingAndGlyphs">Mature</text>
<text x="379.20" y="77.50" font-size="7" fill="#231f20" stroke="#231f20" stroke-width="0.18" text-anchor="start" textLength="28.40" lengthAdjust="spacingAndGlyphs">Immature</text>
<text x="449.80" y="79.00" font-size="7" fill="#231f20" stroke="#231f20" stroke-width="0.18" text-anchor="start" textLength="27.90" lengthAdjust="spacingAndGlyphs">Immature</text>
<text x="255.90" y="129.90" font-size="7" fill="#231f20" stroke="#231f20" stroke-width="0.18" text-anchor="start" textLength="38.50" lengthAdjust="spacingAndGlyphs">Intermediate</text>
<text x="339.40" y="126.40" font-size="7" fill="#231f20" stroke="#231f20" stroke-width="0.18" text-anchor="start" textLength="21.00" lengthAdjust="spacingAndGlyphs">Mature</text>
<text x="408.30" y="126.40" font-size="7" fill="#231f20" stroke="#231f20" stroke-width="0.18" text-anchor="start" textLength="38.50" lengthAdjust="spacingAndGlyphs">Intermediate</text>
<line x1="289.80" y1="64.40" x2="443.90" y2="64.40" stroke="#111" stroke-width="1.2"/>
<line x1="289.80" y1="63.80" x2="289.80" y2="68.50" stroke="#111" stroke-width="1.2"/>
<path d="M287.60,67.6 L292.00,67.6 L289.80,72.9 Z" fill="#111"/>
<line x1="443.90" y1="63.80" x2="443.90" y2="68.50" stroke="#111" stroke-width="1.2"/>
<path d="M441.70,67.6 L446.10,67.6 L443.90,72.9 Z" fill="#111"/>
<line x1="371.30" y1="59.40" x2="371.30" y2="68.50" stroke="#111" stroke-width="1.2"/>
<path d="M369.1,67.6 L373.5,67.6 L371.3,72.9 Z" fill="#111"/>
<line x1="290.20" y1="132.20" x2="290.20" y2="137.00" stroke="#111" stroke-width="1.2"/>
<path d="M288.00,136.2 L292.40,136.2 L290.20,141.4 Z" fill="#111"/>
<line x1="372.10" y1="132.20" x2="372.10" y2="137.00" stroke="#111" stroke-width="1.2"/>
<path d="M369.90,136.2 L374.30,136.2 L372.10,141.4 Z" fill="#111"/>
<line x1="443.60" y1="132.20" x2="443.60" y2="137.00" stroke="#111" stroke-width="1.2"/>
<path d="M441.40,136.2 L445.80,136.2 L443.60,141.4 Z" fill="#111"/>
<ellipse cx="283.00" cy="170.6" rx="19.5" ry="3.9" fill="#f6e3cf" stroke="#9a8f86" stroke-width="0.5"/>
<ellipse cx="267.40" cy="165.3" rx="1.1" ry="2.0" fill="#f2d23c" stroke="#8aa8d8" stroke-width="0.5"/>
<ellipse cx="275.30" cy="165.2" rx="3.0" ry="2.7" fill="#c6e0a8" stroke="#6aa0d8" stroke-width="0.5"/>
<ellipse cx="281.60" cy="165.3" rx="4.2" ry="1.5" fill="#d03c5c" stroke="#6a90d0" stroke-width="0.5"/>
<ellipse cx="296.50" cy="164.4" rx="3.6" ry="2.1" fill="#a9d2f2" stroke="#5a98d8" stroke-width="0.5"/>
<ellipse cx="272.40" cy="169.8" rx="4.2" ry="1.5" fill="#d03c5c" stroke="#6a90d0" stroke-width="0.5"/>
<ellipse cx="282.60" cy="169.2" rx="3.6" ry="2.0" fill="#a9d2f2" stroke="#5a98d8" stroke-width="0.5"/>
<ellipse cx="292.90" cy="167.6" rx="3.0" ry="2.7" fill="#c6e0a8" stroke="#6aa0d8" stroke-width="0.5"/>
<ellipse cx="287.70" cy="170.0" rx="1.1" ry="1.8" fill="#f2d23c" stroke="#8aa8d8" stroke-width="0.5"/>
<path d="M263.20,153.6 L263.20,170.6 A19.8,3.9 0 0 0 302.80,170.6 L302.80,153.6" fill="none" stroke="#4a4a4a" stroke-width="0.8"/>
<ellipse cx="283.00" cy="153.6" rx="19.8" ry="3.9" fill="none" stroke="#4a4a4a" stroke-width="0.8"/>
<path d="M312.00,154.4 L312.00,150.0 Q312.00,145.8 307.80,145.8 L294.20,145.8 Q290.00,145.8 290.00,150.0 L290.00,150.5" fill="none" stroke="#111" stroke-width="1.4"/>
<path d="M288.00,150.0 L292.00,150.0 L290.00,154.4 Z" fill="#111"/>
<path d="M314.70,155.00 L314.00,157.60 L311.40,157.20 M314.00,157.60 L315.90,159.90" fill="none" stroke="#5b9bd8" stroke-width="0.9" stroke-linecap="round"/>
<text x="306.90" y="168.70" font-size="7" fill="#231f20" stroke="#231f20" stroke-width="0.18" text-anchor="start" textLength="19.00" lengthAdjust="spacingAndGlyphs">BCMA</text>
<text x="316.40" y="176.90" font-size="7" fill="#231f20" stroke="#231f20" stroke-width="0.18" text-anchor="middle">x</text>
<text x="310.10" y="185.00" font-size="7" fill="#231f20" stroke="#231f20" stroke-width="0.18" text-anchor="start" textLength="12.70" lengthAdjust="spacingAndGlyphs">CD3</text>
<ellipse cx="362.00" cy="170.6" rx="19.5" ry="3.9" fill="#f6e3cf" stroke="#9a8f86" stroke-width="0.5"/>
<ellipse cx="346.40" cy="165.3" rx="1.1" ry="2.0" fill="#f2d23c" stroke="#8aa8d8" stroke-width="0.5"/>
<ellipse cx="354.30" cy="165.2" rx="3.0" ry="2.7" fill="#c6e0a8" stroke="#6aa0d8" stroke-width="0.5"/>
<ellipse cx="360.60" cy="165.3" rx="4.2" ry="1.5" fill="#d03c5c" stroke="#6a90d0" stroke-width="0.5"/>
<ellipse cx="375.50" cy="164.4" rx="3.6" ry="2.1" fill="#a9d2f2" stroke="#5a98d8" stroke-width="0.5"/>
<ellipse cx="351.40" cy="169.8" rx="4.2" ry="1.5" fill="#d03c5c" stroke="#6a90d0" stroke-width="0.5"/>
<ellipse cx="361.60" cy="169.2" rx="3.6" ry="2.0" fill="#a9d2f2" stroke="#5a98d8" stroke-width="0.5"/>
<ellipse cx="371.90" cy="167.6" rx="3.0" ry="2.7" fill="#c6e0a8" stroke="#6aa0d8" stroke-width="0.5"/>
<ellipse cx="366.70" cy="170.0" rx="1.1" ry="1.8" fill="#f2d23c" stroke="#8aa8d8" stroke-width="0.5"/>
<path d="M342.20,153.6 L342.20,170.6 A19.8,3.9 0 0 0 381.80,170.6 L381.80,153.6" fill="none" stroke="#4a4a4a" stroke-width="0.8"/>
<ellipse cx="362.00" cy="153.6" rx="19.8" ry="3.9" fill="none" stroke="#4a4a4a" stroke-width="0.8"/>
<path d="M390.80,154.4 L390.80,150.0 Q390.80,145.8 386.60,145.8 L375.80,145.8 Q371.60,145.8 371.60,150.0 L371.60,150.5" fill="none" stroke="#111" stroke-width="1.4"/>
<path d="M369.60,150.0 L373.60,150.0 L371.60,154.4 Z" fill="#111"/>
<path d="M393.50,155.00 L392.80,157.60 L390.20,157.20 M392.80,157.60 L394.70,159.90" fill="none" stroke="#5b9bd8" stroke-width="0.9" stroke-linecap="round"/>
<text x="385.90" y="168.70" font-size="7" fill="#231f20" stroke="#231f20" stroke-width="0.18" text-anchor="start" textLength="19.70" lengthAdjust="spacingAndGlyphs">BCMA</text>
<text x="395.70" y="176.90" font-size="7" fill="#231f20" stroke="#231f20" stroke-width="0.18" text-anchor="middle">x</text>
<text x="389.40" y="185.00" font-size="7" fill="#231f20" stroke="#231f20" stroke-width="0.18" text-anchor="start" textLength="12.70" lengthAdjust="spacingAndGlyphs">CD3</text>
<ellipse cx="436.10" cy="170.6" rx="19.5" ry="3.9" fill="#f6e3cf" stroke="#9a8f86" stroke-width="0.5"/>
<ellipse cx="420.50" cy="165.3" rx="1.1" ry="2.0" fill="#f2d23c" stroke="#8aa8d8" stroke-width="0.5"/>
<ellipse cx="428.40" cy="165.2" rx="3.0" ry="2.7" fill="#c6e0a8" stroke="#6aa0d8" stroke-width="0.5"/>
<ellipse cx="434.70" cy="165.3" rx="4.2" ry="1.5" fill="#d03c5c" stroke="#6a90d0" stroke-width="0.5"/>
<ellipse cx="449.60" cy="164.4" rx="3.6" ry="2.1" fill="#a9d2f2" stroke="#5a98d8" stroke-width="0.5"/>
<ellipse cx="425.50" cy="169.8" rx="4.2" ry="1.5" fill="#d03c5c" stroke="#6a90d0" stroke-width="0.5"/>
<ellipse cx="435.70" cy="169.2" rx="3.6" ry="2.0" fill="#a9d2f2" stroke="#5a98d8" stroke-width="0.5"/>
<ellipse cx="446.00" cy="167.6" rx="3.0" ry="2.7" fill="#c6e0a8" stroke="#6aa0d8" stroke-width="0.5"/>
<ellipse cx="440.80" cy="170.0" rx="1.1" ry="1.8" fill="#f2d23c" stroke="#8aa8d8" stroke-width="0.5"/>
<path d="M416.30,153.6 L416.30,170.6 A19.8,3.9 0 0 0 455.90,170.6 L455.90,153.6" fill="none" stroke="#4a4a4a" stroke-width="0.8"/>
<ellipse cx="436.10" cy="153.6" rx="19.8" ry="3.9" fill="none" stroke="#4a4a4a" stroke-width="0.8"/>
<path d="M465.00,154.4 L465.00,150.0 Q465.00,145.8 460.80,145.8 L447.80,145.8 Q443.60,145.8 443.60,150.0 L443.60,150.5" fill="none" stroke="#111" stroke-width="1.4"/>
<path d="M441.60,150.0 L445.60,150.0 L443.60,154.4 Z" fill="#111"/>
<path d="M467.70,155.00 L467.00,157.60 L464.40,157.20 M467.00,157.60 L468.90,159.90" fill="none" stroke="#5b9bd8" stroke-width="0.9" stroke-linecap="round"/>
<text x="459.40" y="168.70" font-size="7" fill="#231f20" stroke="#231f20" stroke-width="0.18" text-anchor="start" textLength="19.70" lengthAdjust="spacingAndGlyphs">BCMA</text>
<text x="469.30" y="176.90" font-size="7" fill="#231f20" stroke="#231f20" stroke-width="0.18" text-anchor="middle">x</text>
<text x="463.00" y="185.00" font-size="7" fill="#231f20" stroke="#231f20" stroke-width="0.18" text-anchor="start" textLength="12.70" lengthAdjust="spacingAndGlyphs">CD3</text>
<text x="271.40" y="183.40" font-size="7" fill="#231f20" stroke="#231f20" stroke-width="0.18" text-anchor="start" textLength="23.70" lengthAdjust="spacingAndGlyphs">BM w/o</text>
<text x="268.90" y="191.50" font-size="7" fill="#231f20" stroke="#231f20" stroke-width="0.18" text-anchor="start" textLength="28.30" lengthAdjust="spacingAndGlyphs">immature</text>
<text x="266.30" y="199.50" font-size="7" fill="#231f20" stroke="#231f20" stroke-width="0.18" text-anchor="start" textLength="33.40" lengthAdjust="spacingAndGlyphs">neutrophils</text>
<text x="350.30" y="183.40" font-size="7" fill="#231f20" stroke="#231f20" stroke-width="0.18" text-anchor="start" textLength="22.70" lengthAdjust="spacingAndGlyphs">BM w/o</text>
<text x="342.90" y="191.50" font-size="7" fill="#231f20" stroke="#231f20" stroke-width="0.18" text-anchor="start" textLength="38.30" lengthAdjust="spacingAndGlyphs">intermediate</text>
<text x="345.10" y="199.50" font-size="7" fill="#231f20" stroke="#231f20" stroke-width="0.18" text-anchor="start" textLength="33.90" lengthAdjust="spacingAndGlyphs">neutrophils</text>
<text x="424.10" y="183.40" font-size="7" fill="#231f20" stroke="#231f20" stroke-width="0.18" text-anchor="start" textLength="23.70" lengthAdjust="spacingAndGlyphs">BM w/o</text>
<text x="425.50" y="191.50" font-size="7" fill="#231f20" stroke="#231f20" stroke-width="0.18" text-anchor="start" textLength="20.60" lengthAdjust="spacingAndGlyphs">mature</text>
<text x="419.30" y="199.50" font-size="7" fill="#231f20" stroke="#231f20" stroke-width="0.18" text-anchor="start" textLength="33.20" lengthAdjust="spacingAndGlyphs">neutrophils</text>
<path d="M19.8,295.2 L84.8,295.2 L84.8,295.2 L90.0,293.8 L94.3,291.2 L97.5,289.0 L99.8,286.5 L101.5,282.5 L102.8,277.5 L103.8,271.0 L104.8,262.5 L105.8,253.5 L106.8,246.5 L108.0,242.7 L109.3,245.0 L110.3,249.5 L111.5,253.5 L113.0,258.0 L114.2,263.0 L115.2,269.0 L116.3,276.0 L117.6,281.5 L119.5,285.5 L122.0,288.2 L124.5,290.4 L127.0,293.3 L130.0,295.2 L138.2,295.2 Z" fill="#e9bcc8" stroke="none"/>
<path d="M19.8,295.2 L84.8,295.2 L84.8,295.2 L90.0,293.8 L94.3,291.2 L97.5,289.0 L99.8,286.5 L101.5,282.5 L102.8,277.5 L103.8,271.0 L104.8,262.5 L105.8,253.5 L106.8,246.5 L108.0,242.7 L109.3,245.0 L110.3,249.5 L111.5,253.5 L113.0,258.0 L114.2,263.0 L115.2,269.0 L116.3,276.0 L117.6,281.5 L119.5,285.5 L122.0,288.2 L124.5,290.4 L127.0,293.3 L130.0,295.2 L138.2,295.2" fill="none" stroke="#b5284c" stroke-width="1.1" stroke-linejoin="round"/>
<path d="M19.8,325.3 L45,325.3 L45.0,325.2 L48.5,324.2 L51.4,322.9 L54.5,323.2 L58.5,323.6 L61.0,322.0 L62.1,320.0 L63.4,314.0 L64.5,308.1 L66.5,305.0 L68.5,303.4 L70.3,296.0 L71.4,287.0 L72.4,278.0 L73.3,274.8 L74.2,278.0 L74.9,286.0 L76.2,294.0 L78.0,300.0 L79.5,293.0 L80.7,285.5 L81.9,282.4 L82.7,285.5 L83.4,293.0 L84.8,302.0 L86.0,309.3 L87.8,307.8 L89.5,307.0 L90.8,309.5 L91.9,311.7 L93.8,312.0 L95.5,312.9 L98.0,314.0 L100.3,315.3 L102.5,317.0 L105.0,318.9 L109.0,320.6 L113.4,322.0 L118.0,323.4 L122.9,324.4 L128.0,325.0 L134.8,325.3 L138.2,325.3 Z" fill="#d3e4f5" stroke="none"/>
<path d="M19.8,325.3 L45,325.3 L45.0,325.2 L48.5,324.2 L51.4,322.9 L54.5,323.2 L58.5,323.6 L61.0,322.0 L62.1,320.0 L63.4,314.0 L64.5,308.1 L66.5,305.0 L68.5,303.4 L70.3,296.0 L71.4,287.0 L72.4,278.0 L73.3,274.8 L74.2,278.0 L74.9,286.0 L76.2,294.0 L78.0,300.0 L79.5,293.0 L80.7,285.5 L81.9,282.4 L82.7,285.5 L83.4,293.0 L84.8,302.0 L86.0,309.3 L87.8,307.8 L89.5,307.0 L90.8,309.5 L91.9,311.7 L93.8,312.0 L95.5,312.9 L98.0,314.0 L100.3,315.3 L102.5,317.0 L105.0,318.9 L109.0,320.6 L113.4,322.0 L118.0,323.4 L122.9,324.4 L128.0,325.0 L134.8,325.3 L138.2,325.3" fill="none" stroke="#62a4e2" stroke-width="1.1" stroke-linejoin="round"/>
<path d="M19.8,355.3 L72.0,355.3 L72.0,355.3 L74.2,352.1 L77.5,350.9 L81.8,349.5 L86.2,348.4 L89.4,345.6 L92.7,344.7 L96.0,345.4 L99.2,340.8 L101.0,338.6 L102.5,340.2 L104.7,336.4 L105.8,330.5 L106.9,323.3 L108.0,316.5 L109.0,310.3 L110.1,306.0 L111.0,304.0 L112.0,306.0 L113.2,310.3 L114.4,316.5 L115.6,323.3 L117.1,334.2 L118.9,343.0 L120.5,346.2 L122.1,348.4 L125.4,352.1 L129.8,354.3 L133.0,355.3 L138.2,355.3 Z" fill="#f8dcbf" stroke="none"/>
<path d="M19.8,355.3 L72.0,355.3 L72.0,355.3 L74.2,352.1 L77.5,350.9 L81.8,349.5 L86.2,348.4 L89.4,345.6 L92.7,344.7 L96.0,345.4 L99.2,340.8 L101.0,338.6 L102.5,340.2 L104.7,336.4 L105.8,330.5 L106.9,323.3 L108.0,316.5 L109.0,310.3 L110.1,306.0 L111.0,304.0 L112.0,306.0 L113.2,310.3 L114.4,316.5 L115.6,323.3 L117.1,334.2 L118.9,343.0 L120.5,346.2 L122.1,348.4 L125.4,352.1 L129.8,354.3 L133.0,355.3 L138.2,355.3" fill="none" stroke="#e49a32" stroke-width="1.1" stroke-linejoin="round"/>
<path d="M19.8,383.8 L88.3,383.8 L88.3,383.6 L90.0,381.5 L91.9,379.6 L94.3,378.6 L96.7,377.7 L98.5,376.0 L100.3,374.8 L102.6,374.1 L104.2,371.5 L105.7,368.1 L107.2,362.0 L108.6,356.2 L109.8,351.0 L111.0,347.9 L112.0,352.0 L112.9,358.6 L114.1,366.0 L115.3,372.9 L117.2,376.0 L119.3,377.7 L121.7,379.0 L124.1,380.1 L126.0,381.8 L127.7,383.6 L138.2,383.8 Z" fill="#d4e9c6" stroke="none"/>
<path d="M19.8,383.8 L88.3,383.8 L88.3,383.6 L90.0,381.5 L91.9,379.6 L94.3,378.6 L96.7,377.7 L98.5,376.0 L100.3,374.8 L102.6,374.1 L104.2,371.5 L105.7,368.1 L107.2,362.0 L108.6,356.2 L109.8,351.0 L111.0,347.9 L112.0,352.0 L112.9,358.6 L114.1,366.0 L115.3,372.9 L117.2,376.0 L119.3,377.7 L121.7,379.0 L124.1,380.1 L126.0,381.8 L127.7,383.6 L138.2,383.8" fill="none" stroke="#62a844" stroke-width="1.1" stroke-linejoin="round"/>
<line x1="111.00" y1="234.20" x2="111.00" y2="383.80" stroke="#2a2a2a" stroke-width="1.2" stroke-dasharray="3.2 2.3"/>
<rect x="19.6" y="233.6" width="118.9" height="150.6" fill="none" stroke="#111" stroke-width="1.2"/>
<text x="23.20" y="244.40" font-size="6.8" fill="#231f20" stroke="#231f20" stroke-width="0.18" text-anchor="start" textLength="59.70" lengthAdjust="spacingAndGlyphs">Basal T proliferation</text>
<text x="23.20" y="304.60" font-size="6.8" fill="#231f20" stroke="#231f20" stroke-width="0.18" text-anchor="start" textLength="39.30" lengthAdjust="spacingAndGlyphs">T + immature</text>
<text x="23.20" y="312.90" font-size="6.8" fill="#231f20" stroke="#231f20" stroke-width="0.18" text-anchor="start" textLength="32.80" lengthAdjust="spacingAndGlyphs">neutrophils</text>
<text x="23.20" y="335.30" font-size="6.8" fill="#231f20" stroke="#231f20" stroke-width="0.18" text-anchor="start" textLength="50.30" lengthAdjust="spacingAndGlyphs">T + intermediate</text>
<text x="23.20" y="343.40" font-size="6.8" fill="#231f20" stroke="#231f20" stroke-width="0.18" text-anchor="start" textLength="32.80" lengthAdjust="spacingAndGlyphs">neutrophils</text>
<text x="23.20" y="364.60" font-size="6.8" fill="#231f20" stroke="#231f20" stroke-width="0.18" text-anchor="start" textLength="33.30" lengthAdjust="spacingAndGlyphs">T + mature</text>
<text x="23.20" y="372.90" font-size="6.8" fill="#231f20" stroke="#231f20" stroke-width="0.18" text-anchor="start" textLength="32.80" lengthAdjust="spacingAndGlyphs">neutrophils</text>
<path d="M24.4,384.2 v3.2 M45.6,384.2 v3.2 M66.9,384.2 v3.2 M99.0,384.2 v3.2 M127.4,384.2 v3.2 M50.73,384.2 v2.4 M40.49,384.2 v2.4 M54.61,384.2 v2.4 M36.63,384.2 v2.4 M57.45,384.2 v2.4 M33.81,384.2 v2.4 M59.61,384.2 v2.4 M31.66,384.2 v2.4 M61.35,384.2 v2.4 M29.93,384.2 v2.4 M62.79,384.2 v2.4 M28.49,384.2 v2.4 M64.02,384.2 v2.4 M27.27,384.2 v2.4 M65.09,384.2 v2.4 M26.20,384.2 v2.4 M66.05,384.2 v2.4 M25.25,384.2 v2.4 M76.56,384.2 v2.4 M107.58,384.2 v2.4 M82.22,384.2 v2.4 M112.60,384.2 v2.4 M86.23,384.2 v2.4 M116.16,384.2 v2.4 M89.34,384.2 v2.4 M118.92,384.2 v2.4 M91.88,384.2 v2.4 M121.18,384.2 v2.4 M94.03,384.2 v2.4 M123.09,384.2 v2.4 M95.89,384.2 v2.4 M124.74,384.2 v2.4 M97.53,384.2 v2.4 M126.20,384.2 v2.4 M42.80,384.2 v2.4 M44.00,384.2 v2.4 M47.20,384.2 v2.4 M48.60,384.2 v2.4 M131.50,384.2 v2.4 M134.50,384.2 v2.4" stroke="#111" stroke-width="0.8" fill="none"/>
<rect x="43.4" y="384.2" width="5.4" height="2.0" fill="#222"/>
<text x="19.20" y="396.9" font-size="6.8" fill="#231f20" stroke="#231f20">-10<tspan font-size="4.5" dy="-3.0" stroke="none" fill="#444">3</tspan></text>
<text x="45.90" y="396.90" font-size="6.8" fill="#231f20" stroke="#231f20" stroke-width="0.18" text-anchor="middle">0</text>
<text x="62.50" y="396.9" font-size="6.8" fill="#231f20" stroke="#231f20">10<tspan font-size="4.5" dy="-3.0" stroke="none" fill="#444">3</tspan></text>
<text x="94.30" y="396.9" font-size="6.8" fill="#231f20" stroke="#231f20">10<tspan font-size="4.5" dy="-3.0" stroke="none" fill="#444">4</tspan></text>
<text x="122.40" y="396.9" font-size="6.8" fill="#231f20" stroke="#231f20">10<tspan font-size="4.5" dy="-3.0" stroke="none" fill="#444">5</tspan></text>
<path d="M18.8,413.8 L139.7,401.4 L139.7,414.0 Z" fill="url(#wg)" stroke="#111" stroke-width="0.9" stroke-linejoin="round"/>
<line x1="22.00" y1="417.40" x2="139.70" y2="417.40" stroke="#222" stroke-width="1.0"/>
<path d="M18.6,417.4 L23.4,415.4 L23.4,419.4 Z" fill="#111"/>
<text x="28.75" y="425.50" font-size="7" fill="#231f20" stroke="#231f20" stroke-width="0.18" text-anchor="start" textLength="102.50" lengthAdjust="spacingAndGlyphs">Diffusion of VPD to daughter cells</text>
<path d="M149.2,310.4 L156.6,310.4 L156.6,307.1 L164.2,314.1 L156.6,320.9 L156.6,317.7 L149.2,317.7 Z" fill="#000"/>
<line x1="213.00" y1="307.20" x2="213.00" y2="313.00" stroke="#c03a52" stroke-width="1.0"/>
<line x1="210.50" y1="307.20" x2="215.50" y2="307.20" stroke="#c03a52" stroke-width="1.0"/>
<rect x="208.10" y="313.0" width="9.8" height="35.70" fill="#c9857d"/>
<line x1="228.00" y1="310.60" x2="228.00" y2="320.40" stroke="#c03a52" stroke-width="1.0"/>
<line x1="225.50" y1="310.60" x2="230.50" y2="310.60" stroke="#c03a52" stroke-width="1.0"/>
<rect x="223.10" y="320.4" width="9.8" height="28.30" fill="url(#pr)"/>
<line x1="252.40" y1="309.90" x2="252.40" y2="319.40" stroke="#6aa8e2" stroke-width="1.0"/>
<line x1="249.90" y1="309.90" x2="254.90" y2="309.90" stroke="#6aa8e2" stroke-width="1.0"/>
<rect x="247.50" y="319.4" width="9.8" height="29.30" fill="#b9d5f1"/>
<line x1="267.40" y1="281.80" x2="267.40" y2="310.60" stroke="#6aa8e2" stroke-width="1.0"/>
<line x1="264.90" y1="281.80" x2="269.90" y2="281.80" stroke="#6aa8e2" stroke-width="1.0"/>
<rect x="262.50" y="310.6" width="9.8" height="38.10" fill="url(#pb)"/>
<line x1="291.90" y1="306.40" x2="291.90" y2="321.90" stroke="#e8b060" stroke-width="1.0"/>
<line x1="289.40" y1="306.40" x2="294.40" y2="306.40" stroke="#e8b060" stroke-width="1.0"/>
<rect x="287.00" y="321.9" width="9.8" height="26.80" fill="#f1c88f"/>
<line x1="306.90" y1="298.60" x2="306.90" y2="328.90" stroke="#e8a040" stroke-width="1.0"/>
<line x1="304.40" y1="298.60" x2="309.40" y2="298.60" stroke="#e8a040" stroke-width="1.0"/>
<rect x="302.00" y="328.9" width="9.8" height="19.80" fill="url(#po)"/>
<line x1="331.30" y1="320.50" x2="331.30" y2="328.90" stroke="#80b860" stroke-width="1.0"/>
<line x1="328.80" y1="320.50" x2="333.80" y2="320.50" stroke="#80b860" stroke-width="1.0"/>
<rect x="326.40" y="328.9" width="9.8" height="19.80" fill="#b5d59b"/>
<line x1="346.30" y1="358.20" x2="346.30" y2="373.60" stroke="#80b860" stroke-width="1.0"/>
<line x1="343.70" y1="373.60" x2="348.90" y2="373.60" stroke="#80b860" stroke-width="1.0"/>
<rect x="341.40" y="348.7" width="9.8" height="9.5" fill="url(#pg)"/>
<line x1="200.70" y1="238.30" x2="200.70" y2="384.90" stroke="#111" stroke-width="1.3"/>
<line x1="200.00" y1="384.30" x2="359.00" y2="384.30" stroke="#111" stroke-width="1.3"/>
<line x1="200.70" y1="348.70" x2="359.20" y2="348.70" stroke="#2a2a2a" stroke-width="1.3"/>
<line x1="198.00" y1="240.70" x2="200.70" y2="240.70" stroke="#111" stroke-width="0.9"/>
<line x1="198.00" y1="294.80" x2="200.70" y2="294.80" stroke="#111" stroke-width="0.9"/>
<line x1="198.00" y1="348.70" x2="200.70" y2="348.70" stroke="#111" stroke-width="0.9"/>
<line x1="220.50" y1="384.30" x2="220.50" y2="387.00" stroke="#111" stroke-width="0.9"/>
<line x1="259.90" y1="384.30" x2="259.90" y2="387.00" stroke="#111" stroke-width="0.9"/>
<line x1="299.40" y1="384.30" x2="299.40" y2="387.00" stroke="#111" stroke-width="0.9"/>
<line x1="338.80" y1="384.30" x2="338.80" y2="387.00" stroke="#111" stroke-width="0.9"/>
<text x="194.60" y="243.00" font-size="6.5" fill="#333" stroke="#333" stroke-width="0.18" text-anchor="end">60</text>
<text x="193.90" y="297.10" font-size="6.5" fill="#333" stroke="#333" stroke-width="0.18" text-anchor="end">30</text>
<text x="194.30" y="351.00" font-size="6.5" fill="#333" stroke="#333" stroke-width="0.18" text-anchor="end">0</text>
<rect x="205.9" y="240.6" width="10.9" height="8.3" rx="1.0" fill="#fff" stroke="#111" stroke-width="1.1"/>
<rect x="205.9" y="253.0" width="10.9" height="8.3" rx="1.0" fill="url(#pk)" stroke="#111" stroke-width="1.1"/>
<text x="220.00" y="247.00" font-size="5.6" fill="#333" stroke="#333" stroke-width="0.18" text-anchor="start" textLength="8.00" lengthAdjust="spacingAndGlyphs">HA</text>
<text x="220.00" y="259.50" font-size="5.6" fill="#333" stroke="#333" stroke-width="0.18" text-anchor="start" textLength="9.90" lengthAdjust="spacingAndGlyphs">MM</text>
<line x1="227.20" y1="278.70" x2="350.20" y2="278.70" stroke="#222" stroke-width="1.0"/>
<text x="288.30" y="269.00" font-size="5.6" fill="#333" stroke="#333" stroke-width="0.18" text-anchor="middle">*</text>
<text x="278.8" y="275.7" font-size="5.6" fill="#333" stroke="#333" textLength="19.4" lengthAdjust="spacingAndGlyphs"><tspan font-style="italic">P</tspan> =.016</text>
<text transform="translate(179.5,343.2) rotate(-90)" font-size="7" fill="#231f20" stroke="#231f20" textLength="63.9" lengthAdjust="spacingAndGlyphs">% T cell proliferation</text>
<text transform="translate(224.00,394.00) rotate(-45)" font-size="7.1" fill="#231f20" stroke="#231f20" text-anchor="end">T</text>
<text transform="translate(263.40,394.00) rotate(-45)" font-size="7.1" fill="#231f20" stroke="#231f20" text-anchor="end">T+immature</text>
<text transform="translate(302.90,394.00) rotate(-45)" font-size="7.1" fill="#231f20" stroke="#231f20" text-anchor="end">T+intermediate</text>
<text transform="translate(342.30,394.00) rotate(-45)" font-size="7.1" fill="#231f20" stroke="#231f20" text-anchor="end">T+mature</text>
<line x1="414.20" y1="238.30" x2="414.20" y2="358.70" stroke="#111" stroke-width="1.3"/>
<line x1="413.60" y1="358.10" x2="512.60" y2="358.10" stroke="#111" stroke-width="1.3"/>
<line x1="411.50" y1="358.10" x2="414.20" y2="358.10" stroke="#111" stroke-width="0.9"/>
<text x="408.20" y="360.50" font-size="6.8" fill="#333" stroke="#333" stroke-width="0.18" text-anchor="end">0</text>
<line x1="411.50" y1="328.92" x2="414.20" y2="328.92" stroke="#111" stroke-width="0.9"/>
<text x="408.20" y="331.32" font-size="6.8" fill="#333" stroke="#333" stroke-width="0.18" text-anchor="end">20</text>
<line x1="411.50" y1="299.74" x2="414.20" y2="299.74" stroke="#111" stroke-width="0.9"/>
<text x="408.20" y="302.14" font-size="6.8" fill="#333" stroke="#333" stroke-width="0.18" text-anchor="end">40</text>
<line x1="411.50" y1="270.56" x2="414.20" y2="270.56" stroke="#111" stroke-width="0.9"/>
<text x="408.20" y="272.96" font-size="6.8" fill="#333" stroke="#333" stroke-width="0.18" text-anchor="end">60</text>
<line x1="411.50" y1="241.38" x2="414.20" y2="241.38" stroke="#111" stroke-width="0.9"/>
<text x="408.20" y="243.78" font-size="6.8" fill="#333" stroke="#333" stroke-width="0.18" text-anchor="end">80</text>
<line x1="426.50" y1="358.10" x2="426.50" y2="361.00" stroke="#111" stroke-width="0.9"/>
<line x1="445.00" y1="358.10" x2="445.00" y2="361.00" stroke="#111" stroke-width="0.9"/>
<line x1="463.50" y1="358.10" x2="463.50" y2="361.00" stroke="#111" stroke-width="0.9"/>
<line x1="481.60" y1="358.10" x2="481.60" y2="361.00" stroke="#111" stroke-width="0.9"/>
<line x1="499.90" y1="358.10" x2="499.90" y2="361.00" stroke="#111" stroke-width="0.9"/>
<rect x="420.80" y="345.4" width="12" height="12.70" fill="#c4bde3"/>
<line x1="426.80" y1="336.60" x2="426.80" y2="345.40" stroke="#222" stroke-width="1.1"/>
<line x1="424.00" y1="336.60" x2="429.60" y2="336.60" stroke="#222" stroke-width="1.1"/>
<rect x="438.80" y="314.9" width="12" height="43.20" fill="#b9d3f2"/>
<line x1="444.80" y1="305.50" x2="444.80" y2="314.90" stroke="#222" stroke-width="1.1"/>
<line x1="442.00" y1="305.50" x2="447.60" y2="305.50" stroke="#222" stroke-width="1.1"/>
<rect x="457.20" y="310.8" width="12" height="47.30" fill="#5ea3de"/>
<line x1="463.20" y1="302.00" x2="463.20" y2="310.80" stroke="#222" stroke-width="1.1"/>
<line x1="460.40" y1="302.00" x2="466.00" y2="302.00" stroke="#222" stroke-width="1.1"/>
<rect x="475.70" y="302.1" width="12" height="56.00" fill="#9b84ab"/>
<line x1="481.70" y1="289.30" x2="481.70" y2="302.10" stroke="#222" stroke-width="1.1"/>
<line x1="478.90" y1="289.30" x2="484.50" y2="289.30" stroke="#222" stroke-width="1.1"/>
<rect x="494.00" y="281.9" width="12" height="76.20" fill="#8a7dbd"/>
<line x1="500.00" y1="268.90" x2="500.00" y2="281.90" stroke="#222" stroke-width="1.1"/>
<line x1="497.20" y1="268.90" x2="502.80" y2="268.90" stroke="#222" stroke-width="1.1"/>
<line x1="426.40" y1="254.20" x2="500.00" y2="254.20" stroke="#333" stroke-width="1.1"/>
<line x1="426.40" y1="270.40" x2="481.60" y2="270.40" stroke="#333" stroke-width="1.1"/>
<line x1="426.40" y1="286.50" x2="463.20" y2="286.50" stroke="#333" stroke-width="1.1"/>
<line x1="426.40" y1="302.50" x2="444.80" y2="302.50" stroke="#333" stroke-width="1.1"/>
<text x="452.10" y="251.30" font-size="5.6" fill="#333" stroke="#333" textLength="22.60" lengthAdjust="spacingAndGlyphs"><tspan font-style="italic">P</tspan> =.0007</text>
<text x="444.20" y="267.20" font-size="5.6" fill="#333" stroke="#333" textLength="19.80" lengthAdjust="spacingAndGlyphs"><tspan font-style="italic">P</tspan> =.009</text>
<text x="436.90" y="283.00" font-size="5.6" fill="#333" stroke="#333" textLength="16.10" lengthAdjust="spacingAndGlyphs"><tspan font-style="italic">P</tspan> =.01</text>
<text x="428.30" y="299.50" font-size="5.6" fill="#333" stroke="#333" textLength="15.60" lengthAdjust="spacingAndGlyphs"><tspan font-style="italic">P</tspan> =.03</text>
<text x="463.50" y="244.90" font-size="5.6" fill="#333" stroke="#333" stroke-width="0.18" text-anchor="middle">***</text>
<text x="454.00" y="260.40" font-size="5.6" fill="#333" stroke="#333" stroke-width="0.18" text-anchor="middle">**</text>
<text x="444.80" y="276.70" font-size="5.6" fill="#333" stroke="#333" stroke-width="0.18" text-anchor="middle">*</text>
<text x="436.00" y="292.60" font-size="5.6" fill="#333" stroke="#333" stroke-width="0.18" text-anchor="middle">*</text>
<text transform="translate(394.6,336.1) rotate(-90)" font-size="7" fill="#231f20" stroke="#231f20" textLength="75.8" lengthAdjust="spacingAndGlyphs">% annexin-V+ MM cells</text>
<text transform="translate(429.70,367.30) rotate(-45)" font-size="7.0" fill="#231f20" stroke="#231f20" text-anchor="end">Total BM</text>
<text transform="translate(448.20,367.30) rotate(-45)" font-size="7.0" fill="#231f20" stroke="#231f20" text-anchor="end">Total BM</text>
<text transform="translate(466.70,367.30) rotate(-45)" font-size="7.0" fill="#231f20" stroke="#231f20" text-anchor="end">BM w/o immature</text>
<text transform="translate(484.80,367.30) rotate(-45)" font-size="7.0" fill="#231f20" stroke="#231f20" text-anchor="end">BM w/o intermediate</text>
<text transform="translate(503.10,367.30) rotate(-45)" font-size="7.0" fill="#231f20" stroke="#231f20" text-anchor="end">BM w/o mature</text>
<line x1="420.30" y1="416.90" x2="434.20" y2="416.90" stroke="#1a1a1a" stroke-width="1.1"/>
<line x1="439.70" y1="416.90" x2="508.00" y2="416.90" stroke="#1a1a1a" stroke-width="1.1"/>
<text x="415.70" y="426.10" font-size="7" fill="#231f20" stroke="#231f20" stroke-width="0.18" text-anchor="start" textLength="22.40" lengthAdjust="spacingAndGlyphs">Control</text>
<text x="454.20" y="426.10" font-size="7" fill="#231f20" stroke="#231f20" stroke-width="0.18" text-anchor="start" textLength="40.40" lengthAdjust="spacingAndGlyphs">+BCMAxCD3</text></svg></body></html>
